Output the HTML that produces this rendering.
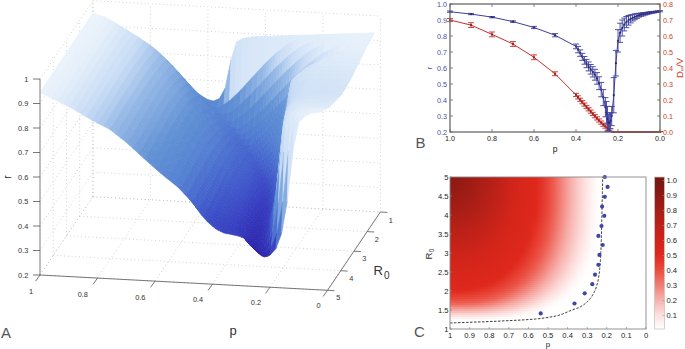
<!DOCTYPE html>
<html><head><meta charset="utf-8"><style>
html,body{margin:0;padding:0;background:#fff;}
svg{display:block;}
#surf path{fill:currentColor;stroke:currentColor;stroke-width:.7px;stroke-linejoin:round}
text{font-family:"Liberation Sans",sans-serif;}
.tk{font-size:7.4px;fill:#333;}
.tb{font-size:7.2px;}
.tc{font-size:7.6px;fill:#222;}
.lab{font-size:15px;fill:#555;}
</style></head><body>
<svg width="685" height="349" viewBox="0 0 685 349">
<defs><linearGradient id="h0" x1="0" x2="1" y1="0" y2="0"><stop offset="0" stop-color="#8a1912"/><stop offset="0.0312" stop-color="#8f1a13"/><stop offset="0.0625" stop-color="#951b14"/><stop offset="0.0938" stop-color="#9b1c15"/><stop offset="0.125" stop-color="#a11d15"/><stop offset="0.156" stop-color="#a91e16"/><stop offset="0.188" stop-color="#b01f17"/><stop offset="0.219" stop-color="#b72018"/><stop offset="0.25" stop-color="#be2118"/><stop offset="0.281" stop-color="#c62319"/><stop offset="0.312" stop-color="#cf241a"/><stop offset="0.344" stop-color="#d5251b"/><stop offset="0.375" stop-color="#d8261b"/><stop offset="0.406" stop-color="#dc271b"/><stop offset="0.438" stop-color="#df281c"/><stop offset="0.469" stop-color="#e33327"/><stop offset="0.5" stop-color="#e84639"/><stop offset="0.531" stop-color="#ed5e52"/><stop offset="0.562" stop-color="#f17c72"/><stop offset="0.594" stop-color="#f59b93"/><stop offset="0.625" stop-color="#f8b6b2"/><stop offset="0.656" stop-color="#faccc9"/><stop offset="0.688" stop-color="#fce1df"/><stop offset="0.719" stop-color="#fef0f0"/><stop offset="0.75" stop-color="#fffcfc"/><stop offset="0.781" stop-color="#ffffff"/><stop offset="0.812" stop-color="#ffffff"/><stop offset="0.844" stop-color="#ffffff"/><stop offset="0.875" stop-color="#ffffff"/><stop offset="0.906" stop-color="#ffffff"/><stop offset="0.938" stop-color="#ffffff"/><stop offset="0.969" stop-color="#ffffff"/><stop offset="1" stop-color="#ffffff"/></linearGradient>
<linearGradient id="h1" x1="0" x2="1" y1="0" y2="0"><stop offset="0" stop-color="#8c1a13"/><stop offset="0.0312" stop-color="#901a13"/><stop offset="0.0625" stop-color="#951b14"/><stop offset="0.0938" stop-color="#9b1c15"/><stop offset="0.125" stop-color="#a11d15"/><stop offset="0.156" stop-color="#a91e16"/><stop offset="0.188" stop-color="#b01f17"/><stop offset="0.219" stop-color="#b72018"/><stop offset="0.25" stop-color="#be2118"/><stop offset="0.281" stop-color="#c62319"/><stop offset="0.312" stop-color="#cf241a"/><stop offset="0.344" stop-color="#d5251b"/><stop offset="0.375" stop-color="#d8261b"/><stop offset="0.406" stop-color="#dc271b"/><stop offset="0.438" stop-color="#df281c"/><stop offset="0.469" stop-color="#e33327"/><stop offset="0.5" stop-color="#e94639"/><stop offset="0.531" stop-color="#ed5e52"/><stop offset="0.562" stop-color="#f17c72"/><stop offset="0.594" stop-color="#f59b93"/><stop offset="0.625" stop-color="#f8b6b2"/><stop offset="0.656" stop-color="#faccc9"/><stop offset="0.688" stop-color="#fce1df"/><stop offset="0.719" stop-color="#fef0f0"/><stop offset="0.75" stop-color="#fffcfc"/><stop offset="0.781" stop-color="#ffffff"/><stop offset="0.812" stop-color="#ffffff"/><stop offset="0.844" stop-color="#ffffff"/><stop offset="0.875" stop-color="#ffffff"/><stop offset="0.906" stop-color="#ffffff"/><stop offset="0.938" stop-color="#ffffff"/><stop offset="0.969" stop-color="#ffffff"/><stop offset="1" stop-color="#ffffff"/></linearGradient>
<linearGradient id="h2" x1="0" x2="1" y1="0" y2="0"><stop offset="0" stop-color="#8d1a13"/><stop offset="0.0312" stop-color="#901a13"/><stop offset="0.0625" stop-color="#961b14"/><stop offset="0.0938" stop-color="#9c1c15"/><stop offset="0.125" stop-color="#a21d15"/><stop offset="0.156" stop-color="#a91e16"/><stop offset="0.188" stop-color="#b01f17"/><stop offset="0.219" stop-color="#b72018"/><stop offset="0.25" stop-color="#be2118"/><stop offset="0.281" stop-color="#c72319"/><stop offset="0.312" stop-color="#cf241a"/><stop offset="0.344" stop-color="#d5251b"/><stop offset="0.375" stop-color="#d8261b"/><stop offset="0.406" stop-color="#dc271b"/><stop offset="0.438" stop-color="#df281c"/><stop offset="0.469" stop-color="#e33327"/><stop offset="0.5" stop-color="#e94639"/><stop offset="0.531" stop-color="#ed5e52"/><stop offset="0.562" stop-color="#f17c72"/><stop offset="0.594" stop-color="#f59b93"/><stop offset="0.625" stop-color="#f8b6b2"/><stop offset="0.656" stop-color="#faccc9"/><stop offset="0.688" stop-color="#fce1df"/><stop offset="0.719" stop-color="#fef0f0"/><stop offset="0.75" stop-color="#fffcfc"/><stop offset="0.781" stop-color="#ffffff"/><stop offset="0.812" stop-color="#ffffff"/><stop offset="0.844" stop-color="#ffffff"/><stop offset="0.875" stop-color="#ffffff"/><stop offset="0.906" stop-color="#ffffff"/><stop offset="0.938" stop-color="#ffffff"/><stop offset="0.969" stop-color="#ffffff"/><stop offset="1" stop-color="#ffffff"/></linearGradient>
<linearGradient id="h3" x1="0" x2="1" y1="0" y2="0"><stop offset="0" stop-color="#8f1a13"/><stop offset="0.0312" stop-color="#911b13"/><stop offset="0.0625" stop-color="#961b14"/><stop offset="0.0938" stop-color="#9c1c15"/><stop offset="0.125" stop-color="#a21d16"/><stop offset="0.156" stop-color="#a91e16"/><stop offset="0.188" stop-color="#b01f17"/><stop offset="0.219" stop-color="#b72018"/><stop offset="0.25" stop-color="#bf2118"/><stop offset="0.281" stop-color="#c72319"/><stop offset="0.312" stop-color="#cf241a"/><stop offset="0.344" stop-color="#d5251b"/><stop offset="0.375" stop-color="#d8261b"/><stop offset="0.406" stop-color="#dc271b"/><stop offset="0.438" stop-color="#df281c"/><stop offset="0.469" stop-color="#e33327"/><stop offset="0.5" stop-color="#e94639"/><stop offset="0.531" stop-color="#ed5e52"/><stop offset="0.562" stop-color="#f17c72"/><stop offset="0.594" stop-color="#f59b93"/><stop offset="0.625" stop-color="#f8b6b2"/><stop offset="0.656" stop-color="#faccc9"/><stop offset="0.688" stop-color="#fce1df"/><stop offset="0.719" stop-color="#fef0f0"/><stop offset="0.75" stop-color="#fffcfc"/><stop offset="0.781" stop-color="#ffffff"/><stop offset="0.812" stop-color="#ffffff"/><stop offset="0.844" stop-color="#ffffff"/><stop offset="0.875" stop-color="#ffffff"/><stop offset="0.906" stop-color="#ffffff"/><stop offset="0.938" stop-color="#ffffff"/><stop offset="0.969" stop-color="#ffffff"/><stop offset="1" stop-color="#ffffff"/></linearGradient>
<linearGradient id="h4" x1="0" x2="1" y1="0" y2="0"><stop offset="0" stop-color="#911a13"/><stop offset="0.0312" stop-color="#931b14"/><stop offset="0.0625" stop-color="#971c14"/><stop offset="0.0938" stop-color="#9d1c15"/><stop offset="0.125" stop-color="#a31d16"/><stop offset="0.156" stop-color="#aa1f16"/><stop offset="0.188" stop-color="#b11f17"/><stop offset="0.219" stop-color="#b82018"/><stop offset="0.25" stop-color="#bf2118"/><stop offset="0.281" stop-color="#c72319"/><stop offset="0.312" stop-color="#cf241a"/><stop offset="0.344" stop-color="#d5251b"/><stop offset="0.375" stop-color="#d8261b"/><stop offset="0.406" stop-color="#dc271b"/><stop offset="0.438" stop-color="#df281c"/><stop offset="0.469" stop-color="#e33327"/><stop offset="0.5" stop-color="#e94639"/><stop offset="0.531" stop-color="#ed5e52"/><stop offset="0.562" stop-color="#f17c72"/><stop offset="0.594" stop-color="#f59b94"/><stop offset="0.625" stop-color="#f8b6b2"/><stop offset="0.656" stop-color="#faccc9"/><stop offset="0.688" stop-color="#fce1df"/><stop offset="0.719" stop-color="#fef0f0"/><stop offset="0.75" stop-color="#fffcfc"/><stop offset="0.781" stop-color="#ffffff"/><stop offset="0.812" stop-color="#ffffff"/><stop offset="0.844" stop-color="#ffffff"/><stop offset="0.875" stop-color="#ffffff"/><stop offset="0.906" stop-color="#ffffff"/><stop offset="0.938" stop-color="#ffffff"/><stop offset="0.969" stop-color="#ffffff"/><stop offset="1" stop-color="#ffffff"/></linearGradient>
<linearGradient id="h5" x1="0" x2="1" y1="0" y2="0"><stop offset="0" stop-color="#921b14"/><stop offset="0.0312" stop-color="#941b14"/><stop offset="0.0625" stop-color="#981c14"/><stop offset="0.0938" stop-color="#9d1d15"/><stop offset="0.125" stop-color="#a31e16"/><stop offset="0.156" stop-color="#aa1f16"/><stop offset="0.188" stop-color="#b12017"/><stop offset="0.219" stop-color="#b82018"/><stop offset="0.25" stop-color="#bf2118"/><stop offset="0.281" stop-color="#c72319"/><stop offset="0.312" stop-color="#cf241a"/><stop offset="0.344" stop-color="#d5251b"/><stop offset="0.375" stop-color="#d8261b"/><stop offset="0.406" stop-color="#dc271b"/><stop offset="0.438" stop-color="#df281c"/><stop offset="0.469" stop-color="#e33327"/><stop offset="0.5" stop-color="#e94639"/><stop offset="0.531" stop-color="#ed5e52"/><stop offset="0.562" stop-color="#f17c72"/><stop offset="0.594" stop-color="#f59b94"/><stop offset="0.625" stop-color="#f8b6b2"/><stop offset="0.656" stop-color="#faccc9"/><stop offset="0.688" stop-color="#fce1df"/><stop offset="0.719" stop-color="#fef1f0"/><stop offset="0.75" stop-color="#fffcfc"/><stop offset="0.781" stop-color="#ffffff"/><stop offset="0.812" stop-color="#ffffff"/><stop offset="0.844" stop-color="#ffffff"/><stop offset="0.875" stop-color="#ffffff"/><stop offset="0.906" stop-color="#ffffff"/><stop offset="0.938" stop-color="#ffffff"/><stop offset="0.969" stop-color="#ffffff"/><stop offset="1" stop-color="#ffffff"/></linearGradient>
<linearGradient id="h6" x1="0" x2="1" y1="0" y2="0"><stop offset="0" stop-color="#941b14"/><stop offset="0.0312" stop-color="#951b14"/><stop offset="0.0625" stop-color="#991c14"/><stop offset="0.0938" stop-color="#9e1d15"/><stop offset="0.125" stop-color="#a41e16"/><stop offset="0.156" stop-color="#ab1f16"/><stop offset="0.188" stop-color="#b22017"/><stop offset="0.219" stop-color="#b82118"/><stop offset="0.25" stop-color="#c02218"/><stop offset="0.281" stop-color="#c72319"/><stop offset="0.312" stop-color="#cf241a"/><stop offset="0.344" stop-color="#d5251b"/><stop offset="0.375" stop-color="#d9261b"/><stop offset="0.406" stop-color="#dc271b"/><stop offset="0.438" stop-color="#df281c"/><stop offset="0.469" stop-color="#e33427"/><stop offset="0.5" stop-color="#e94639"/><stop offset="0.531" stop-color="#ed5e53"/><stop offset="0.562" stop-color="#f17c72"/><stop offset="0.594" stop-color="#f59b94"/><stop offset="0.625" stop-color="#f8b6b2"/><stop offset="0.656" stop-color="#faccc9"/><stop offset="0.688" stop-color="#fce1df"/><stop offset="0.719" stop-color="#fef1f0"/><stop offset="0.75" stop-color="#fffcfc"/><stop offset="0.781" stop-color="#ffffff"/><stop offset="0.812" stop-color="#ffffff"/><stop offset="0.844" stop-color="#ffffff"/><stop offset="0.875" stop-color="#ffffff"/><stop offset="0.906" stop-color="#ffffff"/><stop offset="0.938" stop-color="#ffffff"/><stop offset="0.969" stop-color="#ffffff"/><stop offset="1" stop-color="#ffffff"/></linearGradient>
<linearGradient id="h7" x1="0" x2="1" y1="0" y2="0"><stop offset="0" stop-color="#951b14"/><stop offset="0.0312" stop-color="#971b14"/><stop offset="0.0625" stop-color="#9a1c15"/><stop offset="0.0938" stop-color="#9f1d15"/><stop offset="0.125" stop-color="#a51e16"/><stop offset="0.156" stop-color="#ac1f17"/><stop offset="0.188" stop-color="#b22017"/><stop offset="0.219" stop-color="#b92118"/><stop offset="0.25" stop-color="#c02218"/><stop offset="0.281" stop-color="#c82319"/><stop offset="0.312" stop-color="#d0241a"/><stop offset="0.344" stop-color="#d5251b"/><stop offset="0.375" stop-color="#d9261b"/><stop offset="0.406" stop-color="#dc271b"/><stop offset="0.438" stop-color="#df281c"/><stop offset="0.469" stop-color="#e33428"/><stop offset="0.5" stop-color="#e94639"/><stop offset="0.531" stop-color="#ed5f53"/><stop offset="0.562" stop-color="#f17c72"/><stop offset="0.594" stop-color="#f59b94"/><stop offset="0.625" stop-color="#f8b6b2"/><stop offset="0.656" stop-color="#faccc9"/><stop offset="0.688" stop-color="#fce1df"/><stop offset="0.719" stop-color="#fef1f0"/><stop offset="0.75" stop-color="#fffcfc"/><stop offset="0.781" stop-color="#ffffff"/><stop offset="0.812" stop-color="#ffffff"/><stop offset="0.844" stop-color="#ffffff"/><stop offset="0.875" stop-color="#ffffff"/><stop offset="0.906" stop-color="#ffffff"/><stop offset="0.938" stop-color="#ffffff"/><stop offset="0.969" stop-color="#ffffff"/><stop offset="1" stop-color="#ffffff"/></linearGradient>
<linearGradient id="h8" x1="0" x2="1" y1="0" y2="0"><stop offset="0" stop-color="#971c14"/><stop offset="0.0312" stop-color="#981c14"/><stop offset="0.0625" stop-color="#9c1c15"/><stop offset="0.0938" stop-color="#a01d15"/><stop offset="0.125" stop-color="#a61e16"/><stop offset="0.156" stop-color="#ac1f17"/><stop offset="0.188" stop-color="#b32017"/><stop offset="0.219" stop-color="#b92118"/><stop offset="0.25" stop-color="#c12218"/><stop offset="0.281" stop-color="#c82319"/><stop offset="0.312" stop-color="#d0241a"/><stop offset="0.344" stop-color="#d6251b"/><stop offset="0.375" stop-color="#d9261b"/><stop offset="0.406" stop-color="#dc271b"/><stop offset="0.438" stop-color="#df281c"/><stop offset="0.469" stop-color="#e33428"/><stop offset="0.5" stop-color="#e9463a"/><stop offset="0.531" stop-color="#ed5f53"/><stop offset="0.562" stop-color="#f17d72"/><stop offset="0.594" stop-color="#f59b94"/><stop offset="0.625" stop-color="#f8b7b2"/><stop offset="0.656" stop-color="#facdc9"/><stop offset="0.688" stop-color="#fce1df"/><stop offset="0.719" stop-color="#fef1f0"/><stop offset="0.75" stop-color="#fffcfc"/><stop offset="0.781" stop-color="#ffffff"/><stop offset="0.812" stop-color="#ffffff"/><stop offset="0.844" stop-color="#ffffff"/><stop offset="0.875" stop-color="#ffffff"/><stop offset="0.906" stop-color="#ffffff"/><stop offset="0.938" stop-color="#ffffff"/><stop offset="0.969" stop-color="#ffffff"/><stop offset="1" stop-color="#ffffff"/></linearGradient>
<linearGradient id="h9" x1="0" x2="1" y1="0" y2="0"><stop offset="0" stop-color="#991c14"/><stop offset="0.0312" stop-color="#9a1c14"/><stop offset="0.0625" stop-color="#9d1c15"/><stop offset="0.0938" stop-color="#a11d15"/><stop offset="0.125" stop-color="#a71e16"/><stop offset="0.156" stop-color="#ad1f17"/><stop offset="0.188" stop-color="#b42017"/><stop offset="0.219" stop-color="#ba2118"/><stop offset="0.25" stop-color="#c12219"/><stop offset="0.281" stop-color="#c92319"/><stop offset="0.312" stop-color="#d0241a"/><stop offset="0.344" stop-color="#d6251b"/><stop offset="0.375" stop-color="#d9261b"/><stop offset="0.406" stop-color="#dc271b"/><stop offset="0.438" stop-color="#df281c"/><stop offset="0.469" stop-color="#e43428"/><stop offset="0.5" stop-color="#e9473a"/><stop offset="0.531" stop-color="#ed5f53"/><stop offset="0.562" stop-color="#f17d73"/><stop offset="0.594" stop-color="#f59b94"/><stop offset="0.625" stop-color="#f8b7b2"/><stop offset="0.656" stop-color="#facdca"/><stop offset="0.688" stop-color="#fce1df"/><stop offset="0.719" stop-color="#fef1f0"/><stop offset="0.75" stop-color="#fffcfc"/><stop offset="0.781" stop-color="#ffffff"/><stop offset="0.812" stop-color="#ffffff"/><stop offset="0.844" stop-color="#ffffff"/><stop offset="0.875" stop-color="#ffffff"/><stop offset="0.906" stop-color="#ffffff"/><stop offset="0.938" stop-color="#ffffff"/><stop offset="0.969" stop-color="#ffffff"/><stop offset="1" stop-color="#ffffff"/></linearGradient>
<linearGradient id="h10" x1="0" x2="1" y1="0" y2="0"><stop offset="0" stop-color="#9a1c15"/><stop offset="0.0312" stop-color="#9b1c15"/><stop offset="0.0625" stop-color="#9e1d15"/><stop offset="0.0938" stop-color="#a21d16"/><stop offset="0.125" stop-color="#a81e16"/><stop offset="0.156" stop-color="#ae1f17"/><stop offset="0.188" stop-color="#b42017"/><stop offset="0.219" stop-color="#bb2118"/><stop offset="0.25" stop-color="#c22219"/><stop offset="0.281" stop-color="#c92319"/><stop offset="0.312" stop-color="#d1241a"/><stop offset="0.344" stop-color="#d6251b"/><stop offset="0.375" stop-color="#d9261b"/><stop offset="0.406" stop-color="#dc271b"/><stop offset="0.438" stop-color="#df281c"/><stop offset="0.469" stop-color="#e43528"/><stop offset="0.5" stop-color="#e9473a"/><stop offset="0.531" stop-color="#ed5f54"/><stop offset="0.562" stop-color="#f17d73"/><stop offset="0.594" stop-color="#f59b94"/><stop offset="0.625" stop-color="#f8b7b2"/><stop offset="0.656" stop-color="#facdca"/><stop offset="0.688" stop-color="#fce1df"/><stop offset="0.719" stop-color="#fef1f0"/><stop offset="0.75" stop-color="#fffcfc"/><stop offset="0.781" stop-color="#ffffff"/><stop offset="0.812" stop-color="#ffffff"/><stop offset="0.844" stop-color="#ffffff"/><stop offset="0.875" stop-color="#ffffff"/><stop offset="0.906" stop-color="#ffffff"/><stop offset="0.938" stop-color="#ffffff"/><stop offset="0.969" stop-color="#ffffff"/><stop offset="1" stop-color="#ffffff"/></linearGradient>
<linearGradient id="h11" x1="0" x2="1" y1="0" y2="0"><stop offset="0" stop-color="#9c1c15"/><stop offset="0.0312" stop-color="#9d1d15"/><stop offset="0.0625" stop-color="#a01d15"/><stop offset="0.0938" stop-color="#a41e16"/><stop offset="0.125" stop-color="#a91e16"/><stop offset="0.156" stop-color="#af1f17"/><stop offset="0.188" stop-color="#b52017"/><stop offset="0.219" stop-color="#bc2118"/><stop offset="0.25" stop-color="#c22219"/><stop offset="0.281" stop-color="#ca2319"/><stop offset="0.312" stop-color="#d1241a"/><stop offset="0.344" stop-color="#d6251b"/><stop offset="0.375" stop-color="#d9261b"/><stop offset="0.406" stop-color="#dc271c"/><stop offset="0.438" stop-color="#df281c"/><stop offset="0.469" stop-color="#e43529"/><stop offset="0.5" stop-color="#e9473a"/><stop offset="0.531" stop-color="#ed6054"/><stop offset="0.562" stop-color="#f17d73"/><stop offset="0.594" stop-color="#f59c95"/><stop offset="0.625" stop-color="#f8b7b3"/><stop offset="0.656" stop-color="#facdca"/><stop offset="0.688" stop-color="#fce1e0"/><stop offset="0.719" stop-color="#fef1f0"/><stop offset="0.75" stop-color="#fffcfc"/><stop offset="0.781" stop-color="#ffffff"/><stop offset="0.812" stop-color="#ffffff"/><stop offset="0.844" stop-color="#ffffff"/><stop offset="0.875" stop-color="#ffffff"/><stop offset="0.906" stop-color="#ffffff"/><stop offset="0.938" stop-color="#ffffff"/><stop offset="0.969" stop-color="#ffffff"/><stop offset="1" stop-color="#ffffff"/></linearGradient>
<linearGradient id="h12" x1="0" x2="1" y1="0" y2="0"><stop offset="0" stop-color="#9e1d15"/><stop offset="0.0312" stop-color="#9f1d15"/><stop offset="0.0625" stop-color="#a11d15"/><stop offset="0.0938" stop-color="#a51e16"/><stop offset="0.125" stop-color="#ab1f16"/><stop offset="0.156" stop-color="#b01f17"/><stop offset="0.188" stop-color="#b62017"/><stop offset="0.219" stop-color="#bc2118"/><stop offset="0.25" stop-color="#c32219"/><stop offset="0.281" stop-color="#ca2319"/><stop offset="0.312" stop-color="#d1241a"/><stop offset="0.344" stop-color="#d6261b"/><stop offset="0.375" stop-color="#d9261b"/><stop offset="0.406" stop-color="#dc271c"/><stop offset="0.438" stop-color="#df281c"/><stop offset="0.469" stop-color="#e43629"/><stop offset="0.5" stop-color="#e9483b"/><stop offset="0.531" stop-color="#ed6055"/><stop offset="0.562" stop-color="#f17e74"/><stop offset="0.594" stop-color="#f59c95"/><stop offset="0.625" stop-color="#f8b7b3"/><stop offset="0.656" stop-color="#facdca"/><stop offset="0.688" stop-color="#fce1e0"/><stop offset="0.719" stop-color="#fef1f0"/><stop offset="0.75" stop-color="#fffcfc"/><stop offset="0.781" stop-color="#ffffff"/><stop offset="0.812" stop-color="#ffffff"/><stop offset="0.844" stop-color="#ffffff"/><stop offset="0.875" stop-color="#ffffff"/><stop offset="0.906" stop-color="#ffffff"/><stop offset="0.938" stop-color="#ffffff"/><stop offset="0.969" stop-color="#ffffff"/><stop offset="1" stop-color="#ffffff"/></linearGradient>
<linearGradient id="h13" x1="0" x2="1" y1="0" y2="0"><stop offset="0" stop-color="#9f1d15"/><stop offset="0.0312" stop-color="#a01d15"/><stop offset="0.0625" stop-color="#a31d16"/><stop offset="0.0938" stop-color="#a71e16"/><stop offset="0.125" stop-color="#ac1f17"/><stop offset="0.156" stop-color="#b12017"/><stop offset="0.188" stop-color="#b72018"/><stop offset="0.219" stop-color="#bd2118"/><stop offset="0.25" stop-color="#c42219"/><stop offset="0.281" stop-color="#cb2319"/><stop offset="0.312" stop-color="#d2241a"/><stop offset="0.344" stop-color="#d6261b"/><stop offset="0.375" stop-color="#d9261b"/><stop offset="0.406" stop-color="#dc271c"/><stop offset="0.438" stop-color="#df281c"/><stop offset="0.469" stop-color="#e4362a"/><stop offset="0.5" stop-color="#e9483b"/><stop offset="0.531" stop-color="#ed6155"/><stop offset="0.562" stop-color="#f17e74"/><stop offset="0.594" stop-color="#f59c96"/><stop offset="0.625" stop-color="#f8b7b3"/><stop offset="0.656" stop-color="#facdca"/><stop offset="0.688" stop-color="#fce2e0"/><stop offset="0.719" stop-color="#fef1f0"/><stop offset="0.75" stop-color="#fffcfc"/><stop offset="0.781" stop-color="#ffffff"/><stop offset="0.812" stop-color="#ffffff"/><stop offset="0.844" stop-color="#ffffff"/><stop offset="0.875" stop-color="#ffffff"/><stop offset="0.906" stop-color="#ffffff"/><stop offset="0.938" stop-color="#ffffff"/><stop offset="0.969" stop-color="#ffffff"/><stop offset="1" stop-color="#ffffff"/></linearGradient>
<linearGradient id="h14" x1="0" x2="1" y1="0" y2="0"><stop offset="0" stop-color="#a11d15"/><stop offset="0.0312" stop-color="#a21d15"/><stop offset="0.0625" stop-color="#a51e16"/><stop offset="0.0938" stop-color="#a81e16"/><stop offset="0.125" stop-color="#ad1f17"/><stop offset="0.156" stop-color="#b22017"/><stop offset="0.188" stop-color="#b82018"/><stop offset="0.219" stop-color="#be2118"/><stop offset="0.25" stop-color="#c52219"/><stop offset="0.281" stop-color="#cb231a"/><stop offset="0.312" stop-color="#d2251a"/><stop offset="0.344" stop-color="#d6261b"/><stop offset="0.375" stop-color="#d9261b"/><stop offset="0.406" stop-color="#dc271c"/><stop offset="0.438" stop-color="#df281c"/><stop offset="0.469" stop-color="#e4372a"/><stop offset="0.5" stop-color="#e9493c"/><stop offset="0.531" stop-color="#ed6156"/><stop offset="0.562" stop-color="#f17f75"/><stop offset="0.594" stop-color="#f59d96"/><stop offset="0.625" stop-color="#f8b8b3"/><stop offset="0.656" stop-color="#faceca"/><stop offset="0.688" stop-color="#fce2e0"/><stop offset="0.719" stop-color="#fef1f0"/><stop offset="0.75" stop-color="#fffdfc"/><stop offset="0.781" stop-color="#ffffff"/><stop offset="0.812" stop-color="#ffffff"/><stop offset="0.844" stop-color="#ffffff"/><stop offset="0.875" stop-color="#ffffff"/><stop offset="0.906" stop-color="#ffffff"/><stop offset="0.938" stop-color="#ffffff"/><stop offset="0.969" stop-color="#ffffff"/><stop offset="1" stop-color="#ffffff"/></linearGradient>
<linearGradient id="h15" x1="0" x2="1" y1="0" y2="0"><stop offset="0" stop-color="#a31e16"/><stop offset="0.0312" stop-color="#a41e16"/><stop offset="0.0625" stop-color="#a61e16"/><stop offset="0.0938" stop-color="#aa1f16"/><stop offset="0.125" stop-color="#ae1f17"/><stop offset="0.156" stop-color="#b42017"/><stop offset="0.188" stop-color="#b92118"/><stop offset="0.219" stop-color="#bf2118"/><stop offset="0.25" stop-color="#c52219"/><stop offset="0.281" stop-color="#cc231a"/><stop offset="0.312" stop-color="#d2251a"/><stop offset="0.344" stop-color="#d7261b"/><stop offset="0.375" stop-color="#da261b"/><stop offset="0.406" stop-color="#dd271c"/><stop offset="0.438" stop-color="#e0281c"/><stop offset="0.469" stop-color="#e4372b"/><stop offset="0.5" stop-color="#e9493c"/><stop offset="0.531" stop-color="#ed6256"/><stop offset="0.562" stop-color="#f17f76"/><stop offset="0.594" stop-color="#f59d97"/><stop offset="0.625" stop-color="#f8b8b4"/><stop offset="0.656" stop-color="#facecb"/><stop offset="0.688" stop-color="#fce2e0"/><stop offset="0.719" stop-color="#fef1f0"/><stop offset="0.75" stop-color="#fffdfc"/><stop offset="0.781" stop-color="#ffffff"/><stop offset="0.812" stop-color="#ffffff"/><stop offset="0.844" stop-color="#ffffff"/><stop offset="0.875" stop-color="#ffffff"/><stop offset="0.906" stop-color="#ffffff"/><stop offset="0.938" stop-color="#ffffff"/><stop offset="0.969" stop-color="#ffffff"/><stop offset="1" stop-color="#ffffff"/></linearGradient>
<linearGradient id="h16" x1="0" x2="1" y1="0" y2="0"><stop offset="0" stop-color="#a51e16"/><stop offset="0.0312" stop-color="#a61e16"/><stop offset="0.0625" stop-color="#a81e16"/><stop offset="0.0938" stop-color="#ac1f17"/><stop offset="0.125" stop-color="#b01f17"/><stop offset="0.156" stop-color="#b52017"/><stop offset="0.188" stop-color="#ba2118"/><stop offset="0.219" stop-color="#c02218"/><stop offset="0.25" stop-color="#c62319"/><stop offset="0.281" stop-color="#cd241a"/><stop offset="0.312" stop-color="#d3251a"/><stop offset="0.344" stop-color="#d7261b"/><stop offset="0.375" stop-color="#da261b"/><stop offset="0.406" stop-color="#dd271c"/><stop offset="0.438" stop-color="#e0281c"/><stop offset="0.469" stop-color="#e5382c"/><stop offset="0.5" stop-color="#ea4a3d"/><stop offset="0.531" stop-color="#ed6357"/><stop offset="0.562" stop-color="#f18076"/><stop offset="0.594" stop-color="#f59e97"/><stop offset="0.625" stop-color="#f8b8b4"/><stop offset="0.656" stop-color="#facecb"/><stop offset="0.688" stop-color="#fce2e0"/><stop offset="0.719" stop-color="#fef1f1"/><stop offset="0.75" stop-color="#fffdfc"/><stop offset="0.781" stop-color="#ffffff"/><stop offset="0.812" stop-color="#ffffff"/><stop offset="0.844" stop-color="#ffffff"/><stop offset="0.875" stop-color="#ffffff"/><stop offset="0.906" stop-color="#ffffff"/><stop offset="0.938" stop-color="#ffffff"/><stop offset="0.969" stop-color="#ffffff"/><stop offset="1" stop-color="#ffffff"/></linearGradient>
<linearGradient id="h17" x1="0" x2="1" y1="0" y2="0"><stop offset="0" stop-color="#a71e16"/><stop offset="0.0312" stop-color="#a81e16"/><stop offset="0.0625" stop-color="#aa1f16"/><stop offset="0.0938" stop-color="#ad1f17"/><stop offset="0.125" stop-color="#b12017"/><stop offset="0.156" stop-color="#b62017"/><stop offset="0.188" stop-color="#bb2118"/><stop offset="0.219" stop-color="#c12218"/><stop offset="0.25" stop-color="#c72319"/><stop offset="0.281" stop-color="#cd241a"/><stop offset="0.312" stop-color="#d3251a"/><stop offset="0.344" stop-color="#d7261b"/><stop offset="0.375" stop-color="#da261b"/><stop offset="0.406" stop-color="#dd271c"/><stop offset="0.438" stop-color="#e0281c"/><stop offset="0.469" stop-color="#e5392c"/><stop offset="0.5" stop-color="#ea4a3d"/><stop offset="0.531" stop-color="#ed6358"/><stop offset="0.562" stop-color="#f18177"/><stop offset="0.594" stop-color="#f59f98"/><stop offset="0.625" stop-color="#f8b9b4"/><stop offset="0.656" stop-color="#facecb"/><stop offset="0.688" stop-color="#fce2e1"/><stop offset="0.719" stop-color="#fef2f1"/><stop offset="0.75" stop-color="#fffdfd"/><stop offset="0.781" stop-color="#ffffff"/><stop offset="0.812" stop-color="#ffffff"/><stop offset="0.844" stop-color="#ffffff"/><stop offset="0.875" stop-color="#ffffff"/><stop offset="0.906" stop-color="#ffffff"/><stop offset="0.938" stop-color="#ffffff"/><stop offset="0.969" stop-color="#ffffff"/><stop offset="1" stop-color="#ffffff"/></linearGradient>
<linearGradient id="h18" x1="0" x2="1" y1="0" y2="0"><stop offset="0" stop-color="#a91e16"/><stop offset="0.0312" stop-color="#aa1f16"/><stop offset="0.0625" stop-color="#ac1f17"/><stop offset="0.0938" stop-color="#af1f17"/><stop offset="0.125" stop-color="#b32017"/><stop offset="0.156" stop-color="#b72018"/><stop offset="0.188" stop-color="#bd2118"/><stop offset="0.219" stop-color="#c22219"/><stop offset="0.25" stop-color="#c82319"/><stop offset="0.281" stop-color="#ce241a"/><stop offset="0.312" stop-color="#d4251a"/><stop offset="0.344" stop-color="#d7261b"/><stop offset="0.375" stop-color="#da271b"/><stop offset="0.406" stop-color="#dd271c"/><stop offset="0.438" stop-color="#e0281c"/><stop offset="0.469" stop-color="#e53a2d"/><stop offset="0.5" stop-color="#ea4b3e"/><stop offset="0.531" stop-color="#ee6459"/><stop offset="0.562" stop-color="#f28278"/><stop offset="0.594" stop-color="#f59f99"/><stop offset="0.625" stop-color="#f8b9b5"/><stop offset="0.656" stop-color="#facfcc"/><stop offset="0.688" stop-color="#fce3e1"/><stop offset="0.719" stop-color="#fef2f1"/><stop offset="0.75" stop-color="#fffdfd"/><stop offset="0.781" stop-color="#ffffff"/><stop offset="0.812" stop-color="#ffffff"/><stop offset="0.844" stop-color="#ffffff"/><stop offset="0.875" stop-color="#ffffff"/><stop offset="0.906" stop-color="#ffffff"/><stop offset="0.938" stop-color="#ffffff"/><stop offset="0.969" stop-color="#ffffff"/><stop offset="1" stop-color="#ffffff"/></linearGradient>
<linearGradient id="h19" x1="0" x2="1" y1="0" y2="0"><stop offset="0" stop-color="#ab1f16"/><stop offset="0.0312" stop-color="#ac1f17"/><stop offset="0.0625" stop-color="#ad1f17"/><stop offset="0.0938" stop-color="#b01f17"/><stop offset="0.125" stop-color="#b42017"/><stop offset="0.156" stop-color="#b92118"/><stop offset="0.188" stop-color="#be2118"/><stop offset="0.219" stop-color="#c32219"/><stop offset="0.25" stop-color="#c92319"/><stop offset="0.281" stop-color="#cf241a"/><stop offset="0.312" stop-color="#d4251b"/><stop offset="0.344" stop-color="#d7261b"/><stop offset="0.375" stop-color="#da271b"/><stop offset="0.406" stop-color="#dd271c"/><stop offset="0.438" stop-color="#e0291d"/><stop offset="0.469" stop-color="#e53a2e"/><stop offset="0.5" stop-color="#ea4c3f"/><stop offset="0.531" stop-color="#ee655a"/><stop offset="0.562" stop-color="#f28379"/><stop offset="0.594" stop-color="#f5a09a"/><stop offset="0.625" stop-color="#f8bab5"/><stop offset="0.656" stop-color="#facfcc"/><stop offset="0.688" stop-color="#fce3e1"/><stop offset="0.719" stop-color="#fef2f1"/><stop offset="0.75" stop-color="#fffdfd"/><stop offset="0.781" stop-color="#ffffff"/><stop offset="0.812" stop-color="#ffffff"/><stop offset="0.844" stop-color="#ffffff"/><stop offset="0.875" stop-color="#ffffff"/><stop offset="0.906" stop-color="#ffffff"/><stop offset="0.938" stop-color="#ffffff"/><stop offset="0.969" stop-color="#ffffff"/><stop offset="1" stop-color="#ffffff"/></linearGradient>
<linearGradient id="h20" x1="0" x2="1" y1="0" y2="0"><stop offset="0" stop-color="#ad1f17"/><stop offset="0.0312" stop-color="#ad1f17"/><stop offset="0.0625" stop-color="#af1f17"/><stop offset="0.0938" stop-color="#b22017"/><stop offset="0.125" stop-color="#b62017"/><stop offset="0.156" stop-color="#ba2118"/><stop offset="0.188" stop-color="#bf2118"/><stop offset="0.219" stop-color="#c42219"/><stop offset="0.25" stop-color="#ca2319"/><stop offset="0.281" stop-color="#d0241a"/><stop offset="0.312" stop-color="#d5251b"/><stop offset="0.344" stop-color="#d8261b"/><stop offset="0.375" stop-color="#db271b"/><stop offset="0.406" stop-color="#dd271c"/><stop offset="0.438" stop-color="#e12a1e"/><stop offset="0.469" stop-color="#e63b2f"/><stop offset="0.5" stop-color="#ea4d40"/><stop offset="0.531" stop-color="#ee665b"/><stop offset="0.562" stop-color="#f2847a"/><stop offset="0.594" stop-color="#f5a19b"/><stop offset="0.625" stop-color="#f8bab6"/><stop offset="0.656" stop-color="#fad0cd"/><stop offset="0.688" stop-color="#fce3e2"/><stop offset="0.719" stop-color="#fef2f2"/><stop offset="0.75" stop-color="#fffdfd"/><stop offset="0.781" stop-color="#ffffff"/><stop offset="0.812" stop-color="#ffffff"/><stop offset="0.844" stop-color="#ffffff"/><stop offset="0.875" stop-color="#ffffff"/><stop offset="0.906" stop-color="#ffffff"/><stop offset="0.938" stop-color="#ffffff"/><stop offset="0.969" stop-color="#ffffff"/><stop offset="1" stop-color="#ffffff"/></linearGradient>
<linearGradient id="h21" x1="0" x2="1" y1="0" y2="0"><stop offset="0" stop-color="#af1f17"/><stop offset="0.0312" stop-color="#af1f17"/><stop offset="0.0625" stop-color="#b12017"/><stop offset="0.0938" stop-color="#b42017"/><stop offset="0.125" stop-color="#b72018"/><stop offset="0.156" stop-color="#bc2118"/><stop offset="0.188" stop-color="#c02218"/><stop offset="0.219" stop-color="#c52219"/><stop offset="0.25" stop-color="#cb2319"/><stop offset="0.281" stop-color="#d0241a"/><stop offset="0.312" stop-color="#d5251b"/><stop offset="0.344" stop-color="#d8261b"/><stop offset="0.375" stop-color="#db271b"/><stop offset="0.406" stop-color="#de271c"/><stop offset="0.438" stop-color="#e12b1f"/><stop offset="0.469" stop-color="#e63c30"/><stop offset="0.5" stop-color="#ea4e42"/><stop offset="0.531" stop-color="#ee685c"/><stop offset="0.562" stop-color="#f2857b"/><stop offset="0.594" stop-color="#f5a29c"/><stop offset="0.625" stop-color="#f8bbb7"/><stop offset="0.656" stop-color="#fbd0ce"/><stop offset="0.688" stop-color="#fde4e2"/><stop offset="0.719" stop-color="#fef3f2"/><stop offset="0.75" stop-color="#fffdfd"/><stop offset="0.781" stop-color="#ffffff"/><stop offset="0.812" stop-color="#ffffff"/><stop offset="0.844" stop-color="#ffffff"/><stop offset="0.875" stop-color="#ffffff"/><stop offset="0.906" stop-color="#ffffff"/><stop offset="0.938" stop-color="#ffffff"/><stop offset="0.969" stop-color="#ffffff"/><stop offset="1" stop-color="#ffffff"/></linearGradient>
<linearGradient id="h22" x1="0" x2="1" y1="0" y2="0"><stop offset="0" stop-color="#b11f17"/><stop offset="0.0312" stop-color="#b12017"/><stop offset="0.0625" stop-color="#b32017"/><stop offset="0.0938" stop-color="#b62017"/><stop offset="0.125" stop-color="#b92118"/><stop offset="0.156" stop-color="#bd2118"/><stop offset="0.188" stop-color="#c12219"/><stop offset="0.219" stop-color="#c62319"/><stop offset="0.25" stop-color="#cb231a"/><stop offset="0.281" stop-color="#d1241a"/><stop offset="0.312" stop-color="#d5251b"/><stop offset="0.344" stop-color="#d8261b"/><stop offset="0.375" stop-color="#db271b"/><stop offset="0.406" stop-color="#de271c"/><stop offset="0.438" stop-color="#e12c20"/><stop offset="0.469" stop-color="#e63d31"/><stop offset="0.5" stop-color="#eb5043"/><stop offset="0.531" stop-color="#ee695e"/><stop offset="0.562" stop-color="#f2867d"/><stop offset="0.594" stop-color="#f6a39d"/><stop offset="0.625" stop-color="#f8bcb7"/><stop offset="0.656" stop-color="#fbd1ce"/><stop offset="0.688" stop-color="#fde4e2"/><stop offset="0.719" stop-color="#fef3f2"/><stop offset="0.75" stop-color="#fffdfd"/><stop offset="0.781" stop-color="#ffffff"/><stop offset="0.812" stop-color="#ffffff"/><stop offset="0.844" stop-color="#ffffff"/><stop offset="0.875" stop-color="#ffffff"/><stop offset="0.906" stop-color="#ffffff"/><stop offset="0.938" stop-color="#ffffff"/><stop offset="0.969" stop-color="#ffffff"/><stop offset="1" stop-color="#ffffff"/></linearGradient>
<linearGradient id="h23" x1="0" x2="1" y1="0" y2="0"><stop offset="0" stop-color="#b32017"/><stop offset="0.0312" stop-color="#b32017"/><stop offset="0.0625" stop-color="#b52017"/><stop offset="0.0938" stop-color="#b72018"/><stop offset="0.125" stop-color="#bb2118"/><stop offset="0.156" stop-color="#be2118"/><stop offset="0.188" stop-color="#c22219"/><stop offset="0.219" stop-color="#c72319"/><stop offset="0.25" stop-color="#cc231a"/><stop offset="0.281" stop-color="#d2241a"/><stop offset="0.312" stop-color="#d6251b"/><stop offset="0.344" stop-color="#d9261b"/><stop offset="0.375" stop-color="#db271b"/><stop offset="0.406" stop-color="#de281c"/><stop offset="0.438" stop-color="#e22e22"/><stop offset="0.469" stop-color="#e63e32"/><stop offset="0.5" stop-color="#eb5144"/><stop offset="0.531" stop-color="#ee6a5f"/><stop offset="0.562" stop-color="#f2877e"/><stop offset="0.594" stop-color="#f6a49e"/><stop offset="0.625" stop-color="#f8bcb8"/><stop offset="0.656" stop-color="#fbd2cf"/><stop offset="0.688" stop-color="#fde4e3"/><stop offset="0.719" stop-color="#fef3f3"/><stop offset="0.75" stop-color="#fffdfd"/><stop offset="0.781" stop-color="#ffffff"/><stop offset="0.812" stop-color="#ffffff"/><stop offset="0.844" stop-color="#ffffff"/><stop offset="0.875" stop-color="#ffffff"/><stop offset="0.906" stop-color="#ffffff"/><stop offset="0.938" stop-color="#ffffff"/><stop offset="0.969" stop-color="#ffffff"/><stop offset="1" stop-color="#ffffff"/></linearGradient>
<linearGradient id="h24" x1="0" x2="1" y1="0" y2="0"><stop offset="0" stop-color="#b42017"/><stop offset="0.0312" stop-color="#b52017"/><stop offset="0.0625" stop-color="#b72018"/><stop offset="0.0938" stop-color="#b92118"/><stop offset="0.125" stop-color="#bc2118"/><stop offset="0.156" stop-color="#c02218"/><stop offset="0.188" stop-color="#c42219"/><stop offset="0.219" stop-color="#c82319"/><stop offset="0.25" stop-color="#cd241a"/><stop offset="0.281" stop-color="#d2251a"/><stop offset="0.312" stop-color="#d6261b"/><stop offset="0.344" stop-color="#d9261b"/><stop offset="0.375" stop-color="#dc271b"/><stop offset="0.406" stop-color="#de281c"/><stop offset="0.438" stop-color="#e22f23"/><stop offset="0.469" stop-color="#e73f33"/><stop offset="0.5" stop-color="#eb5346"/><stop offset="0.531" stop-color="#ef6c61"/><stop offset="0.562" stop-color="#f28880"/><stop offset="0.594" stop-color="#f6a59f"/><stop offset="0.625" stop-color="#f8bdb9"/><stop offset="0.656" stop-color="#fbd2d0"/><stop offset="0.688" stop-color="#fde5e3"/><stop offset="0.719" stop-color="#fef4f3"/><stop offset="0.75" stop-color="#fffefd"/><stop offset="0.781" stop-color="#ffffff"/><stop offset="0.812" stop-color="#ffffff"/><stop offset="0.844" stop-color="#ffffff"/><stop offset="0.875" stop-color="#ffffff"/><stop offset="0.906" stop-color="#ffffff"/><stop offset="0.938" stop-color="#ffffff"/><stop offset="0.969" stop-color="#ffffff"/><stop offset="1" stop-color="#ffffff"/></linearGradient>
<linearGradient id="h25" x1="0" x2="1" y1="0" y2="0"><stop offset="0" stop-color="#b62017"/><stop offset="0.0312" stop-color="#b72018"/><stop offset="0.0625" stop-color="#b82118"/><stop offset="0.0938" stop-color="#bb2118"/><stop offset="0.125" stop-color="#be2118"/><stop offset="0.156" stop-color="#c12218"/><stop offset="0.188" stop-color="#c52219"/><stop offset="0.219" stop-color="#c92319"/><stop offset="0.25" stop-color="#ce241a"/><stop offset="0.281" stop-color="#d3251a"/><stop offset="0.312" stop-color="#d6261b"/><stop offset="0.344" stop-color="#d9261b"/><stop offset="0.375" stop-color="#dc271b"/><stop offset="0.406" stop-color="#df281c"/><stop offset="0.438" stop-color="#e23024"/><stop offset="0.469" stop-color="#e74134"/><stop offset="0.5" stop-color="#eb5448"/><stop offset="0.531" stop-color="#ef6d63"/><stop offset="0.562" stop-color="#f38a81"/><stop offset="0.594" stop-color="#f6a6a1"/><stop offset="0.625" stop-color="#f9beba"/><stop offset="0.656" stop-color="#fbd3d0"/><stop offset="0.688" stop-color="#fde5e4"/><stop offset="0.719" stop-color="#fef4f4"/><stop offset="0.75" stop-color="#fffefe"/><stop offset="0.781" stop-color="#ffffff"/><stop offset="0.812" stop-color="#ffffff"/><stop offset="0.844" stop-color="#ffffff"/><stop offset="0.875" stop-color="#ffffff"/><stop offset="0.906" stop-color="#ffffff"/><stop offset="0.938" stop-color="#ffffff"/><stop offset="0.969" stop-color="#ffffff"/><stop offset="1" stop-color="#ffffff"/></linearGradient>
<linearGradient id="h26" x1="0" x2="1" y1="0" y2="0"><stop offset="0" stop-color="#b82018"/><stop offset="0.0312" stop-color="#b92118"/><stop offset="0.0625" stop-color="#ba2118"/><stop offset="0.0938" stop-color="#bc2118"/><stop offset="0.125" stop-color="#bf2118"/><stop offset="0.156" stop-color="#c22219"/><stop offset="0.188" stop-color="#c62319"/><stop offset="0.219" stop-color="#ca2319"/><stop offset="0.25" stop-color="#cf241a"/><stop offset="0.281" stop-color="#d4251a"/><stop offset="0.312" stop-color="#d7261b"/><stop offset="0.344" stop-color="#d9261b"/><stop offset="0.375" stop-color="#dc271c"/><stop offset="0.406" stop-color="#df281c"/><stop offset="0.438" stop-color="#e33225"/><stop offset="0.469" stop-color="#e74235"/><stop offset="0.5" stop-color="#eb5649"/><stop offset="0.531" stop-color="#ef6f64"/><stop offset="0.562" stop-color="#f38b83"/><stop offset="0.594" stop-color="#f6a8a2"/><stop offset="0.625" stop-color="#f9bfbb"/><stop offset="0.656" stop-color="#fbd4d1"/><stop offset="0.688" stop-color="#fde6e4"/><stop offset="0.719" stop-color="#fef5f4"/><stop offset="0.75" stop-color="#fffefe"/><stop offset="0.781" stop-color="#ffffff"/><stop offset="0.812" stop-color="#ffffff"/><stop offset="0.844" stop-color="#ffffff"/><stop offset="0.875" stop-color="#ffffff"/><stop offset="0.906" stop-color="#ffffff"/><stop offset="0.938" stop-color="#ffffff"/><stop offset="0.969" stop-color="#ffffff"/><stop offset="1" stop-color="#ffffff"/></linearGradient>
<linearGradient id="h27" x1="0" x2="1" y1="0" y2="0"><stop offset="0" stop-color="#ba2118"/><stop offset="0.0312" stop-color="#bb2118"/><stop offset="0.0625" stop-color="#bc2118"/><stop offset="0.0938" stop-color="#be2118"/><stop offset="0.125" stop-color="#c02218"/><stop offset="0.156" stop-color="#c32219"/><stop offset="0.188" stop-color="#c72319"/><stop offset="0.219" stop-color="#cc231a"/><stop offset="0.25" stop-color="#d0241a"/><stop offset="0.281" stop-color="#d5251b"/><stop offset="0.312" stop-color="#d7261b"/><stop offset="0.344" stop-color="#da261b"/><stop offset="0.375" stop-color="#dc271c"/><stop offset="0.406" stop-color="#df281c"/><stop offset="0.438" stop-color="#e33327"/><stop offset="0.469" stop-color="#e84337"/><stop offset="0.5" stop-color="#ec574b"/><stop offset="0.531" stop-color="#ef7166"/><stop offset="0.562" stop-color="#f38d85"/><stop offset="0.594" stop-color="#f6a9a4"/><stop offset="0.625" stop-color="#f9c0bc"/><stop offset="0.656" stop-color="#fbd5d2"/><stop offset="0.688" stop-color="#fde7e5"/><stop offset="0.719" stop-color="#fef5f5"/><stop offset="0.75" stop-color="#fffefe"/><stop offset="0.781" stop-color="#ffffff"/><stop offset="0.812" stop-color="#ffffff"/><stop offset="0.844" stop-color="#ffffff"/><stop offset="0.875" stop-color="#ffffff"/><stop offset="0.906" stop-color="#ffffff"/><stop offset="0.938" stop-color="#ffffff"/><stop offset="0.969" stop-color="#ffffff"/><stop offset="1" stop-color="#ffffff"/></linearGradient>
<linearGradient id="h28" x1="0" x2="1" y1="0" y2="0"><stop offset="0" stop-color="#bc2118"/><stop offset="0.0312" stop-color="#bc2118"/><stop offset="0.0625" stop-color="#be2118"/><stop offset="0.0938" stop-color="#bf2118"/><stop offset="0.125" stop-color="#c22219"/><stop offset="0.156" stop-color="#c52219"/><stop offset="0.188" stop-color="#c82319"/><stop offset="0.219" stop-color="#cd241a"/><stop offset="0.25" stop-color="#d1241a"/><stop offset="0.281" stop-color="#d5251b"/><stop offset="0.312" stop-color="#d8261b"/><stop offset="0.344" stop-color="#da271b"/><stop offset="0.375" stop-color="#dd271c"/><stop offset="0.406" stop-color="#df281c"/><stop offset="0.438" stop-color="#e43528"/><stop offset="0.469" stop-color="#e84538"/><stop offset="0.5" stop-color="#ec594d"/><stop offset="0.531" stop-color="#f07368"/><stop offset="0.562" stop-color="#f38f87"/><stop offset="0.594" stop-color="#f7aba6"/><stop offset="0.625" stop-color="#f9c1bd"/><stop offset="0.656" stop-color="#fbd6d3"/><stop offset="0.688" stop-color="#fde7e6"/><stop offset="0.719" stop-color="#fef6f6"/><stop offset="0.75" stop-color="#fffefe"/><stop offset="0.781" stop-color="#ffffff"/><stop offset="0.812" stop-color="#ffffff"/><stop offset="0.844" stop-color="#ffffff"/><stop offset="0.875" stop-color="#ffffff"/><stop offset="0.906" stop-color="#ffffff"/><stop offset="0.938" stop-color="#ffffff"/><stop offset="0.969" stop-color="#ffffff"/><stop offset="1" stop-color="#ffffff"/></linearGradient>
<linearGradient id="h29" x1="0" x2="1" y1="0" y2="0"><stop offset="0" stop-color="#be2118"/><stop offset="0.0312" stop-color="#be2118"/><stop offset="0.0625" stop-color="#bf2118"/><stop offset="0.0938" stop-color="#c12218"/><stop offset="0.125" stop-color="#c32219"/><stop offset="0.156" stop-color="#c62319"/><stop offset="0.188" stop-color="#ca2319"/><stop offset="0.219" stop-color="#ce241a"/><stop offset="0.25" stop-color="#d2241a"/><stop offset="0.281" stop-color="#d6251b"/><stop offset="0.312" stop-color="#d8261b"/><stop offset="0.344" stop-color="#db271b"/><stop offset="0.375" stop-color="#dd271c"/><stop offset="0.406" stop-color="#e0281c"/><stop offset="0.438" stop-color="#e4362a"/><stop offset="0.469" stop-color="#e94639"/><stop offset="0.5" stop-color="#ec5b4f"/><stop offset="0.531" stop-color="#f0756a"/><stop offset="0.562" stop-color="#f39189"/><stop offset="0.594" stop-color="#f7ada7"/><stop offset="0.625" stop-color="#f9c2be"/><stop offset="0.656" stop-color="#fbd7d5"/><stop offset="0.688" stop-color="#fde8e6"/><stop offset="0.719" stop-color="#fef7f6"/><stop offset="0.75" stop-color="#ffffff"/><stop offset="0.781" stop-color="#ffffff"/><stop offset="0.812" stop-color="#ffffff"/><stop offset="0.844" stop-color="#ffffff"/><stop offset="0.875" stop-color="#ffffff"/><stop offset="0.906" stop-color="#ffffff"/><stop offset="0.938" stop-color="#ffffff"/><stop offset="0.969" stop-color="#ffffff"/><stop offset="1" stop-color="#ffffff"/></linearGradient>
<linearGradient id="h30" x1="0" x2="1" y1="0" y2="0"><stop offset="0" stop-color="#bf2118"/><stop offset="0.0312" stop-color="#c02218"/><stop offset="0.0625" stop-color="#c12218"/><stop offset="0.0938" stop-color="#c22219"/><stop offset="0.125" stop-color="#c42219"/><stop offset="0.156" stop-color="#c72319"/><stop offset="0.188" stop-color="#cb2319"/><stop offset="0.219" stop-color="#cf241a"/><stop offset="0.25" stop-color="#d3251a"/><stop offset="0.281" stop-color="#d6261b"/><stop offset="0.312" stop-color="#d8261b"/><stop offset="0.344" stop-color="#db271b"/><stop offset="0.375" stop-color="#dd271c"/><stop offset="0.406" stop-color="#e0291d"/><stop offset="0.438" stop-color="#e5382c"/><stop offset="0.469" stop-color="#e9483b"/><stop offset="0.5" stop-color="#ed5d51"/><stop offset="0.531" stop-color="#f0776d"/><stop offset="0.562" stop-color="#f4938b"/><stop offset="0.594" stop-color="#f7aea9"/><stop offset="0.625" stop-color="#f9c3c0"/><stop offset="0.656" stop-color="#fbd8d6"/><stop offset="0.688" stop-color="#fde9e7"/><stop offset="0.719" stop-color="#fef7f7"/><stop offset="0.75" stop-color="#ffffff"/><stop offset="0.781" stop-color="#ffffff"/><stop offset="0.812" stop-color="#ffffff"/><stop offset="0.844" stop-color="#ffffff"/><stop offset="0.875" stop-color="#ffffff"/><stop offset="0.906" stop-color="#ffffff"/><stop offset="0.938" stop-color="#ffffff"/><stop offset="0.969" stop-color="#ffffff"/><stop offset="1" stop-color="#ffffff"/></linearGradient>
<linearGradient id="h31" x1="0" x2="1" y1="0" y2="0"><stop offset="0" stop-color="#c12218"/><stop offset="0.0312" stop-color="#c12219"/><stop offset="0.0625" stop-color="#c22219"/><stop offset="0.0938" stop-color="#c42219"/><stop offset="0.125" stop-color="#c62219"/><stop offset="0.156" stop-color="#c92319"/><stop offset="0.188" stop-color="#cc231a"/><stop offset="0.219" stop-color="#d0241a"/><stop offset="0.25" stop-color="#d4251a"/><stop offset="0.281" stop-color="#d6261b"/><stop offset="0.312" stop-color="#d9261b"/><stop offset="0.344" stop-color="#db271b"/><stop offset="0.375" stop-color="#de271c"/><stop offset="0.406" stop-color="#e12b1e"/><stop offset="0.438" stop-color="#e53a2d"/><stop offset="0.469" stop-color="#ea493c"/><stop offset="0.5" stop-color="#ed5f53"/><stop offset="0.531" stop-color="#f0796f"/><stop offset="0.562" stop-color="#f4958d"/><stop offset="0.594" stop-color="#f7b0ab"/><stop offset="0.625" stop-color="#f9c5c1"/><stop offset="0.656" stop-color="#fcd9d7"/><stop offset="0.688" stop-color="#fde9e8"/><stop offset="0.719" stop-color="#fef8f8"/><stop offset="0.75" stop-color="#ffffff"/><stop offset="0.781" stop-color="#ffffff"/><stop offset="0.812" stop-color="#ffffff"/><stop offset="0.844" stop-color="#ffffff"/><stop offset="0.875" stop-color="#ffffff"/><stop offset="0.906" stop-color="#ffffff"/><stop offset="0.938" stop-color="#ffffff"/><stop offset="0.969" stop-color="#ffffff"/><stop offset="1" stop-color="#ffffff"/></linearGradient>
<linearGradient id="h32" x1="0" x2="1" y1="0" y2="0"><stop offset="0" stop-color="#c22219"/><stop offset="0.0312" stop-color="#c32219"/><stop offset="0.0625" stop-color="#c42219"/><stop offset="0.0938" stop-color="#c52219"/><stop offset="0.125" stop-color="#c72319"/><stop offset="0.156" stop-color="#ca2319"/><stop offset="0.188" stop-color="#cd241a"/><stop offset="0.219" stop-color="#d1241a"/><stop offset="0.25" stop-color="#d5251b"/><stop offset="0.281" stop-color="#d7261b"/><stop offset="0.312" stop-color="#d9261b"/><stop offset="0.344" stop-color="#dc271b"/><stop offset="0.375" stop-color="#de281c"/><stop offset="0.406" stop-color="#e12d20"/><stop offset="0.438" stop-color="#e63c2f"/><stop offset="0.469" stop-color="#ea4b3e"/><stop offset="0.5" stop-color="#ed6156"/><stop offset="0.531" stop-color="#f17c72"/><stop offset="0.562" stop-color="#f4978f"/><stop offset="0.594" stop-color="#f7b1ad"/><stop offset="0.625" stop-color="#f9c6c3"/><stop offset="0.656" stop-color="#fcdbd9"/><stop offset="0.688" stop-color="#fdeae9"/><stop offset="0.719" stop-color="#fef9f8"/><stop offset="0.75" stop-color="#ffffff"/><stop offset="0.781" stop-color="#ffffff"/><stop offset="0.812" stop-color="#ffffff"/><stop offset="0.844" stop-color="#ffffff"/><stop offset="0.875" stop-color="#ffffff"/><stop offset="0.906" stop-color="#ffffff"/><stop offset="0.938" stop-color="#ffffff"/><stop offset="0.969" stop-color="#ffffff"/><stop offset="1" stop-color="#ffffff"/></linearGradient>
<linearGradient id="h33" x1="0" x2="1" y1="0" y2="0"><stop offset="0" stop-color="#c42219"/><stop offset="0.0312" stop-color="#c42219"/><stop offset="0.0625" stop-color="#c52219"/><stop offset="0.0938" stop-color="#c72319"/><stop offset="0.125" stop-color="#c92319"/><stop offset="0.156" stop-color="#cb231a"/><stop offset="0.188" stop-color="#cf241a"/><stop offset="0.219" stop-color="#d2241a"/><stop offset="0.25" stop-color="#d5251b"/><stop offset="0.281" stop-color="#d7261b"/><stop offset="0.312" stop-color="#da261b"/><stop offset="0.344" stop-color="#dc271c"/><stop offset="0.375" stop-color="#df281c"/><stop offset="0.406" stop-color="#e22f22"/><stop offset="0.438" stop-color="#e63e31"/><stop offset="0.469" stop-color="#ea4e41"/><stop offset="0.5" stop-color="#ed6458"/><stop offset="0.531" stop-color="#f17e74"/><stop offset="0.562" stop-color="#f49992"/><stop offset="0.594" stop-color="#f7b3ae"/><stop offset="0.625" stop-color="#fac8c4"/><stop offset="0.656" stop-color="#fcdcda"/><stop offset="0.688" stop-color="#fdebea"/><stop offset="0.719" stop-color="#fef9f9"/><stop offset="0.75" stop-color="#ffffff"/><stop offset="0.781" stop-color="#ffffff"/><stop offset="0.812" stop-color="#ffffff"/><stop offset="0.844" stop-color="#ffffff"/><stop offset="0.875" stop-color="#ffffff"/><stop offset="0.906" stop-color="#ffffff"/><stop offset="0.938" stop-color="#ffffff"/><stop offset="0.969" stop-color="#ffffff"/><stop offset="1" stop-color="#ffffff"/></linearGradient>
<linearGradient id="h34" x1="0" x2="1" y1="0" y2="0"><stop offset="0" stop-color="#c52219"/><stop offset="0.0312" stop-color="#c62219"/><stop offset="0.0625" stop-color="#c72319"/><stop offset="0.0938" stop-color="#c82319"/><stop offset="0.125" stop-color="#ca2319"/><stop offset="0.156" stop-color="#cd241a"/><stop offset="0.188" stop-color="#d0241a"/><stop offset="0.219" stop-color="#d3251a"/><stop offset="0.25" stop-color="#d6251b"/><stop offset="0.281" stop-color="#d8261b"/><stop offset="0.312" stop-color="#da271b"/><stop offset="0.344" stop-color="#dd271c"/><stop offset="0.375" stop-color="#df281c"/><stop offset="0.406" stop-color="#e23124"/><stop offset="0.438" stop-color="#e73f33"/><stop offset="0.469" stop-color="#eb5043"/><stop offset="0.5" stop-color="#ee665b"/><stop offset="0.531" stop-color="#f18177"/><stop offset="0.562" stop-color="#f59c95"/><stop offset="0.594" stop-color="#f8b5b0"/><stop offset="0.625" stop-color="#fac9c6"/><stop offset="0.656" stop-color="#fcdedc"/><stop offset="0.688" stop-color="#fdeceb"/><stop offset="0.719" stop-color="#fef9f9"/><stop offset="0.75" stop-color="#ffffff"/><stop offset="0.781" stop-color="#ffffff"/><stop offset="0.812" stop-color="#ffffff"/><stop offset="0.844" stop-color="#ffffff"/><stop offset="0.875" stop-color="#ffffff"/><stop offset="0.906" stop-color="#ffffff"/><stop offset="0.938" stop-color="#ffffff"/><stop offset="0.969" stop-color="#ffffff"/><stop offset="1" stop-color="#ffffff"/></linearGradient>
<linearGradient id="h35" x1="0" x2="1" y1="0" y2="0"><stop offset="0" stop-color="#c72319"/><stop offset="0.0312" stop-color="#c72319"/><stop offset="0.0625" stop-color="#c82319"/><stop offset="0.0938" stop-color="#c92319"/><stop offset="0.125" stop-color="#cb231a"/><stop offset="0.156" stop-color="#ce241a"/><stop offset="0.188" stop-color="#d1241a"/><stop offset="0.219" stop-color="#d4251a"/><stop offset="0.25" stop-color="#d6261b"/><stop offset="0.281" stop-color="#d8261b"/><stop offset="0.312" stop-color="#db271b"/><stop offset="0.344" stop-color="#dd271c"/><stop offset="0.375" stop-color="#df281c"/><stop offset="0.406" stop-color="#e33327"/><stop offset="0.438" stop-color="#e74235"/><stop offset="0.469" stop-color="#eb5346"/><stop offset="0.5" stop-color="#ee695e"/><stop offset="0.531" stop-color="#f2847a"/><stop offset="0.562" stop-color="#f59e97"/><stop offset="0.594" stop-color="#f8b7b2"/><stop offset="0.625" stop-color="#facbc8"/><stop offset="0.656" stop-color="#fcdfdd"/><stop offset="0.688" stop-color="#fdedec"/><stop offset="0.719" stop-color="#fffafa"/><stop offset="0.75" stop-color="#ffffff"/><stop offset="0.781" stop-color="#ffffff"/><stop offset="0.812" stop-color="#ffffff"/><stop offset="0.844" stop-color="#ffffff"/><stop offset="0.875" stop-color="#ffffff"/><stop offset="0.906" stop-color="#ffffff"/><stop offset="0.938" stop-color="#ffffff"/><stop offset="0.969" stop-color="#ffffff"/><stop offset="1" stop-color="#ffffff"/></linearGradient>
<linearGradient id="h36" x1="0" x2="1" y1="0" y2="0"><stop offset="0" stop-color="#c82319"/><stop offset="0.0312" stop-color="#c92319"/><stop offset="0.0625" stop-color="#ca2319"/><stop offset="0.0938" stop-color="#cb2319"/><stop offset="0.125" stop-color="#cd241a"/><stop offset="0.156" stop-color="#cf241a"/><stop offset="0.188" stop-color="#d2251a"/><stop offset="0.219" stop-color="#d5251b"/><stop offset="0.25" stop-color="#d7261b"/><stop offset="0.281" stop-color="#d9261b"/><stop offset="0.312" stop-color="#db271b"/><stop offset="0.344" stop-color="#dd271c"/><stop offset="0.375" stop-color="#e0281c"/><stop offset="0.406" stop-color="#e43529"/><stop offset="0.438" stop-color="#e84437"/><stop offset="0.469" stop-color="#eb5649"/><stop offset="0.5" stop-color="#ef6c61"/><stop offset="0.531" stop-color="#f2867d"/><stop offset="0.562" stop-color="#f5a19a"/><stop offset="0.594" stop-color="#f8b8b4"/><stop offset="0.625" stop-color="#facdca"/><stop offset="0.656" stop-color="#fce0de"/><stop offset="0.688" stop-color="#fdeeed"/><stop offset="0.719" stop-color="#fffafa"/><stop offset="0.75" stop-color="#ffffff"/><stop offset="0.781" stop-color="#ffffff"/><stop offset="0.812" stop-color="#ffffff"/><stop offset="0.844" stop-color="#ffffff"/><stop offset="0.875" stop-color="#ffffff"/><stop offset="0.906" stop-color="#ffffff"/><stop offset="0.938" stop-color="#ffffff"/><stop offset="0.969" stop-color="#ffffff"/><stop offset="1" stop-color="#ffffff"/></linearGradient>
<linearGradient id="h37" x1="0" x2="1" y1="0" y2="0"><stop offset="0" stop-color="#ca2319"/><stop offset="0.0312" stop-color="#ca2319"/><stop offset="0.0625" stop-color="#cb231a"/><stop offset="0.0938" stop-color="#cc231a"/><stop offset="0.125" stop-color="#ce241a"/><stop offset="0.156" stop-color="#d1241a"/><stop offset="0.188" stop-color="#d3251a"/><stop offset="0.219" stop-color="#d5251b"/><stop offset="0.25" stop-color="#d7261b"/><stop offset="0.281" stop-color="#d9261b"/><stop offset="0.312" stop-color="#dc271b"/><stop offset="0.344" stop-color="#de271c"/><stop offset="0.375" stop-color="#e0291d"/><stop offset="0.406" stop-color="#e4372b"/><stop offset="0.438" stop-color="#e94639"/><stop offset="0.469" stop-color="#ec584c"/><stop offset="0.5" stop-color="#ef7065"/><stop offset="0.531" stop-color="#f28981"/><stop offset="0.562" stop-color="#f6a49e"/><stop offset="0.594" stop-color="#f8bab6"/><stop offset="0.625" stop-color="#facfcc"/><stop offset="0.656" stop-color="#fce1e0"/><stop offset="0.688" stop-color="#fef0ef"/><stop offset="0.719" stop-color="#fffbfa"/><stop offset="0.75" stop-color="#ffffff"/><stop offset="0.781" stop-color="#ffffff"/><stop offset="0.812" stop-color="#ffffff"/><stop offset="0.844" stop-color="#ffffff"/><stop offset="0.875" stop-color="#ffffff"/><stop offset="0.906" stop-color="#ffffff"/><stop offset="0.938" stop-color="#ffffff"/><stop offset="0.969" stop-color="#ffffff"/><stop offset="1" stop-color="#ffffff"/></linearGradient>
<linearGradient id="h38" x1="0" x2="1" y1="0" y2="0"><stop offset="0" stop-color="#cc231a"/><stop offset="0.0312" stop-color="#cc231a"/><stop offset="0.0625" stop-color="#cd231a"/><stop offset="0.0938" stop-color="#ce241a"/><stop offset="0.125" stop-color="#d0241a"/><stop offset="0.156" stop-color="#d2241a"/><stop offset="0.188" stop-color="#d4251b"/><stop offset="0.219" stop-color="#d6261b"/><stop offset="0.25" stop-color="#d8261b"/><stop offset="0.281" stop-color="#da271b"/><stop offset="0.312" stop-color="#dc271c"/><stop offset="0.344" stop-color="#de281c"/><stop offset="0.375" stop-color="#e12c20"/><stop offset="0.406" stop-color="#e53a2d"/><stop offset="0.438" stop-color="#e9483b"/><stop offset="0.469" stop-color="#ec5b4f"/><stop offset="0.5" stop-color="#f07368"/><stop offset="0.531" stop-color="#f38d84"/><stop offset="0.562" stop-color="#f6a7a1"/><stop offset="0.594" stop-color="#f8bdb8"/><stop offset="0.625" stop-color="#fbd1ce"/><stop offset="0.656" stop-color="#fce3e1"/><stop offset="0.688" stop-color="#fef1f0"/><stop offset="0.719" stop-color="#fffbfb"/><stop offset="0.75" stop-color="#ffffff"/><stop offset="0.781" stop-color="#ffffff"/><stop offset="0.812" stop-color="#ffffff"/><stop offset="0.844" stop-color="#ffffff"/><stop offset="0.875" stop-color="#ffffff"/><stop offset="0.906" stop-color="#ffffff"/><stop offset="0.938" stop-color="#ffffff"/><stop offset="0.969" stop-color="#ffffff"/><stop offset="1" stop-color="#ffffff"/></linearGradient>
<linearGradient id="h39" x1="0" x2="1" y1="0" y2="0"><stop offset="0" stop-color="#cd241a"/><stop offset="0.0312" stop-color="#cd241a"/><stop offset="0.0625" stop-color="#ce241a"/><stop offset="0.0938" stop-color="#cf241a"/><stop offset="0.125" stop-color="#d1241a"/><stop offset="0.156" stop-color="#d3251a"/><stop offset="0.188" stop-color="#d5251b"/><stop offset="0.219" stop-color="#d7261b"/><stop offset="0.25" stop-color="#d9261b"/><stop offset="0.281" stop-color="#db271b"/><stop offset="0.312" stop-color="#dd271c"/><stop offset="0.344" stop-color="#df281c"/><stop offset="0.375" stop-color="#e22f22"/><stop offset="0.406" stop-color="#e63c30"/><stop offset="0.438" stop-color="#ea4a3d"/><stop offset="0.469" stop-color="#ed5e53"/><stop offset="0.5" stop-color="#f0766c"/><stop offset="0.531" stop-color="#f39088"/><stop offset="0.562" stop-color="#f6aaa4"/><stop offset="0.594" stop-color="#f9bfbb"/><stop offset="0.625" stop-color="#fbd3d0"/><stop offset="0.656" stop-color="#fde4e3"/><stop offset="0.688" stop-color="#fef2f1"/><stop offset="0.719" stop-color="#fffcfc"/><stop offset="0.75" stop-color="#ffffff"/><stop offset="0.781" stop-color="#ffffff"/><stop offset="0.812" stop-color="#ffffff"/><stop offset="0.844" stop-color="#ffffff"/><stop offset="0.875" stop-color="#ffffff"/><stop offset="0.906" stop-color="#ffffff"/><stop offset="0.938" stop-color="#ffffff"/><stop offset="0.969" stop-color="#ffffff"/><stop offset="1" stop-color="#ffffff"/></linearGradient>
<linearGradient id="h40" x1="0" x2="1" y1="0" y2="0"><stop offset="0" stop-color="#cf241a"/><stop offset="0.0312" stop-color="#cf241a"/><stop offset="0.0625" stop-color="#d0241a"/><stop offset="0.0938" stop-color="#d1241a"/><stop offset="0.125" stop-color="#d2251a"/><stop offset="0.156" stop-color="#d4251a"/><stop offset="0.188" stop-color="#d6251b"/><stop offset="0.219" stop-color="#d7261b"/><stop offset="0.25" stop-color="#d9261b"/><stop offset="0.281" stop-color="#db271b"/><stop offset="0.312" stop-color="#dd271c"/><stop offset="0.344" stop-color="#df281c"/><stop offset="0.375" stop-color="#e33125"/><stop offset="0.406" stop-color="#e73f32"/><stop offset="0.438" stop-color="#ea4e41"/><stop offset="0.469" stop-color="#ed6256"/><stop offset="0.5" stop-color="#f17a70"/><stop offset="0.531" stop-color="#f4938c"/><stop offset="0.562" stop-color="#f7ada8"/><stop offset="0.594" stop-color="#f9c1bd"/><stop offset="0.625" stop-color="#fbd5d2"/><stop offset="0.656" stop-color="#fde6e4"/><stop offset="0.688" stop-color="#fef4f3"/><stop offset="0.719" stop-color="#fffcfc"/><stop offset="0.75" stop-color="#ffffff"/><stop offset="0.781" stop-color="#ffffff"/><stop offset="0.812" stop-color="#ffffff"/><stop offset="0.844" stop-color="#ffffff"/><stop offset="0.875" stop-color="#ffffff"/><stop offset="0.906" stop-color="#ffffff"/><stop offset="0.938" stop-color="#ffffff"/><stop offset="0.969" stop-color="#ffffff"/><stop offset="1" stop-color="#ffffff"/></linearGradient>
<linearGradient id="h41" x1="0" x2="1" y1="0" y2="0"><stop offset="0" stop-color="#d0241a"/><stop offset="0.0312" stop-color="#d0241a"/><stop offset="0.0625" stop-color="#d1241a"/><stop offset="0.0938" stop-color="#d2241a"/><stop offset="0.125" stop-color="#d3251a"/><stop offset="0.156" stop-color="#d5251b"/><stop offset="0.188" stop-color="#d6261b"/><stop offset="0.219" stop-color="#d8261b"/><stop offset="0.25" stop-color="#da261b"/><stop offset="0.281" stop-color="#dc271b"/><stop offset="0.312" stop-color="#de271c"/><stop offset="0.344" stop-color="#e0281c"/><stop offset="0.375" stop-color="#e33428"/><stop offset="0.406" stop-color="#e74235"/><stop offset="0.438" stop-color="#eb5144"/><stop offset="0.469" stop-color="#ee655a"/><stop offset="0.5" stop-color="#f17e74"/><stop offset="0.531" stop-color="#f49790"/><stop offset="0.562" stop-color="#f7b0ab"/><stop offset="0.594" stop-color="#f9c4c0"/><stop offset="0.625" stop-color="#fbd7d5"/><stop offset="0.656" stop-color="#fde7e6"/><stop offset="0.688" stop-color="#fef5f5"/><stop offset="0.719" stop-color="#fffdfd"/><stop offset="0.75" stop-color="#ffffff"/><stop offset="0.781" stop-color="#ffffff"/><stop offset="0.812" stop-color="#ffffff"/><stop offset="0.844" stop-color="#ffffff"/><stop offset="0.875" stop-color="#ffffff"/><stop offset="0.906" stop-color="#ffffff"/><stop offset="0.938" stop-color="#ffffff"/><stop offset="0.969" stop-color="#ffffff"/><stop offset="1" stop-color="#ffffff"/></linearGradient>
<linearGradient id="h42" x1="0" x2="1" y1="0" y2="0"><stop offset="0" stop-color="#d1241a"/><stop offset="0.0312" stop-color="#d2241a"/><stop offset="0.0625" stop-color="#d2251a"/><stop offset="0.0938" stop-color="#d3251a"/><stop offset="0.125" stop-color="#d4251b"/><stop offset="0.156" stop-color="#d6251b"/><stop offset="0.188" stop-color="#d7261b"/><stop offset="0.219" stop-color="#d9261b"/><stop offset="0.25" stop-color="#da271b"/><stop offset="0.281" stop-color="#dc271c"/><stop offset="0.312" stop-color="#de281c"/><stop offset="0.344" stop-color="#e12a1e"/><stop offset="0.375" stop-color="#e4372b"/><stop offset="0.406" stop-color="#e84438"/><stop offset="0.438" stop-color="#eb5548"/><stop offset="0.469" stop-color="#ee695e"/><stop offset="0.5" stop-color="#f28278"/><stop offset="0.531" stop-color="#f59b94"/><stop offset="0.562" stop-color="#f7b3ae"/><stop offset="0.594" stop-color="#f9c6c3"/><stop offset="0.625" stop-color="#fcdad8"/><stop offset="0.656" stop-color="#fde9e8"/><stop offset="0.688" stop-color="#fef7f6"/><stop offset="0.719" stop-color="#fffdfd"/><stop offset="0.75" stop-color="#ffffff"/><stop offset="0.781" stop-color="#ffffff"/><stop offset="0.812" stop-color="#ffffff"/><stop offset="0.844" stop-color="#ffffff"/><stop offset="0.875" stop-color="#ffffff"/><stop offset="0.906" stop-color="#ffffff"/><stop offset="0.938" stop-color="#ffffff"/><stop offset="0.969" stop-color="#ffffff"/><stop offset="1" stop-color="#ffffff"/></linearGradient>
<linearGradient id="h43" x1="0" x2="1" y1="0" y2="0"><stop offset="0" stop-color="#d3251a"/><stop offset="0.0312" stop-color="#d3251a"/><stop offset="0.0625" stop-color="#d3251a"/><stop offset="0.0938" stop-color="#d4251b"/><stop offset="0.125" stop-color="#d5251b"/><stop offset="0.156" stop-color="#d6261b"/><stop offset="0.188" stop-color="#d8261b"/><stop offset="0.219" stop-color="#d9261b"/><stop offset="0.25" stop-color="#db271b"/><stop offset="0.281" stop-color="#dd271c"/><stop offset="0.312" stop-color="#df281c"/><stop offset="0.344" stop-color="#e22d21"/><stop offset="0.375" stop-color="#e53a2e"/><stop offset="0.406" stop-color="#e9473a"/><stop offset="0.438" stop-color="#ec594c"/><stop offset="0.469" stop-color="#ef6e63"/><stop offset="0.5" stop-color="#f2867d"/><stop offset="0.531" stop-color="#f59f98"/><stop offset="0.562" stop-color="#f8b6b1"/><stop offset="0.594" stop-color="#fac9c6"/><stop offset="0.625" stop-color="#fcddda"/><stop offset="0.656" stop-color="#fdebe9"/><stop offset="0.688" stop-color="#fef8f8"/><stop offset="0.719" stop-color="#fffefe"/><stop offset="0.75" stop-color="#ffffff"/><stop offset="0.781" stop-color="#ffffff"/><stop offset="0.812" stop-color="#ffffff"/><stop offset="0.844" stop-color="#ffffff"/><stop offset="0.875" stop-color="#ffffff"/><stop offset="0.906" stop-color="#ffffff"/><stop offset="0.938" stop-color="#ffffff"/><stop offset="0.969" stop-color="#ffffff"/><stop offset="1" stop-color="#ffffff"/></linearGradient>
<linearGradient id="h44" x1="0" x2="1" y1="0" y2="0"><stop offset="0" stop-color="#d4251a"/><stop offset="0.0312" stop-color="#d4251b"/><stop offset="0.0625" stop-color="#d5251b"/><stop offset="0.0938" stop-color="#d5251b"/><stop offset="0.125" stop-color="#d6261b"/><stop offset="0.156" stop-color="#d7261b"/><stop offset="0.188" stop-color="#d9261b"/><stop offset="0.219" stop-color="#da271b"/><stop offset="0.25" stop-color="#dc271b"/><stop offset="0.281" stop-color="#de271c"/><stop offset="0.312" stop-color="#df281c"/><stop offset="0.344" stop-color="#e33125"/><stop offset="0.375" stop-color="#e63d31"/><stop offset="0.406" stop-color="#ea4a3d"/><stop offset="0.438" stop-color="#ec5c50"/><stop offset="0.469" stop-color="#f07268"/><stop offset="0.5" stop-color="#f38a82"/><stop offset="0.531" stop-color="#f6a39d"/><stop offset="0.562" stop-color="#f8b9b4"/><stop offset="0.594" stop-color="#faccc9"/><stop offset="0.625" stop-color="#fcdfdd"/><stop offset="0.656" stop-color="#fdedeb"/><stop offset="0.688" stop-color="#fef9f9"/><stop offset="0.719" stop-color="#ffffff"/><stop offset="0.75" stop-color="#ffffff"/><stop offset="0.781" stop-color="#ffffff"/><stop offset="0.812" stop-color="#ffffff"/><stop offset="0.844" stop-color="#ffffff"/><stop offset="0.875" stop-color="#ffffff"/><stop offset="0.906" stop-color="#ffffff"/><stop offset="0.938" stop-color="#ffffff"/><stop offset="0.969" stop-color="#ffffff"/><stop offset="1" stop-color="#ffffff"/></linearGradient>
<linearGradient id="h45" x1="0" x2="1" y1="0" y2="0"><stop offset="0" stop-color="#d5251b"/><stop offset="0.0312" stop-color="#d5251b"/><stop offset="0.0625" stop-color="#d6251b"/><stop offset="0.0938" stop-color="#d6261b"/><stop offset="0.125" stop-color="#d7261b"/><stop offset="0.156" stop-color="#d8261b"/><stop offset="0.188" stop-color="#d9261b"/><stop offset="0.219" stop-color="#db271b"/><stop offset="0.25" stop-color="#dc271c"/><stop offset="0.281" stop-color="#de281c"/><stop offset="0.312" stop-color="#e0281c"/><stop offset="0.344" stop-color="#e33428"/><stop offset="0.375" stop-color="#e74034"/><stop offset="0.406" stop-color="#ea4e41"/><stop offset="0.438" stop-color="#ed6055"/><stop offset="0.469" stop-color="#f0776d"/><stop offset="0.5" stop-color="#f38f87"/><stop offset="0.531" stop-color="#f6a7a1"/><stop offset="0.562" stop-color="#f8bcb8"/><stop offset="0.594" stop-color="#facfcc"/><stop offset="0.625" stop-color="#fce1df"/><stop offset="0.656" stop-color="#fdeeed"/><stop offset="0.688" stop-color="#fffaf9"/><stop offset="0.719" stop-color="#ffffff"/><stop offset="0.75" stop-color="#ffffff"/><stop offset="0.781" stop-color="#ffffff"/><stop offset="0.812" stop-color="#ffffff"/><stop offset="0.844" stop-color="#ffffff"/><stop offset="0.875" stop-color="#ffffff"/><stop offset="0.906" stop-color="#ffffff"/><stop offset="0.938" stop-color="#ffffff"/><stop offset="0.969" stop-color="#ffffff"/><stop offset="1" stop-color="#ffffff"/></linearGradient>
<linearGradient id="h46" x1="0" x2="1" y1="0" y2="0"><stop offset="0" stop-color="#d6261b"/><stop offset="0.0312" stop-color="#d6261b"/><stop offset="0.0625" stop-color="#d6261b"/><stop offset="0.0938" stop-color="#d7261b"/><stop offset="0.125" stop-color="#d8261b"/><stop offset="0.156" stop-color="#d9261b"/><stop offset="0.188" stop-color="#da271b"/><stop offset="0.219" stop-color="#dc271b"/><stop offset="0.25" stop-color="#dd271c"/><stop offset="0.281" stop-color="#df281c"/><stop offset="0.312" stop-color="#e12c20"/><stop offset="0.344" stop-color="#e4382b"/><stop offset="0.375" stop-color="#e84437"/><stop offset="0.406" stop-color="#eb5246"/><stop offset="0.438" stop-color="#ee6559"/><stop offset="0.469" stop-color="#f17c72"/><stop offset="0.5" stop-color="#f4948c"/><stop offset="0.531" stop-color="#f7aca6"/><stop offset="0.562" stop-color="#f9bfbb"/><stop offset="0.594" stop-color="#fbd2cf"/><stop offset="0.625" stop-color="#fce3e1"/><stop offset="0.656" stop-color="#fef1f0"/><stop offset="0.688" stop-color="#fffbfa"/><stop offset="0.719" stop-color="#ffffff"/><stop offset="0.75" stop-color="#ffffff"/><stop offset="0.781" stop-color="#ffffff"/><stop offset="0.812" stop-color="#ffffff"/><stop offset="0.844" stop-color="#ffffff"/><stop offset="0.875" stop-color="#ffffff"/><stop offset="0.906" stop-color="#ffffff"/><stop offset="0.938" stop-color="#ffffff"/><stop offset="0.969" stop-color="#ffffff"/><stop offset="1" stop-color="#ffffff"/></linearGradient>
<linearGradient id="h47" x1="0" x2="1" y1="0" y2="0"><stop offset="0" stop-color="#d7261b"/><stop offset="0.0312" stop-color="#d7261b"/><stop offset="0.0625" stop-color="#d7261b"/><stop offset="0.0938" stop-color="#d8261b"/><stop offset="0.125" stop-color="#d9261b"/><stop offset="0.156" stop-color="#da261b"/><stop offset="0.188" stop-color="#db271b"/><stop offset="0.219" stop-color="#dc271c"/><stop offset="0.25" stop-color="#de271c"/><stop offset="0.281" stop-color="#df281c"/><stop offset="0.312" stop-color="#e23023"/><stop offset="0.344" stop-color="#e53b2f"/><stop offset="0.375" stop-color="#e9473a"/><stop offset="0.406" stop-color="#ec574b"/><stop offset="0.438" stop-color="#ee6a5f"/><stop offset="0.469" stop-color="#f28178"/><stop offset="0.5" stop-color="#f49991"/><stop offset="0.531" stop-color="#f7b0ab"/><stop offset="0.562" stop-color="#f9c3bf"/><stop offset="0.594" stop-color="#fbd6d3"/><stop offset="0.625" stop-color="#fde5e4"/><stop offset="0.656" stop-color="#fef3f2"/><stop offset="0.688" stop-color="#fffbfb"/><stop offset="0.719" stop-color="#ffffff"/><stop offset="0.75" stop-color="#ffffff"/><stop offset="0.781" stop-color="#ffffff"/><stop offset="0.812" stop-color="#ffffff"/><stop offset="0.844" stop-color="#ffffff"/><stop offset="0.875" stop-color="#ffffff"/><stop offset="0.906" stop-color="#ffffff"/><stop offset="0.938" stop-color="#ffffff"/><stop offset="0.969" stop-color="#ffffff"/><stop offset="1" stop-color="#ffffff"/></linearGradient>
<linearGradient id="h48" x1="0" x2="1" y1="0" y2="0"><stop offset="0" stop-color="#d8261b"/><stop offset="0.0312" stop-color="#d8261b"/><stop offset="0.0625" stop-color="#d8261b"/><stop offset="0.0938" stop-color="#d9261b"/><stop offset="0.125" stop-color="#da261b"/><stop offset="0.156" stop-color="#db271b"/><stop offset="0.188" stop-color="#dc271b"/><stop offset="0.219" stop-color="#dd271c"/><stop offset="0.25" stop-color="#de281c"/><stop offset="0.281" stop-color="#e0291d"/><stop offset="0.312" stop-color="#e33427"/><stop offset="0.344" stop-color="#e73f32"/><stop offset="0.375" stop-color="#ea4b3e"/><stop offset="0.406" stop-color="#ec5c50"/><stop offset="0.438" stop-color="#ef7065"/><stop offset="0.469" stop-color="#f2877e"/><stop offset="0.5" stop-color="#f59e97"/><stop offset="0.531" stop-color="#f8b4af"/><stop offset="0.562" stop-color="#f9c6c3"/><stop offset="0.594" stop-color="#fbd9d7"/><stop offset="0.625" stop-color="#fde8e6"/><stop offset="0.656" stop-color="#fef5f4"/><stop offset="0.688" stop-color="#fffcfc"/><stop offset="0.719" stop-color="#ffffff"/><stop offset="0.75" stop-color="#ffffff"/><stop offset="0.781" stop-color="#ffffff"/><stop offset="0.812" stop-color="#ffffff"/><stop offset="0.844" stop-color="#ffffff"/><stop offset="0.875" stop-color="#ffffff"/><stop offset="0.906" stop-color="#ffffff"/><stop offset="0.938" stop-color="#ffffff"/><stop offset="0.969" stop-color="#ffffff"/><stop offset="1" stop-color="#ffffff"/></linearGradient>
<linearGradient id="h49" x1="0" x2="1" y1="0" y2="0"><stop offset="0" stop-color="#d9261b"/><stop offset="0.0312" stop-color="#d9261b"/><stop offset="0.0625" stop-color="#d9261b"/><stop offset="0.0938" stop-color="#da261b"/><stop offset="0.125" stop-color="#da271b"/><stop offset="0.156" stop-color="#db271b"/><stop offset="0.188" stop-color="#dc271c"/><stop offset="0.219" stop-color="#de271c"/><stop offset="0.25" stop-color="#df281c"/><stop offset="0.281" stop-color="#e12d21"/><stop offset="0.312" stop-color="#e4382b"/><stop offset="0.344" stop-color="#e84336"/><stop offset="0.375" stop-color="#eb4f43"/><stop offset="0.406" stop-color="#ed6055"/><stop offset="0.438" stop-color="#f0766b"/><stop offset="0.469" stop-color="#f38c84"/><stop offset="0.5" stop-color="#f6a39d"/><stop offset="0.531" stop-color="#f8b8b3"/><stop offset="0.562" stop-color="#facac7"/><stop offset="0.594" stop-color="#fcdddb"/><stop offset="0.625" stop-color="#fdeae9"/><stop offset="0.656" stop-color="#fef7f7"/><stop offset="0.688" stop-color="#fffdfd"/><stop offset="0.719" stop-color="#ffffff"/><stop offset="0.75" stop-color="#ffffff"/><stop offset="0.781" stop-color="#ffffff"/><stop offset="0.812" stop-color="#ffffff"/><stop offset="0.844" stop-color="#ffffff"/><stop offset="0.875" stop-color="#ffffff"/><stop offset="0.906" stop-color="#ffffff"/><stop offset="0.938" stop-color="#ffffff"/><stop offset="0.969" stop-color="#ffffff"/><stop offset="1" stop-color="#ffffff"/></linearGradient>
<linearGradient id="h50" x1="0" x2="1" y1="0" y2="0"><stop offset="0" stop-color="#da261b"/><stop offset="0.0312" stop-color="#da261b"/><stop offset="0.0625" stop-color="#da271b"/><stop offset="0.0938" stop-color="#db271b"/><stop offset="0.125" stop-color="#db271b"/><stop offset="0.156" stop-color="#dc271c"/><stop offset="0.188" stop-color="#dd271c"/><stop offset="0.219" stop-color="#de281c"/><stop offset="0.25" stop-color="#e0281c"/><stop offset="0.281" stop-color="#e33125"/><stop offset="0.312" stop-color="#e63c2f"/><stop offset="0.344" stop-color="#e9473a"/><stop offset="0.375" stop-color="#eb5548"/><stop offset="0.406" stop-color="#ee665a"/><stop offset="0.438" stop-color="#f17c72"/><stop offset="0.469" stop-color="#f4928a"/><stop offset="0.5" stop-color="#f6a9a3"/><stop offset="0.531" stop-color="#f8bcb8"/><stop offset="0.562" stop-color="#facecb"/><stop offset="0.594" stop-color="#fce0de"/><stop offset="0.625" stop-color="#fdedec"/><stop offset="0.656" stop-color="#fef9f9"/><stop offset="0.688" stop-color="#fffefe"/><stop offset="0.719" stop-color="#ffffff"/><stop offset="0.75" stop-color="#ffffff"/><stop offset="0.781" stop-color="#ffffff"/><stop offset="0.812" stop-color="#ffffff"/><stop offset="0.844" stop-color="#ffffff"/><stop offset="0.875" stop-color="#ffffff"/><stop offset="0.906" stop-color="#ffffff"/><stop offset="0.938" stop-color="#ffffff"/><stop offset="0.969" stop-color="#ffffff"/><stop offset="1" stop-color="#ffffff"/></linearGradient>
<linearGradient id="h51" x1="0" x2="1" y1="0" y2="0"><stop offset="0" stop-color="#db271b"/><stop offset="0.0312" stop-color="#db271b"/><stop offset="0.0625" stop-color="#db271b"/><stop offset="0.0938" stop-color="#dc271b"/><stop offset="0.125" stop-color="#dc271c"/><stop offset="0.156" stop-color="#dd271c"/><stop offset="0.188" stop-color="#de281c"/><stop offset="0.219" stop-color="#df281c"/><stop offset="0.25" stop-color="#e12c20"/><stop offset="0.281" stop-color="#e43629"/><stop offset="0.312" stop-color="#e74033"/><stop offset="0.344" stop-color="#ea4b3e"/><stop offset="0.375" stop-color="#ec5a4e"/><stop offset="0.406" stop-color="#ef6c61"/><stop offset="0.438" stop-color="#f28279"/><stop offset="0.469" stop-color="#f49891"/><stop offset="0.5" stop-color="#f7aea9"/><stop offset="0.531" stop-color="#f9c1bd"/><stop offset="0.562" stop-color="#fbd3d0"/><stop offset="0.594" stop-color="#fce3e1"/><stop offset="0.625" stop-color="#fef0ef"/><stop offset="0.656" stop-color="#fffafa"/><stop offset="0.688" stop-color="#ffffff"/><stop offset="0.719" stop-color="#ffffff"/><stop offset="0.75" stop-color="#ffffff"/><stop offset="0.781" stop-color="#ffffff"/><stop offset="0.812" stop-color="#ffffff"/><stop offset="0.844" stop-color="#ffffff"/><stop offset="0.875" stop-color="#ffffff"/><stop offset="0.906" stop-color="#ffffff"/><stop offset="0.938" stop-color="#ffffff"/><stop offset="0.969" stop-color="#ffffff"/><stop offset="1" stop-color="#ffffff"/></linearGradient>
<linearGradient id="h52" x1="0" x2="1" y1="0" y2="0"><stop offset="0" stop-color="#dc271b"/><stop offset="0.0312" stop-color="#dc271b"/><stop offset="0.0625" stop-color="#dc271c"/><stop offset="0.0938" stop-color="#dc271c"/><stop offset="0.125" stop-color="#dd271c"/><stop offset="0.156" stop-color="#de271c"/><stop offset="0.188" stop-color="#df281c"/><stop offset="0.219" stop-color="#e0281c"/><stop offset="0.25" stop-color="#e33125"/><stop offset="0.281" stop-color="#e53a2e"/><stop offset="0.312" stop-color="#e84438"/><stop offset="0.344" stop-color="#eb5044"/><stop offset="0.375" stop-color="#ed6054"/><stop offset="0.406" stop-color="#f07369"/><stop offset="0.438" stop-color="#f28980"/><stop offset="0.469" stop-color="#f59f98"/><stop offset="0.5" stop-color="#f7b3af"/><stop offset="0.531" stop-color="#f9c5c2"/><stop offset="0.562" stop-color="#fbd7d5"/><stop offset="0.594" stop-color="#fde6e4"/><stop offset="0.625" stop-color="#fef2f2"/><stop offset="0.656" stop-color="#fffbfb"/><stop offset="0.688" stop-color="#ffffff"/><stop offset="0.719" stop-color="#ffffff"/><stop offset="0.75" stop-color="#ffffff"/><stop offset="0.781" stop-color="#ffffff"/><stop offset="0.812" stop-color="#ffffff"/><stop offset="0.844" stop-color="#ffffff"/><stop offset="0.875" stop-color="#ffffff"/><stop offset="0.906" stop-color="#ffffff"/><stop offset="0.938" stop-color="#ffffff"/><stop offset="0.969" stop-color="#ffffff"/><stop offset="1" stop-color="#ffffff"/></linearGradient>
<linearGradient id="h53" x1="0" x2="1" y1="0" y2="0"><stop offset="0" stop-color="#dd271c"/><stop offset="0.0312" stop-color="#dd271c"/><stop offset="0.0625" stop-color="#dd271c"/><stop offset="0.0938" stop-color="#dd271c"/><stop offset="0.125" stop-color="#de271c"/><stop offset="0.156" stop-color="#df281c"/><stop offset="0.188" stop-color="#e0281c"/><stop offset="0.219" stop-color="#e22e21"/><stop offset="0.25" stop-color="#e4362a"/><stop offset="0.281" stop-color="#e73f33"/><stop offset="0.312" stop-color="#e9493c"/><stop offset="0.344" stop-color="#ec564a"/><stop offset="0.375" stop-color="#ee665a"/><stop offset="0.406" stop-color="#f17b71"/><stop offset="0.438" stop-color="#f39088"/><stop offset="0.469" stop-color="#f6a59f"/><stop offset="0.5" stop-color="#f8b9b4"/><stop offset="0.531" stop-color="#facac7"/><stop offset="0.562" stop-color="#fcdcda"/><stop offset="0.594" stop-color="#fde9e8"/><stop offset="0.625" stop-color="#fef5f5"/><stop offset="0.656" stop-color="#fffcfc"/><stop offset="0.688" stop-color="#ffffff"/><stop offset="0.719" stop-color="#ffffff"/><stop offset="0.75" stop-color="#ffffff"/><stop offset="0.781" stop-color="#ffffff"/><stop offset="0.812" stop-color="#ffffff"/><stop offset="0.844" stop-color="#ffffff"/><stop offset="0.875" stop-color="#ffffff"/><stop offset="0.906" stop-color="#ffffff"/><stop offset="0.938" stop-color="#ffffff"/><stop offset="0.969" stop-color="#ffffff"/><stop offset="1" stop-color="#ffffff"/></linearGradient>
<linearGradient id="h54" x1="0" x2="1" y1="0" y2="0"><stop offset="0" stop-color="#de271c"/><stop offset="0.0312" stop-color="#de271c"/><stop offset="0.0625" stop-color="#de271c"/><stop offset="0.0938" stop-color="#de281c"/><stop offset="0.125" stop-color="#df281c"/><stop offset="0.156" stop-color="#e0281c"/><stop offset="0.188" stop-color="#e12c1f"/><stop offset="0.219" stop-color="#e33327"/><stop offset="0.25" stop-color="#e63b2f"/><stop offset="0.281" stop-color="#e84437"/><stop offset="0.312" stop-color="#ea4f42"/><stop offset="0.344" stop-color="#ec5d51"/><stop offset="0.375" stop-color="#ef6e63"/><stop offset="0.406" stop-color="#f28279"/><stop offset="0.438" stop-color="#f49790"/><stop offset="0.469" stop-color="#f7aca7"/><stop offset="0.5" stop-color="#f9beba"/><stop offset="0.531" stop-color="#facfcc"/><stop offset="0.562" stop-color="#fce0de"/><stop offset="0.594" stop-color="#fdeceb"/><stop offset="0.625" stop-color="#fef8f8"/><stop offset="0.656" stop-color="#fffdfd"/><stop offset="0.688" stop-color="#ffffff"/><stop offset="0.719" stop-color="#ffffff"/><stop offset="0.75" stop-color="#ffffff"/><stop offset="0.781" stop-color="#ffffff"/><stop offset="0.812" stop-color="#ffffff"/><stop offset="0.844" stop-color="#ffffff"/><stop offset="0.875" stop-color="#ffffff"/><stop offset="0.906" stop-color="#ffffff"/><stop offset="0.938" stop-color="#ffffff"/><stop offset="0.969" stop-color="#ffffff"/><stop offset="1" stop-color="#ffffff"/></linearGradient>
<linearGradient id="h55" x1="0" x2="1" y1="0" y2="0"><stop offset="0" stop-color="#df281c"/><stop offset="0.0312" stop-color="#df281c"/><stop offset="0.0625" stop-color="#df281c"/><stop offset="0.0938" stop-color="#df281c"/><stop offset="0.125" stop-color="#e0281c"/><stop offset="0.156" stop-color="#e12b1f"/><stop offset="0.188" stop-color="#e33225"/><stop offset="0.219" stop-color="#e5392c"/><stop offset="0.25" stop-color="#e74134"/><stop offset="0.281" stop-color="#e9493c"/><stop offset="0.312" stop-color="#eb5549"/><stop offset="0.344" stop-color="#ed6357"/><stop offset="0.375" stop-color="#f0766c"/><stop offset="0.406" stop-color="#f38a82"/><stop offset="0.438" stop-color="#f59f98"/><stop offset="0.469" stop-color="#f7b3ae"/><stop offset="0.5" stop-color="#f9c4c0"/><stop offset="0.531" stop-color="#fbd5d2"/><stop offset="0.562" stop-color="#fde4e2"/><stop offset="0.594" stop-color="#fef0ef"/><stop offset="0.625" stop-color="#fffaf9"/><stop offset="0.656" stop-color="#fffefe"/><stop offset="0.688" stop-color="#ffffff"/><stop offset="0.719" stop-color="#ffffff"/><stop offset="0.75" stop-color="#ffffff"/><stop offset="0.781" stop-color="#ffffff"/><stop offset="0.812" stop-color="#ffffff"/><stop offset="0.844" stop-color="#ffffff"/><stop offset="0.875" stop-color="#ffffff"/><stop offset="0.906" stop-color="#ffffff"/><stop offset="0.938" stop-color="#ffffff"/><stop offset="0.969" stop-color="#ffffff"/><stop offset="1" stop-color="#ffffff"/></linearGradient>
<linearGradient id="h56" x1="0" x2="1" y1="0" y2="0"><stop offset="0" stop-color="#e0281c"/><stop offset="0.0312" stop-color="#e0281c"/><stop offset="0.0625" stop-color="#e0281c"/><stop offset="0.0938" stop-color="#e0291d"/><stop offset="0.125" stop-color="#e12d21"/><stop offset="0.156" stop-color="#e33226"/><stop offset="0.188" stop-color="#e5382b"/><stop offset="0.219" stop-color="#e63f32"/><stop offset="0.25" stop-color="#e94639"/><stop offset="0.281" stop-color="#eb5043"/><stop offset="0.312" stop-color="#ec5c50"/><stop offset="0.344" stop-color="#ef6c61"/><stop offset="0.375" stop-color="#f17f75"/><stop offset="0.406" stop-color="#f4938b"/><stop offset="0.438" stop-color="#f6a7a1"/><stop offset="0.469" stop-color="#f8b9b4"/><stop offset="0.5" stop-color="#fac9c6"/><stop offset="0.531" stop-color="#fcdad8"/><stop offset="0.562" stop-color="#fde7e6"/><stop offset="0.594" stop-color="#fef3f3"/><stop offset="0.625" stop-color="#fffbfb"/><stop offset="0.656" stop-color="#ffffff"/><stop offset="0.688" stop-color="#ffffff"/><stop offset="0.719" stop-color="#ffffff"/><stop offset="0.75" stop-color="#ffffff"/><stop offset="0.781" stop-color="#ffffff"/><stop offset="0.812" stop-color="#ffffff"/><stop offset="0.844" stop-color="#ffffff"/><stop offset="0.875" stop-color="#ffffff"/><stop offset="0.906" stop-color="#ffffff"/><stop offset="0.938" stop-color="#ffffff"/><stop offset="0.969" stop-color="#ffffff"/><stop offset="1" stop-color="#ffffff"/></linearGradient>
<linearGradient id="h57" x1="0" x2="1" y1="0" y2="0"><stop offset="0" stop-color="#e12d21"/><stop offset="0.0312" stop-color="#e12d21"/><stop offset="0.0625" stop-color="#e22e22"/><stop offset="0.0938" stop-color="#e23124"/><stop offset="0.125" stop-color="#e33428"/><stop offset="0.156" stop-color="#e5392c"/><stop offset="0.188" stop-color="#e63e31"/><stop offset="0.219" stop-color="#e84538"/><stop offset="0.25" stop-color="#ea4c3f"/><stop offset="0.281" stop-color="#ec574b"/><stop offset="0.312" stop-color="#ed6358"/><stop offset="0.344" stop-color="#f0756b"/><stop offset="0.375" stop-color="#f2887f"/><stop offset="0.406" stop-color="#f59b94"/><stop offset="0.438" stop-color="#f7afaa"/><stop offset="0.469" stop-color="#f9bfbb"/><stop offset="0.5" stop-color="#fad0cd"/><stop offset="0.531" stop-color="#fce0de"/><stop offset="0.562" stop-color="#fdebea"/><stop offset="0.594" stop-color="#fef7f7"/><stop offset="0.625" stop-color="#fffcfc"/><stop offset="0.656" stop-color="#ffffff"/><stop offset="0.688" stop-color="#ffffff"/><stop offset="0.719" stop-color="#ffffff"/><stop offset="0.75" stop-color="#ffffff"/><stop offset="0.781" stop-color="#ffffff"/><stop offset="0.812" stop-color="#ffffff"/><stop offset="0.844" stop-color="#ffffff"/><stop offset="0.875" stop-color="#ffffff"/><stop offset="0.906" stop-color="#ffffff"/><stop offset="0.938" stop-color="#ffffff"/><stop offset="0.969" stop-color="#ffffff"/><stop offset="1" stop-color="#ffffff"/></linearGradient>
<linearGradient id="h58" x1="0" x2="1" y1="0" y2="0"><stop offset="0" stop-color="#e43528"/><stop offset="0.0312" stop-color="#e43529"/><stop offset="0.0625" stop-color="#e4362a"/><stop offset="0.0938" stop-color="#e5382c"/><stop offset="0.125" stop-color="#e53b2f"/><stop offset="0.156" stop-color="#e73f33"/><stop offset="0.188" stop-color="#e84538"/><stop offset="0.219" stop-color="#ea4b3e"/><stop offset="0.25" stop-color="#eb5448"/><stop offset="0.281" stop-color="#ed5f53"/><stop offset="0.312" stop-color="#ef6e63"/><stop offset="0.344" stop-color="#f18076"/><stop offset="0.375" stop-color="#f4928a"/><stop offset="0.406" stop-color="#f6a59e"/><stop offset="0.438" stop-color="#f8b6b2"/><stop offset="0.469" stop-color="#f9c6c3"/><stop offset="0.5" stop-color="#fbd6d4"/><stop offset="0.531" stop-color="#fde4e2"/><stop offset="0.562" stop-color="#feefef"/><stop offset="0.594" stop-color="#fef9f9"/><stop offset="0.625" stop-color="#fffdfd"/><stop offset="0.656" stop-color="#ffffff"/><stop offset="0.688" stop-color="#ffffff"/><stop offset="0.719" stop-color="#ffffff"/><stop offset="0.75" stop-color="#ffffff"/><stop offset="0.781" stop-color="#ffffff"/><stop offset="0.812" stop-color="#ffffff"/><stop offset="0.844" stop-color="#ffffff"/><stop offset="0.875" stop-color="#ffffff"/><stop offset="0.906" stop-color="#ffffff"/><stop offset="0.938" stop-color="#ffffff"/><stop offset="0.969" stop-color="#ffffff"/><stop offset="1" stop-color="#ffffff"/></linearGradient>
<linearGradient id="h59" x1="0" x2="1" y1="0" y2="0"><stop offset="0" stop-color="#e63d30"/><stop offset="0.0312" stop-color="#e63d30"/><stop offset="0.0625" stop-color="#e63e31"/><stop offset="0.0938" stop-color="#e74033"/><stop offset="0.125" stop-color="#e84236"/><stop offset="0.156" stop-color="#e94639"/><stop offset="0.188" stop-color="#ea4b3e"/><stop offset="0.219" stop-color="#eb5347"/><stop offset="0.25" stop-color="#ec5d51"/><stop offset="0.281" stop-color="#ee685d"/><stop offset="0.312" stop-color="#f0796f"/><stop offset="0.344" stop-color="#f38a82"/><stop offset="0.375" stop-color="#f59c95"/><stop offset="0.406" stop-color="#f7aea9"/><stop offset="0.438" stop-color="#f9beba"/><stop offset="0.469" stop-color="#facdca"/><stop offset="0.5" stop-color="#fcdddb"/><stop offset="0.531" stop-color="#fde9e7"/><stop offset="0.562" stop-color="#fef4f3"/><stop offset="0.594" stop-color="#fffbfa"/><stop offset="0.625" stop-color="#ffffff"/><stop offset="0.656" stop-color="#ffffff"/><stop offset="0.688" stop-color="#ffffff"/><stop offset="0.719" stop-color="#ffffff"/><stop offset="0.75" stop-color="#ffffff"/><stop offset="0.781" stop-color="#ffffff"/><stop offset="0.812" stop-color="#ffffff"/><stop offset="0.844" stop-color="#ffffff"/><stop offset="0.875" stop-color="#ffffff"/><stop offset="0.906" stop-color="#ffffff"/><stop offset="0.938" stop-color="#ffffff"/><stop offset="0.969" stop-color="#ffffff"/><stop offset="1" stop-color="#ffffff"/></linearGradient>
<linearGradient id="h60" x1="0" x2="1" y1="0" y2="0"><stop offset="0" stop-color="#e84538"/><stop offset="0.0312" stop-color="#e84538"/><stop offset="0.0625" stop-color="#e84639"/><stop offset="0.0938" stop-color="#e9473a"/><stop offset="0.125" stop-color="#ea4a3d"/><stop offset="0.156" stop-color="#ea4e41"/><stop offset="0.188" stop-color="#eb5548"/><stop offset="0.219" stop-color="#ec5c50"/><stop offset="0.25" stop-color="#ee665a"/><stop offset="0.281" stop-color="#f0756a"/><stop offset="0.312" stop-color="#f2857c"/><stop offset="0.344" stop-color="#f4958e"/><stop offset="0.375" stop-color="#f6a7a1"/><stop offset="0.406" stop-color="#f8b7b2"/><stop offset="0.438" stop-color="#f9c6c2"/><stop offset="0.469" stop-color="#fbd5d2"/><stop offset="0.5" stop-color="#fce2e1"/><stop offset="0.531" stop-color="#fdedec"/><stop offset="0.562" stop-color="#fef8f8"/><stop offset="0.594" stop-color="#fffcfc"/><stop offset="0.625" stop-color="#ffffff"/><stop offset="0.656" stop-color="#ffffff"/><stop offset="0.688" stop-color="#ffffff"/><stop offset="0.719" stop-color="#ffffff"/><stop offset="0.75" stop-color="#ffffff"/><stop offset="0.781" stop-color="#ffffff"/><stop offset="0.812" stop-color="#ffffff"/><stop offset="0.844" stop-color="#ffffff"/><stop offset="0.875" stop-color="#ffffff"/><stop offset="0.906" stop-color="#ffffff"/><stop offset="0.938" stop-color="#ffffff"/><stop offset="0.969" stop-color="#ffffff"/><stop offset="1" stop-color="#ffffff"/></linearGradient>
<linearGradient id="h61" x1="0" x2="1" y1="0" y2="0"><stop offset="0" stop-color="#ea4d41"/><stop offset="0.0312" stop-color="#ea4e41"/><stop offset="0.0625" stop-color="#ea4f42"/><stop offset="0.0938" stop-color="#eb5144"/><stop offset="0.125" stop-color="#eb5447"/><stop offset="0.156" stop-color="#ec584c"/><stop offset="0.188" stop-color="#ed5e52"/><stop offset="0.219" stop-color="#ee665b"/><stop offset="0.25" stop-color="#f07469"/><stop offset="0.281" stop-color="#f28279"/><stop offset="0.312" stop-color="#f39189"/><stop offset="0.344" stop-color="#f5a19b"/><stop offset="0.375" stop-color="#f7b1ac"/><stop offset="0.406" stop-color="#f9bfbb"/><stop offset="0.438" stop-color="#facecb"/><stop offset="0.469" stop-color="#fcdddb"/><stop offset="0.5" stop-color="#fde8e6"/><stop offset="0.531" stop-color="#fef2f2"/><stop offset="0.562" stop-color="#fffafa"/><stop offset="0.594" stop-color="#fffefe"/><stop offset="0.625" stop-color="#ffffff"/><stop offset="0.656" stop-color="#ffffff"/><stop offset="0.688" stop-color="#ffffff"/><stop offset="0.719" stop-color="#ffffff"/><stop offset="0.75" stop-color="#ffffff"/><stop offset="0.781" stop-color="#ffffff"/><stop offset="0.812" stop-color="#ffffff"/><stop offset="0.844" stop-color="#ffffff"/><stop offset="0.875" stop-color="#ffffff"/><stop offset="0.906" stop-color="#ffffff"/><stop offset="0.938" stop-color="#ffffff"/><stop offset="0.969" stop-color="#ffffff"/><stop offset="1" stop-color="#ffffff"/></linearGradient>
<linearGradient id="h62" x1="0" x2="1" y1="0" y2="0"><stop offset="0" stop-color="#ec594d"/><stop offset="0.0312" stop-color="#ec594d"/><stop offset="0.0625" stop-color="#ec5a4e"/><stop offset="0.0938" stop-color="#ec5c50"/><stop offset="0.125" stop-color="#ed5e53"/><stop offset="0.156" stop-color="#ed6357"/><stop offset="0.188" stop-color="#ef6b60"/><stop offset="0.219" stop-color="#f0766c"/><stop offset="0.25" stop-color="#f28379"/><stop offset="0.281" stop-color="#f39088"/><stop offset="0.312" stop-color="#f59e98"/><stop offset="0.344" stop-color="#f7aea8"/><stop offset="0.375" stop-color="#f8bbb7"/><stop offset="0.406" stop-color="#fac9c5"/><stop offset="0.438" stop-color="#fbd7d4"/><stop offset="0.469" stop-color="#fce3e1"/><stop offset="0.5" stop-color="#fdedec"/><stop offset="0.531" stop-color="#fef8f7"/><stop offset="0.562" stop-color="#fffcfb"/><stop offset="0.594" stop-color="#ffffff"/><stop offset="0.625" stop-color="#ffffff"/><stop offset="0.656" stop-color="#ffffff"/><stop offset="0.688" stop-color="#ffffff"/><stop offset="0.719" stop-color="#ffffff"/><stop offset="0.75" stop-color="#ffffff"/><stop offset="0.781" stop-color="#ffffff"/><stop offset="0.812" stop-color="#ffffff"/><stop offset="0.844" stop-color="#ffffff"/><stop offset="0.875" stop-color="#ffffff"/><stop offset="0.906" stop-color="#ffffff"/><stop offset="0.938" stop-color="#ffffff"/><stop offset="0.969" stop-color="#ffffff"/><stop offset="1" stop-color="#ffffff"/></linearGradient>
<linearGradient id="h63" x1="0" x2="1" y1="0" y2="0"><stop offset="0" stop-color="#ee6559"/><stop offset="0.0312" stop-color="#ee6559"/><stop offset="0.0625" stop-color="#ee665b"/><stop offset="0.0938" stop-color="#ee695e"/><stop offset="0.125" stop-color="#ef6e63"/><stop offset="0.156" stop-color="#f0756a"/><stop offset="0.188" stop-color="#f17d73"/><stop offset="0.219" stop-color="#f2877e"/><stop offset="0.25" stop-color="#f4928b"/><stop offset="0.281" stop-color="#f59f98"/><stop offset="0.312" stop-color="#f7aca7"/><stop offset="0.344" stop-color="#f8b9b4"/><stop offset="0.375" stop-color="#f9c5c2"/><stop offset="0.406" stop-color="#fbd2d0"/><stop offset="0.438" stop-color="#fcdfdd"/><stop offset="0.469" stop-color="#fde9e8"/><stop offset="0.5" stop-color="#fef3f2"/><stop offset="0.531" stop-color="#fffafa"/><stop offset="0.562" stop-color="#fffdfd"/><stop offset="0.594" stop-color="#ffffff"/><stop offset="0.625" stop-color="#ffffff"/><stop offset="0.656" stop-color="#ffffff"/><stop offset="0.688" stop-color="#ffffff"/><stop offset="0.719" stop-color="#ffffff"/><stop offset="0.75" stop-color="#ffffff"/><stop offset="0.781" stop-color="#ffffff"/><stop offset="0.812" stop-color="#ffffff"/><stop offset="0.844" stop-color="#ffffff"/><stop offset="0.875" stop-color="#ffffff"/><stop offset="0.906" stop-color="#ffffff"/><stop offset="0.938" stop-color="#ffffff"/><stop offset="0.969" stop-color="#ffffff"/><stop offset="1" stop-color="#ffffff"/></linearGradient>
<linearGradient id="h64" x1="0" x2="1" y1="0" y2="0"><stop offset="0" stop-color="#f17b71"/><stop offset="0.0312" stop-color="#f17c71"/><stop offset="0.0625" stop-color="#f17d73"/><stop offset="0.0938" stop-color="#f17f75"/><stop offset="0.125" stop-color="#f28379"/><stop offset="0.156" stop-color="#f2887f"/><stop offset="0.188" stop-color="#f39087"/><stop offset="0.219" stop-color="#f49891"/><stop offset="0.25" stop-color="#f6a39c"/><stop offset="0.281" stop-color="#f7aea9"/><stop offset="0.312" stop-color="#f8b9b5"/><stop offset="0.344" stop-color="#f9c4c1"/><stop offset="0.375" stop-color="#fbd0cd"/><stop offset="0.406" stop-color="#fcdddb"/><stop offset="0.438" stop-color="#fde6e5"/><stop offset="0.469" stop-color="#fef0ef"/><stop offset="0.5" stop-color="#fef9f8"/><stop offset="0.531" stop-color="#fffcfc"/><stop offset="0.562" stop-color="#ffffff"/><stop offset="0.594" stop-color="#ffffff"/><stop offset="0.625" stop-color="#ffffff"/><stop offset="0.656" stop-color="#ffffff"/><stop offset="0.688" stop-color="#ffffff"/><stop offset="0.719" stop-color="#ffffff"/><stop offset="0.75" stop-color="#ffffff"/><stop offset="0.781" stop-color="#ffffff"/><stop offset="0.812" stop-color="#ffffff"/><stop offset="0.844" stop-color="#ffffff"/><stop offset="0.875" stop-color="#ffffff"/><stop offset="0.906" stop-color="#ffffff"/><stop offset="0.938" stop-color="#ffffff"/><stop offset="0.969" stop-color="#ffffff"/><stop offset="1" stop-color="#ffffff"/></linearGradient>
<linearGradient id="h65" x1="0" x2="1" y1="0" y2="0"><stop offset="0" stop-color="#f4928a"/><stop offset="0.0312" stop-color="#f4928b"/><stop offset="0.0625" stop-color="#f4938b"/><stop offset="0.0938" stop-color="#f4958d"/><stop offset="0.125" stop-color="#f49891"/><stop offset="0.156" stop-color="#f59d96"/><stop offset="0.188" stop-color="#f6a39d"/><stop offset="0.219" stop-color="#f6aba5"/><stop offset="0.25" stop-color="#f7b3ae"/><stop offset="0.281" stop-color="#f8bcb8"/><stop offset="0.312" stop-color="#f9c6c2"/><stop offset="0.344" stop-color="#fbd0cd"/><stop offset="0.375" stop-color="#fcdcd9"/><stop offset="0.406" stop-color="#fde5e3"/><stop offset="0.438" stop-color="#fdedec"/><stop offset="0.469" stop-color="#fef6f6"/><stop offset="0.5" stop-color="#fffbfa"/><stop offset="0.531" stop-color="#fffefe"/><stop offset="0.562" stop-color="#ffffff"/><stop offset="0.594" stop-color="#ffffff"/><stop offset="0.625" stop-color="#ffffff"/><stop offset="0.656" stop-color="#ffffff"/><stop offset="0.688" stop-color="#ffffff"/><stop offset="0.719" stop-color="#ffffff"/><stop offset="0.75" stop-color="#ffffff"/><stop offset="0.781" stop-color="#ffffff"/><stop offset="0.812" stop-color="#ffffff"/><stop offset="0.844" stop-color="#ffffff"/><stop offset="0.875" stop-color="#ffffff"/><stop offset="0.906" stop-color="#ffffff"/><stop offset="0.938" stop-color="#ffffff"/><stop offset="0.969" stop-color="#ffffff"/><stop offset="1" stop-color="#ffffff"/></linearGradient>
<linearGradient id="h66" x1="0" x2="1" y1="0" y2="0"><stop offset="0" stop-color="#f6a9a4"/><stop offset="0.0312" stop-color="#f6a9a4"/><stop offset="0.0625" stop-color="#f6aaa4"/><stop offset="0.0938" stop-color="#f7aba6"/><stop offset="0.125" stop-color="#f7ada8"/><stop offset="0.156" stop-color="#f7b1ac"/><stop offset="0.188" stop-color="#f8b5b1"/><stop offset="0.219" stop-color="#f8bbb7"/><stop offset="0.25" stop-color="#f9c2be"/><stop offset="0.281" stop-color="#facac7"/><stop offset="0.312" stop-color="#fbd3d0"/><stop offset="0.344" stop-color="#fcdddb"/><stop offset="0.375" stop-color="#fde5e3"/><stop offset="0.406" stop-color="#fdedeb"/><stop offset="0.438" stop-color="#fef5f4"/><stop offset="0.469" stop-color="#fffafa"/><stop offset="0.5" stop-color="#fffdfd"/><stop offset="0.531" stop-color="#ffffff"/><stop offset="0.562" stop-color="#ffffff"/><stop offset="0.594" stop-color="#ffffff"/><stop offset="0.625" stop-color="#ffffff"/><stop offset="0.656" stop-color="#ffffff"/><stop offset="0.688" stop-color="#ffffff"/><stop offset="0.719" stop-color="#ffffff"/><stop offset="0.75" stop-color="#ffffff"/><stop offset="0.781" stop-color="#ffffff"/><stop offset="0.812" stop-color="#ffffff"/><stop offset="0.844" stop-color="#ffffff"/><stop offset="0.875" stop-color="#ffffff"/><stop offset="0.906" stop-color="#ffffff"/><stop offset="0.938" stop-color="#ffffff"/><stop offset="0.969" stop-color="#ffffff"/><stop offset="1" stop-color="#ffffff"/></linearGradient>
<linearGradient id="h67" x1="0" x2="1" y1="0" y2="0"><stop offset="0" stop-color="#f9bdb9"/><stop offset="0.0312" stop-color="#f9bdb9"/><stop offset="0.0625" stop-color="#f9beba"/><stop offset="0.0938" stop-color="#f9bfbb"/><stop offset="0.125" stop-color="#f9c0bc"/><stop offset="0.156" stop-color="#f9c3bf"/><stop offset="0.188" stop-color="#fac7c3"/><stop offset="0.219" stop-color="#faccc8"/><stop offset="0.25" stop-color="#fbd2cf"/><stop offset="0.281" stop-color="#fbd9d7"/><stop offset="0.312" stop-color="#fce0de"/><stop offset="0.344" stop-color="#fde7e5"/><stop offset="0.375" stop-color="#fdedec"/><stop offset="0.406" stop-color="#fef5f4"/><stop offset="0.438" stop-color="#fffaf9"/><stop offset="0.469" stop-color="#fffcfc"/><stop offset="0.5" stop-color="#ffffff"/><stop offset="0.531" stop-color="#ffffff"/><stop offset="0.562" stop-color="#ffffff"/><stop offset="0.594" stop-color="#ffffff"/><stop offset="0.625" stop-color="#ffffff"/><stop offset="0.656" stop-color="#ffffff"/><stop offset="0.688" stop-color="#ffffff"/><stop offset="0.719" stop-color="#ffffff"/><stop offset="0.75" stop-color="#ffffff"/><stop offset="0.781" stop-color="#ffffff"/><stop offset="0.812" stop-color="#ffffff"/><stop offset="0.844" stop-color="#ffffff"/><stop offset="0.875" stop-color="#ffffff"/><stop offset="0.906" stop-color="#ffffff"/><stop offset="0.938" stop-color="#ffffff"/><stop offset="0.969" stop-color="#ffffff"/><stop offset="1" stop-color="#ffffff"/></linearGradient>
<linearGradient id="h68" x1="0" x2="1" y1="0" y2="0"><stop offset="0" stop-color="#fbd1ce"/><stop offset="0.0312" stop-color="#fbd1ce"/><stop offset="0.0625" stop-color="#fbd1ce"/><stop offset="0.0938" stop-color="#fbd2cf"/><stop offset="0.125" stop-color="#fbd3d0"/><stop offset="0.156" stop-color="#fbd5d3"/><stop offset="0.188" stop-color="#fbd8d6"/><stop offset="0.219" stop-color="#fcddda"/><stop offset="0.25" stop-color="#fce1df"/><stop offset="0.281" stop-color="#fde5e4"/><stop offset="0.312" stop-color="#fdeae9"/><stop offset="0.344" stop-color="#fef0ef"/><stop offset="0.375" stop-color="#fef7f6"/><stop offset="0.406" stop-color="#fffafa"/><stop offset="0.438" stop-color="#fffdfc"/><stop offset="0.469" stop-color="#ffffff"/><stop offset="0.5" stop-color="#ffffff"/><stop offset="0.531" stop-color="#ffffff"/><stop offset="0.562" stop-color="#ffffff"/><stop offset="0.594" stop-color="#ffffff"/><stop offset="0.625" stop-color="#ffffff"/><stop offset="0.656" stop-color="#ffffff"/><stop offset="0.688" stop-color="#ffffff"/><stop offset="0.719" stop-color="#ffffff"/><stop offset="0.75" stop-color="#ffffff"/><stop offset="0.781" stop-color="#ffffff"/><stop offset="0.812" stop-color="#ffffff"/><stop offset="0.844" stop-color="#ffffff"/><stop offset="0.875" stop-color="#ffffff"/><stop offset="0.906" stop-color="#ffffff"/><stop offset="0.938" stop-color="#ffffff"/><stop offset="0.969" stop-color="#ffffff"/><stop offset="1" stop-color="#ffffff"/></linearGradient>
<linearGradient id="h69" x1="0" x2="1" y1="0" y2="0"><stop offset="0" stop-color="#fce2e0"/><stop offset="0.0312" stop-color="#fce2e0"/><stop offset="0.0625" stop-color="#fce2e1"/><stop offset="0.0938" stop-color="#fce3e1"/><stop offset="0.125" stop-color="#fce3e2"/><stop offset="0.156" stop-color="#fde5e3"/><stop offset="0.188" stop-color="#fde7e5"/><stop offset="0.219" stop-color="#fde9e8"/><stop offset="0.25" stop-color="#fdeceb"/><stop offset="0.281" stop-color="#fef0ef"/><stop offset="0.312" stop-color="#fef5f4"/><stop offset="0.344" stop-color="#fef9f9"/><stop offset="0.375" stop-color="#fffbfb"/><stop offset="0.406" stop-color="#fffdfd"/><stop offset="0.438" stop-color="#ffffff"/><stop offset="0.469" stop-color="#ffffff"/><stop offset="0.5" stop-color="#ffffff"/><stop offset="0.531" stop-color="#ffffff"/><stop offset="0.562" stop-color="#ffffff"/><stop offset="0.594" stop-color="#ffffff"/><stop offset="0.625" stop-color="#ffffff"/><stop offset="0.656" stop-color="#ffffff"/><stop offset="0.688" stop-color="#ffffff"/><stop offset="0.719" stop-color="#ffffff"/><stop offset="0.75" stop-color="#ffffff"/><stop offset="0.781" stop-color="#ffffff"/><stop offset="0.812" stop-color="#ffffff"/><stop offset="0.844" stop-color="#ffffff"/><stop offset="0.875" stop-color="#ffffff"/><stop offset="0.906" stop-color="#ffffff"/><stop offset="0.938" stop-color="#ffffff"/><stop offset="0.969" stop-color="#ffffff"/><stop offset="1" stop-color="#ffffff"/></linearGradient>
<linearGradient id="h70" x1="0" x2="1" y1="0" y2="0"><stop offset="0" stop-color="#fef0ef"/><stop offset="0.0312" stop-color="#fef0ef"/><stop offset="0.0625" stop-color="#fef0ef"/><stop offset="0.0938" stop-color="#fef0ef"/><stop offset="0.125" stop-color="#fef1f0"/><stop offset="0.156" stop-color="#fef2f1"/><stop offset="0.188" stop-color="#fef3f3"/><stop offset="0.219" stop-color="#fef5f5"/><stop offset="0.25" stop-color="#fef8f8"/><stop offset="0.281" stop-color="#fffaf9"/><stop offset="0.312" stop-color="#fffbfb"/><stop offset="0.344" stop-color="#fffdfd"/><stop offset="0.375" stop-color="#ffffff"/><stop offset="0.406" stop-color="#ffffff"/><stop offset="0.438" stop-color="#ffffff"/><stop offset="0.469" stop-color="#ffffff"/><stop offset="0.5" stop-color="#ffffff"/><stop offset="0.531" stop-color="#ffffff"/><stop offset="0.562" stop-color="#ffffff"/><stop offset="0.594" stop-color="#ffffff"/><stop offset="0.625" stop-color="#ffffff"/><stop offset="0.656" stop-color="#ffffff"/><stop offset="0.688" stop-color="#ffffff"/><stop offset="0.719" stop-color="#ffffff"/><stop offset="0.75" stop-color="#ffffff"/><stop offset="0.781" stop-color="#ffffff"/><stop offset="0.812" stop-color="#ffffff"/><stop offset="0.844" stop-color="#ffffff"/><stop offset="0.875" stop-color="#ffffff"/><stop offset="0.906" stop-color="#ffffff"/><stop offset="0.938" stop-color="#ffffff"/><stop offset="0.969" stop-color="#ffffff"/><stop offset="1" stop-color="#ffffff"/></linearGradient>
<linearGradient id="h71" x1="0" x2="1" y1="0" y2="0"><stop offset="0" stop-color="#fffbfa"/><stop offset="0.0312" stop-color="#fffbfa"/><stop offset="0.0625" stop-color="#fffbfa"/><stop offset="0.0938" stop-color="#fffbfa"/><stop offset="0.125" stop-color="#fffbfb"/><stop offset="0.156" stop-color="#fffbfb"/><stop offset="0.188" stop-color="#fffcfb"/><stop offset="0.219" stop-color="#fffcfc"/><stop offset="0.25" stop-color="#fffdfd"/><stop offset="0.281" stop-color="#fffefe"/><stop offset="0.312" stop-color="#ffffff"/><stop offset="0.344" stop-color="#ffffff"/><stop offset="0.375" stop-color="#ffffff"/><stop offset="0.406" stop-color="#ffffff"/><stop offset="0.438" stop-color="#ffffff"/><stop offset="0.469" stop-color="#ffffff"/><stop offset="0.5" stop-color="#ffffff"/><stop offset="0.531" stop-color="#ffffff"/><stop offset="0.562" stop-color="#ffffff"/><stop offset="0.594" stop-color="#ffffff"/><stop offset="0.625" stop-color="#ffffff"/><stop offset="0.656" stop-color="#ffffff"/><stop offset="0.688" stop-color="#ffffff"/><stop offset="0.719" stop-color="#ffffff"/><stop offset="0.75" stop-color="#ffffff"/><stop offset="0.781" stop-color="#ffffff"/><stop offset="0.812" stop-color="#ffffff"/><stop offset="0.844" stop-color="#ffffff"/><stop offset="0.875" stop-color="#ffffff"/><stop offset="0.906" stop-color="#ffffff"/><stop offset="0.938" stop-color="#ffffff"/><stop offset="0.969" stop-color="#ffffff"/><stop offset="1" stop-color="#ffffff"/></linearGradient>
<linearGradient id="h72" x1="0" x2="1" y1="0" y2="0"><stop offset="0" stop-color="#ffffff"/><stop offset="0.0312" stop-color="#ffffff"/><stop offset="0.0625" stop-color="#ffffff"/><stop offset="0.0938" stop-color="#ffffff"/><stop offset="0.125" stop-color="#ffffff"/><stop offset="0.156" stop-color="#ffffff"/><stop offset="0.188" stop-color="#ffffff"/><stop offset="0.219" stop-color="#ffffff"/><stop offset="0.25" stop-color="#ffffff"/><stop offset="0.281" stop-color="#ffffff"/><stop offset="0.312" stop-color="#ffffff"/><stop offset="0.344" stop-color="#ffffff"/><stop offset="0.375" stop-color="#ffffff"/><stop offset="0.406" stop-color="#ffffff"/><stop offset="0.438" stop-color="#ffffff"/><stop offset="0.469" stop-color="#ffffff"/><stop offset="0.5" stop-color="#ffffff"/><stop offset="0.531" stop-color="#ffffff"/><stop offset="0.562" stop-color="#ffffff"/><stop offset="0.594" stop-color="#ffffff"/><stop offset="0.625" stop-color="#ffffff"/><stop offset="0.656" stop-color="#ffffff"/><stop offset="0.688" stop-color="#ffffff"/><stop offset="0.719" stop-color="#ffffff"/><stop offset="0.75" stop-color="#ffffff"/><stop offset="0.781" stop-color="#ffffff"/><stop offset="0.812" stop-color="#ffffff"/><stop offset="0.844" stop-color="#ffffff"/><stop offset="0.875" stop-color="#ffffff"/><stop offset="0.906" stop-color="#ffffff"/><stop offset="0.938" stop-color="#ffffff"/><stop offset="0.969" stop-color="#ffffff"/><stop offset="1" stop-color="#ffffff"/></linearGradient>
<linearGradient id="h73" x1="0" x2="1" y1="0" y2="0"><stop offset="0" stop-color="#ffffff"/><stop offset="0.0312" stop-color="#ffffff"/><stop offset="0.0625" stop-color="#ffffff"/><stop offset="0.0938" stop-color="#ffffff"/><stop offset="0.125" stop-color="#ffffff"/><stop offset="0.156" stop-color="#ffffff"/><stop offset="0.188" stop-color="#ffffff"/><stop offset="0.219" stop-color="#ffffff"/><stop offset="0.25" stop-color="#ffffff"/><stop offset="0.281" stop-color="#ffffff"/><stop offset="0.312" stop-color="#ffffff"/><stop offset="0.344" stop-color="#ffffff"/><stop offset="0.375" stop-color="#ffffff"/><stop offset="0.406" stop-color="#ffffff"/><stop offset="0.438" stop-color="#ffffff"/><stop offset="0.469" stop-color="#ffffff"/><stop offset="0.5" stop-color="#ffffff"/><stop offset="0.531" stop-color="#ffffff"/><stop offset="0.562" stop-color="#ffffff"/><stop offset="0.594" stop-color="#ffffff"/><stop offset="0.625" stop-color="#ffffff"/><stop offset="0.656" stop-color="#ffffff"/><stop offset="0.688" stop-color="#ffffff"/><stop offset="0.719" stop-color="#ffffff"/><stop offset="0.75" stop-color="#ffffff"/><stop offset="0.781" stop-color="#ffffff"/><stop offset="0.812" stop-color="#ffffff"/><stop offset="0.844" stop-color="#ffffff"/><stop offset="0.875" stop-color="#ffffff"/><stop offset="0.906" stop-color="#ffffff"/><stop offset="0.938" stop-color="#ffffff"/><stop offset="0.969" stop-color="#ffffff"/><stop offset="1" stop-color="#ffffff"/></linearGradient>
<linearGradient id="h74" x1="0" x2="1" y1="0" y2="0"><stop offset="0" stop-color="#ffffff"/><stop offset="0.0312" stop-color="#ffffff"/><stop offset="0.0625" stop-color="#ffffff"/><stop offset="0.0938" stop-color="#ffffff"/><stop offset="0.125" stop-color="#ffffff"/><stop offset="0.156" stop-color="#ffffff"/><stop offset="0.188" stop-color="#ffffff"/><stop offset="0.219" stop-color="#ffffff"/><stop offset="0.25" stop-color="#ffffff"/><stop offset="0.281" stop-color="#ffffff"/><stop offset="0.312" stop-color="#ffffff"/><stop offset="0.344" stop-color="#ffffff"/><stop offset="0.375" stop-color="#ffffff"/><stop offset="0.406" stop-color="#ffffff"/><stop offset="0.438" stop-color="#ffffff"/><stop offset="0.469" stop-color="#ffffff"/><stop offset="0.5" stop-color="#ffffff"/><stop offset="0.531" stop-color="#ffffff"/><stop offset="0.562" stop-color="#ffffff"/><stop offset="0.594" stop-color="#ffffff"/><stop offset="0.625" stop-color="#ffffff"/><stop offset="0.656" stop-color="#ffffff"/><stop offset="0.688" stop-color="#ffffff"/><stop offset="0.719" stop-color="#ffffff"/><stop offset="0.75" stop-color="#ffffff"/><stop offset="0.781" stop-color="#ffffff"/><stop offset="0.812" stop-color="#ffffff"/><stop offset="0.844" stop-color="#ffffff"/><stop offset="0.875" stop-color="#ffffff"/><stop offset="0.906" stop-color="#ffffff"/><stop offset="0.938" stop-color="#ffffff"/><stop offset="0.969" stop-color="#ffffff"/><stop offset="1" stop-color="#ffffff"/></linearGradient>
<linearGradient id="h75" x1="0" x2="1" y1="0" y2="0"><stop offset="0" stop-color="#ffffff"/><stop offset="0.0312" stop-color="#ffffff"/><stop offset="0.0625" stop-color="#ffffff"/><stop offset="0.0938" stop-color="#ffffff"/><stop offset="0.125" stop-color="#ffffff"/><stop offset="0.156" stop-color="#ffffff"/><stop offset="0.188" stop-color="#ffffff"/><stop offset="0.219" stop-color="#ffffff"/><stop offset="0.25" stop-color="#ffffff"/><stop offset="0.281" stop-color="#ffffff"/><stop offset="0.312" stop-color="#ffffff"/><stop offset="0.344" stop-color="#ffffff"/><stop offset="0.375" stop-color="#ffffff"/><stop offset="0.406" stop-color="#ffffff"/><stop offset="0.438" stop-color="#ffffff"/><stop offset="0.469" stop-color="#ffffff"/><stop offset="0.5" stop-color="#ffffff"/><stop offset="0.531" stop-color="#ffffff"/><stop offset="0.562" stop-color="#ffffff"/><stop offset="0.594" stop-color="#ffffff"/><stop offset="0.625" stop-color="#ffffff"/><stop offset="0.656" stop-color="#ffffff"/><stop offset="0.688" stop-color="#ffffff"/><stop offset="0.719" stop-color="#ffffff"/><stop offset="0.75" stop-color="#ffffff"/><stop offset="0.781" stop-color="#ffffff"/><stop offset="0.812" stop-color="#ffffff"/><stop offset="0.844" stop-color="#ffffff"/><stop offset="0.875" stop-color="#ffffff"/><stop offset="0.906" stop-color="#ffffff"/><stop offset="0.938" stop-color="#ffffff"/><stop offset="0.969" stop-color="#ffffff"/><stop offset="1" stop-color="#ffffff"/></linearGradient>
<linearGradient id="cb" x1="0" x2="0" y1="0" y2="1"><stop offset="0.000" stop-color="#761610"/><stop offset="0.050" stop-color="#7b1711"/><stop offset="0.100" stop-color="#881912"/><stop offset="0.150" stop-color="#941b14"/><stop offset="0.200" stop-color="#a01d15"/><stop offset="0.250" stop-color="#ac1f17"/><stop offset="0.300" stop-color="#b72018"/><stop offset="0.350" stop-color="#c22219"/><stop offset="0.400" stop-color="#cc231a"/><stop offset="0.450" stop-color="#d5251b"/><stop offset="0.500" stop-color="#de271c"/><stop offset="0.550" stop-color="#e43528"/><stop offset="0.600" stop-color="#e9473a"/><stop offset="0.650" stop-color="#ed5f53"/><stop offset="0.700" stop-color="#f0786e"/><stop offset="0.750" stop-color="#f4928a"/><stop offset="0.800" stop-color="#f7aca7"/><stop offset="0.850" stop-color="#f9c4c1"/><stop offset="0.900" stop-color="#fcddda"/><stop offset="0.950" stop-color="#fdeeed"/><stop offset="1.000" stop-color="#ffffff"/></linearGradient></defs>
<g id="gridA"><line x1="40.0" y1="275.0" x2="92.9" y2="196.7" stroke="#bababa" stroke-width="0.8" stroke-dasharray="0.8 2.9" fill="none"/>
<line x1="97.5" y1="278.1" x2="150.4" y2="199.8" stroke="#bababa" stroke-width="0.8" stroke-dasharray="0.8 2.9" fill="none"/>
<line x1="155.0" y1="281.1" x2="207.9" y2="202.8" stroke="#bababa" stroke-width="0.8" stroke-dasharray="0.8 2.9" fill="none"/>
<line x1="212.5" y1="284.2" x2="265.4" y2="205.9" stroke="#bababa" stroke-width="0.8" stroke-dasharray="0.8 2.9" fill="none"/>
<line x1="270.0" y1="287.2" x2="322.9" y2="208.9" stroke="#bababa" stroke-width="0.8" stroke-dasharray="0.8 2.9" fill="none"/>
<line x1="327.5" y1="290.3" x2="380.4" y2="212.0" stroke="#bababa" stroke-width="0.8" stroke-dasharray="0.8 2.9" fill="none"/>
<line x1="92.9" y1="196.7" x2="380.4" y2="212.0" stroke="#bababa" stroke-width="0.8" stroke-dasharray="0.8 2.9" fill="none"/>
<line x1="79.7" y1="216.3" x2="367.2" y2="231.6" stroke="#bababa" stroke-width="0.8" stroke-dasharray="0.8 2.9" fill="none"/>
<line x1="66.5" y1="235.8" x2="353.9" y2="251.2" stroke="#bababa" stroke-width="0.8" stroke-dasharray="0.8 2.9" fill="none"/>
<line x1="53.2" y1="255.4" x2="340.7" y2="270.7" stroke="#bababa" stroke-width="0.8" stroke-dasharray="0.8 2.9" fill="none"/>
<line x1="40.0" y1="275.0" x2="327.5" y2="290.3" stroke="#bababa" stroke-width="0.8" stroke-dasharray="0.8 2.9" fill="none"/>
<line x1="92.9" y1="196.7" x2="92.9" y2="0.7" stroke="#bababa" stroke-width="0.8" stroke-dasharray="0.8 2.9" fill="none"/>
<line x1="150.4" y1="199.8" x2="150.4" y2="3.8" stroke="#bababa" stroke-width="0.8" stroke-dasharray="0.8 2.9" fill="none"/>
<line x1="207.9" y1="202.8" x2="207.9" y2="6.8" stroke="#bababa" stroke-width="0.8" stroke-dasharray="0.8 2.9" fill="none"/>
<line x1="265.4" y1="205.9" x2="265.4" y2="9.9" stroke="#bababa" stroke-width="0.8" stroke-dasharray="0.8 2.9" fill="none"/>
<line x1="322.9" y1="208.9" x2="322.9" y2="12.9" stroke="#bababa" stroke-width="0.8" stroke-dasharray="0.8 2.9" fill="none"/>
<line x1="380.4" y1="212.0" x2="380.4" y2="16.0" stroke="#bababa" stroke-width="0.8" stroke-dasharray="0.8 2.9" fill="none"/>
<line x1="92.9" y1="196.7" x2="380.4" y2="212.0" stroke="#bababa" stroke-width="0.8" stroke-dasharray="0.8 2.9" fill="none"/>
<line x1="92.9" y1="172.2" x2="380.4" y2="187.5" stroke="#bababa" stroke-width="0.8" stroke-dasharray="0.8 2.9" fill="none"/>
<line x1="92.9" y1="147.7" x2="380.4" y2="163.0" stroke="#bababa" stroke-width="0.8" stroke-dasharray="0.8 2.9" fill="none"/>
<line x1="92.9" y1="123.2" x2="380.4" y2="138.5" stroke="#bababa" stroke-width="0.8" stroke-dasharray="0.8 2.9" fill="none"/>
<line x1="92.9" y1="98.7" x2="380.4" y2="114.0" stroke="#bababa" stroke-width="0.8" stroke-dasharray="0.8 2.9" fill="none"/>
<line x1="92.9" y1="74.2" x2="380.4" y2="89.5" stroke="#bababa" stroke-width="0.8" stroke-dasharray="0.8 2.9" fill="none"/>
<line x1="92.9" y1="49.7" x2="380.4" y2="65.0" stroke="#bababa" stroke-width="0.8" stroke-dasharray="0.8 2.9" fill="none"/>
<line x1="92.9" y1="25.2" x2="380.4" y2="40.5" stroke="#bababa" stroke-width="0.8" stroke-dasharray="0.8 2.9" fill="none"/>
<line x1="92.9" y1="0.7" x2="380.4" y2="16.0" stroke="#bababa" stroke-width="0.8" stroke-dasharray="0.8 2.9" fill="none"/>
<line x1="92.9" y1="196.7" x2="92.9" y2="0.7" stroke="#bababa" stroke-width="0.8" stroke-dasharray="0.8 2.9" fill="none"/>
<line x1="79.7" y1="216.3" x2="79.7" y2="20.3" stroke="#bababa" stroke-width="0.8" stroke-dasharray="0.8 2.9" fill="none"/>
<line x1="66.5" y1="235.8" x2="66.5" y2="39.8" stroke="#bababa" stroke-width="0.8" stroke-dasharray="0.8 2.9" fill="none"/>
<line x1="53.2" y1="255.4" x2="53.2" y2="59.4" stroke="#bababa" stroke-width="0.8" stroke-dasharray="0.8 2.9" fill="none"/>
<line x1="40.0" y1="275.0" x2="40.0" y2="79.0" stroke="#bababa" stroke-width="0.8" stroke-dasharray="0.8 2.9" fill="none"/>
<line x1="40.0" y1="275.0" x2="92.9" y2="196.7" stroke="#bababa" stroke-width="0.8" stroke-dasharray="0.8 2.9" fill="none"/>
<line x1="40.0" y1="250.5" x2="92.9" y2="172.2" stroke="#bababa" stroke-width="0.8" stroke-dasharray="0.8 2.9" fill="none"/>
<line x1="40.0" y1="226.0" x2="92.9" y2="147.7" stroke="#bababa" stroke-width="0.8" stroke-dasharray="0.8 2.9" fill="none"/>
<line x1="40.0" y1="201.5" x2="92.9" y2="123.2" stroke="#bababa" stroke-width="0.8" stroke-dasharray="0.8 2.9" fill="none"/>
<line x1="40.0" y1="177.0" x2="92.9" y2="98.7" stroke="#bababa" stroke-width="0.8" stroke-dasharray="0.8 2.9" fill="none"/>
<line x1="40.0" y1="152.5" x2="92.9" y2="74.2" stroke="#bababa" stroke-width="0.8" stroke-dasharray="0.8 2.9" fill="none"/>
<line x1="40.0" y1="128.0" x2="92.9" y2="49.7" stroke="#bababa" stroke-width="0.8" stroke-dasharray="0.8 2.9" fill="none"/>
<line x1="40.0" y1="103.5" x2="92.9" y2="25.2" stroke="#bababa" stroke-width="0.8" stroke-dasharray="0.8 2.9" fill="none"/>
<line x1="40.0" y1="79.0" x2="92.9" y2="0.7" stroke="#bababa" stroke-width="0.8" stroke-dasharray="0.8 2.9" fill="none"/></g>
<g id="surf"><path color="#ebf3fb" d="M98.6 14.9l-5.7-2-1.3 2 5.7 2z"/>
<path color="#e9f2fb" d="M104.4 16.8l-5.8-1.9-1.3 2 5.8 2z"/>
<path color="#e7f1fa" d="M110.2 19.9l-5.8-3.1-1.3 2.1 5.7 2.8z"/>
<path color="#e3eef9" d="M115.9 23.3l-5.7-3.4-1.4 1.8 5.8 3.4z"/>
<path color="#ddeaf9" d="M121.6 26.8l-5.7-3.5-1.3 1.8 5.7 3.4z"/>
<path color="#d7e6f8" d="M127.4 30.3l-5.8-3.5-1.3 1.7 5.8 3.4z"/>
<path color="#d1e2f7" d="M133.2 33.9l-5.8-3.6-1.3 1.6 5.7 3.5z"/>
<path color="#cbdef6" d="M138.9 37.5l-5.7-3.6-1.4 1.5 5.8 3.6z"/>
<path color="#c2d8f3" d="M144.6 41.4l-5.7-3.9-1.3 1.5 5.7 3.8z"/>
<path color="#b6cff0" d="M150.4 45.3l-5.8-3.9-1.3 1.4 5.8 3.9z"/>
<path color="#a8c6eb" d="M156.2 49.9l-5.8-4.6-1.3 1.4 5.7 3.9z"/>
<path color="#98bae7" d="M161.9 55.2l-5.7-5.3-1.4 .7 5.8 5z"/>
<path color="#8eb3e3" d="M167.6 60.5l-5.7-5.3-1.3 .4 5.7 5.2z"/>
<path color="#84abe0" d="M173.4 66.7l-5.8-6.2-1.3 .3 5.8 5.3z"/>
<path color="#79a3dc" d="M179.2 73l-5.8-6.3-1.3-.6 5.7 6.2z"/>
<path color="#6e9bd8" d="M184.9 79.4l-5.7-6.4-1.4-.7 5.8 6.4z"/>
<path color="#6392d5" d="M190.6 85.8l-5.7-6.4-1.3-.7 5.7 6.3z"/>
<path color="#5e8dd4" d="M196.4 92.1l-5.8-6.3-1.3-.8 5.8 6.2z"/>
<path color="#5c8bd3" d="M202.2 96.3l-5.8-4.2-1.3-.9 5.7 6.2z"/>
<path color="#5b89d3" d="M207.9 99.7l-5.7-3.4-1.4 1.1 5.8 4.6z"/>
<path color="#5a88d3" d="M213.6 101l-5.7-1.3-1.3 2.3 5.7 3.8z"/>
<path color="#5c8ad3" d="M219.4 98.6l-5.8 2.4-1.3 4.8 5.8 2.1z"/>
<path color="#6292d4" d="M225.2 88.2l-5.8 10.4-1.3 9.3 5.7-3.2z"/>
<path color="#94b8e5" d="M230.9 60.4l-5.7 27.8-1.4 16.5 5.8-4z"/>
<path color="#cddff6" d="M236.6 41.8l-5.7 18.6-1.3 40.3 5.7-5.3z"/>
<path color="#d3e3f7" d="M242.4 38.7l-5.8 3.1-1.3 53.6 5.8-5.6z"/>
<path color="#d6e5f7" d="M248.2 37.5l-5.8 1.2-1.3 51.1 5.7-6.3z"/>
<path color="#d7e6f8" d="M253.9 36.8l-5.7 .7-1.4 46 5.8-6.4z"/>
<path color="#d9e7f8" d="M259.7 36.5l-5.8 .3-1.3 40.3 5.7-6.2z"/>
<path color="#d9e8f8" d="M265.4 36.3l-5.7 .2-1.4 34.4 5.8-6.2z"/>
<path color="#dae8f8" d="M268.3 36.2l-2.9 .1-1.3 28.4 2.9-2.8z"/>
<path color="#dae8f8" d="M271.2 36.2l-2.9 0-1.3 25.7 2.8-2.8z"/>
<path color="#dbe9f8" d="M274 36.1l-2.8 .1-1.4 22.9 2.9-2.8z"/>
<path color="#dbe9f8" d="M276.9 36l-2.9 .1-1.3 20.2 2.9-2.7z"/>
<path color="#dce9f8" d="M279.8 35.9l-2.9 .1-1.3 17.6 2.9-2.3z"/>
<path color="#dce9f8" d="M282.6 35.8l-2.8 .1-1.3 15.4 2.8-2.3z"/>
<path color="#ddeaf8" d="M285.5 35.7l-2.9 .1-1.3 13.2 2.9-2.3z"/>
<path color="#ddeaf9" d="M288.4 35.6l-2.9 .1-1.3 11 2.9-2z"/>
<path color="#ddeaf9" d="M291.3 35.5l-2.9 .1-1.3 9.1 2.9-1.4z"/>
<path color="#deebf9" d="M294.2 35.4l-2.9 .1-1.3 7.8 2.8-1.4z"/>
<path color="#deebf9" d="M297 35.3l-2.8 .1-1.4 6.5 2.9-1.5z"/>
<path color="#dfebf9" d="M299.9 35.2l-2.9 .1-1.3 5.1 2.9-1.4z"/>
<path color="#dfecf9" d="M302.8 35.1l-2.9 .1-1.3 3.8 2.9-1.5z"/>
<path color="#e0ecf9" d="M305.6 35.1l-2.8 0-1.3 2.4 2.8-.2z"/>
<path color="#e0ecf9" d="M308.5 35l-2.9 .1-1.3 2.2 2.9-.1z"/>
<path color="#e1ecf9" d="M311.4 34.9l-2.9 .1-1.3 2.2 2.9-.1z"/>
<path color="#e1edf9" d="M314.3 34.8l-2.9 .1-1.3 2.2 2.9-.1z"/>
<path color="#e2edf9" d="M317.2 34.7l-2.9 .1-1.3 2.2 2.8-.1z"/>
<path color="#e2edf9" d="M320 34.6l-2.8 .1-1.4 2.2 2.9-.1z"/>
<path color="#e2eef9" d="M322.9 34.5l-2.9 .1-1.3 2.2 2.9-.1z"/>
<path color="#e3eefa" d="M328.6 34.3l-5.7 .2-1.3 2.2 5.7-.1z"/>
<path color="#e4effa" d="M334.4 34.1l-5.8 .2-1.3 2.3 5.8-.2z"/>
<path color="#e5effa" d="M340.2 33.9l-5.8 .2-1.3 2.3 5.7-.2z"/>
<path color="#e6f0fa" d="M345.9 33.8l-5.7 .1-1.4 2.3 5.8-.1z"/>
<path color="#e6f0fa" d="M351.6 33.6l-5.7 .2-1.3 2.3 5.7-.2z"/>
<path color="#e7f0fa" d="M357.4 33.4l-5.8 .2-1.3 2.3 5.8-.2z"/>
<path color="#e7f1fa" d="M363.2 33.2l-5.8 .2-1.3 2.3 5.7-.2z"/>
<path color="#e8f1fa" d="M368.9 33l-5.7 .2-1.4 2.3 5.8-.1z"/>
<path color="#e8f1fb" d="M374.6 32.8l-5.7 .2-1.3 2.4 5.7-.2z"/>
<path color="#ebf3fb" d="M97.3 16.9l-5.7-2-1.3 2 5.7 2z"/>
<path color="#e9f2fb" d="M103.1 18.9l-5.8-2-1.3 2 5.8 2z"/>
<path color="#e7f1fa" d="M108.8 21.7l-5.7-2.8-1.3 2 5.7 2.6z"/>
<path color="#e3eefa" d="M114.6 25.1l-5.8-3.4-1.3 1.8 5.8 3.3z"/>
<path color="#ddeaf9" d="M120.3 28.5l-5.7-3.4-1.3 1.7 5.7 3.4z"/>
<path color="#d8e6f8" d="M126.1 31.9l-5.8-3.4-1.3 1.7 5.8 3.4z"/>
<path color="#d2e3f7" d="M131.8 35.4l-5.7-3.5-1.3 1.7 5.7 3.4z"/>
<path color="#ccdff6" d="M137.6 39l-5.8-3.6-1.3 1.6 5.8 3.6z"/>
<path color="#c4d9f4" d="M143.3 42.8l-5.7-3.8-1.3 1.6 5.7 3.6z"/>
<path color="#b8d1f0" d="M149.1 46.7l-5.8-3.9-1.3 1.4 5.8 3.9z"/>
<path color="#acc9ed" d="M154.8 50.6l-5.7-3.9-1.3 1.4 5.7 3.9z"/>
<path color="#9dbee8" d="M160.6 55.6l-5.8-5-1.3 1.4 5.8 4z"/>
<path color="#91b5e4" d="M166.3 60.8l-5.7-5.2-1.3 .4 5.7 5.3z"/>
<path color="#88afe1" d="M172.1 66.1l-5.8-5.3-1.3 .5 5.8 5.1z"/>
<path color="#7da6de" d="M177.8 72.3l-5.7-6.2-1.3 .3 5.7 5.3z"/>
<path color="#739eda" d="M183.6 78.7l-5.8-6.4-1.3-.6 5.8 6.3z"/>
<path color="#6896d6" d="M189.3 85l-5.7-6.3-1.3-.7 5.7 6.3z"/>
<path color="#608fd4" d="M195.1 91.2l-5.8-6.2-1.3-.7 5.8 6.2z"/>
<path color="#5d8bd3" d="M200.8 97.4l-5.7-6.2-1.3-.7 5.7 6.2z"/>
<path color="#5a88d3" d="M206.6 102l-5.8-4.6-1.3-.7 5.8 6z"/>
<path color="#5986d3" d="M212.3 105.8l-5.7-3.8-1.3 .7 5.7 5z"/>
<path color="#5885d3" d="M218.1 107.9l-5.8-2.1-1.3 1.9 5.8 3.7z"/>
<path color="#5987d3" d="M223.8 104.7l-5.7 3.2-1.3 3.5 5.7 2.8z"/>
<path color="#5c8ad3" d="M229.6 100.7l-5.8 4-1.3 9.5 5.8-.9z"/>
<path color="#5f8ed4" d="M235.3 95.4l-5.7 5.3-1.3 12.6 5.7-3.9z"/>
<path color="#6493d5" d="M241.1 89.8l-5.8 5.6-1.3 14 5.8-4.4z"/>
<path color="#709cd9" d="M246.8 83.5l-5.7 6.3-1.3 15.2 5.7-5.4z"/>
<path color="#7ca5dd" d="M252.6 77.1l-5.8 6.4-1.3 16.1 5.8-5.6z"/>
<path color="#88aee1" d="M258.3 70.9l-5.7 6.2-1.3 16.9 5.7-6.3z"/>
<path color="#93b7e5" d="M264.1 64.7l-5.8 6.2-1.3 16.8 5.8-6.3z"/>
<path color="#9bbce7" d="M267 61.9l-2.9 2.8-1.3 16.7 2.8-3z"/>
<path color="#a4c3ea" d="M269.8 59.1l-2.8 2.8-1.4 16.5 2.9-3z"/>
<path color="#aecaed" d="M272.7 56.3l-2.9 2.8-1.3 16.3 2.9-3.1z"/>
<path color="#b7d0f0" d="M275.6 53.6l-2.9 2.7-1.3 16 2.9-3z"/>
<path color="#bfd6f2" d="M278.5 51.3l-2.9 2.3-1.3 15.7 2.8-2.8z"/>
<path color="#c7dbf5" d="M281.3 49l-2.8 2.3-1.4 15.2 2.9-2.7z"/>
<path color="#ccdff6" d="M284.2 46.7l-2.9 2.3-1.3 14.8 2.9-2.8z"/>
<path color="#d0e1f6" d="M287.1 44.7l-2.9 2-1.3 14.3 2.9-2.8z"/>
<path color="#d3e3f7" d="M290 43.3l-2.9 1.4-1.3 13.5 2.8-2.4z"/>
<path color="#d6e5f7" d="M292.8 41.9l-2.8 1.4-1.4 12.5 2.9-2.2z"/>
<path color="#d9e7f8" d="M295.7 40.4l-2.9 1.5-1.3 11.7 2.9-2.3z"/>
<path color="#dce9f8" d="M298.6 39l-2.9 1.4-1.3 10.9 2.9-2.3z"/>
<path color="#dfebf9" d="M301.5 37.5l-2.9 1.5-1.3 10 2.8-1.9z"/>
<path color="#dfecf9" d="M304.3 37.3l-2.8 .2-1.4 9.6 2.9-1.4z"/>
<path color="#e0ecf9" d="M307.2 37.2l-2.9 .1-1.3 8.4 2.9-1.4z"/>
<path color="#e0ecf9" d="M310.1 37.1l-2.9 .1-1.3 7.1 2.9-1.4z"/>
<path color="#e1ecf9" d="M313 37l-2.9 .1-1.3 5.8 2.8-1.5z"/>
<path color="#e1edf9" d="M315.8 36.9l-2.8 .1-1.4 4.4 2.9-1.4z"/>
<path color="#e1edf9" d="M318.7 36.8l-2.9 .1-1.3 3.1 2.9-.9z"/>
<path color="#e2edf9" d="M321.6 36.7l-2.9 .1-1.3 2.3 2.9-.1z"/>
<path color="#e3eef9" d="M327.3 36.6l-5.7 .1-1.3 2.3 5.7-.2z"/>
<path color="#e4eefa" d="M333.1 36.4l-5.8 .2-1.3 2.2 5.8-.1z"/>
<path color="#e5effa" d="M338.8 36.2l-5.7 .2-1.3 2.3 5.7-.2z"/>
<path color="#e5f0fa" d="M344.6 36.1l-5.8 .1-1.3 2.3 5.8-.1z"/>
<path color="#e6f0fa" d="M350.3 35.9l-5.7 .2-1.3 2.3 5.7-.2z"/>
<path color="#e7f0fa" d="M356.1 35.7l-5.8 .2-1.3 2.3 5.8-.2z"/>
<path color="#e7f1fa" d="M361.8 35.5l-5.7 .2-1.3 2.3 5.7-.1z"/>
<path color="#e7f1fa" d="M367.6 35.4l-5.8 .1-1.3 2.4 5.8-.2z"/>
<path color="#e8f1fb" d="M373.3 35.2l-5.7 .2-1.3 2.3 5.7-.1z"/>
<path color="#ebf3fb" d="M96 18.9l-5.7-2-1.4 2 5.8 2z"/>
<path color="#e9f2fb" d="M101.8 20.9l-5.8-2-1.3 2 5.7 2z"/>
<path color="#e7f1fa" d="M107.5 23.5l-5.7-2.6-1.4 2 5.8 2.4z"/>
<path color="#e3eefa" d="M113.3 26.8l-5.8-3.3-1.3 1.8 5.7 3.3z"/>
<path color="#deebf9" d="M119 30.2l-5.7-3.4-1.4 1.8 5.8 3.4z"/>
<path color="#d8e7f8" d="M124.8 33.6l-5.8-3.4-1.3 1.8 5.7 3.4z"/>
<path color="#d2e3f7" d="M130.5 37l-5.7-3.4-1.4 1.8 5.8 3.4z"/>
<path color="#cddff6" d="M136.3 40.6l-5.8-3.6-1.3 1.8 5.7 3.5z"/>
<path color="#c5daf4" d="M142 44.2l-5.7-3.6-1.4 1.7 5.8 3.5z"/>
<path color="#bad2f1" d="M147.8 48.1l-5.8-3.9-1.3 1.6 5.7 3.9z"/>
<path color="#aecaed" d="M153.5 52l-5.7-3.9-1.4 1.6 5.8 3.9z"/>
<path color="#a2c1ea" d="M159.3 56l-5.8-4-1.3 1.6 5.7 3.9z"/>
<path color="#94b7e5" d="M165 61.3l-5.7-5.3-1.4 1.5 5.8 4.6z"/>
<path color="#8bb1e2" d="M170.8 66.4l-5.8-5.1-1.3 .8 5.7 5.1z"/>
<path color="#82aadf" d="M176.5 71.7l-5.7-5.3-1.4 .8 5.8 5.2z"/>
<path color="#77a2dc" d="M182.3 78l-5.8-6.3-1.3 .7 5.7 5.5z"/>
<path color="#6c9ad8" d="M188 84.3l-5.7-6.3-1.4-.1 5.8 6.2z"/>
<path color="#6292d4" d="M193.8 90.5l-5.8-6.2-1.3-.2 5.7 6.4z"/>
<path color="#5e8dd4" d="M199.5 96.7l-5.7-6.2-1.4 0 5.8 6.2z"/>
<path color="#5b89d3" d="M205.3 102.7l-5.8-6-1.3 0 5.7 6z"/>
<path color="#5986d3" d="M211 107.7l-5.7-5-1.4 0 5.8 6z"/>
<path color="#5784d2" d="M216.8 111.4l-5.8-3.7-1.3 1 5.7 5z"/>
<path color="#5582d2" d="M222.5 114.2l-5.7-2.8-1.4 2.3 5.8 3.7z"/>
<path color="#5683d2" d="M228.3 113.3l-5.8 .9-1.3 3.2 5.7 3.3z"/>
<path color="#5886d3" d="M234 109.4l-5.7 3.9-1.4 7.4 5.8 .6z"/>
<path color="#5b89d3" d="M239.8 105l-5.8 4.4-1.3 11.9 5.7-3.8z"/>
<path color="#5e8dd4" d="M245.5 99.6l-5.7 5.4-1.4 12.5 5.8-3.9z"/>
<path color="#6191d4" d="M251.3 94l-5.8 5.6-1.3 14 5.7-5.1z"/>
<path color="#6d9ad8" d="M257 87.7l-5.7 6.3-1.4 14.5 5.8-5.4z"/>
<path color="#79a3dc" d="M262.8 81.4l-5.8 6.3-1.3 15.4 5.7-5.8z"/>
<path color="#7fa7de" d="M265.6 78.4l-2.8 3-1.4 15.9 2.9-3z"/>
<path color="#84ace0" d="M268.5 75.4l-2.9 3-1.3 15.9 2.9-3.1z"/>
<path color="#8ab0e2" d="M271.4 72.3l-2.9 3.1-1.3 15.8 2.9-3.1z"/>
<path color="#90b4e4" d="M274.3 69.3l-2.9 3-1.3 15.8 2.8-3.1z"/>
<path color="#95b8e6" d="M277.1 66.5l-2.8 2.8-1.4 15.7 2.9-2.9z"/>
<path color="#9ebee8" d="M280 63.8l-2.9 2.7-1.3 15.6 2.9-3z"/>
<path color="#a7c5eb" d="M282.9 61l-2.9 2.8-1.3 15.3 2.9-3z"/>
<path color="#b1ccee" d="M285.8 58.2l-2.9 2.8-1.3 15.1 2.8-3z"/>
<path color="#b9d2f1" d="M288.6 55.8l-2.8 2.4-1.4 14.9 2.9-2.7z"/>
<path color="#c1d7f3" d="M291.5 53.6l-2.9 2.2-1.3 14.6 2.9-2.7z"/>
<path color="#c8dcf5" d="M294.4 51.3l-2.9 2.3-1.3 14.1 2.9-2.7z"/>
<path color="#cddff6" d="M297.3 49l-2.9 2.3-1.3 13.7 2.8-2.7z"/>
<path color="#d1e2f6" d="M300.1 47.1l-2.8 1.9-1.4 13.3 2.9-2.6z"/>
<path color="#d4e4f7" d="M303 45.7l-2.9 1.4-1.3 12.6 2.9-2.2z"/>
<path color="#d6e6f7" d="M305.9 44.3l-2.9 1.4-1.3 11.8 2.9-2.2z"/>
<path color="#d9e7f8" d="M308.8 42.9l-2.9 1.4-1.3 11 2.8-2.2z"/>
<path color="#dce9f8" d="M311.6 41.4l-2.8 1.5-1.4 10.2 2.9-2.3z"/>
<path color="#dfebf9" d="M314.5 40l-2.9 1.4-1.3 9.4 2.9-1.7z"/>
<path color="#e1edf9" d="M317.4 39.1l-2.9 .9-1.3 9.1 2.9-1.3z"/>
<path color="#e1edf9" d="M320.3 39l-2.9 .1-1.3 8.7 2.8-1.4z"/>
<path color="#e2edf9" d="M326 38.8l-5.7 .2-1.4 7.4 5.8-2.8z"/>
<path color="#e3eefa" d="M331.8 38.7l-5.8 .1-1.3 4.8 5.7-2.7z"/>
<path color="#e4effa" d="M337.5 38.5l-5.7 .2-1.4 2.2 5.8-.1z"/>
<path color="#e5effa" d="M343.3 38.4l-5.8 .1-1.3 2.3 5.7-.1z"/>
<path color="#e6f0fa" d="M349 38.2l-5.7 .2-1.4 2.3 5.8-.2z"/>
<path color="#e6f0fa" d="M354.8 38l-5.8 .2-1.3 2.3 5.7-.1z"/>
<path color="#e7f0fa" d="M360.5 37.9l-5.7 .1-1.4 2.4 5.8-.2z"/>
<path color="#e7f1fa" d="M366.3 37.7l-5.8 .2-1.3 2.3 5.7-.1z"/>
<path color="#e7f1fa" d="M372 37.6l-5.7 .1-1.4 2.4 5.8-.2z"/>
<path color="#ebf3fb" d="M94.7 20.9l-5.8-2-1.3 2 5.8 2z"/>
<path color="#e9f2fb" d="M100.4 22.9l-5.7-2-1.3 2 5.7 2z"/>
<path color="#e7f1fa" d="M106.2 25.3l-5.8-2.4-1.3 2 5.8 2.3z"/>
<path color="#e4eefa" d="M111.9 28.6l-5.7-3.3-1.3 1.9 5.7 3.3z"/>
<path color="#deebf9" d="M117.7 32l-5.8-3.4-1.3 1.9 5.8 3.3z"/>
<path color="#d9e7f8" d="M123.4 35.4l-5.7-3.4-1.3 1.8 5.7 3.4z"/>
<path color="#d3e3f7" d="M129.2 38.8l-5.8-3.4-1.3 1.8 5.8 3.4z"/>
<path color="#cddff6" d="M134.9 42.3l-5.7-3.5-1.3 1.8 5.7 3.4z"/>
<path color="#c6dbf5" d="M140.7 45.8l-5.8-3.5-1.3 1.7 5.8 3.6z"/>
<path color="#bbd3f1" d="M146.4 49.7l-5.7-3.9-1.3 1.8 5.7 3.7z"/>
<path color="#afcbee" d="M152.2 53.6l-5.8-3.9-1.3 1.6 5.8 3.9z"/>
<path color="#a3c2ea" d="M157.9 57.5l-5.7-3.9-1.3 1.6 5.7 4z"/>
<path color="#96b9e6" d="M163.7 62.1l-5.8-4.6-1.3 1.7 5.8 3.9z"/>
<path color="#8db2e3" d="M169.4 67.2l-5.7-5.1-1.3 1 5.7 5z"/>
<path color="#84ace0" d="M175.2 72.4l-5.8-5.2-1.3 .9 5.8 5.1z"/>
<path color="#7ba5dd" d="M180.9 77.9l-5.7-5.5-1.3 .8 5.7 5.2z"/>
<path color="#709dd9" d="M186.7 84.1l-5.8-6.2-1.3 .5 5.8 5.7z"/>
<path color="#6594d6" d="M192.4 90.5l-5.7-6.4-1.3 0 5.7 6.2z"/>
<path color="#5f8fd4" d="M198.2 96.7l-5.8-6.2-1.3-.2 5.8 6.4z"/>
<path color="#5c8bd3" d="M203.9 102.7l-5.7-6-1.3 0 5.7 6.2z"/>
<path color="#5987d3" d="M209.7 108.7l-5.8-6-1.3 .2 5.8 5.9z"/>
<path color="#5783d2" d="M215.4 113.7l-5.7-5-1.3 .1 5.7 5.8z"/>
<path color="#5581d2" d="M221.2 117.4l-5.8-3.7-1.3 .9 5.8 5.2z"/>
<path color="#537ed2" d="M226.9 120.7l-5.7-3.3-1.3 2.4 5.7 3.6z"/>
<path color="#537ed2" d="M232.7 121.3l-5.8-.6-1.3 2.7 5.8 3.7z"/>
<path color="#5582d2" d="M238.4 117.5l-5.7 3.8-1.3 5.8 5.7 2.1z"/>
<path color="#5785d3" d="M244.2 113.6l-5.8 3.9-1.3 11.7 5.8-3.7z"/>
<path color="#5a88d3" d="M249.9 108.5l-5.7 5.1-1.3 11.9 5.7-3.8z"/>
<path color="#5d8cd3" d="M255.7 103.1l-5.8 5.4-1.3 13.2 5.8-4.5z"/>
<path color="#6190d4" d="M261.4 97.3l-5.7 5.8-1.3 14.1 5.7-5.2z"/>
<path color="#6594d6" d="M264.3 94.3l-2.9 3-1.3 14.7 2.9-2.6z"/>
<path color="#6b99d8" d="M267.2 91.2l-2.9 3.1-1.3 15.1 2.9-2.6z"/>
<path color="#719dda" d="M270.1 88.1l-2.9 3.1-1.3 15.6 2.8-3z"/>
<path color="#77a2db" d="M272.9 85l-2.8 3.1-1.4 15.7 2.9-3z"/>
<path color="#7da6dd" d="M275.8 82.1l-2.9 2.9-1.3 15.8 2.9-3.1z"/>
<path color="#82aadf" d="M278.7 79.1l-2.9 3-1.3 15.6 2.9-3z"/>
<path color="#88aee1" d="M281.6 76.1l-2.9 3-1.3 15.6 2.8-3.1z"/>
<path color="#8eb3e3" d="M284.4 73.1l-2.8 3-1.4 15.5 2.9-2.9z"/>
<path color="#93b7e5" d="M287.3 70.4l-2.9 2.7-1.3 15.6 2.9-2.9z"/>
<path color="#99bbe7" d="M290.2 67.7l-2.9 2.7-1.3 15.4 2.9-2.9z"/>
<path color="#a3c2ea" d="M293.1 65l-2.9 2.7-1.3 15.2 2.8-3z"/>
<path color="#acc8ed" d="M295.9 62.3l-2.8 2.7-1.4 14.9 2.9-2.9z"/>
<path color="#b5cfef" d="M298.8 59.7l-2.9 2.6-1.3 14.7 2.9-2.7z"/>
<path color="#bcd4f2" d="M301.7 57.5l-2.9 2.2-1.3 14.6 2.9-2.6z"/>
<path color="#c4d9f4" d="M304.6 55.3l-2.9 2.2-1.3 14.2 2.8-2.7z"/>
<path color="#caddf5" d="M307.4 53.1l-2.8 2.2-1.4 13.7 2.9-2.6z"/>
<path color="#cee0f6" d="M310.3 50.8l-2.9 2.3-1.3 13.3 2.9-2.7z"/>
<path color="#d2e3f7" d="M313.2 49.1l-2.9 1.7-1.3 12.9 2.9-2.2z"/>
<path color="#d5e4f7" d="M316.1 47.8l-2.9 1.3-1.3 12.4 2.8-2.2z"/>
<path color="#d7e6f8" d="M318.9 46.4l-2.8 1.4-1.4 11.5 2.9-2.2z"/>
<path color="#ddeaf9" d="M324.7 43.6l-5.8 2.8-1.3 10.7 5.8-4.4z"/>
<path color="#e2eef9" d="M330.4 40.9l-5.7 2.7-1.3 9.1 5.7-2.8z"/>
<path color="#e3eefa" d="M336.2 40.8l-5.8 .1-1.3 9 5.8-2.7z"/>
<path color="#e4effa" d="M341.9 40.7l-5.7 .1-1.3 6.4 5.7-2.7z"/>
<path color="#e5effa" d="M347.7 40.5l-5.8 .2-1.3 3.8 5.8-1.7z"/>
<path color="#e6f0fa" d="M353.4 40.4l-5.7 .1-1.3 2.3 5.7-.1z"/>
<path color="#e6f0fa" d="M359.2 40.2l-5.8 .2-1.3 2.3 5.8-.2z"/>
<path color="#e7f0fa" d="M364.9 40.1l-5.7 .1-1.3 2.3 5.7-.1z"/>
<path color="#e7f1fa" d="M370.7 39.9l-5.8 .2-1.3 2.3 5.8-.1z"/>
<path color="#ebf3fb" d="M93.4 22.9l-5.8-2-1.3 2 5.7 2z"/>
<path color="#e9f2fb" d="M99.1 24.9l-5.7-2-1.4 2 5.8 2.1z"/>
<path color="#e8f1fa" d="M104.9 27.2l-5.8-2.3-1.3 2.1 5.7 2.1z"/>
<path color="#e4effa" d="M110.6 30.5l-5.7-3.3-1.4 1.9 5.8 3.3z"/>
<path color="#deebf9" d="M116.4 33.8l-5.8-3.3-1.3 1.9 5.7 3.3z"/>
<path color="#d9e7f8" d="M122.1 37.2l-5.7-3.4-1.4 1.9 5.8 3.4z"/>
<path color="#d3e3f7" d="M127.9 40.6l-5.8-3.4-1.3 1.9 5.7 3.4z"/>
<path color="#cde0f6" d="M133.6 44l-5.7-3.4-1.4 1.9 5.8 3.4z"/>
<path color="#c7dbf5" d="M139.4 47.6l-5.8-3.6-1.3 1.9 5.7 3.5z"/>
<path color="#bcd4f1" d="M145.1 51.3l-5.7-3.7-1.4 1.8 5.8 3.7z"/>
<path color="#b0cbee" d="M150.9 55.2l-5.8-3.9-1.3 1.8 5.7 3.9z"/>
<path color="#a5c3ea" d="M156.6 59.2l-5.7-4-1.4 1.8 5.8 4z"/>
<path color="#99bbe7" d="M162.4 63.1l-5.8-3.9-1.3 1.8 5.7 4z"/>
<path color="#8fb4e4" d="M168.1 68.1l-5.7-5-1.4 1.9 5.8 4.4z"/>
<path color="#86ade1" d="M173.9 73.2l-5.8-5.1-1.3 1.3 5.7 5.2z"/>
<path color="#7ea7de" d="M179.6 78.4l-5.7-5.2-1.4 1.4 5.8 5.1z"/>
<path color="#749fda" d="M185.4 84.1l-5.8-5.7-1.3 1.3 5.7 5.2z"/>
<path color="#6997d7" d="M191.1 90.3l-5.7-6.2-1.4 .8 5.8 6.1z"/>
<path color="#6090d4" d="M196.9 96.7l-5.8-6.4-1.3 .7 5.7 6.4z"/>
<path color="#5d8cd3" d="M202.6 102.9l-5.7-6.2-1.4 .7 5.8 6.3z"/>
<path color="#5a88d3" d="M208.4 108.8l-5.8-5.9-1.3 .8 5.7 6.1z"/>
<path color="#5784d2" d="M214.1 114.6l-5.7-5.8-1.4 1 5.8 5.9z"/>
<path color="#5581d2" d="M219.9 119.8l-5.8-5.2-1.3 1.1 5.7 5.6z"/>
<path color="#527dd1" d="M225.6 123.4l-5.7-3.6-1.4 1.5 5.8 4.7z"/>
<path color="#5078d1" d="M231.4 127.1l-5.8-3.7-1.3 2.6 5.7 3.6z"/>
<path color="#4f76d0" d="M237.1 129.2l-5.7-2.1-1.4 2.5 5.8 3.6z"/>
<path color="#527bd1" d="M242.9 125.5l-5.8 3.7-1.3 4 5.7 1.5z"/>
<path color="#5481d2" d="M248.6 121.7l-5.7 3.8-1.4 9.2 5.8-3.6z"/>
<path color="#5784d2" d="M254.4 117.2l-5.8 4.5-1.3 9.4 5.7-3.6z"/>
<path color="#5a88d3" d="M260.1 112l-5.7 5.2-1.4 10.3 5.8-4.3z"/>
<path color="#5b8ad3" d="M263 109.4l-2.9 2.6-1.3 11.2 2.9-2.5z"/>
<path color="#5d8cd3" d="M265.9 106.8l-2.9 2.6-1.3 11.3 2.8-2.5z"/>
<path color="#5e8ed4" d="M268.7 103.8l-2.8 3-1.4 11.4 2.9-2.6z"/>
<path color="#6090d4" d="M271.6 100.8l-2.9 3-1.3 11.8 2.9-2.5z"/>
<path color="#6493d5" d="M274.5 97.7l-2.9 3.1-1.3 12.3 2.9-2.7z"/>
<path color="#6a97d7" d="M277.4 94.7l-2.9 3-1.3 12.7 2.8-3z"/>
<path color="#6f9cd9" d="M280.2 91.6l-2.8 3.1-1.4 12.7 2.9-2.9z"/>
<path color="#75a0db" d="M283.1 88.7l-2.9 2.9-1.3 12.9 2.9-2.9z"/>
<path color="#7aa4dd" d="M286 85.8l-2.9 2.9-1.3 12.9 2.9-3z"/>
<path color="#80a8df" d="M288.9 82.9l-2.9 2.9-1.3 12.8 2.8-3z"/>
<path color="#86ade0" d="M291.7 79.9l-2.8 3-1.4 12.7 2.9-2.8z"/>
<path color="#8bb1e2" d="M294.6 77l-2.9 2.9-1.3 12.9 2.9-2.8z"/>
<path color="#90b5e4" d="M297.5 74.3l-2.9 2.7-1.3 13 2.9-2.9z"/>
<path color="#95b8e6" d="M300.4 71.7l-2.9 2.6-1.3 12.8 2.8-2.9z"/>
<path color="#9ebfe8" d="M303.2 69l-2.8 2.7-1.4 12.5 2.9-2.8z"/>
<path color="#a7c5eb" d="M306.1 66.4l-2.9 2.6-1.3 12.4 2.9-2.7z"/>
<path color="#b0cbee" d="M309 63.7l-2.9 2.7-1.3 12.3 2.9-2.6z"/>
<path color="#b8d1f0" d="M311.9 61.5l-2.9 2.2-1.3 12.4 2.8-2.6z"/>
<path color="#bfd6f2" d="M314.7 59.3l-2.8 2.2-1.4 12 2.9-2.5z"/>
<path color="#c7dbf5" d="M317.6 57.1l-2.9 2.2-1.3 11.7 2.9-2.6z"/>
<path color="#d0e1f6" d="M323.4 52.7l-5.8 4.4-1.3 11.3 5.7-4.6z"/>
<path color="#d6e5f7" d="M329.1 49.9l-5.7 2.8-1.4 11.1 5.8-4.3z"/>
<path color="#dbe9f8" d="M334.9 47.2l-5.8 2.7-1.3 9.6 5.7-4.2z"/>
<path color="#e1ecf9" d="M340.6 44.5l-5.7 2.7-1.4 8.1 5.8-2.8z"/>
<path color="#e4effa" d="M346.4 42.8l-5.8 1.7-1.3 8 5.7-2.6z"/>
<path color="#e5effa" d="M352.1 42.7l-5.7 .1-1.4 7.1 5.8-2.7z"/>
<path color="#e6f0fa" d="M357.9 42.5l-5.8 .2-1.3 4.5 5.7-2.3z"/>
<path color="#e6f0fa" d="M363.6 42.4l-5.7 .1-1.4 2.4 5.8-.1z"/>
<path color="#e7f0fa" d="M369.4 42.3l-5.8 .1-1.3 2.4 5.7-.2z"/>
<path color="#eaf3fb" d="M92 24.9l-5.7-2-1.3 2 5.7 2z"/>
<path color="#e9f2fb" d="M97.8 27l-5.8-2.1-1.3 2 5.8 2.1z"/>
<path color="#e8f1fa" d="M103.5 29.1l-5.7-2.1-1.3 2 5.7 2z"/>
<path color="#e4effa" d="M109.3 32.4l-5.8-3.3-1.3 1.9 5.8 3.3z"/>
<path color="#deebf9" d="M115 35.7l-5.7-3.3-1.3 1.9 5.7 3.4z"/>
<path color="#d9e7f8" d="M120.8 39.1l-5.8-3.4-1.3 2 5.8 3.3z"/>
<path color="#d3e4f7" d="M126.5 42.5l-5.7-3.4-1.3 1.9 5.7 3.4z"/>
<path color="#cee0f6" d="M132.3 45.9l-5.8-3.4-1.3 1.9 5.8 3.4z"/>
<path color="#c7dcf5" d="M138 49.4l-5.7-3.5-1.3 1.9 5.7 3.5z"/>
<path color="#bdd4f2" d="M143.8 53.1l-5.8-3.7-1.3 1.9 5.8 3.6z"/>
<path color="#b1ccee" d="M149.5 57l-5.7-3.9-1.3 1.8 5.7 3.9z"/>
<path color="#a5c3ea" d="M155.3 61l-5.8-4-1.3 1.8 5.8 4z"/>
<path color="#99bbe7" d="M161 65l-5.7-4-1.3 1.8 5.7 4.1z"/>
<path color="#90b5e4" d="M166.8 69.4l-5.8-4.4-1.3 1.9 5.8 4z"/>
<path color="#87aee1" d="M172.5 74.6l-5.7-5.2-1.3 1.5 5.7 5.1z"/>
<path color="#7fa7de" d="M178.3 79.7l-5.8-5.1-1.3 1.4 5.8 5.1z"/>
<path color="#76a1db" d="M184 84.9l-5.7-5.2-1.3 1.4 5.7 5.1z"/>
<path color="#6b99d8" d="M189.8 91l-5.8-6.1-1.3 1.3 5.8 5.6z"/>
<path color="#6191d4" d="M195.5 97.4l-5.7-6.4-1.3 .8 5.7 6.3z"/>
<path color="#5e8dd3" d="M201.3 103.7l-5.8-6.3-1.3 .7 5.8 6.4z"/>
<path color="#5b89d3" d="M207 109.8l-5.7-6.1-1.3 .8 5.7 6.3z"/>
<path color="#5885d3" d="M212.8 115.7l-5.8-5.9-1.3 1 5.8 6z"/>
<path color="#5581d2" d="M218.5 121.3l-5.7-5.6-1.3 1.1 5.7 5.7z"/>
<path color="#527cd1" d="M224.3 126l-5.8-4.7-1.3 1.2 5.8 5.5z"/>
<path color="#5078d1" d="M230 129.6l-5.7-3.6-1.3 2 5.7 4.1z"/>
<path color="#4d73d0" d="M235.8 133.2l-5.8-3.6-1.3 2.5 5.8 3.8z"/>
<path color="#4c72d0" d="M241.5 134.7l-5.7-1.5-1.3 2.7 5.7 3.4z"/>
<path color="#4f77d0" d="M247.3 131.1l-5.8 3.6-1.3 4.6 5.8 .9z"/>
<path color="#527cd1" d="M253 127.5l-5.7 3.6-1.3 9.1 5.7-4.2z"/>
<path color="#5581d2" d="M258.8 123.2l-5.8 4.3-1.3 8.5 5.8-4.1z"/>
<path color="#5683d2" d="M261.7 120.7l-2.9 2.5-1.3 8.7 2.8-2.4z"/>
<path color="#5885d3" d="M264.5 118.2l-2.8 2.5-1.4 8.8 2.9-2.9z"/>
<path color="#5987d3" d="M267.4 115.6l-2.9 2.6-1.3 8.4 2.9-2.9z"/>
<path color="#5b89d3" d="M270.3 113.1l-2.9 2.5-1.3 8.1 2.9-2.9z"/>
<path color="#5c8bd3" d="M273.2 110.4l-2.9 2.7-1.3 7.7 2.8-2.9z"/>
<path color="#5e8dd4" d="M276 107.4l-2.8 3-1.4 7.5 2.9-3z"/>
<path color="#5f8fd4" d="M278.9 104.5l-2.9 2.9-1.3 7.5 2.9-3.3z"/>
<path color="#6191d4" d="M281.8 101.6l-2.9 2.9-1.3 7.1 2.9-3.4z"/>
<path color="#6795d6" d="M284.7 98.6l-2.9 3-1.3 6.6 2.8-3.3z"/>
<path color="#6d9ad8" d="M287.5 95.6l-2.8 3-1.4 6.3 2.9-3.3z"/>
<path color="#729eda" d="M290.4 92.8l-2.9 2.8-1.3 6 2.9-3.3z"/>
<path color="#77a2dc" d="M293.3 90l-2.9 2.8-1.3 5.5 2.9-3.2z"/>
<path color="#7da6dd" d="M296.2 87.1l-2.9 2.9-1.3 5.1 2.8-3.2z"/>
<path color="#82aadf" d="M299 84.2l-2.8 2.9-1.4 4.8 2.9-3.2z"/>
<path color="#88aee1" d="M301.9 81.4l-2.9 2.8-1.3 4.5 2.9-3.2z"/>
<path color="#8db2e3" d="M304.8 78.7l-2.9 2.7-1.3 4.1 2.9-3.1z"/>
<path color="#92b6e5" d="M307.7 76.1l-2.9 2.6-1.3 3.7 2.8-2.9z"/>
<path color="#97bae6" d="M310.5 73.5l-2.8 2.6-1.4 3.4 2.9-2.9z"/>
<path color="#a0c0e9" d="M313.4 71l-2.9 2.5-1.3 3.1 2.9-2.9z"/>
<path color="#a9c6ec" d="M316.3 68.4l-2.9 2.6-1.3 2.7 2.9-2.9z"/>
<path color="#b9d1f0" d="M322 63.8l-5.7 4.6-1.3 2.4 5.7-4.9z"/>
<path color="#c7dcf5" d="M327.8 59.5l-5.8 4.3-1.3 2.1 5.8-4.8z"/>
<path color="#d0e1f6" d="M333.5 55.3l-5.7 4.2-1.3 1.6 5.7-4.2z"/>
<path color="#d6e5f7" d="M339.3 52.5l-5.8 2.8-1.3 1.6 5.8-2.9z"/>
<path color="#dbe9f8" d="M345 49.9l-5.7 2.6-1.3 1.5 5.7-3z"/>
<path color="#e0ecf9" d="M350.8 47.2l-5.8 2.7-1.3 1.1 5.8-2.9z"/>
<path color="#e5effa" d="M356.5 44.9l-5.7 2.3-1.3 .9 5.7-.7z"/>
<path color="#e6f0fa" d="M362.3 44.8l-5.8 .1-1.3 2.5 5.8-.2z"/>
<path color="#e6f0fa" d="M368 44.6l-5.7 .2-1.3 2.4 5.7-.1z"/>
<path color="#eaf3fb" d="M90.7 26.9l-5.7-2-1.4 2 5.8 2z"/>
<path color="#e9f2fb" d="M96.5 29l-5.8-2.1-1.3 2 5.7 2.1z"/>
<path color="#e8f1fa" d="M102.2 31l-5.7-2-1.4 2 5.8 2.1z"/>
<path color="#e4effa" d="M108 34.3l-5.8-3.3-1.3 2.1 5.7 3.2z"/>
<path color="#dfebf9" d="M113.7 37.7l-5.7-3.4-1.4 2 5.8 3.3z"/>
<path color="#d9e7f8" d="M119.5 41l-5.8-3.3-1.3 1.9 5.7 3.4z"/>
<path color="#d3e4f7" d="M125.2 44.4l-5.7-3.4-1.4 2 5.8 3.3z"/>
<path color="#cee0f6" d="M131 47.8l-5.8-3.4-1.3 1.9 5.7 3.4z"/>
<path color="#c8dcf5" d="M136.7 51.3l-5.7-3.5-1.4 1.9 5.8 3.5z"/>
<path color="#bdd4f2" d="M142.5 54.9l-5.8-3.6-1.3 1.9 5.7 3.6z"/>
<path color="#b1ccee" d="M148.2 58.8l-5.7-3.9-1.4 1.9 5.8 3.8z"/>
<path color="#a5c4eb" d="M154 62.8l-5.8-4-1.3 1.8 5.7 4z"/>
<path color="#99bbe7" d="M159.7 66.9l-5.7-4.1-1.4 1.8 5.8 4.1z"/>
<path color="#91b5e4" d="M165.5 70.9l-5.8-4-1.3 1.8 5.7 4.1z"/>
<path color="#88afe1" d="M171.2 76l-5.7-5.1-1.4 1.9 5.8 4.6z"/>
<path color="#80a8de" d="M177 81.1l-5.8-5.1-1.3 1.4 5.7 5.1z"/>
<path color="#77a2dc" d="M182.7 86.2l-5.7-5.1-1.4 1.4 5.8 5.1z"/>
<path color="#6e9ad8" d="M188.5 91.8l-5.8-5.6-1.3 1.4 5.7 5.2z"/>
<path color="#6392d5" d="M194.2 98.1l-5.7-6.3-1.4 1 5.8 6z"/>
<path color="#5e8dd4" d="M200 104.5l-5.8-6.4-1.3 .7 5.7 6.4z"/>
<path color="#5b89d3" d="M205.7 110.8l-5.7-6.3-1.4 .7 5.8 6.4z"/>
<path color="#5885d3" d="M211.5 116.8l-5.8-6-1.3 .8 5.7 6.2z"/>
<path color="#5582d2" d="M217.2 122.5l-5.7-5.7-1.4 1 5.8 5.8z"/>
<path color="#527cd1" d="M223 128l-5.8-5.5-1.3 1.1 5.7 5.6z"/>
<path color="#4f77d0" d="M228.7 132.1l-5.7-4.1-1.4 1.2 5.8 5.4z"/>
<path color="#4d72d0" d="M234.5 135.9l-5.8-3.8-1.3 2.5 5.7 3.6z"/>
<path color="#4a6ecf" d="M240.2 139.3l-5.7-3.4-1.4 2.3 5.8 3.9z"/>
<path color="#4a6dcf" d="M246 140.2l-5.8-.9-1.3 2.8 5.7 3.3z"/>
<path color="#4d73d0" d="M251.7 136l-5.7 4.2-1.4 5.2 5.8 .1z"/>
<path color="#5079d1" d="M257.5 131.9l-5.8 4.1-1.3 9.5 5.7-4.7z"/>
<path color="#527dd1" d="M260.3 129.5l-2.8 2.4-1.4 8.9 2.9-2.4z"/>
<path color="#5480d2" d="M263.2 126.6l-2.9 2.9-1.3 8.9 2.9-2.5z"/>
<path color="#5683d2" d="M266.1 123.7l-2.9 2.9-1.3 9.3 2.9-3.2z"/>
<path color="#5885d3" d="M269 120.8l-2.9 2.9-1.3 9 2.8-3.3z"/>
<path color="#5987d3" d="M271.8 117.9l-2.8 2.9-1.4 8.6 2.9-3.2z"/>
<path color="#5b89d3" d="M274.7 114.9l-2.9 3-1.3 8.3 2.9-3.3z"/>
<path color="#5d8bd3" d="M277.6 111.6l-2.9 3.3-1.3 8 2.9-3.5z"/>
<path color="#5f8ed4" d="M280.5 108.2l-2.9 3.4-1.3 7.8 2.8-3.8z"/>
<path color="#6090d4" d="M283.3 104.9l-2.8 3.3-1.4 7.4 2.9-3.8z"/>
<path color="#6594d5" d="M286.2 101.6l-2.9 3.3-1.3 6.9 2.9-3.7z"/>
<path color="#6c99d8" d="M289.1 98.3l-2.9 3.3-1.3 6.5 2.9-3.8z"/>
<path color="#729eda" d="M292 95.1l-2.9 3.2-1.3 6 2.8-3.6z"/>
<path color="#78a2dc" d="M294.8 91.9l-2.8 3.2-1.4 5.6 2.9-3.7z"/>
<path color="#7ea7de" d="M297.7 88.7l-2.9 3.2-1.3 5.1 2.9-3.6z"/>
<path color="#84abe0" d="M300.6 85.5l-2.9 3.2-1.3 4.7 2.9-3.6z"/>
<path color="#8ab0e2" d="M303.5 82.4l-2.9 3.1-1.3 4.3 2.8-3.5z"/>
<path color="#8fb4e4" d="M306.3 79.5l-2.8 2.9-1.4 3.9 2.9-3.3z"/>
<path color="#95b8e6" d="M309.2 76.6l-2.9 2.9-1.3 3.5 2.9-3.2z"/>
<path color="#9dbee8" d="M312.1 73.7l-2.9 2.9-1.3 3.2 2.9-3.3z"/>
<path color="#a7c5eb" d="M315 70.8l-2.9 2.9-1.3 2.8 2.8-3.3z"/>
<path color="#b8d1f0" d="M320.7 65.9l-5.7 4.9-1.4 2.4 5.8-5.4z"/>
<path color="#c8dcf5" d="M326.5 61.1l-5.8 4.8-1.3 1.9 5.7-5.3z"/>
<path color="#d1e2f6" d="M332.2 56.9l-5.7 4.2-1.4 1.4 5.8-4z"/>
<path color="#d7e6f7" d="M338 54l-5.8 2.9-1.3 1.6 5.7-3.2z"/>
<path color="#dceaf8" d="M343.7 51l-5.7 3-1.4 1.3 5.8-3.3z"/>
<path color="#e2eef9" d="M349.5 48.1l-5.8 2.9-1.3 1 5.7-1.9z"/>
<path color="#e4effa" d="M355.2 47.4l-5.7 .7-1.4 2 5.8-.1z"/>
<path color="#e5effa" d="M361 47.2l-5.8 .2-1.3 2.6 5.7-.1z"/>
<path color="#e6f0fa" d="M366.7 47.1l-5.7 .1-1.4 2.7 5.8-.1z"/>
<path color="#eaf3fb" d="M89.4 28.9l-5.8-2-1.3 2 5.8 2z"/>
<path color="#e9f2fb" d="M95.1 31l-5.7-2.1-1.3 2 5.7 2.1z"/>
<path color="#e7f1fa" d="M100.9 33.1l-5.8-2.1-1.3 2 5.8 2.1z"/>
<path color="#e4effa" d="M106.6 36.3l-5.7-3.2-1.3 2 5.7 3.1z"/>
<path color="#dfebf9" d="M112.4 39.6l-5.8-3.3-1.3 1.9 5.8 3.3z"/>
<path color="#d9e7f8" d="M118.1 43l-5.7-3.4-1.3 1.9 5.7 3.3z"/>
<path color="#d3e4f7" d="M123.9 46.3l-5.8-3.3-1.3 1.8 5.8 3.3z"/>
<path color="#cee0f6" d="M129.6 49.7l-5.7-3.4-1.3 1.8 5.7 3.4z"/>
<path color="#c8dcf5" d="M135.4 53.2l-5.8-3.5-1.3 1.8 5.8 3.3z"/>
<path color="#bdd4f2" d="M141.1 56.8l-5.7-3.6-1.3 1.6 5.7 3.7z"/>
<path color="#b2cdee" d="M146.9 60.6l-5.8-3.8-1.3 1.7 5.8 3.7z"/>
<path color="#a6c4eb" d="M152.6 64.6l-5.7-4-1.3 1.6 5.7 4z"/>
<path color="#9abce7" d="M158.4 68.7l-5.8-4.1-1.3 1.6 5.8 4.1z"/>
<path color="#91b5e4" d="M164.1 72.8l-5.7-4.1-1.3 1.6 5.7 4z"/>
<path color="#8ab0e2" d="M169.9 77.4l-5.8-4.6-1.3 1.5 5.8 4.2z"/>
<path color="#81a9df" d="M175.6 82.5l-5.7-5.1-1.3 1.1 5.7 5.1z"/>
<path color="#78a2dc" d="M181.4 87.6l-5.8-5.1-1.3 1.1 5.8 5.1z"/>
<path color="#6f9cd9" d="M187.1 92.8l-5.7-5.2-1.3 1.1 5.7 5.1z"/>
<path color="#6594d5" d="M192.9 98.8l-5.8-6-1.3 1 5.8 5.5z"/>
<path color="#5f8ed4" d="M198.6 105.2l-5.7-6.4-1.3 .5 5.7 6.2z"/>
<path color="#5c8ad3" d="M204.4 111.6l-5.8-6.4-1.3 .3 5.8 6.5z"/>
<path color="#5986d3" d="M210.1 117.8l-5.7-6.2-1.3 .4 5.7 6.3z"/>
<path color="#5682d2" d="M215.9 123.6l-5.8-5.8-1.3 .5 5.8 5.9z"/>
<path color="#527dd2" d="M221.6 129.2l-5.7-5.6-1.3 .6 5.7 5.6z"/>
<path color="#4f76d0" d="M227.4 134.6l-5.8-5.4-1.3 .6 5.8 5.3z"/>
<path color="#4c72d0" d="M233.1 138.2l-5.7-3.6-1.3 .5 5.7 4.6z"/>
<path color="#4a6dcf" d="M238.9 142.1l-5.8-3.9-1.3 1.5 5.8 3.5z"/>
<path color="#4869ce" d="M244.6 145.4l-5.7-3.3-1.3 1.1 5.7 4.2z"/>
<path color="#4869ce" d="M250.4 145.5l-5.8-.1-1.3 2 5.8 2.6z"/>
<path color="#4b70cf" d="M256.1 140.8l-5.7 4.7-1.3 4.5 5.7-1.9z"/>
<path color="#4d73d0" d="M259 138.4l-2.9 2.4-1.3 7.3 2.9-2.2z"/>
<path color="#4f77d0" d="M261.9 135.9l-2.9 2.5-1.3 7.5 2.9-2.4z"/>
<path color="#527bd1" d="M264.8 132.7l-2.9 3.2-1.3 7.6 2.8-2.5z"/>
<path color="#5480d2" d="M267.6 129.4l-2.8 3.3-1.4 8.3 2.9-3.3z"/>
<path color="#5682d2" d="M270.5 126.2l-2.9 3.2-1.3 8.3 2.9-3.4z"/>
<path color="#5885d3" d="M273.4 122.9l-2.9 3.3-1.3 8.1 2.9-3.4z"/>
<path color="#5a87d3" d="M276.3 119.4l-2.9 3.5-1.3 8 2.8-3.9z"/>
<path color="#5c8ad3" d="M279.1 115.6l-2.8 3.8-1.4 7.6 2.9-4.5z"/>
<path color="#5e8dd4" d="M282 111.8l-2.9 3.8-1.3 6.9 2.9-4.7z"/>
<path color="#6090d4" d="M284.9 108.1l-2.9 3.7-1.3 6 2.9-5z"/>
<path color="#6494d5" d="M287.8 104.3l-2.9 3.8-1.3 4.7 2.8-5.6z"/>
<path color="#6b99d7" d="M290.6 100.7l-2.8 3.6-1.4 2.9 2.9-5.7z"/>
<path color="#729eda" d="M293.5 97l-2.9 3.7-1.3 .8 2.9-5.3z"/>
<path color="#79a3dc" d="M296.4 93.4l-2.9 3.6-1.3-.8 2.9-5.1z"/>
<path color="#80a8de" d="M299.3 89.8l-2.9 3.6-1.3-2.3 2.8-4.5z"/>
<path color="#86ade1" d="M302.1 86.3l-2.8 3.5-1.4-3.2 2.9-3.4z"/>
<path color="#8cb2e3" d="M305 83l-2.9 3.3-1.3-3.1 2.9-3.3z"/>
<path color="#92b6e5" d="M307.9 79.8l-2.9 3.2-1.3-3.1 2.9-3.2z"/>
<path color="#9bbce7" d="M310.8 76.5l-2.9 3.3-1.3-3.1 2.8-3.1z"/>
<path color="#a6c4eb" d="M313.6 73.2l-2.8 3.3-1.4-2.9 2.9-2.9z"/>
<path color="#b8d1f0" d="M319.4 67.8l-5.8 5.4-1.3-2.5 5.8-5.1z"/>
<path color="#c9ddf5" d="M325.1 62.5l-5.7 5.3-1.3-2.2 5.7-4.6z"/>
<path color="#d1e2f7" d="M330.9 58.5l-5.8 4-1.3-1.5 5.8-3z"/>
<path color="#d8e7f8" d="M336.6 55.3l-5.7 3.2-1.3-.5 5.7-3.1z"/>
<path color="#deebf9" d="M342.4 52l-5.8 3.3-1.3-.4 5.8-2.2z"/>
<path color="#e2eef9" d="M348.1 50.1l-5.7 1.9-1.3 .7 5.7 0z"/>
<path color="#e3eefa" d="M353.9 50l-5.8 .1-1.3 2.6 5.8-.1z"/>
<path color="#e4effa" d="M359.6 49.9l-5.7 .1-1.3 2.6 5.7-.1z"/>
<path color="#e5effa" d="M365.4 49.8l-5.8 .1-1.3 2.6 5.8-.1z"/>
<path color="#eaf3fb" d="M88.1 30.9l-5.8-2-1.3 1.9 5.7 2.1z"/>
<path color="#e9f2fb" d="M93.8 33l-5.7-2.1-1.4 2 5.8 2.1z"/>
<path color="#e7f1fa" d="M99.6 35.1l-5.8-2.1-1.3 2 5.7 2.1z"/>
<path color="#e4effa" d="M105.3 38.2l-5.7-3.1-1.4 2 5.8 3z"/>
<path color="#dfebf9" d="M111.1 41.5l-5.8-3.3-1.3 1.9 5.7 3.2z"/>
<path color="#d9e7f8" d="M116.8 44.8l-5.7-3.3-1.4 1.8 5.8 3.3z"/>
<path color="#d4e4f7" d="M122.6 48.1l-5.8-3.3-1.3 1.8 5.7 3.4z"/>
<path color="#cee0f6" d="M128.3 51.5l-5.7-3.4-1.4 1.9 5.8 3.3z"/>
<path color="#c9dcf5" d="M134.1 54.8l-5.8-3.3-1.3 1.8 5.7 3.3z"/>
<path color="#bed5f2" d="M139.8 58.5l-5.7-3.7-1.4 1.8 5.8 3.5z"/>
<path color="#b3cdef" d="M145.6 62.2l-5.8-3.7-1.3 1.6 5.7 3.7z"/>
<path color="#a7c5eb" d="M151.3 66.2l-5.7-4-1.4 1.6 5.8 3.9z"/>
<path color="#9bbce7" d="M157.1 70.3l-5.8-4.1-1.3 1.5 5.7 4.1z"/>
<path color="#92b6e5" d="M162.8 74.3l-5.7-4-1.4 1.5 5.8 4.1z"/>
<path color="#8bb1e2" d="M168.6 78.5l-5.8-4.2-1.3 1.6 5.7 4z"/>
<path color="#82aadf" d="M174.3 83.6l-5.7-5.1-1.4 1.4 5.8 4.9z"/>
<path color="#7aa4dc" d="M180.1 88.7l-5.8-5.1-1.3 1.2 5.7 5z"/>
<path color="#719dd9" d="M185.8 93.8l-5.7-5.1-1.4 1.1 5.8 5z"/>
<path color="#6896d6" d="M191.6 99.3l-5.8-5.5-1.3 1 5.7 5.2z"/>
<path color="#608fd4" d="M197.3 105.5l-5.7-6.2-1.4 .7 5.8 6z"/>
<path color="#5d8bd3" d="M203.1 112l-5.8-6.5-1.3 .5 5.7 6.3z"/>
<path color="#5987d3" d="M208.8 118.3l-5.7-6.3-1.4 .3 5.8 6.4z"/>
<path color="#5683d2" d="M214.6 124.2l-5.8-5.9-1.3 .4 5.7 6.1z"/>
<path color="#537fd2" d="M220.3 129.8l-5.7-5.6-1.4 .6 5.8 5.7z"/>
<path color="#5078d1" d="M226.1 135.1l-5.8-5.3-1.3 .7 5.7 5.3z"/>
<path color="#4d72d0" d="M231.8 139.7l-5.7-4.6-1.4 .7 5.8 5z"/>
<path color="#4a6ecf" d="M237.6 143.2l-5.8-3.5-1.3 1.1 5.7 3.8z"/>
<path color="#4869ce" d="M243.3 147.4l-5.7-4.2-1.4 1.4 5.8 3.7z"/>
<path color="#4666ce" d="M249.1 150l-5.8-2.6-1.3 .9 5.7 3.9z"/>
<path color="#4869ce" d="M254.8 148.1l-5.7 1.9-1.4 2.2 5.8 2.4z"/>
<path color="#496ccf" d="M257.7 145.9l-2.9 2.2-1.3 6.5 2.9-1.6z"/>
<path color="#4b6fcf" d="M260.6 143.5l-2.9 2.4-1.3 7.1 2.8-2z"/>
<path color="#4d73d0" d="M263.4 141l-2.8 2.5-1.4 7.5 2.9-2.3z"/>
<path color="#4f78d1" d="M266.3 137.7l-2.9 3.3-1.3 7.7 2.9-2.6z"/>
<path color="#527cd1" d="M269.2 134.3l-2.9 3.4-1.3 8.4 2.9-3.3z"/>
<path color="#5481d2" d="M272.1 130.9l-2.9 3.4-1.3 8.5 2.8-3.5z"/>
<path color="#5783d2" d="M274.9 127l-2.8 3.9-1.4 8.4 2.9-4.1z"/>
<path color="#5987d3" d="M277.8 122.5l-2.9 4.5-1.3 8.2 2.9-4.9z"/>
<path color="#5c8ad3" d="M280.7 117.8l-2.9 4.7-1.3 7.8 2.9-5.8z"/>
<path color="#5e8ed4" d="M283.6 112.8l-2.9 5-1.3 6.7 2.8-6.3z"/>
<path color="#6392d5" d="M286.4 107.2l-2.8 5.6-1.4 5.4 2.9-7.5z"/>
<path color="#6d9ad8" d="M289.3 101.5l-2.9 5.7-1.3 3.5 2.9-8.3z"/>
<path color="#77a2db" d="M292.2 96.2l-2.9 5.3-1.3 .9 2.9-7.4z"/>
<path color="#80a9df" d="M295.1 91.1l-2.9 5.1-1.3-1.2 2.8-6.8z"/>
<path color="#89afe2" d="M297.9 86.6l-2.8 4.5-1.4-2.9 2.9-4.9z"/>
<path color="#8fb4e4" d="M300.8 83.2l-2.9 3.4-1.3-3.3 2.9-3.3z"/>
<path color="#95b9e6" d="M303.7 79.9l-2.9 3.3-1.3-3.2 2.9-3.2z"/>
<path color="#a0c0e9" d="M306.6 76.7l-2.9 3.2-1.3-3.1 2.8-3.1z"/>
<path color="#aac7ec" d="M309.4 73.6l-2.8 3.1-1.4-3 2.9-2.9z"/>
<path color="#b4ceef" d="M312.3 70.7l-2.9 2.9-1.3-2.8 2.9-2.5z"/>
<path color="#c6daf4" d="M318.1 65.6l-5.8 5.1-1.3-2.4 5.7-4.6z"/>
<path color="#d0e1f6" d="M323.8 61l-5.7 4.6-1.4-1.9 5.8-3.2z"/>
<path color="#d6e5f7" d="M329.6 58l-5.8 3-1.3-.5 5.7-2.7z"/>
<path color="#dce9f8" d="M335.3 54.9l-5.7 3.1-1.4-.2 5.8-2.4z"/>
<path color="#e0ecf9" d="M341.1 52.7l-5.8 2.2-1.3 .5 5.7-.1z"/>
<path color="#e1edf9" d="M346.8 52.7l-5.7 0-1.4 2.6 5.8 0z"/>
<path color="#e2edf9" d="M352.6 52.6l-5.8 .1-1.3 2.6 5.7-.1z"/>
<path color="#e3eef9" d="M358.3 52.5l-5.7 .1-1.4 2.6 5.8-.1z"/>
<path color="#e3eefa" d="M364.1 52.4l-5.8 .1-1.3 2.6 5.7-.1z"/>
<path color="#eaf3fb" d="M86.7 32.9l-5.7-2.1-1.3 2 5.7 2.1z"/>
<path color="#e9f2fb" d="M92.5 35l-5.8-2.1-1.3 2 5.8 2.1z"/>
<path color="#e7f1fa" d="M98.2 37.1l-5.7-2.1-1.3 2 5.7 2.2z"/>
<path color="#e4effa" d="M104 40.1l-5.8-3-1.3 2.1 5.8 2.8z"/>
<path color="#dfebf9" d="M109.7 43.3l-5.7-3.2-1.3 1.9 5.7 3.2z"/>
<path color="#d9e8f8" d="M115.5 46.6l-5.8-3.3-1.3 1.9 5.8 3.3z"/>
<path color="#d4e4f7" d="M121.2 50l-5.7-3.4-1.3 1.9 5.7 3.3z"/>
<path color="#cee0f6" d="M127 53.3l-5.8-3.3-1.3 1.8 5.8 3.2z"/>
<path color="#c9ddf5" d="M132.7 56.6l-5.7-3.3-1.3 1.7 5.7 3.3z"/>
<path color="#bfd6f2" d="M138.5 60.1l-5.8-3.5-1.3 1.7 5.8 3.5z"/>
<path color="#b4ceef" d="M144.2 63.8l-5.7-3.7-1.3 1.7 5.7 3.7z"/>
<path color="#a8c6ec" d="M150 67.7l-5.8-3.9-1.3 1.7 5.8 3.8z"/>
<path color="#9cbde8" d="M155.7 71.8l-5.7-4.1-1.3 1.6 5.7 4.1z"/>
<path color="#93b7e5" d="M161.5 75.9l-5.8-4.1-1.3 1.6 5.8 4z"/>
<path color="#8cb1e3" d="M167.2 79.9l-5.7-4-1.3 1.5 5.7 4.1z"/>
<path color="#84abe0" d="M173 84.8l-5.8-4.9-1.3 1.6 5.8 4.5z"/>
<path color="#7ba5dd" d="M178.7 89.8l-5.7-5-1.3 1.2 5.7 5z"/>
<path color="#739eda" d="M184.5 94.8l-5.8-5-1.3 1.2 5.8 5z"/>
<path color="#6a98d7" d="M190.2 100l-5.7-5.2-1.3 1.2 5.7 4.9z"/>
<path color="#6190d4" d="M196 106l-5.8-6-1.3 .9 5.8 5.7z"/>
<path color="#5d8cd3" d="M201.7 112.3l-5.7-6.3-1.3 .6 5.7 6.1z"/>
<path color="#5a88d3" d="M207.5 118.7l-5.8-6.4-1.3 .4 5.8 6.5z"/>
<path color="#5784d2" d="M213.2 124.8l-5.7-6.1-1.3 .5 5.7 6.2z"/>
<path color="#5480d2" d="M219 130.5l-5.8-5.7-1.3 .6 5.8 5.8z"/>
<path color="#517ad1" d="M224.7 135.8l-5.7-5.3-1.3 .7 5.7 5.4z"/>
<path color="#4d73d0" d="M230.5 140.8l-5.8-5-1.3 .8 5.8 5z"/>
<path color="#4b6fcf" d="M236.2 144.6l-5.7-3.8-1.3 .8 5.7 4.7z"/>
<path color="#486ace" d="M242 148.3l-5.8-3.7-1.3 1.7 5.8 3.2z"/>
<path color="#4665ce" d="M247.7 152.2l-5.7-3.9-1.3 1.2 5.7 4.1z"/>
<path color="#4462cd" d="M253.5 154.6l-5.8-2.4-1.3 1.4 5.8 3.3z"/>
<path color="#4565cd" d="M256.4 153l-2.9 1.6-1.3 2.3 2.8 1.3z"/>
<path color="#4768ce" d="M259.2 151l-2.8 2-1.4 5.2 2.9-.4z"/>
<path color="#496bcf" d="M262.1 148.7l-2.9 2.3-1.3 6.8 2.9-1.8z"/>
<path color="#4b6fcf" d="M265 146.1l-2.9 2.6-1.3 7.3 2.9-2.1z"/>
<path color="#4d73d0" d="M267.9 142.8l-2.9 3.3-1.3 7.8 2.9-2.6z"/>
<path color="#5079d1" d="M270.7 139.3l-2.8 3.5-1.3 8.5 2.8-3.4z"/>
<path color="#537ed2" d="M273.6 135.2l-2.9 4.1-1.3 8.6 2.9-3.8z"/>
<path color="#5683d2" d="M276.5 130.3l-2.9 4.9-1.3 8.9 2.9-5.2z"/>
<path color="#5987d3" d="M279.4 124.5l-2.9 5.8-1.3 8.6 2.8-6.7z"/>
<path color="#5d8bd3" d="M282.2 118.2l-2.8 6.3-1.4 7.7 2.9-7.6z"/>
<path color="#6191d4" d="M285.1 110.7l-2.9 7.5-1.3 6.4 2.9-9.5z"/>
<path color="#6f9cd9" d="M288 102.4l-2.9 8.3-1.3 4.4 2.9-11.7z"/>
<path color="#7da6dd" d="M290.9 95l-2.9 7.4-1.3 1 2.9-10.1z"/>
<path color="#89afe2" d="M293.7 88.2l-2.8 6.8-1.3-1.7 2.8-8.9z"/>
<path color="#92b6e5" d="M296.6 83.3l-2.9 4.9-1.3-3.8 2.9-4.4z"/>
<path color="#9bbce7" d="M299.5 80l-2.9 3.3-1.3-3.3 2.9-3.5z"/>
<path color="#a6c4eb" d="M302.4 76.8l-2.9 3.2-1.3-3.5 2.8-2.8z"/>
<path color="#b0cbee" d="M305.2 73.7l-2.8 3.1-1.4-3.1 2.9-2.8z"/>
<path color="#bad2f1" d="M308.1 70.8l-2.9 2.9-1.3-2.8 2.9-2.4z"/>
<path color="#c2d8f3" d="M311 68.3l-2.9 2.5-1.3-2.3 2.9-2.3z"/>
<path color="#cee0f6" d="M316.7 63.7l-5.7 4.6-1.3-2.1 5.7-3.3z"/>
<path color="#d4e4f7" d="M322.5 60.5l-5.8 3.2-1.3-.8 5.8-2.5z"/>
<path color="#dae8f8" d="M328.2 57.8l-5.7 2.7-1.3-.1 5.7-2.4z"/>
<path color="#dfebf9" d="M334 55.4l-5.8 2.4-1.3 .2 5.8 0z"/>
<path color="#dfecf9" d="M339.7 55.3l-5.7 .1-1.3 2.6 5.7-.1z"/>
<path color="#e0ecf9" d="M345.5 55.3l-5.8 0-1.3 2.6 5.8 0z"/>
<path color="#e1ecf9" d="M351.2 55.2l-5.7 .1-1.3 2.6 5.7-.1z"/>
<path color="#e1edf9" d="M357 55.1l-5.8 .1-1.3 2.6 5.8-.1z"/>
<path color="#e2edf9" d="M362.7 55l-5.7 .1-1.3 2.6 5.7 0z"/>
<path color="#eaf3fb" d="M85.4 34.9l-5.7-2.1-1.3 2 5.7 2.1z"/>
<path color="#e9f2fb" d="M91.2 37l-5.8-2.1-1.3 2 5.8 2.2z"/>
<path color="#e7f1fa" d="M96.9 39.2l-5.7-2.2-1.3 2.1 5.7 2.1z"/>
<path color="#e4effa" d="M102.7 42l-5.8-2.8-1.3 2 5.8 2.8z"/>
<path color="#dfebf9" d="M108.4 45.2l-5.7-3.2-1.3 2 5.7 3.1z"/>
<path color="#dae8f8" d="M114.2 48.5l-5.8-3.3-1.3 1.9 5.8 3.4z"/>
<path color="#d4e4f7" d="M119.9 51.8l-5.7-3.3-1.3 2 5.7 3.3z"/>
<path color="#cfe0f6" d="M125.7 55l-5.8-3.2-1.3 2 5.8 3.2z"/>
<path color="#c9ddf5" d="M131.4 58.3l-5.7-3.3-1.3 2 5.7 3.2z"/>
<path color="#c0d6f3" d="M137.2 61.8l-5.8-3.5-1.3 1.9 5.8 3.5z"/>
<path color="#b5cfef" d="M142.9 65.5l-5.7-3.7-1.3 1.9 5.7 3.6z"/>
<path color="#aac7ec" d="M148.7 69.3l-5.8-3.8-1.3 1.8 5.8 3.8z"/>
<path color="#9ebee8" d="M154.4 73.4l-5.7-4.1-1.3 1.8 5.7 4.1z"/>
<path color="#93b7e5" d="M160.2 77.4l-5.8-4-1.3 1.8 5.8 4.1z"/>
<path color="#8db2e3" d="M165.9 81.5l-5.7-4.1-1.3 1.9 5.7 4.1z"/>
<path color="#85ace0" d="M171.7 86l-5.8-4.5-1.3 1.9 5.8 4.2z"/>
<path color="#7da6dd" d="M177.4 91l-5.7-5-1.3 1.6 5.7 5.1z"/>
<path color="#74a0db" d="M183.2 96l-5.8-5-1.3 1.7 5.8 4.9z"/>
<path color="#6c99d8" d="M188.9 100.9l-5.7-4.9-1.3 1.6 5.7 4.9z"/>
<path color="#6292d4" d="M194.7 106.6l-5.8-5.7-1.3 1.6 5.8 5.3z"/>
<path color="#5e8dd4" d="M200.4 112.7l-5.7-6.1-1.3 1.2 5.7 6.1z"/>
<path color="#5b89d3" d="M206.2 119.2l-5.8-6.5-1.3 1.2 5.8 6.4z"/>
<path color="#5885d3" d="M211.9 125.4l-5.7-6.2-1.3 1.1 5.7 6.3z"/>
<path color="#5581d2" d="M217.7 131.2l-5.8-5.8-1.3 1.2 5.8 6z"/>
<path color="#527cd1" d="M223.4 136.6l-5.7-5.4-1.3 1.4 5.7 5.5z"/>
<path color="#4e75d0" d="M229.2 141.6l-5.8-5-1.3 1.5 5.8 5z"/>
<path color="#4b6fcf" d="M234.9 146.3l-5.7-4.7-1.3 1.5 5.7 4.8z"/>
<path color="#496bcf" d="M240.7 149.5l-5.8-3.2-1.3 1.6 5.8 3.7z"/>
<path color="#4666ce" d="M246.4 153.6l-5.7-4.1-1.3 2.1 5.7 3.6z"/>
<path color="#4462cd" d="M252.2 156.9l-5.8-3.3-1.3 1.6 5.8 4.2z"/>
<path color="#4360cc" d="M255 158.2l-2.8-1.3-1.3 2.5 2.8 1.4z"/>
<path color="#4461cd" d="M257.9 157.8l-2.9 .4-1.3 2.6 2.9 1.2z"/>
<path color="#4564cd" d="M260.8 156l-2.9 1.8-1.3 4.2 2.9-.1z"/>
<path color="#4767ce" d="M263.7 153.9l-2.9 2.1-1.3 5.9 2.9-1.3z"/>
<path color="#496bce" d="M266.6 151.3l-2.9 2.6-1.3 6.7 2.8-1.9z"/>
<path color="#4b6fcf" d="M269.4 147.9l-2.8 3.4-1.4 7.4 2.9-2.4z"/>
<path color="#4e75d0" d="M272.3 144.1l-2.9 3.8-1.3 8.4 2.9-3.4z"/>
<path color="#527cd1" d="M275.2 138.9l-2.9 5.2-1.3 8.8 2.9-3.8z"/>
<path color="#5683d2" d="M278 132.2l-2.8 6.7-1.3 10.2 2.8-6.5z"/>
<path color="#5a88d3" d="M280.9 124.6l-2.9 7.6-1.3 10.4 2.9-8.4z"/>
<path color="#5f8fd4" d="M283.8 115.1l-2.9 9.5-1.3 9.6 2.9-9.9z"/>
<path color="#719dd9" d="M286.7 103.4l-2.9 11.7-1.3 9.2 2.9-13.9z"/>
<path color="#83abe0" d="M289.6 93.3l-2.9 10.1-1.3 7 2.8-13.4z"/>
<path color="#94b7e5" d="M292.4 84.4l-2.8 8.9-1.4 3.7 2.9-11.6z"/>
<path color="#a0c0e9" d="M295.3 80l-2.9 4.4-1.3 1 2.9-6.7z"/>
<path color="#acc8ed" d="M298.2 76.5l-2.9 3.5-1.3-1.3 2.9-3.3z"/>
<path color="#b6cff0" d="M301 73.7l-2.8 2.8-1.3-1.1 2.8-2.6z"/>
<path color="#bfd6f2" d="M303.9 70.9l-2.9 2.8-1.3-.9 2.9-2.4z"/>
<path color="#c8dcf5" d="M306.8 68.5l-2.9 2.4-1.3-.5 2.9-2.1z"/>
<path color="#ccdff6" d="M309.7 66.2l-2.9 2.3-1.3-.2 2.9-1.9z"/>
<path color="#d3e3f7" d="M315.4 62.9l-5.7 3.3-1.3 .2 5.7-2.4z"/>
<path color="#d8e7f8" d="M321.2 60.4l-5.8 2.5-1.3 1.1 5.8-1.9z"/>
<path color="#ddeaf8" d="M326.9 58l-5.7 2.4-1.3 1.7 5.7-1.5z"/>
<path color="#deeaf9" d="M332.7 58l-5.8 0-1.3 2.6 5.8 0z"/>
<path color="#deebf9" d="M338.4 57.9l-5.7 .1-1.3 2.6 5.7-.1z"/>
<path color="#dfebf9" d="M344.2 57.9l-5.8 0-1.3 2.6 5.8 0z"/>
<path color="#e0ecf9" d="M349.9 57.8l-5.7 .1-1.3 2.6 5.7-.1z"/>
<path color="#e0ecf9" d="M355.7 57.7l-5.8 .1-1.3 2.6 5.8 0z"/>
<path color="#e1edf9" d="M361.4 57.7l-5.7 0-1.3 2.7 5.7-.1z"/>
<path color="#eaf3fb" d="M84.1 36.9l-5.7-2.1-1.4 2 5.8 2.2z"/>
<path color="#e9f2fb" d="M89.9 39.1l-5.8-2.2-1.3 2.1 5.7 2.1z"/>
<path color="#e7f1fa" d="M95.6 41.2l-5.7-2.1-1.4 2 5.8 2.2z"/>
<path color="#e4effa" d="M101.4 44l-5.8-2.8-1.3 2.1 5.7 2.7z"/>
<path color="#dfebf9" d="M107.1 47.1l-5.7-3.1-1.4 2 5.8 3.1z"/>
<path color="#dae8f8" d="M112.9 50.5l-5.8-3.4-1.3 2 5.7 3.3z"/>
<path color="#d4e4f7" d="M118.6 53.8l-5.7-3.3-1.4 1.9 5.8 3.3z"/>
<path color="#cfe1f6" d="M124.4 57l-5.8-3.2-1.3 1.9 5.7 3.2z"/>
<path color="#c9ddf5" d="M130.1 60.2l-5.7-3.2-1.4 1.9 5.8 3.3z"/>
<path color="#c0d7f3" d="M135.9 63.7l-5.8-3.5-1.3 2 5.7 3.3z"/>
<path color="#b5cfef" d="M141.6 67.3l-5.7-3.6-1.4 1.8 5.8 3.7z"/>
<path color="#aac7ec" d="M147.4 71.1l-5.8-3.8-1.3 1.9 5.7 3.7z"/>
<path color="#9ebfe8" d="M153.1 75.2l-5.7-4.1-1.4 1.8 5.8 4.1z"/>
<path color="#94b7e5" d="M158.9 79.3l-5.8-4.1-1.3 1.8 5.7 4.1z"/>
<path color="#8db2e3" d="M164.6 83.4l-5.7-4.1-1.4 1.8 5.8 4.2z"/>
<path color="#86ade0" d="M170.4 87.6l-5.8-4.2-1.3 1.9 5.7 4.1z"/>
<path color="#7da6de" d="M176.1 92.7l-5.7-5.1-1.4 1.8 5.8 4.9z"/>
<path color="#75a0db" d="M181.9 97.6l-5.8-4.9-1.3 1.6 5.7 5z"/>
<path color="#6c9ad8" d="M187.6 102.5l-5.7-4.9-1.4 1.7 5.8 4.9z"/>
<path color="#6393d5" d="M193.4 107.8l-5.8-5.3-1.3 1.7 5.7 5.1z"/>
<path color="#5f8ed4" d="M199.1 113.9l-5.7-6.1-1.4 1.5 5.8 5.8z"/>
<path color="#5b8ad3" d="M204.9 120.3l-5.8-6.4-1.3 1.2 5.7 6.3z"/>
<path color="#5886d3" d="M210.6 126.6l-5.7-6.3-1.4 1.1 5.8 6.5z"/>
<path color="#5582d2" d="M216.4 132.6l-5.8-6-1.3 1.3 5.7 6.1z"/>
<path color="#527cd1" d="M222.1 138.1l-5.7-5.5-1.4 1.4 5.8 5.6z"/>
<path color="#4f76d0" d="M227.9 143.1l-5.8-5-1.3 1.5 5.7 5.1z"/>
<path color="#4b70cf" d="M233.6 147.9l-5.7-4.8-1.4 1.6 5.8 4.7z"/>
<path color="#496bcf" d="M239.4 151.6l-5.8-3.7-1.3 1.5 5.7 4.3z"/>
<path color="#4667ce" d="M245.1 155.2l-5.7-3.6-1.4 2.1 5.8 3.1z"/>
<path color="#4461cd" d="M250.9 159.4l-5.8-4.2-1.3 1.6 5.7 4.3z"/>
<path color="#435fcc" d="M253.7 160.8l-2.8-1.4-1.4 1.7 2.9 2z"/>
<path color="#425ccb" d="M256.6 162l-2.9-1.2-1.3 2.3 2.9 1.5z"/>
<path color="#425dcb" d="M259.5 161.9l-2.9 .1-1.3 2.6 2.9 1.2z"/>
<path color="#4360cc" d="M262.4 160.6l-2.9 1.3-1.3 3.9 2.8 .1z"/>
<path color="#4563cd" d="M265.2 158.7l-2.8 1.9-1.4 5.3 2.9-1.1z"/>
<path color="#4767ce" d="M268.1 156.3l-2.9 2.4-1.3 6.1 2.9-2z"/>
<path color="#496ccf" d="M271 152.9l-2.9 3.4-1.3 6.5 2.9-2.5z"/>
<path color="#4c71cf" d="M273.9 149.1l-2.9 3.8-1.3 7.4 2.8-3.6z"/>
<path color="#517ad1" d="M276.7 142.6l-2.8 6.5-1.4 7.6 2.9-5z"/>
<path color="#5683d2" d="M279.6 134.2l-2.9 8.4-1.3 9.1 2.9-7.8z"/>
<path color="#5c8ad3" d="M282.5 124.3l-2.9 9.9-1.3 9.7 2.9-9.5z"/>
<path color="#6896d6" d="M285.4 110.4l-2.9 13.9-1.3 10.1 2.8-13z"/>
<path color="#80a8df" d="M288.2 97l-2.8 13.4-1.4 11 2.9-16.8z"/>
<path color="#95b8e6" d="M291.1 85.4l-2.9 11.6-1.3 7.6 2.9-14.1z"/>
<path color="#abc8ec" d="M294 78.7l-2.9 6.7-1.3 5.1 2.9-10.3z"/>
<path color="#b6cff0" d="M296.9 75.4l-2.9 3.3-1.3 1.5 2.8-3.4z"/>
<path color="#bfd6f2" d="M299.7 72.8l-2.8 2.6-1.4 1.4 2.9-2.7z"/>
<path color="#c7dbf5" d="M302.6 70.4l-2.9 2.4-1.3 1.3 2.9-2.3z"/>
<path color="#ccdef6" d="M305.5 68.3l-2.9 2.1-1.3 1.4 2.9-2.1z"/>
<path color="#cfe1f6" d="M308.4 66.4l-2.9 1.9-1.3 1.4 2.8-1.7z"/>
<path color="#d4e4f7" d="M314.1 64l-5.7 2.4-1.4 1.6 5.8-2.1z"/>
<path color="#d8e7f8" d="M319.9 62.1l-5.8 1.9-1.3 1.9 5.7-1.7z"/>
<path color="#dce9f8" d="M325.6 60.6l-5.7 1.5-1.4 2.1 5.8-1z"/>
<path color="#dceaf8" d="M331.4 60.6l-5.8 0-1.3 2.6 5.7-.1z"/>
<path color="#ddeaf9" d="M337.1 60.5l-5.7 .1-1.4 2.5 5.8 0z"/>
<path color="#deeaf9" d="M342.9 60.5l-5.8 0-1.3 2.6 5.7 0z"/>
<path color="#deebf9" d="M348.6 60.4l-5.7 .1-1.4 2.6 5.8-.1z"/>
<path color="#dfebf9" d="M354.4 60.4l-5.8 0-1.3 2.6 5.7 0z"/>
<path color="#e0ecf9" d="M360.1 60.3l-5.7 .1-1.4 2.6 5.8-.1z"/>
<path color="#eaf3fb" d="M82.8 39l-5.8-2.2-1.3 2 5.8 2.2z"/>
<path color="#e9f2fb" d="M88.5 41.1l-5.7-2.1-1.3 2 5.7 2.1z"/>
<path color="#e7f1fa" d="M94.3 43.3l-5.8-2.2-1.3 2 5.8 2.2z"/>
<path color="#e4effa" d="M100 46l-5.7-2.7-1.3 2 5.7 2.7z"/>
<path color="#dfebf9" d="M105.8 49.1l-5.8-3.1-1.3 2 5.8 3.1z"/>
<path color="#dae8f8" d="M111.5 52.4l-5.7-3.3-1.3 2 5.7 3.3z"/>
<path color="#d4e4f7" d="M117.3 55.7l-5.8-3.3-1.3 2 5.8 3.3z"/>
<path color="#cfe1f6" d="M123 58.9l-5.7-3.2-1.3 2 5.7 3.2z"/>
<path color="#c9ddf5" d="M128.8 62.2l-5.8-3.3-1.3 2 5.8 3.2z"/>
<path color="#c1d7f3" d="M134.5 65.5l-5.7-3.3-1.3 1.9 5.7 3.3z"/>
<path color="#b6cff0" d="M140.3 69.2l-5.8-3.7-1.3 1.9 5.8 3.7z"/>
<path color="#abc7ec" d="M146 72.9l-5.7-3.7-1.3 1.9 5.7 3.7z"/>
<path color="#9ebfe9" d="M151.8 77l-5.8-4.1-1.3 1.9 5.8 4z"/>
<path color="#94b7e5" d="M157.5 81.1l-5.7-4.1-1.3 1.8 5.7 4.2z"/>
<path color="#8db2e3" d="M163.3 85.3l-5.8-4.2-1.3 1.9 5.8 4.1z"/>
<path color="#86ade1" d="M169 89.4l-5.7-4.1-1.3 1.8 5.7 4.2z"/>
<path color="#7ea7de" d="M174.8 94.3l-5.8-4.9-1.3 1.9 5.8 4.7z"/>
<path color="#75a0db" d="M180.5 99.3l-5.7-5-1.3 1.7 5.7 4.9z"/>
<path color="#6d9ad8" d="M186.3 104.2l-5.8-4.9-1.3 1.6 5.8 4.9z"/>
<path color="#6494d5" d="M192 109.3l-5.7-5.1-1.3 1.6 5.7 4.9z"/>
<path color="#5f8ed4" d="M197.8 115.1l-5.8-5.8-1.3 1.4 5.8 5.7z"/>
<path color="#5c8ad3" d="M203.5 121.4l-5.7-6.3-1.3 1.3 5.7 6z"/>
<path color="#5986d3" d="M209.3 127.9l-5.8-6.5-1.3 1 5.8 6.6z"/>
<path color="#5682d2" d="M215 134l-5.7-6.1-1.3 1.1 5.7 6.3z"/>
<path color="#527dd1" d="M220.8 139.6l-5.8-5.6-1.3 1.3 5.8 5.7z"/>
<path color="#4f76d0" d="M226.5 144.7l-5.7-5.1-1.3 1.4 5.7 5.3z"/>
<path color="#4c70cf" d="M232.3 149.4l-5.8-4.7-1.3 1.6 5.8 4.7z"/>
<path color="#496bce" d="M238 153.7l-5.7-4.3-1.3 1.6 5.7 4.5z"/>
<path color="#4767ce" d="M243.8 156.8l-5.8-3.1-1.3 1.8 5.8 3.4z"/>
<path color="#4461cd" d="M249.5 161.1l-5.7-4.3-1.3 2.1 5.7 3.7z"/>
<path color="#425ecc" d="M252.4 163.1l-2.9-2-1.3 1.5 2.9 2.2z"/>
<path color="#415bcb" d="M255.3 164.6l-2.9-1.5-1.3 1.7 2.9 2.1z"/>
<path color="#4159ca" d="M258.2 165.8l-2.9-1.2-1.3 2.3 2.8 1.5z"/>
<path color="#4159ca" d="M261 165.9l-2.8-.1-1.4 2.6 2.9 1.3z"/>
<path color="#425ccb" d="M263.9 164.8l-2.9 1.1-1.3 3.8 2.9 .2z"/>
<path color="#4360cc" d="M266.8 162.8l-2.9 2-1.3 5.1 2.9-1z"/>
<path color="#4564cd" d="M269.7 160.3l-2.9 2.5-1.3 6.1 2.8-2z"/>
<path color="#4869ce" d="M272.5 156.7l-2.8 3.6-1.4 6.6 2.9-2.6z"/>
<path color="#4c70cf" d="M275.4 151.7l-2.9 5-1.3 7.6 2.9-3.9z"/>
<path color="#517bd1" d="M278.3 143.9l-2.9 7.8-1.3 8.7 2.9-6.4z"/>
<path color="#5784d2" d="M281.2 134.4l-2.9 9.5-1.3 10.1 2.8-9.6z"/>
<path color="#5e8dd4" d="M284 121.4l-2.8 13-1.4 10 2.9-12.1z"/>
<path color="#76a1db" d="M286.9 104.6l-2.9 16.8-1.3 10.9 2.9-18z"/>
<path color="#90b4e4" d="M289.8 90.5l-2.9 14.1-1.3 9.7 2.9-17z"/>
<path color="#acc9ed" d="M292.7 80.2l-2.9 10.3-1.3 6.8 2.8-14.2z"/>
<path color="#b8d1f0" d="M295.5 76.8l-2.8 3.4-1.4 2.9 2.9-4.8z"/>
<path color="#c1d7f3" d="M298.4 74.1l-2.9 2.7-1.3 1.5 2.9-3z"/>
<path color="#c9dcf5" d="M301.3 71.8l-2.9 2.3-1.3 1.2 2.9-2.1z"/>
<path color="#cddff6" d="M304.2 69.7l-2.9 2.1-1.3 1.4 2.8-2z"/>
<path color="#d0e1f6" d="M307 68l-2.8 1.7-1.4 1.5 2.9-1.7z"/>
<path color="#d5e4f7" d="M312.8 65.9l-5.8 2.1-1.3 1.5 5.8-1.7z"/>
<path color="#d8e7f8" d="M318.5 64.2l-5.7 1.7-1.3 1.9 5.7-1.3z"/>
<path color="#dbe8f8" d="M324.3 63.2l-5.8 1-1.3 2.3 5.8-.7z"/>
<path color="#dbe9f8" d="M330 63.1l-5.7 .1-1.3 2.6 5.7-.1z"/>
<path color="#dce9f8" d="M335.8 63.1l-5.8 0-1.3 2.6 5.8 0z"/>
<path color="#ddeaf8" d="M341.5 63.1l-5.7 0-1.3 2.6 5.7 0z"/>
<path color="#ddeaf9" d="M347.3 63l-5.8 .1-1.3 2.6 5.8 0z"/>
<path color="#deebf9" d="M353 63l-5.7 0-1.3 2.7 5.7-.1z"/>
<path color="#deebf9" d="M358.8 62.9l-5.8 .1-1.3 2.6 5.8 0z"/>
<path color="#eaf2fb" d="M81.5 41l-5.8-2.2-1.3 2 5.7 2.2z"/>
<path color="#e9f2fb" d="M87.2 43.1l-5.7-2.1-1.4 2 5.8 2.2z"/>
<path color="#e7f1fa" d="M93 45.3l-5.8-2.2-1.3 2.1 5.7 2.1z"/>
<path color="#e4effa" d="M98.7 48l-5.7-2.7-1.4 2 5.8 2.6z"/>
<path color="#dfebf9" d="M104.5 51.1l-5.8-3.1-1.3 1.9 5.7 3.1z"/>
<path color="#dae8f8" d="M110.2 54.4l-5.7-3.3-1.4 1.9 5.8 3.3z"/>
<path color="#d4e4f7" d="M116 57.7l-5.8-3.3-1.3 1.9 5.7 3.3z"/>
<path color="#cfe1f6" d="M121.7 60.9l-5.7-3.2-1.4 1.9 5.8 3.2z"/>
<path color="#caddf5" d="M127.5 64.1l-5.8-3.2-1.3 1.9 5.7 3.2z"/>
<path color="#c1d7f3" d="M133.2 67.4l-5.7-3.3-1.4 1.9 5.8 3.2z"/>
<path color="#b6cff0" d="M139 71.1l-5.8-3.7-1.3 1.8 5.7 3.7z"/>
<path color="#abc8ec" d="M144.7 74.8l-5.7-3.7-1.4 1.8 5.8 3.7z"/>
<path color="#9fbfe9" d="M150.5 78.8l-5.8-4-1.3 1.8 5.7 4z"/>
<path color="#94b8e5" d="M156.2 83l-5.7-4.2-1.4 1.8 5.8 4.2z"/>
<path color="#8db2e3" d="M162 87.1l-5.8-4.1-1.3 1.8 5.7 4.2z"/>
<path color="#86ade1" d="M167.7 91.3l-5.7-4.2-1.4 1.9 5.8 4.1z"/>
<path color="#7ea7de" d="M173.5 96l-5.8-4.7-1.3 1.8 5.7 4.5z"/>
<path color="#76a1db" d="M179.2 100.9l-5.7-4.9-1.4 1.6 5.8 5z"/>
<path color="#6e9bd8" d="M185 105.8l-5.8-4.9-1.3 1.7 5.7 4.9z"/>
<path color="#6594d5" d="M190.7 110.7l-5.7-4.9-1.4 1.7 5.8 4.8z"/>
<path color="#5f8fd4" d="M196.5 116.4l-5.8-5.7-1.3 1.6 5.7 5.4z"/>
<path color="#5c8bd3" d="M202.2 122.4l-5.7-6-1.4 1.3 5.8 6z"/>
<path color="#5987d3" d="M208 129l-5.8-6.6-1.3 1.3 5.7 6.4z"/>
<path color="#5682d2" d="M213.7 135.3l-5.7-6.3-1.4 1.1 5.8 6.4z"/>
<path color="#537dd2" d="M219.5 141l-5.8-5.7-1.3 1.2 5.7 6z"/>
<path color="#4f77d0" d="M225.2 146.3l-5.7-5.3-1.4 1.5 5.8 5.4z"/>
<path color="#4c71cf" d="M231 151l-5.8-4.7-1.3 1.6 5.7 4.9z"/>
<path color="#496bce" d="M236.7 155.5l-5.7-4.5-1.4 1.8 5.8 4.4z"/>
<path color="#4767ce" d="M242.5 158.9l-5.8-3.4-1.3 1.7 5.7 3.9z"/>
<path color="#4462cd" d="M248.2 162.6l-5.7-3.7-1.4 2.2 5.8 3z"/>
<path color="#435ecc" d="M251.1 164.8l-2.9-2.2-1.3 1.5 2.9 2.2z"/>
<path color="#415bca" d="M254 166.9l-2.9-2.1-1.3 1.5 2.8 2.3z"/>
<path color="#4058ca" d="M256.8 168.4l-2.8-1.5-1.4 1.7 2.9 2.1z"/>
<path color="#3f56c9" d="M259.7 169.7l-2.9-1.3-1.3 2.3 2.9 1.5z"/>
<path color="#3f56c9" d="M262.6 169.9l-2.9-.2-1.3 2.5 2.9 1.3z"/>
<path color="#4058c9" d="M265.5 168.9l-2.9 1-1.3 3.6 2.8 .4z"/>
<path color="#425ccb" d="M268.3 166.9l-2.8 2-1.4 5 2.9-.7z"/>
<path color="#4461cd" d="M271.2 164.3l-2.9 2.6-1.3 6.3 2.9-2.1z"/>
<path color="#4767ce" d="M274.1 160.4l-2.9 3.9-1.3 6.8 2.9-3z"/>
<path color="#4b70cf" d="M277 154l-2.9 6.4-1.3 7.7 2.8-4z"/>
<path color="#537dd2" d="M279.8 144.4l-2.8 9.6-1.4 10.1 2.9-8.3z"/>
<path color="#5987d3" d="M282.7 132.3l-2.9 12.1-1.3 11.4 2.9-11.9z"/>
<path color="#6896d6" d="M285.6 114.3l-2.9 18-1.3 11.6 2.9-16.1z"/>
<path color="#87aee1" d="M288.5 97.3l-2.9 17-1.3 13.5 2.8-21.7z"/>
<path color="#a9c7ec" d="M291.3 83.1l-2.8 14.2-1.4 8.8 2.9-17.6z"/>
<path color="#b9d2f1" d="M294.2 78.3l-2.9 4.8-1.3 5.4 2.9-8.8z"/>
<path color="#c4d9f4" d="M297.1 75.3l-2.9 3-1.3 1.4 2.9-3.3z"/>
<path color="#caddf5" d="M300 73.2l-2.9 2.1-1.3 1.1 2.8-1.9z"/>
<path color="#cee0f6" d="M302.8 71.2l-2.8 2-1.4 1.3 2.9-1.9z"/>
<path color="#d1e2f6" d="M305.7 69.5l-2.9 1.7-1.3 1.4 2.9-1.6z"/>
<path color="#d5e4f7" d="M311.5 67.8l-5.8 1.7-1.3 1.5 5.7-1.2z"/>
<path color="#d8e6f8" d="M317.2 66.5l-5.7 1.3-1.4 2 5.8-1.1z"/>
<path color="#d9e8f8" d="M323 65.8l-5.8 .7-1.3 2.2 5.7-.3z"/>
<path color="#dae8f8" d="M328.7 65.7l-5.7 .1-1.4 2.6 5.8 0z"/>
<path color="#dbe8f8" d="M334.5 65.7l-5.8 0-1.3 2.7 5.7-.1z"/>
<path color="#dbe9f8" d="M340.2 65.7l-5.7 0-1.4 2.6 5.8 0z"/>
<path color="#dce9f8" d="M346 65.7l-5.8 0-1.3 2.6 5.7 0z"/>
<path color="#dceaf8" d="M351.7 65.6l-5.7 .1-1.4 2.6 5.8 0z"/>
<path color="#ddeaf9" d="M357.5 65.6l-5.8 0-1.3 2.7 5.7 0z"/>
<path color="#eaf2fb" d="M80.1 43l-5.7-2.2-1.3 2 5.7 2.2z"/>
<path color="#e9f2fb" d="M85.9 45.2l-5.8-2.2-1.3 2 5.8 2.2z"/>
<path color="#e7f1fa" d="M91.6 47.3l-5.7-2.1-1.3 2 5.7 2.2z"/>
<path color="#e4effa" d="M97.4 49.9l-5.8-2.6-1.3 2.1 5.8 2.6z"/>
<path color="#dfebf9" d="M103.1 53l-5.7-3.1-1.3 2.1 5.7 3z"/>
<path color="#dae8f8" d="M108.9 56.3l-5.8-3.3-1.3 2 5.8 3.3z"/>
<path color="#d4e4f7" d="M114.6 59.6l-5.7-3.3-1.3 2 5.7 3.3z"/>
<path color="#cfe1f6" d="M120.4 62.8l-5.8-3.2-1.3 2 5.8 3.2z"/>
<path color="#caddf5" d="M126.1 66l-5.7-3.2-1.3 2 5.7 3.2z"/>
<path color="#c1d7f3" d="M131.9 69.2l-5.8-3.2-1.3 2 5.8 3.2z"/>
<path color="#b6d0f0" d="M137.6 72.9l-5.7-3.7-1.3 2 5.7 3.6z"/>
<path color="#abc8ec" d="M143.4 76.6l-5.8-3.7-1.3 1.9 5.8 3.7z"/>
<path color="#9fc0e9" d="M149.1 80.6l-5.7-4-1.3 1.9 5.7 3.9z"/>
<path color="#94b8e5" d="M154.9 84.8l-5.8-4.2-1.3 1.8 5.8 4.2z"/>
<path color="#8db2e3" d="M160.6 89l-5.7-4.2-1.3 1.8 5.7 4.2z"/>
<path color="#86ade1" d="M166.4 93.1l-5.8-4.1-1.3 1.8 5.8 4.2z"/>
<path color="#7fa7de" d="M172.1 97.6l-5.7-4.5-1.3 1.9 5.7 4.3z"/>
<path color="#76a1db" d="M177.9 102.6l-5.8-5-1.3 1.7 5.8 5z"/>
<path color="#6e9bd8" d="M183.6 107.5l-5.7-4.9-1.3 1.7 5.7 4.9z"/>
<path color="#6695d6" d="M189.4 112.3l-5.8-4.8-1.3 1.7 5.8 4.8z"/>
<path color="#608fd4" d="M195.1 117.7l-5.7-5.4-1.3 1.7 5.7 5.1z"/>
<path color="#5d8bd3" d="M200.9 123.7l-5.8-6-1.3 1.4 5.8 5.9z"/>
<path color="#5a87d3" d="M206.6 130.1l-5.7-6.4-1.3 1.3 5.7 6.2z"/>
<path color="#5683d2" d="M212.4 136.5l-5.8-6.4-1.3 1.1 5.8 6.6z"/>
<path color="#537ed2" d="M218.1 142.5l-5.7-6-1.3 1.3 5.7 6.2z"/>
<path color="#4f77d1" d="M223.9 147.9l-5.8-5.4-1.3 1.5 5.8 5.5z"/>
<path color="#4c71cf" d="M229.6 152.8l-5.7-4.9-1.3 1.6 5.7 5z"/>
<path color="#496bcf" d="M235.4 157.2l-5.8-4.4-1.3 1.7 5.8 4.4z"/>
<path color="#4666ce" d="M241.1 161.1l-5.7-3.9-1.3 1.7 5.7 4.2z"/>
<path color="#4463cd" d="M246.9 164.1l-5.8-3-1.3 2 5.8 3.1z"/>
<path color="#435fcc" d="M249.8 166.3l-2.9-2.2-1.3 2.1 2.8 1.6z"/>
<path color="#415bcb" d="M252.6 168.6l-2.8-2.3-1.4 1.5 2.9 2.2z"/>
<path color="#4057c9" d="M255.5 170.7l-2.9-2.1-1.3 1.4 2.9 2.3z"/>
<path color="#3f55c8" d="M258.4 172.2l-2.9-1.5-1.3 1.6 2.9 2.1z"/>
<path color="#3e52c8" d="M261.3 173.5l-2.9-1.3-1.3 2.2 2.8 1.6z"/>
<path color="#3e52c8" d="M264.1 173.9l-2.8-.4-1.4 2.5 2.9 1.4z"/>
<path color="#3f54c8" d="M267 173.2l-2.9 .7-1.3 3.5 2.9 .5z"/>
<path color="#4058ca" d="M269.9 171.1l-2.9 2.1-1.3 4.7 2.9-.5z"/>
<path color="#435ecc" d="M272.8 168.1l-2.9 3-1.3 6.3 2.8-2.2z"/>
<path color="#4665cd" d="M275.6 164.1l-2.8 4-1.4 7.1 2.9-3.3z"/>
<path color="#4c70cf" d="M278.5 155.8l-2.9 8.3-1.3 7.8 2.9-5.4z"/>
<path color="#5480d2" d="M281.4 143.9l-2.9 11.9-1.3 10.7 2.9-10.9z"/>
<path color="#5d8cd3" d="M284.3 127.8l-2.9 16.1-1.3 11.7 2.8-14.7z"/>
<path color="#7ba4dd" d="M287.1 106.1l-2.8 21.7-1.4 13.1 2.9-23.4z"/>
<path color="#9ebfe8" d="M290 88.5l-2.9 17.6-1.3 11.4 2.9-21.5z"/>
<path color="#bbd3f1" d="M292.9 79.7l-2.9 8.8-1.3 7.5 2.9-14.9z"/>
<path color="#c6dbf5" d="M295.8 76.4l-2.9 3.3-1.3 1.4 2.8-3.5z"/>
<path color="#cbdef5" d="M298.6 74.5l-2.8 1.9-1.4 1.2 2.9-2z"/>
<path color="#cfe0f6" d="M301.5 72.6l-2.9 1.9-1.3 1.1 2.9-1.6z"/>
<path color="#d2e2f7" d="M304.4 71l-2.9 1.6-1.3 1.4 2.9-1.5z"/>
<path color="#d5e4f7" d="M310.1 69.8l-5.7 1.2-1.3 1.5 5.7-.7z"/>
<path color="#d7e6f8" d="M315.9 68.7l-5.8 1.1-1.3 2 5.8-.7z"/>
<path color="#d8e7f8" d="M321.6 68.4l-5.7 .3-1.3 2.4 5.7-.1z"/>
<path color="#d9e7f8" d="M327.4 68.4l-5.8 0-1.3 2.6 5.8 0z"/>
<path color="#d9e8f8" d="M333.1 68.3l-5.7 .1-1.3 2.6 5.7 0z"/>
<path color="#dae8f8" d="M338.9 68.3l-5.8 0-1.3 2.7 5.8 0z"/>
<path color="#dbe8f8" d="M344.6 68.3l-5.7 0-1.3 2.7 5.7 0z"/>
<path color="#dbe9f8" d="M350.4 68.3l-5.8 0-1.3 2.7 5.8 0z"/>
<path color="#dce9f8" d="M356.1 68.3l-5.7 0-1.3 2.7 5.7 0z"/>
<path color="#eaf2fb" d="M78.8 45l-5.7-2.2-1.4 2 5.8 2.2z"/>
<path color="#e9f2fb" d="M84.6 47.2l-5.8-2.2-1.3 2 5.7 2.2z"/>
<path color="#e7f1fa" d="M90.3 49.4l-5.7-2.2-1.4 2 5.8 2.3z"/>
<path color="#e4effa" d="M96.1 52l-5.8-2.6-1.3 2.1 5.7 2.5z"/>
<path color="#dfebf9" d="M101.8 55l-5.7-3-1.4 2 5.8 3.1z"/>
<path color="#dae8f8" d="M107.6 58.3l-5.8-3.3-1.3 2.1 5.7 3.2z"/>
<path color="#d4e4f7" d="M113.3 61.6l-5.7-3.3-1.4 2 5.8 3.3z"/>
<path color="#cfe1f6" d="M119.1 64.8l-5.8-3.2-1.3 2 5.7 3.3z"/>
<path color="#caddf5" d="M124.8 68l-5.7-3.2-1.4 2.1 5.8 3.1z"/>
<path color="#c1d7f3" d="M130.6 71.2l-5.8-3.2-1.3 2 5.7 3.2z"/>
<path color="#b7d0f0" d="M136.3 74.8l-5.7-3.6-1.4 2 5.8 3.6z"/>
<path color="#acc8ec" d="M142.1 78.5l-5.8-3.7-1.3 2 5.7 3.7z"/>
<path color="#a0c0e9" d="M147.8 82.4l-5.7-3.9-1.4 2 5.8 3.9z"/>
<path color="#95b8e5" d="M153.6 86.6l-5.8-4.2-1.3 2 5.7 4.3z"/>
<path color="#8db3e3" d="M159.3 90.8l-5.7-4.2-1.4 2.1 5.8 4.2z"/>
<path color="#86ade1" d="M165.1 95l-5.8-4.2-1.3 2.1 5.7 4.2z"/>
<path color="#7fa8de" d="M170.8 99.3l-5.7-4.3-1.4 2.1 5.8 4.2z"/>
<path color="#77a1db" d="M176.6 104.3l-5.8-5-1.3 2 5.7 5z"/>
<path color="#6f9bd9" d="M182.3 109.2l-5.7-4.9-1.4 2 5.8 4.9z"/>
<path color="#6695d6" d="M188.1 114l-5.8-4.8-1.3 2 5.7 4.8z"/>
<path color="#6090d4" d="M193.8 119.1l-5.7-5.1-1.4 2 5.8 5z"/>
<path color="#5d8cd3" d="M199.6 125l-5.8-5.9-1.3 1.9 5.7 5.8z"/>
<path color="#5a88d3" d="M205.3 131.2l-5.7-6.2-1.4 1.8 5.8 6.1z"/>
<path color="#5783d2" d="M211.1 137.8l-5.8-6.6-1.3 1.7 5.7 6.7z"/>
<path color="#537fd2" d="M216.8 144l-5.7-6.2-1.4 1.8 5.8 6.3z"/>
<path color="#5078d1" d="M222.6 149.5l-5.8-5.5-1.3 1.9 5.7 5.6z"/>
<path color="#4c71d0" d="M228.3 154.5l-5.7-5-1.4 2 5.8 5.1z"/>
<path color="#496ccf" d="M234.1 158.9l-5.8-4.4-1.3 2.1 5.7 4.4z"/>
<path color="#4666ce" d="M239.8 163.1l-5.7-4.2-1.4 2.1 5.8 4.2z"/>
<path color="#4463cd" d="M245.6 166.2l-5.8-3.1-1.3 2.1 5.7 3.3z"/>
<path color="#4360cc" d="M248.4 167.8l-2.8-1.6-1.4 2.3 2.9 1.5z"/>
<path color="#425ccb" d="M251.3 170l-2.9-2.2-1.3 2.2 2.9 1.9z"/>
<path color="#4058ca" d="M254.2 172.3l-2.9-2.3-1.3 1.9 2.9 2.2z"/>
<path color="#3f54c8" d="M257.1 174.4l-2.9-2.1-1.3 1.8 2.8 2.4z"/>
<path color="#3e51c7" d="M259.9 176l-2.8-1.6-1.4 2.1 2.9 1.9z"/>
<path color="#3d4fc6" d="M262.8 177.4l-2.9-1.4-1.3 2.4 2.9 1.6z"/>
<path color="#3d4ec6" d="M265.7 177.9l-2.9-.5-1.3 2.6 2.9 1.2z"/>
<path color="#3d4fc7" d="M268.6 177.4l-2.9 .5-1.3 3.3 2.8-.2z"/>
<path color="#3f54c8" d="M271.4 175.2l-2.8 2.2-1.4 3.6 2.9-1.2z"/>
<path color="#415bca" d="M274.3 171.9l-2.9 3.3-1.3 4.6 2.9-2.5z"/>
<path color="#4564cd" d="M277.2 166.5l-2.9 5.4-1.3 5.4 2.9-4.3z"/>
<path color="#4d73d0" d="M280.1 155.6l-2.9 10.9-1.3 6.5 2.8-8.5z"/>
<path color="#5784d2" d="M282.9 140.9l-2.8 14.7-1.4 8.9 2.9-13.4z"/>
<path color="#6a97d7" d="M285.8 117.5l-2.9 23.4-1.3 10.2 2.9-19.7z"/>
<path color="#91b5e4" d="M288.7 96l-2.9 21.5-1.3 13.9 2.9-24.9z"/>
<path color="#bdd4f2" d="M291.6 81.1l-2.9 14.9-1.3 10.5 2.8-19.5z"/>
<path color="#c8dcf5" d="M294.4 77.6l-2.8 3.5-1.4 5.9 2.9-5.6z"/>
<path color="#ccdff6" d="M297.3 75.6l-2.9 2-1.3 3.8 2.9-2.7z"/>
<path color="#d0e1f6" d="M300.2 74l-2.9 1.6-1.3 3.1 2.9-1.7z"/>
<path color="#d3e3f7" d="M303.1 72.5l-2.9 1.5-1.3 3 2.8-1.7z"/>
<path color="#d4e4f7" d="M308.8 71.8l-5.7 .7-1.4 2.8 5.8-.8z"/>
<path color="#d6e6f7" d="M314.6 71.1l-5.8 .7-1.3 2.7 5.7-.8z"/>
<path color="#d7e6f8" d="M320.3 71l-5.7 .1-1.4 2.6 5.8-.1z"/>
<path color="#d8e6f8" d="M326.1 71l-5.8 0-1.3 2.6 5.7 0z"/>
<path color="#d8e7f8" d="M331.8 71l-5.7 0-1.4 2.6 5.8 0z"/>
<path color="#d9e7f8" d="M337.6 71l-5.8 0-1.3 2.6 5.7 0z"/>
<path color="#d9e8f8" d="M343.3 71l-5.7 0-1.4 2.6 5.8 0z"/>
<path color="#dae8f8" d="M349.1 71l-5.8 0-1.3 2.6 5.7 0z"/>
<path color="#dae8f8" d="M354.8 71l-5.7 0-1.4 2.6 5.8 0z"/>
<path color="#eaf2fb" d="M77.5 47l-5.8-2.2-1.3 1.9 5.8 2.3z"/>
<path color="#e8f1fb" d="M83.2 49.2l-5.7-2.2-1.3 2 5.7 2.3z"/>
<path color="#e7f1fa" d="M89 51.5l-5.8-2.3-1.3 2.1 5.8 2.2z"/>
<path color="#e4effa" d="M94.7 54l-5.7-2.5-1.3 2 5.7 2.5z"/>
<path color="#dfebf9" d="M100.5 57.1l-5.8-3.1-1.3 2 5.8 3.1z"/>
<path color="#d9e8f8" d="M106.2 60.3l-5.7-3.2-1.3 2 5.7 3.3z"/>
<path color="#d4e4f7" d="M112 63.6l-5.8-3.3-1.3 2.1 5.8 3.3z"/>
<path color="#cfe0f6" d="M117.7 66.9l-5.7-3.3-1.3 2.1 5.7 3.2z"/>
<path color="#c9ddf5" d="M123.5 70l-5.8-3.1-1.3 2 5.8 3.2z"/>
<path color="#c1d7f3" d="M129.2 73.2l-5.7-3.2-1.3 2.1 5.7 3.1z"/>
<path color="#b7d0f0" d="M135 76.8l-5.8-3.6-1.3 2 5.8 3.5z"/>
<path color="#abc8ec" d="M140.7 80.5l-5.7-3.7-1.3 1.9 5.7 3.8z"/>
<path color="#a0c0e9" d="M146.5 84.4l-5.8-3.9-1.3 2 5.8 3.9z"/>
<path color="#94b8e5" d="M152.2 88.7l-5.7-4.3-1.3 2 5.7 4.3z"/>
<path color="#8db2e3" d="M158 92.9l-5.8-4.2-1.3 2 5.8 4.3z"/>
<path color="#86ade1" d="M163.7 97.1l-5.7-4.2-1.3 2.1 5.7 4.2z"/>
<path color="#7fa8de" d="M169.5 101.3l-5.8-4.2-1.3 2.1 5.8 4.3z"/>
<path color="#77a1db" d="M175.2 106.3l-5.7-5-1.3 2.2 5.7 4.9z"/>
<path color="#6f9bd9" d="M181 111.2l-5.8-4.9-1.3 2.1 5.8 4.8z"/>
<path color="#6695d6" d="M186.7 116l-5.7-4.8-1.3 2 5.7 4.9z"/>
<path color="#6090d4" d="M192.5 121l-5.8-5-1.3 2.1 5.8 4.8z"/>
<path color="#5d8cd3" d="M198.2 126.8l-5.7-5.8-1.3 1.9 5.7 5.7z"/>
<path color="#5a88d3" d="M204 132.9l-5.8-6.1-1.3 1.8 5.8 6z"/>
<path color="#5784d2" d="M209.7 139.6l-5.7-6.7-1.3 1.7 5.7 6.7z"/>
<path color="#537fd2" d="M215.5 145.9l-5.8-6.3-1.3 1.7 5.8 6.4z"/>
<path color="#5078d1" d="M221.2 151.5l-5.7-5.6-1.3 1.8 5.7 5.8z"/>
<path color="#4c71d0" d="M227 156.6l-5.8-5.1-1.3 2 5.8 5.2z"/>
<path color="#496bcf" d="M232.7 161l-5.7-4.4-1.3 2.1 5.7 4.5z"/>
<path color="#4666ce" d="M238.5 165.2l-5.8-4.2-1.3 2.2 5.8 4z"/>
<path color="#4462cd" d="M244.2 168.5l-5.7-3.3-1.3 2 5.7 3.6z"/>
<path color="#4360cc" d="M247.1 170l-2.9-1.5-1.3 2.3 2.9 1.4z"/>
<path color="#425ccb" d="M250 171.9l-2.9-1.9-1.3 2.2 2.9 1.5z"/>
<path color="#4058ca" d="M252.9 174.1l-2.9-2.2-1.3 1.8 2.8 2.3z"/>
<path color="#3f54c8" d="M255.7 176.5l-2.8-2.4-1.4 1.9 2.9 2.3z"/>
<path color="#3e51c7" d="M258.6 178.4l-2.9-1.9-1.3 1.8 2.9 2.3z"/>
<path color="#3d4ec6" d="M261.5 180l-2.9-1.6-1.3 2.2 2.9 1.7z"/>
<path color="#3c4cc5" d="M264.4 181.2l-2.9-1.2-1.3 2.3 2.8 1.5z"/>
<path color="#3c4cc6" d="M267.2 181l-2.8 .2-1.4 2.6 2.9 .8z"/>
<path color="#3d4fc7" d="M270.1 179.8l-2.9 1.2-1.3 3.6 2.9-.5z"/>
<path color="#3f54c8" d="M273 177.3l-2.9 2.5-1.3 4.3 2.9-2.2z"/>
<path color="#425dcb" d="M275.9 173l-2.9 4.3-1.3 4.6 2.8-3.5z"/>
<path color="#486ace" d="M278.7 164.5l-2.8 8.5-1.4 5.4 2.9-6.1z"/>
<path color="#527cd1" d="M281.6 151.1l-2.9 13.4-1.3 7.8 2.9-12z"/>
<path color="#5d8cd3" d="M284.5 131.4l-2.9 19.7-1.3 9.2 2.9-16.4z"/>
<path color="#81a9df" d="M287.4 106.5l-2.9 24.9-1.3 12.5 2.8-25.8z"/>
<path color="#b0cbee" d="M290.2 87l-2.8 19.5-1.4 11.6 2.9-22.2z"/>
<path color="#c3d8f3" d="M293.1 81.4l-2.9 5.6-1.3 8.9 2.9-10.7z"/>
<path color="#caddf5" d="M296 78.7l-2.9 2.7-1.3 3.8 2.9-3.3z"/>
<path color="#cee0f6" d="M298.9 77l-2.9 1.7-1.3 3.2 2.8-1.8z"/>
<path color="#d1e2f7" d="M301.7 75.3l-2.8 1.7-1.4 3.1 2.9-1.8z"/>
<path color="#d3e3f7" d="M307.5 74.5l-5.8 .8-1.3 3 5.8-1.2z"/>
<path color="#d5e5f7" d="M313.2 73.7l-5.7 .8-1.3 2.6 5.7-.7z"/>
<path color="#d6e5f7" d="M319 73.6l-5.8 .1-1.3 2.7 5.8-.2z"/>
<path color="#d6e6f7" d="M324.7 73.6l-5.7 0-1.3 2.6 5.7 0z"/>
<path color="#d7e6f8" d="M330.5 73.6l-5.8 0-1.3 2.6 5.8 0z"/>
<path color="#d8e6f8" d="M336.2 73.6l-5.7 0-1.3 2.6 5.7 0z"/>
<path color="#d8e7f8" d="M342 73.6l-5.8 0-1.3 2.6 5.8 .1z"/>
<path color="#d9e7f8" d="M347.7 73.6l-5.7 0-1.3 2.7 5.7 0z"/>
<path color="#d9e7f8" d="M353.5 73.6l-5.8 0-1.3 2.7 5.8 0z"/>
<path color="#eaf2fb" d="M76.2 49l-5.8-2.3-1.3 2 5.7 2.3z"/>
<path color="#e8f1fb" d="M81.9 51.3l-5.7-2.3-1.4 2 5.8 2.3z"/>
<path color="#e7f0fa" d="M87.7 53.5l-5.8-2.2-1.3 2 5.7 2.3z"/>
<path color="#e4eefa" d="M93.4 56l-5.7-2.5-1.4 2.1 5.8 2.5z"/>
<path color="#dfebf9" d="M99.2 59.1l-5.8-3.1-1.3 2.1 5.7 3.1z"/>
<path color="#d9e8f8" d="M104.9 62.4l-5.7-3.3-1.4 2.1 5.8 3.2z"/>
<path color="#d4e4f7" d="M110.7 65.7l-5.8-3.3-1.3 2 5.7 3.3z"/>
<path color="#cee0f6" d="M116.4 68.9l-5.7-3.2-1.4 2 5.8 3.3z"/>
<path color="#c9ddf5" d="M122.2 72.1l-5.8-3.2-1.3 2.1 5.7 3.1z"/>
<path color="#c1d7f3" d="M127.9 75.2l-5.7-3.1-1.4 2 5.8 3.1z"/>
<path color="#b7d0f0" d="M133.7 78.7l-5.8-3.5-1.3 2 5.7 3.5z"/>
<path color="#abc8ec" d="M139.4 82.5l-5.7-3.8-1.4 2 5.8 3.8z"/>
<path color="#a0c0e9" d="M145.2 86.4l-5.8-3.9-1.3 2 5.7 3.9z"/>
<path color="#94b8e5" d="M150.9 90.7l-5.7-4.3-1.4 2 5.8 4.3z"/>
<path color="#8db2e3" d="M156.7 95l-5.8-4.3-1.3 2 5.7 4.3z"/>
<path color="#86ade1" d="M162.4 99.2l-5.7-4.2-1.4 2 5.8 4.3z"/>
<path color="#7fa8de" d="M168.2 103.5l-5.8-4.3-1.3 2.1 5.7 4.3z"/>
<path color="#77a1db" d="M173.9 108.4l-5.7-4.9-1.4 2.1 5.8 4.8z"/>
<path color="#6e9bd9" d="M179.7 113.2l-5.8-4.8-1.3 2 5.7 4.9z"/>
<path color="#6695d6" d="M185.4 118.1l-5.7-4.9-1.4 2.1 5.8 4.8z"/>
<path color="#6090d4" d="M191.2 122.9l-5.8-4.8-1.3 2 5.7 4.8z"/>
<path color="#5d8cd3" d="M196.9 128.6l-5.7-5.7-1.4 2 5.8 5.6z"/>
<path color="#5a88d3" d="M202.7 134.6l-5.8-6-1.3 1.9 5.7 6z"/>
<path color="#5784d2" d="M208.4 141.3l-5.7-6.7-1.4 1.9 5.8 6.5z"/>
<path color="#537fd2" d="M214.2 147.7l-5.8-6.4-1.3 1.7 5.7 6.6z"/>
<path color="#4f77d1" d="M219.9 153.5l-5.7-5.8-1.4 1.9 5.8 6z"/>
<path color="#4c71cf" d="M225.7 158.7l-5.8-5.2-1.3 2.1 5.7 5.3z"/>
<path color="#496bcf" d="M231.4 163.2l-5.7-4.5-1.4 2.2 5.8 4.6z"/>
<path color="#4666ce" d="M237.2 167.2l-5.8-4-1.3 2.3 5.7 3.9z"/>
<path color="#4462cd" d="M242.9 170.8l-5.7-3.6-1.4 2.2 5.8 3.7z"/>
<path color="#435fcc" d="M245.8 172.2l-2.9-1.4-1.3 2.3 2.9 1.4z"/>
<path color="#425ccb" d="M248.7 173.7l-2.9-1.5-1.3 2.3 2.8 1.4z"/>
<path color="#4058ca" d="M251.5 176l-2.8-2.3-1.4 2.2 2.9 1.9z"/>
<path color="#3f54c8" d="M254.4 178.3l-2.9-2.3-1.3 1.8 2.9 2.3z"/>
<path color="#3d50c7" d="M257.3 180.6l-2.9-2.3-1.3 1.8 2.9 2.5z"/>
<path color="#3c4dc6" d="M260.2 182.3l-2.9-1.7-1.3 2 2.8 2z"/>
<path color="#3b4ac5" d="M263 183.8l-2.8-1.5-1.4 2.3 2.9 1.7z"/>
<path color="#3b49c4" d="M265.9 184.6l-2.9-.8-1.3 2.5 2.9 1.4z"/>
<path color="#3b4ac5" d="M268.8 184.1l-2.9 .5-1.3 3.1 2.9 0z"/>
<path color="#3d4fc6" d="M271.7 181.9l-2.9 2.2-1.3 3.6 2.8-1.2z"/>
<path color="#4056c9" d="M274.5 178.4l-2.8 3.5-1.4 4.6 2.9-2.5z"/>
<path color="#4462cd" d="M277.4 172.3l-2.9 6.1-1.3 5.6 2.9-4.6z"/>
<path color="#4d73d0" d="M280.3 160.3l-2.9 12-1.3 7.1 2.9-9.5z"/>
<path color="#5885d3" d="M283.2 143.9l-2.9 16.4-1.3 9.6 2.8-14.8z"/>
<path color="#709cd9" d="M286 118.1l-2.8 25.8-1.4 11.2 2.9-23.5z"/>
<path color="#9abce7" d="M288.9 95.9l-2.9 22.2-1.3 13.5 2.9-25.1z"/>
<path color="#bdd4f2" d="M291.8 85.2l-2.9 10.7-1.3 10.6 2.9-17.4z"/>
<path color="#c8dcf5" d="M294.7 81.9l-2.9 3.3-1.3 3.9 2.8-3.8z"/>
<path color="#ccdef6" d="M297.5 80.1l-2.8 1.8-1.4 3.4 2.9-2.1z"/>
<path color="#cfe1f6" d="M300.4 78.3l-2.9 1.8-1.3 3.1 2.9-1.8z"/>
<path color="#d2e3f7" d="M306.2 77.1l-5.8 1.2-1.3 3.1 5.7-1.6z"/>
<path color="#d4e4f7" d="M311.9 76.4l-5.7 .7-1.4 2.7 5.8-.8z"/>
<path color="#d5e5f7" d="M317.7 76.2l-5.8 .2-1.3 2.6 5.7-.2z"/>
<path color="#d5e5f7" d="M323.4 76.2l-5.7 0-1.4 2.6 5.8 0z"/>
<path color="#d6e5f7" d="M329.2 76.2l-5.8 0-1.3 2.6 5.7 0z"/>
<path color="#d6e6f7" d="M334.9 76.2l-5.7 0-1.4 2.6 5.8 .1z"/>
<path color="#d7e6f7" d="M340.7 76.3l-5.8-.1-1.3 2.7 5.7 0z"/>
<path color="#d7e6f8" d="M346.4 76.3l-5.7 0-1.4 2.6 5.8 .1z"/>
<path color="#d8e7f8" d="M352.2 76.3l-5.8 0-1.3 2.7 5.7 0z"/>
<path color="#eaf2fb" d="M74.8 51l-5.7-2.3-1.3 2 5.7 2.3z"/>
<path color="#e8f1fb" d="M80.6 53.3l-5.8-2.3-1.3 2 5.8 2.3z"/>
<path color="#e7f0fa" d="M86.3 55.6l-5.7-2.3-1.3 2 5.7 2.3z"/>
<path color="#e4eefa" d="M92.1 58.1l-5.8-2.5-1.3 2 5.8 2.6z"/>
<path color="#dfebf9" d="M97.8 61.2l-5.7-3.1-1.3 2.1 5.7 3z"/>
<path color="#d9e7f8" d="M103.6 64.4l-5.8-3.2-1.3 2 5.8 3.2z"/>
<path color="#d4e4f7" d="M109.3 67.7l-5.7-3.3-1.3 2 5.7 3.3z"/>
<path color="#cee0f6" d="M115.1 71l-5.8-3.3-1.3 2 5.8 3.3z"/>
<path color="#c9ddf5" d="M120.8 74.1l-5.7-3.1-1.3 2 5.7 3.1z"/>
<path color="#c1d7f3" d="M126.6 77.2l-5.8-3.1-1.3 2 5.8 3.2z"/>
<path color="#b7d0f0" d="M132.3 80.7l-5.7-3.5-1.3 2.1 5.7 3.4z"/>
<path color="#abc8ec" d="M138.1 84.5l-5.8-3.8-1.3 2 5.8 3.8z"/>
<path color="#a0c0e9" d="M143.8 88.4l-5.7-3.9-1.3 2 5.7 3.9z"/>
<path color="#94b8e5" d="M149.6 92.7l-5.8-4.3-1.3 2 5.8 4.3z"/>
<path color="#8db2e3" d="M155.3 97l-5.7-4.3-1.3 2 5.7 4.4z"/>
<path color="#86ade0" d="M161.1 101.3l-5.8-4.3-1.3 2.1 5.8 4.3z"/>
<path color="#7fa7de" d="M166.8 105.6l-5.7-4.3-1.3 2.1 5.7 4.3z"/>
<path color="#76a1db" d="M172.6 110.4l-5.8-4.8-1.3 2.1 5.8 4.7z"/>
<path color="#6e9bd8" d="M178.3 115.3l-5.7-4.9-1.3 2 5.7 4.9z"/>
<path color="#6695d6" d="M184.1 120.1l-5.8-4.8-1.3 2 5.8 4.8z"/>
<path color="#6090d4" d="M189.8 124.9l-5.7-4.8-1.3 2 5.7 4.8z"/>
<path color="#5d8cd3" d="M195.6 130.5l-5.8-5.6-1.3 2 5.8 5.4z"/>
<path color="#5a88d3" d="M201.3 136.5l-5.7-6-1.3 1.8 5.7 6z"/>
<path color="#5784d2" d="M207.1 143l-5.8-6.5-1.3 1.8 5.8 6.4z"/>
<path color="#547fd2" d="M212.8 149.6l-5.7-6.6-1.3 1.7 5.7 6.7z"/>
<path color="#4f77d1" d="M218.6 155.6l-5.8-6-1.3 1.8 5.8 6.2z"/>
<path color="#4c71cf" d="M224.3 160.9l-5.7-5.3-1.3 2 5.7 5.4z"/>
<path color="#496bce" d="M230.1 165.5l-5.8-4.6-1.3 2.1 5.8 4.6z"/>
<path color="#4666ce" d="M235.8 169.4l-5.7-3.9-1.3 2.1 5.7 4z"/>
<path color="#4461cd" d="M241.6 173.1l-5.8-3.7-1.3 2.2 5.8 3.7z"/>
<path color="#435ecc" d="M244.5 174.5l-2.9-1.4-1.3 2.2 2.8 1.5z"/>
<path color="#425ccb" d="M247.3 175.9l-2.8-1.4-1.4 2.3 2.9 1.4z"/>
<path color="#4159ca" d="M250.2 177.8l-2.9-1.9-1.3 2.3 2.9 1.4z"/>
<path color="#3f55c8" d="M253.1 180.1l-2.9-2.3-1.3 1.8 2.9 2.3z"/>
<path color="#3d50c7" d="M256 182.6l-2.9-2.5-1.3 1.8 2.8 2.4z"/>
<path color="#3c4cc6" d="M258.8 184.6l-2.8-2-1.4 1.7 2.9 2.5z"/>
<path color="#3b49c5" d="M261.7 186.3l-2.9-1.7-1.3 2.2 2.9 1.8z"/>
<path color="#3a47c4" d="M264.6 187.7l-2.9-1.4-1.3 2.3 2.9 1.7z"/>
<path color="#3a47c4" d="M267.5 187.7l-2.9 0-1.3 2.6 2.8 1.1z"/>
<path color="#3b4ac5" d="M270.3 186.5l-2.8 1.2-1.4 3.7 2.9-.6z"/>
<path color="#3d4fc7" d="M273.2 184l-2.9 2.5-1.3 4.3 2.9-2.2z"/>
<path color="#4058ca" d="M276.1 179.4l-2.9 4.6-1.3 4.6 2.9-3.7z"/>
<path color="#4768ce" d="M279 169.9l-2.9 9.5-1.3 5.5 2.8-6.8z"/>
<path color="#527dd1" d="M281.8 155.1l-2.8 14.8-1.4 8.2 2.9-13.3z"/>
<path color="#5f8fd4" d="M284.7 131.6l-2.9 23.5-1.3 9.7 2.9-18.5z"/>
<path color="#88afe1" d="M287.6 106.5l-2.9 25.1-1.3 14.7 2.9-28.2z"/>
<path color="#b7d0f0" d="M290.5 89.1l-2.9 17.4-1.3 11.6 2.8-22.2z"/>
<path color="#c4d9f4" d="M293.3 85.3l-2.8 3.8-1.4 6.8 2.9-7z"/>
<path color="#caddf5" d="M296.2 83.2l-2.9 2.1-1.3 3.6 2.9-2.8z"/>
<path color="#cddff6" d="M299.1 81.4l-2.9 1.8-1.3 2.9 2.9-1.9z"/>
<path color="#d1e2f6" d="M304.8 79.8l-5.7 1.6-1.3 2.8 5.7-2z"/>
<path color="#d3e3f7" d="M310.6 79l-5.8 .8-1.3 2.4 5.8-.7z"/>
<path color="#d4e4f7" d="M316.3 78.8l-5.7 .2-1.3 2.5 5.7-.4z"/>
<path color="#d4e4f7" d="M322.1 78.8l-5.8 0-1.3 2.3 5.8 .1z"/>
<path color="#d5e4f7" d="M327.8 78.8l-5.7 0-1.3 2.4 5.7 0z"/>
<path color="#d5e5f7" d="M333.6 78.9l-5.8-.1-1.3 2.4 5.8 .1z"/>
<path color="#d6e5f7" d="M339.3 78.9l-5.7 0-1.3 2.4 5.7 0z"/>
<path color="#d6e5f7" d="M345.1 79l-5.8-.1-1.3 2.4 5.8 .1z"/>
<path color="#d7e6f7" d="M350.8 79l-5.7 0-1.3 2.4 5.7 0z"/>
<path color="#eaf2fb" d="M73.5 53l-5.7-2.3-1.4 2 5.8 2.3z"/>
<path color="#e8f1fb" d="M79.3 55.3l-5.8-2.3-1.3 2 5.8 2.4z"/>
<path color="#e7f0fa" d="M85 57.6l-5.7-2.3-1.3 2.1 5.7 2.3z"/>
<path color="#e3eefa" d="M90.8 60.2l-5.8-2.6-1.3 2.1 5.7 2.5z"/>
<path color="#deebf9" d="M96.5 63.2l-5.7-3-1.4 2 5.8 3z"/>
<path color="#d9e7f8" d="M102.3 66.4l-5.8-3.2-1.3 2 5.8 3.3z"/>
<path color="#d4e4f7" d="M108 69.7l-5.7-3.3-1.3 2.1 5.7 3.3z"/>
<path color="#cee0f6" d="M113.8 73l-5.8-3.3-1.3 2.1 5.7 3.3z"/>
<path color="#c9ddf5" d="M119.5 76.1l-5.7-3.1-1.4 2.1 5.8 3.1z"/>
<path color="#c1d7f3" d="M125.3 79.3l-5.8-3.2-1.3 2.1 5.8 3.1z"/>
<path color="#b6d0f0" d="M131 82.7l-5.7-3.4-1.3 2 5.7 3.4z"/>
<path color="#abc8ec" d="M136.8 86.5l-5.8-3.8-1.3 2 5.7 3.8z"/>
<path color="#9fc0e9" d="M142.5 90.4l-5.7-3.9-1.4 2 5.8 3.9z"/>
<path color="#94b8e5" d="M148.3 94.7l-5.8-4.3-1.3 2 5.8 4.3z"/>
<path color="#8db2e3" d="M154 99.1l-5.7-4.4-1.3 2 5.7 4.4z"/>
<path color="#85ade0" d="M159.8 103.4l-5.8-4.3-1.3 2 5.7 4.4z"/>
<path color="#7ea7de" d="M165.5 107.7l-5.7-4.3-1.4 2.1 5.8 4.3z"/>
<path color="#76a1db" d="M171.3 112.4l-5.8-4.7-1.3 2.1 5.8 4.6z"/>
<path color="#6e9bd8" d="M177 117.3l-5.7-4.9-1.3 2 5.7 5z"/>
<path color="#6695d6" d="M182.8 122.1l-5.8-4.8-1.3 2.1 5.7 4.8z"/>
<path color="#6090d4" d="M188.5 126.9l-5.7-4.8-1.4 2.1 5.8 4.8z"/>
<path color="#5d8cd3" d="M194.3 132.3l-5.8-5.4-1.3 2.1 5.8 5.2z"/>
<path color="#5a88d3" d="M200 138.3l-5.7-6-1.3 1.9 5.7 5.9z"/>
<path color="#5784d2" d="M205.8 144.7l-5.8-6.4-1.3 1.8 5.7 6.3z"/>
<path color="#547fd2" d="M211.5 151.4l-5.7-6.7-1.4 1.7 5.8 6.9z"/>
<path color="#4f77d1" d="M217.3 157.6l-5.8-6.2-1.3 1.9 5.8 6.3z"/>
<path color="#4c70cf" d="M223 163l-5.7-5.4-1.3 2 5.7 5.4z"/>
<path color="#496bce" d="M228.8 167.6l-5.8-4.6-1.3 2 5.7 4.8z"/>
<path color="#4666ce" d="M234.5 171.6l-5.7-4-1.4 2.2 5.8 4z"/>
<path color="#4360cc" d="M240.3 175.3l-5.8-3.7-1.3 2.2 5.8 3.7z"/>
<path color="#425ecc" d="M243.1 176.8l-2.8-1.5-1.3 2.2 2.8 1.7z"/>
<path color="#425bcb" d="M246 178.2l-2.9-1.4-1.3 2.4 2.9 1.3z"/>
<path color="#4159ca" d="M248.9 179.6l-2.9-1.4-1.3 2.3 2.9 1.4z"/>
<path color="#3f55c8" d="M251.8 181.9l-2.9-2.3-1.3 2.3 2.8 1.8z"/>
<path color="#3e50c7" d="M254.6 184.3l-2.8-2.4-1.4 1.8 2.9 2.3z"/>
<path color="#3c4cc5" d="M257.5 186.8l-2.9-2.5-1.3 1.7 2.9 2.6z"/>
<path color="#3b49c4" d="M260.4 188.6l-2.9-1.8-1.3 1.8 2.9 2.2z"/>
<path color="#3a46c3" d="M263.3 190.3l-2.9-1.7-1.3 2.2 2.9 1.9z"/>
<path color="#3944c3" d="M266.1 191.4l-2.8-1.1-1.3 2.4 2.8 1.4z"/>
<path color="#3945c3" d="M269 190.8l-2.9 .6-1.3 2.7 2.9 .3z"/>
<path color="#3b4ac5" d="M271.9 188.6l-2.9 2.2-1.3 3.6 2.9-1z"/>
<path color="#3e51c7" d="M274.8 184.9l-2.9 3.7-1.3 4.8 2.8-2.8z"/>
<path color="#435fcc" d="M277.6 178.1l-2.8 6.8-1.4 5.7 2.9-5z"/>
<path color="#4d72d0" d="M280.5 164.8l-2.9 13.3-1.3 7.5 2.9-10.9z"/>
<path color="#5886d3" d="M283.4 146.3l-2.9 18.5-1.3 9.9 2.9-16.8z"/>
<path color="#77a2dc" d="M286.3 118.1l-2.9 28.2-1.3 11.6 2.9-27.3z"/>
<path color="#a7c5eb" d="M289.1 95.9l-2.8 22.2-1.3 12.5 2.8-25.2z"/>
<path color="#bed5f2" d="M292 88.9l-2.9 7-1.3 9.5 2.9-13z"/>
<path color="#c8dcf5" d="M294.9 86.1l-2.9 2.8-1.3 3.5 2.9-3.6z"/>
<path color="#ccdef6" d="M297.8 84.2l-2.9 1.9-1.3 2.7 2.8-1.9z"/>
<path color="#d0e1f6" d="M303.5 82.2l-5.7 2-1.4 2.7 5.8-2.5z"/>
<path color="#d2e2f7" d="M309.3 81.5l-5.8 .7-1.3 2.2 5.8-.8z"/>
<path color="#d3e3f7" d="M315 81.1l-5.7 .4-1.3 2.1 5.7-.4z"/>
<path color="#d3e4f7" d="M320.8 81.2l-5.8-.1-1.3 2.1 5.7 .1z"/>
<path color="#d4e4f7" d="M326.5 81.2l-5.7 0-1.4 2.1 5.8 .1z"/>
<path color="#d4e4f7" d="M332.3 81.3l-5.8-.1-1.3 2.2 5.8 0z"/>
<path color="#d5e4f7" d="M338 81.3l-5.7 0-1.3 2.1 5.7 .1z"/>
<path color="#d5e5f7" d="M343.8 81.4l-5.8-.1-1.3 2.2 5.7 0z"/>
<path color="#d6e5f7" d="M349.5 81.4l-5.7 0-1.4 2.1 5.8 .1z"/>
<path color="#eaf2fb" d="M72.2 55l-5.8-2.3-1.3 2 5.8 2.4z"/>
<path color="#e8f1fb" d="M78 57.4l-5.8-2.4-1.3 2.1 5.7 2.3z"/>
<path color="#e7f0fa" d="M83.7 59.7l-5.7-2.3-1.4 2 5.8 2.4z"/>
<path color="#e3eefa" d="M89.4 62.2l-5.7-2.5-1.3 2.1 5.7 2.5z"/>
<path color="#deebf9" d="M95.2 65.2l-5.8-3-1.3 2.1 5.8 3z"/>
<path color="#d9e7f8" d="M101 68.5l-5.8-3.3-1.3 2.1 5.7 3.3z"/>
<path color="#d3e4f7" d="M106.7 71.8l-5.7-3.3-1.4 2.1 5.8 3.3z"/>
<path color="#cee0f6" d="M112.4 75.1l-5.7-3.3-1.3 2.1 5.7 3.3z"/>
<path color="#c9ddf5" d="M118.2 78.2l-5.8-3.1-1.3 2.1 5.8 3.1z"/>
<path color="#c0d7f3" d="M124 81.3l-5.8-3.1-1.3 2.1 5.7 3.1z"/>
<path color="#b6d0f0" d="M129.7 84.7l-5.7-3.4-1.4 2.1 5.8 3.4z"/>
<path color="#abc8ec" d="M135.4 88.5l-5.7-3.8-1.3 2.1 5.7 3.9z"/>
<path color="#9fbfe9" d="M141.2 92.4l-5.8-3.9-1.3 2.2 5.8 3.9z"/>
<path color="#94b8e5" d="M147 96.7l-5.8-4.3-1.3 2.2 5.7 4.3z"/>
<path color="#8db2e3" d="M152.7 101.1l-5.7-4.4-1.4 2.2 5.8 4.5z"/>
<path color="#85ace0" d="M158.4 105.5l-5.7-4.4-1.3 2.3 5.7 4.4z"/>
<path color="#7ea7de" d="M164.2 109.8l-5.8-4.3-1.3 2.3 5.8 4.4z"/>
<path color="#76a1db" d="M170 114.4l-5.8-4.6-1.3 2.4 5.7 4.6z"/>
<path color="#6e9bd8" d="M175.7 119.4l-5.7-5-1.4 2.4 5.8 5z"/>
<path color="#6695d6" d="M181.4 124.2l-5.7-4.8-1.3 2.4 5.7 4.8z"/>
<path color="#6090d4" d="M187.2 129l-5.8-4.8-1.3 2.4 5.8 4.8z"/>
<path color="#5d8cd3" d="M193 134.2l-5.8-5.2-1.3 2.4 5.7 5.2z"/>
<path color="#5a88d3" d="M198.7 140.1l-5.7-5.9-1.4 2.4 5.8 5.9z"/>
<path color="#5784d2" d="M204.4 146.4l-5.7-6.3-1.3 2.4 5.7 6.2z"/>
<path color="#547fd2" d="M210.2 153.3l-5.8-6.9-1.3 2.3 5.8 7z"/>
<path color="#4f77d1" d="M216 159.6l-5.8-6.3-1.3 2.4 5.7 6.4z"/>
<path color="#4c70cf" d="M221.7 165l-5.7-5.4-1.4 2.5 5.8 5.5z"/>
<path color="#486ace" d="M227.4 169.8l-5.7-4.8-1.3 2.6 5.7 4.8z"/>
<path color="#4665ce" d="M233.2 173.8l-5.8-4-1.3 2.6 5.8 4.1z"/>
<path color="#4360cc" d="M239 177.5l-5.8-3.7-1.3 2.7 5.7 3.5z"/>
<path color="#425dcb" d="M241.8 179.2l-2.8-1.7-1.4 2.5 2.9 1.8z"/>
<path color="#415bca" d="M244.7 180.5l-2.9-1.3-1.3 2.6 2.9 1.3z"/>
<path color="#4058ca" d="M247.6 181.9l-2.9-1.4-1.3 2.6 2.9 1.4z"/>
<path color="#3f55c9" d="M250.4 183.7l-2.8-1.8-1.3 2.6 2.8 1.6z"/>
<path color="#3e51c7" d="M253.3 186l-2.9-2.3-1.3 2.4 2.9 2.3z"/>
<path color="#3c4cc6" d="M256.2 188.6l-2.9-2.6-1.3 2.4 2.9 2.6z"/>
<path color="#3a48c4" d="M259.1 190.8l-2.9-2.2-1.3 2.4 2.9 2.5z"/>
<path color="#3945c3" d="M262 192.7l-2.9-1.9-1.3 2.7 2.8 1.8z"/>
<path color="#3842c2" d="M264.8 194.1l-2.8-1.4-1.4 2.6 2.9 1.7z"/>
<path color="#3842c2" d="M267.7 194.4l-2.9-.3-1.3 2.9 2.9 .9z"/>
<path color="#3944c3" d="M270.6 193.4l-2.9 1-1.3 3.5 2.9-.6z"/>
<path color="#3b4ac5" d="M273.4 190.6l-2.8 2.8-1.3 3.9 2.8-2.6z"/>
<path color="#3f54c8" d="M276.3 185.6l-2.9 5-1.3 4.1 2.9-4.3z"/>
<path color="#4767ce" d="M279.2 174.7l-2.9 10.9-1.3 4.8 2.9-8.4z"/>
<path color="#537ed2" d="M282.1 157.9l-2.9 16.8-1.3 7.3 2.9-14.8z"/>
<path color="#6493d5" d="M285 130.6l-2.9 27.3-1.3 9.3 2.8-22.8z"/>
<path color="#92b6e5" d="M287.8 105.4l-2.8 25.2-1.4 13.8 2.9-28.2z"/>
<path color="#b9d2f1" d="M290.7 92.4l-2.9 13-1.3 10.8 2.9-20.1z"/>
<path color="#c5daf4" d="M293.6 88.8l-2.9 3.6-1.3 3.7 2.9-4.2z"/>
<path color="#cadef5" d="M296.4 86.9l-2.8 1.9-1.3 3.1 2.8-2.2z"/>
<path color="#cfe1f6" d="M302.2 84.4l-5.8 2.5-1.3 2.8 5.8-3z"/>
<path color="#d1e2f7" d="M308 83.6l-5.8 .8-1.3 2.3 5.7-.8z"/>
<path color="#d3e3f7" d="M313.7 83.2l-5.7 .4-1.4 2.3 5.8-.6z"/>
<path color="#d3e3f7" d="M319.4 83.3l-5.7-.1-1.3 2.1 5.7 .1z"/>
<path color="#d3e4f7" d="M325.2 83.4l-5.8-.1-1.3 2.1 5.8 .1z"/>
<path color="#d4e4f7" d="M331 83.4l-5.8 0-1.3 2.1 5.7 .1z"/>
<path color="#d4e4f7" d="M336.7 83.5l-5.7-.1-1.4 2.2 5.8 0z"/>
<path color="#d5e5f7" d="M342.4 83.5l-5.7 0-1.3 2.1 5.7 .1z"/>
<path color="#d5e5f7" d="M348.2 83.6l-5.8-.1-1.3 2.2 5.8 .1z"/>
<path color="#eaf2fb" d="M70.9 57.1l-5.8-2.4-1.3 2 5.8 2.4z"/>
<path color="#e8f1fb" d="M76.6 59.4l-5.7-2.3-1.3 2 5.7 2.4z"/>
<path color="#e6f0fa" d="M82.4 61.8l-5.8-2.4-1.3 2.1 5.8 2.4z"/>
<path color="#e3eef9" d="M88.1 64.3l-5.7-2.5-1.3 2.1 5.7 2.5z"/>
<path color="#deebf9" d="M93.9 67.3l-5.8-3-1.3 2.1 5.8 3.1z"/>
<path color="#d9e7f8" d="M99.6 70.6l-5.7-3.3-1.3 2.2 5.7 3.2z"/>
<path color="#d3e3f7" d="M105.4 73.9l-5.8-3.3-1.3 2.1 5.8 3.3z"/>
<path color="#cee0f6" d="M111.1 77.2l-5.7-3.3-1.3 2.1 5.7 3.4z"/>
<path color="#c8dcf5" d="M116.9 80.3l-5.8-3.1-1.3 2.2 5.8 3.1z"/>
<path color="#c0d6f3" d="M122.6 83.4l-5.7-3.1-1.3 2.2 5.7 3.1z"/>
<path color="#b6cff0" d="M128.4 86.8l-5.8-3.4-1.3 2.2 5.8 3.3z"/>
<path color="#aac7ec" d="M134.1 90.7l-5.7-3.9-1.3 2.1 5.7 4z"/>
<path color="#9ebfe9" d="M139.9 94.6l-5.8-3.9-1.3 2.2 5.8 3.9z"/>
<path color="#94b7e5" d="M145.6 98.9l-5.7-4.3-1.3 2.2 5.7 4.3z"/>
<path color="#8cb1e3" d="M151.4 103.4l-5.8-4.5-1.3 2.2 5.8 4.5z"/>
<path color="#85ace0" d="M157.1 107.8l-5.7-4.4-1.3 2.2 5.7 4.6z"/>
<path color="#7da6de" d="M162.9 112.2l-5.8-4.4-1.3 2.4 5.8 4.4z"/>
<path color="#75a0db" d="M168.6 116.8l-5.7-4.6-1.3 2.4 5.7 4.6z"/>
<path color="#6d9ad8" d="M174.4 121.8l-5.8-5-1.3 2.4 5.8 5z"/>
<path color="#6594d5" d="M180.1 126.6l-5.7-4.8-1.3 2.4 5.7 4.8z"/>
<path color="#608fd4" d="M185.9 131.4l-5.8-4.8-1.3 2.4 5.8 4.8z"/>
<path color="#5d8cd3" d="M191.6 136.6l-5.7-5.2-1.3 2.4 5.7 5.2z"/>
<path color="#5a88d3" d="M197.4 142.5l-5.8-5.9-1.3 2.4 5.8 5.9z"/>
<path color="#5784d2" d="M203.1 148.7l-5.7-6.2-1.3 2.4 5.7 6.1z"/>
<path color="#537fd2" d="M208.9 155.7l-5.8-7-1.3 2.3 5.8 7.1z"/>
<path color="#4f77d0" d="M214.6 162.1l-5.7-6.4-1.3 2.4 5.7 6.5z"/>
<path color="#4b6fcf" d="M220.4 167.6l-5.8-5.5-1.3 2.5 5.8 5.6z"/>
<path color="#4869ce" d="M226.1 172.4l-5.7-4.8-1.3 2.6 5.7 4.9z"/>
<path color="#4564cd" d="M231.9 176.5l-5.8-4.1-1.3 2.7 5.8 4.1z"/>
<path color="#435fcc" d="M237.6 180l-5.7-3.5-1.3 2.7 5.7 3.5z"/>
<path color="#425ccb" d="M240.5 181.8l-2.9-1.8-1.3 2.7 2.9 1.7z"/>
<path color="#4159ca" d="M243.4 183.1l-2.9-1.3-1.3 2.6 2.9 1.4z"/>
<path color="#4057c9" d="M246.3 184.5l-2.9-1.4-1.3 2.7 2.8 1.3z"/>
<path color="#3f54c8" d="M249.1 186.1l-2.8-1.6-1.4 2.6 2.9 1.4z"/>
<path color="#3d50c7" d="M252 188.4l-2.9-2.3-1.3 2.4 2.9 2.3z"/>
<path color="#3c4bc5" d="M254.9 191l-2.9-2.6-1.3 2.4 2.9 2.5z"/>
<path color="#3a47c4" d="M257.8 193.5l-2.9-2.5-1.3 2.3 2.8 2.6z"/>
<path color="#3943c3" d="M260.6 195.3l-2.8-1.8-1.4 2.4 2.9 2.1z"/>
<path color="#3841c2" d="M263.5 197l-2.9-1.7-1.3 2.7 2.9 1.9z"/>
<path color="#373fc1" d="M266.4 197.9l-2.9-.9-1.3 2.9 2.9 1.3z"/>
<path color="#3841c2" d="M269.3 197.3l-2.9 .6-1.3 3.3 2.8-.4z"/>
<path color="#3a46c3" d="M272.1 194.7l-2.8 2.6-1.4 3.5 2.9-2z"/>
<path color="#3d4ec6" d="M275 190.4l-2.9 4.3-1.3 4.1 2.9-3.5z"/>
<path color="#435fcc" d="M277.9 182l-2.9 8.4-1.3 4.9 2.9-6.4z"/>
<path color="#4e74d0" d="M280.8 167.2l-2.9 14.8-1.3 6.9 2.8-13.4z"/>
<path color="#5c8ad3" d="M283.6 144.4l-2.8 22.8-1.4 8.3 2.9-18.7z"/>
<path color="#82aadf" d="M286.5 116.2l-2.9 28.2-1.3 12.4 2.9-29.1z"/>
<path color="#b3ceef" d="M289.4 96.1l-2.9 20.1-1.3 11.5 2.9-23.8z"/>
<path color="#c1d7f3" d="M292.3 91.9l-2.9 4.2-1.3 7.8 2.8-8.3z"/>
<path color="#c9dcf5" d="M295.1 89.7l-2.8 2.2-1.4 3.7 2.9-3z"/>
<path color="#cfe0f6" d="M300.9 86.7l-5.8 3-1.3 2.9 5.8-3.7z"/>
<path color="#d1e2f6" d="M306.6 85.9l-5.7 .8-1.3 2.2 5.7-.7z"/>
<path color="#d2e3f7" d="M312.4 85.3l-5.8 .6-1.3 2.3 5.8-.7z"/>
<path color="#d3e3f7" d="M318.1 85.4l-5.7-.1-1.3 2.2 5.7 0z"/>
<path color="#d3e3f7" d="M323.9 85.5l-5.8-.1-1.3 2.1 5.8 .1z"/>
<path color="#d4e4f7" d="M329.6 85.6l-5.7-.1-1.3 2.1 5.7 .1z"/>
<path color="#d4e4f7" d="M335.4 85.6l-5.8 0-1.3 2.1 5.8 .1z"/>
<path color="#d4e4f7" d="M341.1 85.7l-5.7-.1-1.3 2.2 5.7 .1z"/>
<path color="#d5e5f7" d="M346.9 85.8l-5.8-.1-1.3 2.2 5.8 .1z"/>
<path color="#eaf2fb" d="M69.6 59.1l-5.8-2.4-1.3 2 5.7 2.4z"/>
<path color="#e8f1fb" d="M75.3 61.5l-5.7-2.4-1.4 2 5.8 2.4z"/>
<path color="#e6f0fa" d="M81.1 63.9l-5.8-2.4-1.3 2 5.7 2.5z"/>
<path color="#e3eef9" d="M86.8 66.4l-5.7-2.5-1.4 2.1 5.8 2.5z"/>
<path color="#deeaf9" d="M92.6 69.5l-5.8-3.1-1.3 2.1 5.7 3.1z"/>
<path color="#d8e7f8" d="M98.3 72.7l-5.7-3.2-1.4 2.1 5.8 3.2z"/>
<path color="#d3e3f7" d="M104.1 76l-5.8-3.3-1.3 2.1 5.7 3.3z"/>
<path color="#cddff6" d="M109.8 79.4l-5.7-3.4-1.4 2.1 5.8 3.4z"/>
<path color="#c8dcf5" d="M115.6 82.5l-5.8-3.1-1.3 2.1 5.7 3.1z"/>
<path color="#bfd6f2" d="M121.3 85.6l-5.7-3.1-1.4 2.1 5.8 3.1z"/>
<path color="#b5cfef" d="M127.1 88.9l-5.8-3.3-1.3 2.1 5.7 3.3z"/>
<path color="#aac7ec" d="M132.8 92.9l-5.7-4-1.4 2.1 5.8 4z"/>
<path color="#9ebee8" d="M138.6 96.8l-5.8-3.9-1.3 2.1 5.7 4z"/>
<path color="#93b7e5" d="M144.3 101.1l-5.7-4.3-1.4 2.2 5.8 4.3z"/>
<path color="#8bb1e2" d="M150.1 105.6l-5.8-4.5-1.3 2.2 5.7 4.6z"/>
<path color="#84abe0" d="M155.8 110.2l-5.7-4.6-1.4 2.3 5.8 4.6z"/>
<path color="#7ca6dd" d="M161.6 114.6l-5.8-4.4-1.3 2.3 5.7 4.5z"/>
<path color="#75a0db" d="M167.3 119.2l-5.7-4.6-1.4 2.4 5.8 4.6z"/>
<path color="#6c99d8" d="M173.1 124.2l-5.8-5-1.3 2.4 5.7 5z"/>
<path color="#6493d5" d="M178.8 129l-5.7-4.8-1.4 2.4 5.8 4.9z"/>
<path color="#608fd4" d="M184.6 133.8l-5.8-4.8-1.3 2.5 5.7 4.8z"/>
<path color="#5d8cd3" d="M190.3 139l-5.7-5.2-1.4 2.5 5.8 5z"/>
<path color="#5a88d3" d="M196.1 144.9l-5.8-5.9-1.3 2.3 5.7 5.9z"/>
<path color="#5784d2" d="M201.8 151l-5.7-6.1-1.4 2.3 5.8 6.1z"/>
<path color="#537ed2" d="M207.6 158.1l-5.8-7.1-1.3 2.3 5.7 7.2z"/>
<path color="#4f76d0" d="M213.3 164.6l-5.7-6.5-1.4 2.4 5.8 6.6z"/>
<path color="#4b6ecf" d="M219.1 170.2l-5.8-5.6-1.3 2.5 5.7 5.8z"/>
<path color="#4768ce" d="M224.8 175.1l-5.7-4.9-1.4 2.7 5.8 4.9z"/>
<path color="#4563cd" d="M230.6 179.2l-5.8-4.1-1.3 2.7 5.7 4.2z"/>
<path color="#425ecb" d="M236.3 182.7l-5.7-3.5-1.4 2.8 5.8 3.3z"/>
<path color="#415bca" d="M239.2 184.4l-2.9-1.7-1.3 2.6 2.9 1.6z"/>
<path color="#4058ca" d="M242.1 185.8l-2.9-1.4-1.3 2.5 2.8 1.5z"/>
<path color="#3f56c9" d="M244.9 187.1l-2.8-1.3-1.4 2.6 2.9 1.3z"/>
<path color="#3f53c8" d="M247.8 188.5l-2.9-1.4-1.3 2.6 2.9 1.4z"/>
<path color="#3d4fc7" d="M250.7 190.8l-2.9-2.3-1.3 2.6 2.9 2z"/>
<path color="#3b4bc5" d="M253.6 193.3l-2.9-2.5-1.3 2.3 2.8 2.4z"/>
<path color="#3a46c3" d="M256.4 195.9l-2.8-2.6-1.4 2.2 2.9 2.8z"/>
<path color="#3842c2" d="M259.3 198l-2.9-2.1-1.3 2.4 2.9 2.3z"/>
<path color="#373fc1" d="M262.2 199.9l-2.9-1.9-1.3 2.6 2.9 2z"/>
<path color="#363dc0" d="M265.1 201.2l-2.9-1.3-1.3 2.7 2.8 1.5z"/>
<path color="#373ec1" d="M267.9 200.8l-2.8 .4-1.4 2.9 2.9 .2z"/>
<path color="#3842c2" d="M270.8 198.8l-2.9 2-1.3 3.5 2.9-1.3z"/>
<path color="#3b49c4" d="M273.7 195.3l-2.9 3.5-1.3 4.2 2.9-2.9z"/>
<path color="#3f56c9" d="M276.6 188.9l-2.9 6.4-1.3 4.8 2.8-5z"/>
<path color="#496ccf" d="M279.4 175.5l-2.8 13.4-1.4 6.2 2.9-11.2z"/>
<path color="#5683d2" d="M282.3 156.8l-2.9 18.7-1.3 8.4 2.9-17z"/>
<path color="#719dd9" d="M285.2 127.7l-2.9 29.1-1.3 10.1 2.9-27.2z"/>
<path color="#a0c0e9" d="M288.1 103.9l-2.9 23.8-1.3 12 2.8-25.9z"/>
<path color="#bcd4f1" d="M290.9 95.6l-2.8 8.3-1.4 9.9 2.9-14.5z"/>
<path color="#c6dbf4" d="M293.8 92.6l-2.9 3-1.3 3.7 2.9-3.8z"/>
<path color="#cee0f6" d="M299.6 88.9l-5.8 3.7-1.3 2.9 5.7-4z"/>
<path color="#d0e1f6" d="M305.3 88.2l-5.7 .7-1.4 2.6 5.8-1z"/>
<path color="#d2e3f7" d="M311.1 87.5l-5.8 .7-1.3 2.3 5.7-.8z"/>
<path color="#d2e3f7" d="M316.8 87.5l-5.7 0-1.4 2.2 5.8 0z"/>
<path color="#d3e3f7" d="M322.6 87.6l-5.8-.1-1.3 2.2 5.7 .1z"/>
<path color="#d3e3f7" d="M328.3 87.7l-5.7-.1-1.4 2.2 5.8 .1z"/>
<path color="#d4e4f7" d="M334.1 87.8l-5.8-.1-1.3 2.2 5.7 .1z"/>
<path color="#d4e4f7" d="M339.8 87.9l-5.7-.1-1.4 2.2 5.8 .1z"/>
<path color="#d4e4f7" d="M345.6 88l-5.8-.1-1.3 2.2 5.7 .1z"/>
<path color="#eaf2fb" d="M68.2 61.1l-5.7-2.4-1.3 2 5.7 2.4z"/>
<path color="#e8f1fb" d="M74 63.5l-5.8-2.4-1.3 2 5.8 2.5z"/>
<path color="#e6f0fa" d="M79.7 66l-5.7-2.5-1.3 2.1 5.7 2.5z"/>
<path color="#e2eef9" d="M85.5 68.5l-5.8-2.5-1.3 2.1 5.8 2.5z"/>
<path color="#ddeaf9" d="M91.2 71.6l-5.7-3.1-1.3 2.1 5.7 3.1z"/>
<path color="#d8e7f8" d="M97 74.8l-5.8-3.2-1.3 2.1 5.8 3.2z"/>
<path color="#d2e3f7" d="M102.7 78.1l-5.7-3.3-1.3 2.1 5.7 3.4z"/>
<path color="#cddff6" d="M108.5 81.5l-5.8-3.4-1.3 2.2 5.8 3.3z"/>
<path color="#c8dcf5" d="M114.2 84.6l-5.7-3.1-1.3 2.1 5.7 3.2z"/>
<path color="#bed5f2" d="M120 87.7l-5.8-3.1-1.3 2.2 5.8 3.1z"/>
<path color="#b5cfef" d="M125.7 91l-5.7-3.3-1.3 2.2 5.7 3.2z"/>
<path color="#a9c6ec" d="M131.5 95l-5.8-4-1.3 2.1 5.8 4.1z"/>
<path color="#9dbee8" d="M137.2 99l-5.7-4-1.3 2.2 5.7 4z"/>
<path color="#93b6e5" d="M143 103.3l-5.8-4.3-1.3 2.2 5.8 4.3z"/>
<path color="#8bb1e2" d="M148.7 107.9l-5.7-4.6-1.3 2.2 5.7 4.7z"/>
<path color="#83abe0" d="M154.5 112.5l-5.8-4.6-1.3 2.3 5.8 4.6z"/>
<path color="#7ca5dd" d="M160.2 117l-5.7-4.5-1.3 2.3 5.7 4.6z"/>
<path color="#749fda" d="M166 121.6l-5.8-4.6-1.3 2.4 5.8 4.6z"/>
<path color="#6b99d8" d="M171.7 126.6l-5.7-5-1.3 2.4 5.7 5z"/>
<path color="#6393d5" d="M177.5 131.5l-5.8-4.9-1.3 2.4 5.8 4.9z"/>
<path color="#5f8fd4" d="M183.2 136.3l-5.7-4.8-1.3 2.4 5.7 4.8z"/>
<path color="#5d8bd3" d="M189 141.3l-5.8-5-1.3 2.4 5.8 5z"/>
<path color="#5a88d3" d="M194.7 147.2l-5.7-5.9-1.3 2.4 5.7 5.9z"/>
<path color="#5784d2" d="M200.5 153.3l-5.8-6.1-1.3 2.4 5.8 6.1z"/>
<path color="#537ed2" d="M206.2 160.5l-5.7-7.2-1.3 2.4 5.7 7.1z"/>
<path color="#4e75d0" d="M212 167.1l-5.8-6.6-1.3 2.3 5.8 6.7z"/>
<path color="#4a6ecf" d="M217.7 172.9l-5.7-5.8-1.3 2.4 5.7 6z"/>
<path color="#4767ce" d="M223.5 177.8l-5.8-4.9-1.3 2.6 5.8 5z"/>
<path color="#4462cd" d="M229.2 182l-5.7-4.2-1.3 2.7 5.7 4.2z"/>
<path color="#425ccb" d="M235 185.3l-5.8-3.3-1.3 2.7 5.8 3.3z"/>
<path color="#4159ca" d="M237.9 186.9l-2.9-1.6-1.3 2.7 2.8 1.5z"/>
<path color="#4057c9" d="M240.7 188.4l-2.8-1.5-1.4 2.6 2.9 1.6z"/>
<path color="#3f54c8" d="M243.6 189.7l-2.9-1.3-1.3 2.7 2.9 1.3z"/>
<path color="#3e52c8" d="M246.5 191.1l-2.9-1.4-1.3 2.7 2.9 1.3z"/>
<path color="#3d4fc6" d="M249.4 193.1l-2.9-2-1.3 2.6 2.8 1.7z"/>
<path color="#3b4ac5" d="M252.2 195.5l-2.8-2.4-1.4 2.3 2.9 2.5z"/>
<path color="#3945c3" d="M255.1 198.3l-2.9-2.8-1.3 2.4 2.9 2.7z"/>
<path color="#3841c2" d="M258 200.6l-2.9-2.3-1.3 2.3 2.9 2.6z"/>
<path color="#363dc0" d="M260.9 202.6l-2.9-2-1.3 2.6 2.8 2z"/>
<path color="#363bbf" d="M263.7 204.1l-2.8-1.5-1.4 2.6 2.9 1.7z"/>
<path color="#363bbf" d="M266.6 204.3l-2.9-.2-1.3 2.8 2.9 .8z"/>
<path color="#373dc1" d="M269.5 203l-2.9 1.3-1.3 3.4 2.9-.6z"/>
<path color="#3943c3" d="M272.4 200.1l-2.9 2.9-1.3 4.1 2.8-2.8z"/>
<path color="#3c4dc6" d="M275.2 195.1l-2.8 5-1.4 4.2 2.9-4.4z"/>
<path color="#4563cd" d="M278.1 183.9l-2.9 11.2-1.3 4.8 2.9-8.7z"/>
<path color="#517ad1" d="M281 166.9l-2.9 17-1.3 7.3 2.9-15z"/>
<path color="#6090d4" d="M283.9 139.7l-2.9 27.2-1.3 9.3 2.8-22.7z"/>
<path color="#8eb3e3" d="M286.7 113.8l-2.8 25.9-1.4 13.8 2.9-28.8z"/>
<path color="#b6d0f0" d="M289.6 99.3l-2.9 14.5-1.3 10.9 2.9-21.7z"/>
<path color="#c3d9f4" d="M292.5 95.5l-2.9 3.8-1.3 3.7 2.9-4.2z"/>
<path color="#cddff6" d="M298.2 91.5l-5.7 4-1.3 3.3 5.7-4.4z"/>
<path color="#d0e1f6" d="M304 90.5l-5.8 1-1.3 2.9 5.8-1.7z"/>
<path color="#d2e2f7" d="M309.7 89.7l-5.7 .8-1.3 2.2 5.7-.7z"/>
<path color="#d2e3f7" d="M315.5 89.7l-5.8 0-1.3 2.3 5.8-.2z"/>
<path color="#d2e3f7" d="M321.2 89.8l-5.7-.1-1.3 2.1 5.7 .1z"/>
<path color="#d3e3f7" d="M327 89.9l-5.8-.1-1.3 2.1 5.8 .1z"/>
<path color="#d3e4f7" d="M332.7 90l-5.7-.1-1.3 2.1 5.7 .1z"/>
<path color="#d4e4f7" d="M338.5 90.1l-5.8-.1-1.3 2.1 5.8 .1z"/>
<path color="#d4e4f7" d="M344.2 90.2l-5.7-.1-1.3 2.1 5.7 .1z"/>
<path color="#eaf2fb" d="M66.9 63.1l-5.7-2.4-1.4 2 5.8 2.5z"/>
<path color="#e8f1fb" d="M72.7 65.6l-5.8-2.5-1.3 2.1 5.7 2.4z"/>
<path color="#e6f0fa" d="M78.4 68.1l-5.7-2.5-1.4 2 5.8 2.5z"/>
<path color="#e2edf9" d="M84.2 70.6l-5.8-2.5-1.3 2 5.7 2.6z"/>
<path color="#ddeaf9" d="M89.9 73.7l-5.7-3.1-1.4 2.1 5.8 3.1z"/>
<path color="#d8e7f8" d="M95.7 76.9l-5.8-3.2-1.3 2.1 5.7 3.2z"/>
<path color="#d2e3f7" d="M101.4 80.3l-5.7-3.4-1.4 2.1 5.8 3.4z"/>
<path color="#cddff6" d="M107.2 83.6l-5.8-3.3-1.3 2.1 5.7 3.4z"/>
<path color="#c7dbf5" d="M112.9 86.8l-5.7-3.2-1.4 2.2 5.8 3.1z"/>
<path color="#bed5f2" d="M118.7 89.9l-5.8-3.1-1.3 2.1 5.7 3.1z"/>
<path color="#b4ceef" d="M124.4 93.1l-5.7-3.2-1.4 2.1 5.8 3.3z"/>
<path color="#a8c6eb" d="M130.2 97.2l-5.8-4.1-1.3 2.2 5.7 4z"/>
<path color="#9cbde8" d="M135.9 101.2l-5.7-4-1.4 2.1 5.8 4.1z"/>
<path color="#92b6e5" d="M141.7 105.5l-5.8-4.3-1.3 2.2 5.7 4.3z"/>
<path color="#8ab0e2" d="M147.4 110.2l-5.7-4.7-1.4 2.2 5.8 4.7z"/>
<path color="#83aadf" d="M153.2 114.8l-5.8-4.6-1.3 2.2 5.7 4.7z"/>
<path color="#7ba5dd" d="M158.9 119.4l-5.7-4.6-1.4 2.3 5.8 4.6z"/>
<path color="#739fda" d="M164.7 124l-5.8-4.6-1.3 2.3 5.7 4.6z"/>
<path color="#6b98d7" d="M170.4 129l-5.7-5-1.4 2.3 5.8 5.1z"/>
<path color="#6292d4" d="M176.2 133.9l-5.8-4.9-1.3 2.4 5.7 4.9z"/>
<path color="#5f8ed4" d="M181.9 138.7l-5.7-4.8-1.4 2.4 5.8 4.8z"/>
<path color="#5d8bd3" d="M187.7 143.7l-5.8-5-1.3 2.4 5.7 5z"/>
<path color="#5a87d3" d="M193.4 149.6l-5.7-5.9-1.4 2.4 5.8 5.9z"/>
<path color="#5683d2" d="M199.2 155.7l-5.8-6.1-1.3 2.4 5.7 6.1z"/>
<path color="#527dd2" d="M204.9 162.8l-5.7-7.1-1.4 2.4 5.8 7.1z"/>
<path color="#4e74d0" d="M210.7 169.5l-5.8-6.7-1.3 2.4 5.7 6.8z"/>
<path color="#4a6dcf" d="M216.4 175.5l-5.7-6-1.4 2.5 5.8 6.1z"/>
<path color="#4666ce" d="M222.2 180.5l-5.8-5-1.3 2.6 5.7 5.2z"/>
<path color="#4360cc" d="M227.9 184.7l-5.7-4.2-1.4 2.8 5.8 4.1z"/>
<path color="#415bcb" d="M233.7 188l-5.8-3.3-1.3 2.7 5.7 3.2z"/>
<path color="#4058ca" d="M236.5 189.5l-2.8-1.5-1.4 2.6 2.9 1.6z"/>
<path color="#3f55c9" d="M239.4 191.1l-2.9-1.6-1.3 2.7 2.9 1.5z"/>
<path color="#3f53c8" d="M242.3 192.4l-2.9-1.3-1.3 2.6 2.9 1.3z"/>
<path color="#3e51c7" d="M245.2 193.7l-2.9-1.3-1.3 2.6 2.8 1.3z"/>
<path color="#3d4ec6" d="M248 195.4l-2.8-1.7-1.4 2.6 2.9 1.4z"/>
<path color="#3b49c5" d="M250.9 197.9l-2.9-2.5-1.3 2.3 2.9 2.5z"/>
<path color="#3944c3" d="M253.8 200.6l-2.9-2.7-1.3 2.3 2.9 2.7z"/>
<path color="#3740c1" d="M256.7 203.2l-2.9-2.6-1.3 2.3 2.8 2.8z"/>
<path color="#363cc0" d="M259.5 205.2l-2.8-2-1.4 2.5 2.9 2.1z"/>
<path color="#353abe" d="M262.4 206.9l-2.9-1.7-1.3 2.6 2.9 2z"/>
<path color="#3539bd" d="M265.3 207.7l-2.9-.8-1.3 2.9 2.9 1.4z"/>
<path color="#353abe" d="M268.2 207.1l-2.9 .6-1.3 3.5 2.8-.6z"/>
<path color="#373fc1" d="M271 204.3l-2.8 2.8-1.4 3.5 2.9-2.1z"/>
<path color="#3a48c4" d="M273.9 199.9l-2.9 4.4-1.3 4.2 2.9-3.8z"/>
<path color="#4159ca" d="M276.8 191.2l-2.9 8.7-1.3 4.8 2.9-6.5z"/>
<path color="#4c70cf" d="M279.7 176.2l-2.9 15-1.3 7 2.8-13.6z"/>
<path color="#5a88d3" d="M282.5 153.5l-2.8 22.7-1.4 8.4 2.9-18.9z"/>
<path color="#7da6de" d="M285.4 124.7l-2.9 28.8-1.3 12.2 2.9-29.3z"/>
<path color="#b1ccee" d="M288.3 103l-2.9 21.7-1.3 11.7 2.9-24.3z"/>
<path color="#bfd5f2" d="M291.2 98.8l-2.9 4.2-1.3 9.1 2.8-9.6z"/>
<path color="#cbdef6" d="M296.9 94.4l-5.7 4.4-1.4 3.7 5.8-5.2z"/>
<path color="#cfe1f6" d="M302.7 92.7l-5.8 1.7-1.3 2.9 5.7-2.3z"/>
<path color="#d1e2f6" d="M308.4 92l-5.7 .7-1.4 2.3 5.8-.7z"/>
<path color="#d2e3f7" d="M314.2 91.8l-5.8 .2-1.3 2.3 5.7-.4z"/>
<path color="#d2e3f7" d="M319.9 91.9l-5.7-.1-1.4 2.1 5.8 .1z"/>
<path color="#d3e3f7" d="M325.7 92l-5.8-.1-1.3 2.1 5.7 .2z"/>
<path color="#d3e3f7" d="M331.4 92.1l-5.7-.1-1.4 2.2 5.8 .1z"/>
<path color="#d3e3f7" d="M337.2 92.2l-5.8-.1-1.3 2.2 5.7 .1z"/>
<path color="#d4e4f7" d="M342.9 92.3l-5.7-.1-1.4 2.2 5.8 .1z"/>
<path color="#eaf2fb" d="M65.6 65.2l-5.8-2.5-1.3 1.9 5.8 2.6z"/>
<path color="#e8f1fb" d="M71.3 67.6l-5.7-2.4-1.3 2 5.7 2.5z"/>
<path color="#e6f0fa" d="M77.1 70.1l-5.8-2.5-1.3 2.1 5.8 2.5z"/>
<path color="#e2edf9" d="M82.8 72.7l-5.7-2.6-1.3 2.1 5.7 2.6z"/>
<path color="#ddeaf8" d="M88.6 75.8l-5.8-3.1-1.3 2.1 5.8 3.1z"/>
<path color="#d8e6f8" d="M94.3 79l-5.7-3.2-1.3 2.1 5.7 3.2z"/>
<path color="#d2e3f7" d="M100.1 82.4l-5.8-3.4-1.3 2.1 5.8 3.4z"/>
<path color="#ccdff6" d="M105.8 85.8l-5.7-3.4-1.3 2.1 5.7 3.4z"/>
<path color="#c6dbf4" d="M111.6 88.9l-5.8-3.1-1.3 2.1 5.8 3.2z"/>
<path color="#bdd4f2" d="M117.3 92l-5.7-3.1-1.3 2.2 5.7 3.1z"/>
<path color="#b4ceef" d="M123.1 95.3l-5.8-3.3-1.3 2.2 5.8 3.2z"/>
<path color="#a8c5eb" d="M128.8 99.3l-5.7-4-1.3 2.1 5.7 4.1z"/>
<path color="#9bbde8" d="M134.6 103.4l-5.8-4.1-1.3 2.2 5.8 4.1z"/>
<path color="#92b6e5" d="M140.3 107.7l-5.7-4.3-1.3 2.2 5.7 4.4z"/>
<path color="#8ab0e2" d="M146.1 112.4l-5.8-4.7-1.3 2.3 5.8 4.7z"/>
<path color="#82aadf" d="M151.8 117.1l-5.7-4.7-1.3 2.3 5.7 4.7z"/>
<path color="#7aa4dd" d="M157.6 121.7l-5.8-4.6-1.3 2.3 5.8 4.7z"/>
<path color="#729eda" d="M163.3 126.3l-5.7-4.6-1.3 2.4 5.7 4.6z"/>
<path color="#6a98d7" d="M169.1 131.4l-5.8-5.1-1.3 2.4 5.8 5.2z"/>
<path color="#6291d4" d="M174.8 136.3l-5.7-4.9-1.3 2.5 5.7 4.8z"/>
<path color="#5f8ed4" d="M180.6 141.1l-5.8-4.8-1.3 2.4 5.8 4.9z"/>
<path color="#5c8bd3" d="M186.3 146.1l-5.7-5-1.3 2.5 5.7 4.9z"/>
<path color="#5987d3" d="M192.1 152l-5.8-5.9-1.3 2.4 5.8 5.9z"/>
<path color="#5683d2" d="M197.8 158.1l-5.7-6.1-1.3 2.4 5.7 6.1z"/>
<path color="#527dd1" d="M203.6 165.2l-5.8-7.1-1.3 2.4 5.8 7z"/>
<path color="#4d74d0" d="M209.3 172l-5.7-6.8-1.3 2.3 5.7 7z"/>
<path color="#496ccf" d="M215.1 178.1l-5.8-6.1-1.3 2.5 5.8 6.3z"/>
<path color="#4665ce" d="M220.8 183.3l-5.7-5.2-1.3 2.7 5.7 5.1z"/>
<path color="#435fcc" d="M226.6 187.4l-5.8-4.1-1.3 2.6 5.8 4.1z"/>
<path color="#4159ca" d="M232.3 190.6l-5.7-3.2-1.3 2.6 5.7 3.3z"/>
<path color="#4057c9" d="M235.2 192.2l-2.9-1.6-1.3 2.7 2.9 1.4z"/>
<path color="#3f54c8" d="M238.1 193.7l-2.9-1.5-1.3 2.5 2.9 1.5z"/>
<path color="#3e52c7" d="M241 195l-2.9-1.3-1.3 2.5 2.8 1.3z"/>
<path color="#3d50c7" d="M243.8 196.3l-2.8-1.3-1.4 2.5 2.9 1.3z"/>
<path color="#3c4dc6" d="M246.7 197.7l-2.9-1.4-1.3 2.5 2.9 1.2z"/>
<path color="#3b49c4" d="M249.6 200.2l-2.9-2.5-1.3 2.3 2.9 2.5z"/>
<path color="#3944c3" d="M252.5 202.9l-2.9-2.7-1.3 2.3 2.8 2.6z"/>
<path color="#373fc1" d="M255.3 205.7l-2.8-2.8-1.4 2.2 2.9 2.9z"/>
<path color="#363bbf" d="M258.2 207.8l-2.9-2.1-1.3 2.3 2.9 2.4z"/>
<path color="#3539bd" d="M261.1 209.8l-2.9-2-1.3 2.6 2.9 2.1z"/>
<path color="#3437bc" d="M264 211.2l-2.9-1.4-1.3 2.7 2.8 1.4z"/>
<path color="#3438bd" d="M266.8 210.6l-2.8 .6-1.4 2.7 2.9-.2z"/>
<path color="#363bbf" d="M269.7 208.5l-2.9 2.1-1.3 3.1 2.9-1.7z"/>
<path color="#3842c2" d="M272.6 204.7l-2.9 3.8-1.3 3.5 2.9-3.2z"/>
<path color="#3d4fc7" d="M275.5 198.2l-2.9 6.5-1.3 4.1 2.8-5.2z"/>
<path color="#4768ce" d="M278.3 184.6l-2.8 13.6-1.4 5.4 2.9-12.6z"/>
<path color="#5581d2" d="M281.2 165.7l-2.9 18.9-1.3 6.4 2.9-17.7z"/>
<path color="#6c99d8" d="M284.1 136.4l-2.9 29.3-1.3 7.6 2.9-28.4z"/>
<path color="#9abbe7" d="M287 112.1l-2.9 24.3-1.3 8.5 2.8-25.8z"/>
<path color="#b9d2f1" d="M289.8 102.5l-2.8 9.6-1.4 7 2.9-14.1z"/>
<path color="#caddf5" d="M295.6 97.3l-5.8 5.2-1.3 2.5 5.8-5.8z"/>
<path color="#cee0f6" d="M301.3 95l-5.7 2.3-1.3 1.9 5.7-2.8z"/>
<path color="#d0e2f6" d="M307.1 94.3l-5.8 .7-1.3 1.4 5.8-.7z"/>
<path color="#d2e2f7" d="M312.8 93.9l-5.7 .4-1.3 1.4 5.7-.5z"/>
<path color="#d2e3f7" d="M318.6 94l-5.8-.1-1.3 1.3 5.8 .1z"/>
<path color="#d2e3f7" d="M324.3 94.2l-5.7-.2-1.3 1.3 5.7 .2z"/>
<path color="#d3e3f7" d="M330.1 94.3l-5.8-.1-1.3 1.3 5.8 .1z"/>
<path color="#d3e3f7" d="M335.8 94.4l-5.7-.1-1.3 1.3 5.7 .1z"/>
<path color="#d3e3f7" d="M341.6 94.5l-5.8-.1-1.3 1.3 5.8 .2z"/>
<path color="#eaf2fb" d="M64.3 67.2l-5.8-2.6-1.3 2 5.7 2.6z"/>
<path color="#e8f1fb" d="M70 69.7l-5.7-2.5-1.4 2 5.8 2.6z"/>
<path color="#e6f0fa" d="M75.8 72.2l-5.8-2.5-1.3 2.1 5.7 2.5z"/>
<path color="#e2edf9" d="M81.5 74.8l-5.7-2.6-1.4 2.1 5.8 2.7z"/>
<path color="#ddeaf8" d="M87.3 77.9l-5.8-3.1-1.3 2.2 5.7 3z"/>
<path color="#d7e6f8" d="M93 81.1l-5.7-3.2-1.4 2.1 5.8 3.2z"/>
<path color="#d2e2f7" d="M98.8 84.5l-5.8-3.4-1.3 2.1 5.7 3.4z"/>
<path color="#ccdff6" d="M104.5 87.9l-5.7-3.4-1.4 2.1 5.8 3.5z"/>
<path color="#c6daf4" d="M110.3 91.1l-5.8-3.2-1.3 2.2 5.7 3.1z"/>
<path color="#bdd4f2" d="M116 94.2l-5.7-3.1-1.4 2.1 5.8 3.1z"/>
<path color="#b3cdef" d="M121.8 97.4l-5.8-3.2-1.3 2.1 5.7 3.2z"/>
<path color="#a7c5eb" d="M127.5 101.5l-5.7-4.1-1.4 2.1 5.8 4.1z"/>
<path color="#9bbce7" d="M133.3 105.6l-5.8-4.1-1.3 2.1 5.7 4.2z"/>
<path color="#91b5e4" d="M139 110l-5.7-4.4-1.4 2.2 5.8 4.4z"/>
<path color="#89afe2" d="M144.8 114.7l-5.8-4.7-1.3 2.2 5.7 4.8z"/>
<path color="#81a9df" d="M150.5 119.4l-5.7-4.7-1.4 2.3 5.8 4.7z"/>
<path color="#79a3dc" d="M156.3 124.1l-5.8-4.7-1.3 2.3 5.7 4.8z"/>
<path color="#729eda" d="M162 128.7l-5.7-4.6-1.4 2.4 5.8 4.7z"/>
<path color="#6997d7" d="M167.8 133.9l-5.8-5.2-1.3 2.5 5.7 5.1z"/>
<path color="#6191d4" d="M173.5 138.7l-5.7-4.8-1.4 2.4 5.8 4.9z"/>
<path color="#5f8ed4" d="M179.3 143.6l-5.8-4.9-1.3 2.5 5.7 4.8z"/>
<path color="#5c8bd3" d="M185 148.5l-5.7-4.9-1.4 2.4 5.8 4.8z"/>
<path color="#5987d3" d="M190.8 154.4l-5.8-5.9-1.3 2.3 5.7 6z"/>
<path color="#5683d2" d="M196.5 160.5l-5.7-6.1-1.4 2.4 5.8 6.1z"/>
<path color="#527cd1" d="M202.3 167.5l-5.8-7-1.3 2.4 5.7 7z"/>
<path color="#4d73d0" d="M208 174.5l-5.7-7-1.4 2.4 5.8 7.1z"/>
<path color="#496bce" d="M213.8 180.8l-5.8-6.3-1.3 2.5 5.7 6.4z"/>
<path color="#4564cd" d="M219.5 185.9l-5.7-5.1-1.4 2.6 5.8 5.2z"/>
<path color="#425ecc" d="M225.3 190l-5.8-4.1-1.3 2.7 5.7 4.1z"/>
<path color="#4058ca" d="M231 193.3l-5.7-3.3-1.4 2.7 5.8 3.2z"/>
<path color="#3f56c9" d="M233.9 194.7l-2.9-1.4-1.3 2.6 2.9 1.4z"/>
<path color="#3e53c8" d="M236.8 196.2l-2.9-1.5-1.3 2.6 2.8 1.4z"/>
<path color="#3e51c7" d="M239.6 197.5l-2.8-1.3-1.4 2.5 2.9 1.3z"/>
<path color="#3d4fc6" d="M242.5 198.8l-2.9-1.3-1.3 2.5 2.9 1.2z"/>
<path color="#3c4cc6" d="M245.4 200l-2.9-1.2-1.3 2.4 2.9 1.3z"/>
<path color="#3a48c4" d="M248.3 202.5l-2.9-2.5-1.3 2.5 2.8 2.2z"/>
<path color="#3943c2" d="M251.1 205.1l-2.8-2.6-1.4 2.2 2.9 2.6z"/>
<path color="#373ec1" d="M254 208l-2.9-2.9-1.3 2.2 2.9 3z"/>
<path color="#353abf" d="M256.9 210.4l-2.9-2.4-1.3 2.3 2.9 2.5z"/>
<path color="#3438bc" d="M259.8 212.5l-2.9-2.1-1.3 2.4 2.8 2.3z"/>
<path color="#3336bb" d="M262.6 213.9l-2.8-1.4-1.4 2.6 2.9 1.5z"/>
<path color="#3437bb" d="M265.5 213.7l-2.9 .2-1.3 2.7 2.9 .3z"/>
<path color="#3539bd" d="M268.4 212l-2.9 1.7-1.3 3.2 2.9-1.3z"/>
<path color="#373ec1" d="M271.3 208.8l-2.9 3.2-1.3 3.6 2.8-2.9z"/>
<path color="#3b48c4" d="M274.1 203.6l-2.8 5.2-1.4 3.9 2.9-5z"/>
<path color="#4461cd" d="M277 191l-2.9 12.6-1.3 4.1 2.9-10.3z"/>
<path color="#517ad1" d="M279.9 173.3l-2.9 17.7-1.3 6.4 2.9-16.4z"/>
<path color="#6191d4" d="M282.8 144.9l-2.9 28.4-1.3 7.7 2.8-26z"/>
<path color="#8fb4e4" d="M285.6 119.1l-2.8 25.8-1.4 10.1 2.9-28z"/>
<path color="#b7d0f0" d="M288.5 105l-2.9 14.1-1.3 7.9 2.9-19.5z"/>
<path color="#caddf5" d="M294.3 99.2l-5.8 5.8-1.3 2.5 5.7-6.4z"/>
<path color="#cfe1f6" d="M300 96.4l-5.7 2.8-1.4 1.9 5.8-3.3z"/>
<path color="#d1e2f7" d="M305.8 95.7l-5.8 .7-1.3 1.4 5.7-.7z"/>
<path color="#d3e3f7" d="M311.5 95.2l-5.7 .5-1.4 1.4 5.8-.6z"/>
<path color="#d3e3f7" d="M317.3 95.3l-5.8-.1-1.3 1.3 5.7 .2z"/>
<path color="#d3e4f7" d="M323 95.5l-5.7-.2-1.4 1.4 5.8 .1z"/>
<path color="#d4e4f7" d="M328.8 95.6l-5.8-.1-1.3 1.3 5.7 .1z"/>
<path color="#d4e4f7" d="M334.5 95.7l-5.7-.1-1.4 1.3 5.8 .2z"/>
<path color="#d4e4f7" d="M340.3 95.9l-5.8-.2-1.3 1.4 5.7 .1z"/>
<path color="#e9f2fb" d="M62.9 69.2l-5.7-2.6-1.3 2 5.7 2.6z"/>
<path color="#e8f1fa" d="M68.7 71.8l-5.8-2.6-1.3 2 5.8 2.6z"/>
<path color="#e6f0fa" d="M74.4 74.3l-5.7-2.5-1.3 2 5.7 2.6z"/>
<path color="#e1edf9" d="M80.2 77l-5.8-2.7-1.3 2.1 5.8 2.7z"/>
<path color="#dceaf8" d="M85.9 80l-5.7-3-1.3 2.1 5.7 3z"/>
<path color="#d7e6f7" d="M91.7 83.2l-5.8-3.2-1.3 2.1 5.8 3.2z"/>
<path color="#d1e2f7" d="M97.4 86.6l-5.7-3.4-1.3 2.1 5.7 3.5z"/>
<path color="#ccdef6" d="M103.2 90.1l-5.8-3.5-1.3 2.2 5.8 3.4z"/>
<path color="#c5daf4" d="M108.9 93.2l-5.7-3.1-1.3 2.1 5.7 3.2z"/>
<path color="#bcd4f1" d="M114.7 96.3l-5.8-3.1-1.3 2.2 5.8 3.1z"/>
<path color="#b3cdef" d="M120.4 99.5l-5.7-3.2-1.3 2.2 5.7 3.1z"/>
<path color="#a6c4eb" d="M126.2 103.6l-5.8-4.1-1.3 2.1 5.8 4.2z"/>
<path color="#9abce7" d="M131.9 107.8l-5.7-4.2-1.3 2.2 5.7 4.2z"/>
<path color="#91b5e4" d="M137.7 112.2l-5.8-4.4-1.3 2.2 5.8 4.4z"/>
<path color="#89afe1" d="M143.4 117l-5.7-4.8-1.3 2.2 5.7 4.8z"/>
<path color="#81a9df" d="M149.2 121.7l-5.8-4.7-1.3 2.2 5.8 4.8z"/>
<path color="#79a3dc" d="M154.9 126.5l-5.7-4.8-1.3 2.3 5.7 4.8z"/>
<path color="#719dd9" d="M160.7 131.2l-5.8-4.7-1.3 2.3 5.8 4.8z"/>
<path color="#6896d6" d="M166.4 136.3l-5.7-5.1-1.3 2.4 5.7 5.1z"/>
<path color="#6191d4" d="M172.2 141.2l-5.8-4.9-1.3 2.4 5.8 4.9z"/>
<path color="#5e8dd4" d="M177.9 146l-5.7-4.8-1.3 2.4 5.7 4.8z"/>
<path color="#5c8ad3" d="M183.7 150.8l-5.8-4.8-1.3 2.4 5.8 4.9z"/>
<path color="#5986d3" d="M189.4 156.8l-5.7-6-1.3 2.5 5.7 5.9z"/>
<path color="#5682d2" d="M195.2 162.9l-5.8-6.1-1.3 2.4 5.8 6.1z"/>
<path color="#527bd1" d="M200.9 169.9l-5.7-7-1.3 2.4 5.7 7z"/>
<path color="#4d72d0" d="M206.7 177l-5.8-7.1-1.3 2.4 5.8 7.2z"/>
<path color="#486ace" d="M212.4 183.4l-5.7-6.4-1.3 2.5 5.7 6.6z"/>
<path color="#4563cd" d="M218.2 188.6l-5.8-5.2-1.3 2.7 5.8 5.1z"/>
<path color="#425ccb" d="M223.9 192.7l-5.7-4.1-1.3 2.6 5.7 4.1z"/>
<path color="#4057c9" d="M229.7 195.9l-5.8-3.2-1.3 2.6 5.8 3.2z"/>
<path color="#3f54c8" d="M232.6 197.3l-2.9-1.4-1.3 2.6 2.8 1.4z"/>
<path color="#3e52c8" d="M235.4 198.7l-2.8-1.4-1.4 2.6 2.9 1.4z"/>
<path color="#3d50c7" d="M238.3 200l-2.9-1.3-1.3 2.6 2.9 1.2z"/>
<path color="#3c4ec6" d="M241.2 201.2l-2.9-1.2-1.3 2.5 2.9 1.2z"/>
<path color="#3c4bc5" d="M244.1 202.5l-2.9-1.3-1.3 2.5 2.8 1.3z"/>
<path color="#3a47c4" d="M246.9 204.7l-2.8-2.2-1.4 2.5 2.9 2z"/>
<path color="#3843c2" d="M249.8 207.3l-2.9-2.6-1.3 2.3 2.9 2.6z"/>
<path color="#363dc0" d="M252.7 210.3l-2.9-3-1.3 2.3 2.9 3z"/>
<path color="#353abe" d="M255.6 212.8l-2.9-2.5-1.3 2.3 2.8 2.7z"/>
<path color="#3437bc" d="M258.4 215.1l-2.8-2.3-1.4 2.5 2.9 2.3z"/>
<path color="#3335ba" d="M261.3 216.6l-2.9-1.5-1.3 2.5 2.9 1.8z"/>
<path color="#3335ba" d="M264.2 216.9l-2.9-.3-1.3 2.8 2.9 .6z"/>
<path color="#3437bb" d="M267.1 215.6l-2.9 1.3-1.3 3.1 2.8-.8z"/>
<path color="#353bbf" d="M269.9 212.7l-2.8 2.9-1.4 3.6 2.9-2.9z"/>
<path color="#3944c3" d="M272.8 207.7l-2.9 5-1.3 3.6 2.9-4.6z"/>
<path color="#4159ca" d="M275.7 197.4l-2.9 10.3-1.3 4 2.9-8.9z"/>
<path color="#4c72d0" d="M278.6 181l-2.9 16.4-1.3 5.4 2.8-15.3z"/>
<path color="#5c8bd3" d="M281.4 155l-2.8 26-1.4 6.5 2.9-22.1z"/>
<path color="#84ace0" d="M284.3 127l-2.9 28-1.3 10.4 2.9-30.3z"/>
<path color="#b5cfef" d="M287.2 107.5l-2.9 19.5-1.3 8.1 2.9-23.2z"/>
<path color="#caddf5" d="M292.9 101.1l-5.7 6.4-1.3 4.4 5.7-8.9z"/>
<path color="#d0e2f6" d="M298.7 97.8l-5.8 3.3-1.3 1.9 5.8-3.7z"/>
<path color="#d2e3f7" d="M304.4 97.1l-5.7 .7-1.3 1.5 5.7-.8z"/>
<path color="#d4e4f7" d="M310.2 96.5l-5.8 .6-1.3 1.4 5.8-.7z"/>
<path color="#d4e4f7" d="M315.9 96.7l-5.7-.2-1.3 1.3 5.7 .2z"/>
<path color="#d5e4f7" d="M321.7 96.8l-5.8-.1-1.3 1.3 5.8 .1z"/>
<path color="#d5e5f7" d="M327.4 96.9l-5.7-.1-1.3 1.3 5.7 .2z"/>
<path color="#d5e5f7" d="M333.2 97.1l-5.8-.2-1.3 1.4 5.8 .1z"/>
<path color="#d5e5f7" d="M338.9 97.2l-5.7-.1-1.3 1.3 5.7 .2z"/>
<path color="#e9f2fb" d="M61.6 71.2l-5.7-2.6-1.4 2 5.8 2.6z"/>
<path color="#e8f1fa" d="M67.4 73.8l-5.8-2.6-1.3 2 5.7 2.7z"/>
<path color="#e5f0fa" d="M73.1 76.4l-5.7-2.6-1.4 2.1 5.8 2.6z"/>
<path color="#e1edf9" d="M78.9 79.1l-5.8-2.7-1.3 2.1 5.7 2.7z"/>
<path color="#dce9f8" d="M84.6 82.1l-5.7-3-1.4 2.1 5.8 3z"/>
<path color="#d7e6f7" d="M90.4 85.3l-5.8-3.2-1.3 2.1 5.7 3.2z"/>
<path color="#d1e2f6" d="M96.1 88.8l-5.7-3.5-1.4 2.1 5.8 3.5z"/>
<path color="#cbdef6" d="M101.9 92.2l-5.8-3.4-1.3 2.1 5.7 3.4z"/>
<path color="#c4d9f4" d="M107.6 95.4l-5.7-3.2-1.4 2.1 5.8 3.2z"/>
<path color="#bbd3f1" d="M113.4 98.5l-5.8-3.1-1.3 2.1 5.7 3.1z"/>
<path color="#b2cdee" d="M119.1 101.6l-5.7-3.1-1.4 2.1 5.8 3.1z"/>
<path color="#a6c4eb" d="M124.9 105.8l-5.8-4.2-1.3 2.1 5.7 4.2z"/>
<path color="#99bbe7" d="M130.6 110l-5.7-4.2-1.4 2.1 5.8 4.3z"/>
<path color="#90b5e4" d="M136.4 114.4l-5.8-4.4-1.3 2.2 5.7 4.4z"/>
<path color="#88afe1" d="M142.1 119.2l-5.7-4.8-1.4 2.2 5.8 4.9z"/>
<path color="#80a8df" d="M147.9 124l-5.8-4.8-1.3 2.3 5.7 4.9z"/>
<path color="#78a2dc" d="M153.6 128.8l-5.7-4.8-1.4 2.4 5.8 4.8z"/>
<path color="#709cd9" d="M159.4 133.6l-5.8-4.8-1.3 2.4 5.7 4.8z"/>
<path color="#6796d6" d="M165.1 138.7l-5.7-5.1-1.4 2.4 5.8 5.1z"/>
<path color="#6090d4" d="M170.9 143.6l-5.8-4.9-1.3 2.4 5.7 5z"/>
<path color="#5e8dd4" d="M176.6 148.4l-5.7-4.8-1.4 2.5 5.8 4.8z"/>
<path color="#5c8ad3" d="M182.4 153.3l-5.8-4.9-1.3 2.5 5.7 4.8z"/>
<path color="#5986d3" d="M188.1 159.2l-5.7-5.9-1.4 2.4 5.8 5.9z"/>
<path color="#5682d2" d="M193.9 165.3l-5.8-6.1-1.3 2.4 5.7 6.2z"/>
<path color="#517bd1" d="M199.6 172.3l-5.7-7-1.4 2.5 5.8 6.9z"/>
<path color="#4c71d0" d="M205.4 179.5l-5.8-7.2-1.3 2.4 5.7 7.3z"/>
<path color="#4869ce" d="M211.1 186.1l-5.7-6.6-1.4 2.5 5.8 6.7z"/>
<path color="#4462cd" d="M216.9 191.2l-5.8-5.1-1.3 2.6 5.7 5.1z"/>
<path color="#415bcb" d="M222.6 195.3l-5.7-4.1-1.4 2.6 5.8 4.2z"/>
<path color="#3f56c9" d="M228.4 198.5l-5.8-3.2-1.3 2.7 5.7 3.2z"/>
<path color="#3f53c8" d="M231.2 199.9l-2.8-1.4-1.4 2.7 2.9 1.3z"/>
<path color="#3e51c7" d="M234.1 201.3l-2.9-1.4-1.3 2.6 2.9 1.3z"/>
<path color="#3d4fc6" d="M237 202.5l-2.9-1.2-1.3 2.5 2.9 1.2z"/>
<path color="#3c4dc6" d="M239.9 203.7l-2.9-1.2-1.3 2.5 2.8 1.2z"/>
<path color="#3b4ac5" d="M242.7 205l-2.8-1.3-1.4 2.5 2.9 1.3z"/>
<path color="#3a47c4" d="M245.6 207l-2.9-2-1.3 2.5 2.9 1.7z"/>
<path color="#3842c2" d="M248.5 209.6l-2.9-2.6-1.3 2.2 2.9 2.6z"/>
<path color="#363dc0" d="M251.4 212.6l-2.9-3-1.3 2.2 2.8 3z"/>
<path color="#3539bd" d="M254.2 215.3l-2.8-2.7-1.4 2.2 2.9 3z"/>
<path color="#3336bb" d="M257.1 217.6l-2.9-2.3-1.3 2.5 2.9 2.3z"/>
<path color="#3334b9" d="M260 219.4l-2.9-1.8-1.3 2.5 2.9 2z"/>
<path color="#3234b8" d="M262.9 220l-2.9-.6-1.3 2.7 2.8 1z"/>
<path color="#3335ba" d="M265.7 219.2l-2.8 .8-1.4 3.1 2.9-.6z"/>
<path color="#3539bd" d="M268.6 216.3l-2.9 2.9-1.3 3.3 2.9-2.6z"/>
<path color="#3840c1" d="M271.5 211.7l-2.9 4.6-1.3 3.6 2.9-4.1z"/>
<path color="#3e52c7" d="M274.4 202.8l-2.9 8.9-1.3 4.1 2.8-7.4z"/>
<path color="#496ccf" d="M277.2 187.5l-2.8 15.3-1.4 5.6 2.9-14.4z"/>
<path color="#5885d3" d="M280.1 165.4l-2.9 22.1-1.3 6.5 2.9-19.7z"/>
<path color="#79a3dc" d="M283 135.1l-2.9 30.3-1.3 8.9 2.9-30.5z"/>
<path color="#aecaed" d="M285.9 111.9l-2.9 23.2-1.3 8.7 2.8-25.1z"/>
<path color="#caddf5" d="M291.6 103l-5.7 8.9-1.4 6.8 5.8-13.8z"/>
<path color="#d1e2f7" d="M297.4 99.3l-5.8 3.7-1.3 1.9 5.7-4.1z"/>
<path color="#d3e3f7" d="M303.1 98.5l-5.7 .8-1.4 1.5 5.8-.8z"/>
<path color="#d5e5f7" d="M308.9 97.8l-5.8 .7-1.3 1.5 5.7-.7z"/>
<path color="#d5e5f7" d="M314.6 98l-5.7-.2-1.4 1.5 5.8 0z"/>
<path color="#d6e5f7" d="M320.4 98.1l-5.8-.1-1.3 1.3 5.7 .1z"/>
<path color="#d6e5f7" d="M326.1 98.3l-5.7-.2-1.4 1.3 5.8 .2z"/>
<path color="#d6e5f7" d="M331.9 98.4l-5.8-.1-1.3 1.3 5.7 .2z"/>
<path color="#d6e6f7" d="M337.6 98.6l-5.7-.2-1.4 1.4 5.8 .2z"/>
<path color="#e9f2fb" d="M60.3 73.2l-5.8-2.6-1.3 2 5.8 2.7z"/>
<path color="#e7f1fa" d="M66 75.9l-5.7-2.7-1.3 2.1 5.7 2.6z"/>
<path color="#e5effa" d="M71.8 78.5l-5.8-2.6-1.3 2 5.8 2.7z"/>
<path color="#e1ecf9" d="M77.5 81.2l-5.7-2.7-1.3 2.1 5.7 2.7z"/>
<path color="#dce9f8" d="M83.3 84.2l-5.8-3-1.3 2.1 5.8 3z"/>
<path color="#d6e6f7" d="M89 87.4l-5.7-3.2-1.3 2.1 5.7 3.3z"/>
<path color="#d1e2f6" d="M94.8 90.9l-5.8-3.5-1.3 2.2 5.8 3.4z"/>
<path color="#cbdef5" d="M100.5 94.3l-5.7-3.4-1.3 2.1 5.7 3.5z"/>
<path color="#c4d9f4" d="M106.3 97.5l-5.8-3.2-1.3 2.2 5.8 3.2z"/>
<path color="#bbd3f1" d="M112 100.6l-5.7-3.1-1.3 2.2 5.7 3.1z"/>
<path color="#b2ccee" d="M117.8 103.7l-5.8-3.1-1.3 2.2 5.8 3.1z"/>
<path color="#a5c4eb" d="M123.5 107.9l-5.7-4.2-1.3 2.2 5.7 4.2z"/>
<path color="#98bbe7" d="M129.3 112.2l-5.8-4.3-1.3 2.2 5.8 4.3z"/>
<path color="#90b4e4" d="M135 116.6l-5.7-4.4-1.3 2.2 5.7 4.4z"/>
<path color="#88aee1" d="M140.8 121.5l-5.8-4.9-1.3 2.2 5.8 4.9z"/>
<path color="#7fa8de" d="M146.5 126.4l-5.7-4.9-1.3 2.2 5.7 5z"/>
<path color="#77a2dc" d="M152.3 131.2l-5.8-4.8-1.3 2.3 5.8 4.9z"/>
<path color="#6f9cd9" d="M158 136l-5.7-4.8-1.3 2.4 5.7 4.8z"/>
<path color="#6695d6" d="M163.8 141.1l-5.8-5.1-1.3 2.4 5.8 5.1z"/>
<path color="#6090d4" d="M169.5 146.1l-5.7-5-1.3 2.4 5.7 5z"/>
<path color="#5e8dd3" d="M175.3 150.9l-5.8-4.8-1.3 2.4 5.8 4.8z"/>
<path color="#5b8ad3" d="M181 155.7l-5.7-4.8-1.3 2.4 5.7 4.9z"/>
<path color="#5886d3" d="M186.8 161.6l-5.8-5.9-1.3 2.5 5.8 5.8z"/>
<path color="#5582d2" d="M192.5 167.8l-5.7-6.2-1.3 2.4 5.7 6.2z"/>
<path color="#517ad1" d="M198.3 174.7l-5.8-6.9-1.3 2.4 5.8 6.9z"/>
<path color="#4c71cf" d="M204 182l-5.7-7.3-1.3 2.4 5.7 7.4z"/>
<path color="#4768ce" d="M209.8 188.7l-5.8-6.7-1.3 2.5 5.8 6.8z"/>
<path color="#4461cd" d="M215.5 193.8l-5.7-5.1-1.3 2.6 5.7 5.2z"/>
<path color="#415aca" d="M221.3 198l-5.8-4.2-1.3 2.7 5.8 4.2z"/>
<path color="#3f54c8" d="M227 201.2l-5.7-3.2-1.3 2.7 5.7 3.2z"/>
<path color="#3e52c7" d="M229.9 202.5l-2.9-1.3-1.3 2.7 2.9 1.2z"/>
<path color="#3d50c7" d="M232.8 203.8l-2.9-1.3-1.3 2.6 2.9 1.3z"/>
<path color="#3c4ec6" d="M235.7 205l-2.9-1.2-1.3 2.6 2.9 1.2z"/>
<path color="#3c4cc5" d="M238.5 206.2l-2.8-1.2-1.3 2.6 2.8 1.1z"/>
<path color="#3b49c5" d="M241.4 207.5l-2.9-1.3-1.3 2.5 2.9 1.2z"/>
<path color="#3a46c4" d="M244.3 209.2l-2.9-1.7-1.3 2.4 2.9 1.5z"/>
<path color="#3842c2" d="M247.2 211.8l-2.9-2.6-1.3 2.2 2.8 2.7z"/>
<path color="#363cc0" d="M250 214.8l-2.8-3-1.4 2.3 2.9 2.9z"/>
<path color="#3438bd" d="M252.9 217.8l-2.9-3-1.3 2.2 2.9 3.1z"/>
<path color="#3336ba" d="M255.8 220.1l-2.9-2.3-1.3 2.3 2.9 2.5z"/>
<path color="#3233b8" d="M258.7 222.1l-2.9-2-1.3 2.5 2.9 2.2z"/>
<path color="#3232b7" d="M261.5 223.1l-2.8-1-1.3 2.7 2.8 1.5z"/>
<path color="#3233b8" d="M264.4 222.5l-2.9 .6-1.3 3.2 2.9-.6z"/>
<path color="#3437bb" d="M267.3 219.9l-2.9 2.6-1.3 3.2 2.9-2.2z"/>
<path color="#363cc0" d="M270.2 215.8l-2.9 4.1-1.3 3.6 2.8-3.6z"/>
<path color="#3c4bc5" d="M273 208.4l-2.8 7.4-1.4 4.1 2.9-6z"/>
<path color="#4666ce" d="M275.9 194l-2.9 14.4-1.3 5.5 2.9-13.3z"/>
<path color="#5480d2" d="M278.8 174.3l-2.9 19.7-1.3 6.6 2.9-18.5z"/>
<path color="#6d9ad8" d="M281.7 143.8l-2.9 30.5-1.3 7.8 2.9-29.6z"/>
<path color="#9ebfe8" d="M284.5 118.7l-2.8 25.1-1.3 8.7 2.8-26.5z"/>
<path color="#caddf5" d="M290.3 104.9l-5.8 13.8-1.3 7.3 5.8-19.2z"/>
<path color="#d2e3f7" d="M296 100.8l-5.7 4.1-1.3 1.9 5.7-4.1z"/>
<path color="#d4e4f7" d="M301.8 100l-5.8 .8-1.3 1.9 5.8-1.3z"/>
<path color="#d6e5f7" d="M307.5 99.3l-5.7 .7-1.3 1.4 5.7-.7z"/>
<path color="#d7e6f7" d="M313.3 99.3l-5.8 0-1.3 1.4 5.8-.1z"/>
<path color="#d7e6f7" d="M319 99.4l-5.7-.1-1.3 1.3 5.7 .2z"/>
<path color="#d7e6f8" d="M324.8 99.6l-5.8-.2-1.3 1.4 5.8 .1z"/>
<path color="#d7e6f8" d="M330.5 99.8l-5.7-.2-1.3 1.3 5.7 .2z"/>
<path color="#d8e6f8" d="M336.3 100l-5.8-.2-1.3 1.3 5.8 .2z"/>
<path color="#e9f2fb" d="M59 75.3l-5.8-2.7-1.3 2 5.8 2.7z"/>
<path color="#e7f1fa" d="M64.7 77.9l-5.7-2.6-1.3 2 5.7 2.7z"/>
<path color="#e5effa" d="M70.5 80.6l-5.8-2.7-1.3 2.1 5.8 2.7z"/>
<path color="#e0ecf9" d="M76.2 83.3l-5.7-2.7-1.3 2.1 5.7 2.7z"/>
<path color="#dbe9f8" d="M82 86.3l-5.8-3-1.3 2.1 5.8 3z"/>
<path color="#d6e5f7" d="M87.7 89.6l-5.7-3.3-1.3 2.1 5.7 3.3z"/>
<path color="#d0e2f6" d="M93.5 93l-5.8-3.4-1.3 2.1 5.8 3.4z"/>
<path color="#cbdef5" d="M99.2 96.5l-5.7-3.5-1.3 2.1 5.7 3.5z"/>
<path color="#c3d9f4" d="M105 99.7l-5.8-3.2-1.3 2.1 5.8 3.2z"/>
<path color="#bad2f1" d="M110.7 102.8l-5.7-3.1-1.3 2.1 5.7 3.1z"/>
<path color="#b1ccee" d="M116.5 105.9l-5.8-3.1-1.3 2.1 5.8 3.1z"/>
<path color="#a4c3ea" d="M122.2 110.1l-5.7-4.2-1.3 2.1 5.7 4.2z"/>
<path color="#98bae6" d="M128 114.4l-5.8-4.3-1.3 2.1 5.8 4.4z"/>
<path color="#8fb4e4" d="M133.7 118.8l-5.7-4.4-1.3 2.2 5.7 4.4z"/>
<path color="#87aee1" d="M139.5 123.7l-5.8-4.9-1.3 2.2 5.8 5z"/>
<path color="#7fa7de" d="M145.2 128.7l-5.7-5-1.3 2.3 5.7 5z"/>
<path color="#76a1db" d="M151 133.6l-5.8-4.9-1.3 2.3 5.8 4.9z"/>
<path color="#6e9bd9" d="M156.7 138.4l-5.7-4.8-1.3 2.3 5.7 4.9z"/>
<path color="#6694d6" d="M162.5 143.5l-5.8-5.1-1.3 2.4 5.8 5.1z"/>
<path color="#6090d4" d="M168.2 148.5l-5.7-5-1.3 2.4 5.7 5z"/>
<path color="#5d8cd3" d="M174 153.3l-5.8-4.8-1.3 2.4 5.8 4.9z"/>
<path color="#5b89d3" d="M179.7 158.2l-5.7-4.9-1.3 2.5 5.7 4.8z"/>
<path color="#5885d3" d="M185.5 164l-5.8-5.8-1.3 2.4 5.8 5.8z"/>
<path color="#5581d2" d="M191.2 170.2l-5.7-6.2-1.3 2.4 5.7 6.2z"/>
<path color="#517ad1" d="M197 177.1l-5.8-6.9-1.3 2.4 5.8 6.8z"/>
<path color="#4b70cf" d="M202.7 184.5l-5.7-7.4-1.3 2.3 5.7 7.6z"/>
<path color="#4767ce" d="M208.5 191.3l-5.8-6.8-1.3 2.5 5.8 6.8z"/>
<path color="#4360cc" d="M214.2 196.5l-5.7-5.2-1.3 2.5 5.7 5.3z"/>
<path color="#4058ca" d="M220 200.7l-5.8-4.2-1.3 2.6 5.8 4.3z"/>
<path color="#3e53c8" d="M225.7 203.9l-5.7-3.2-1.3 2.7 5.7 3.2z"/>
<path color="#3e51c7" d="M228.6 205.1l-2.9-1.2-1.3 2.7 2.9 1.2z"/>
<path color="#3d4ec6" d="M231.5 206.4l-2.9-1.3-1.3 2.7 2.9 1.2z"/>
<path color="#3c4cc6" d="M234.4 207.6l-2.9-1.2-1.3 2.6 2.8 1.1z"/>
<path color="#3b4bc5" d="M237.2 208.7l-2.8-1.1-1.4 2.5 2.9 1.1z"/>
<path color="#3b48c4" d="M240.1 209.9l-2.9-1.2-1.3 2.5 2.9 1.2z"/>
<path color="#3a46c3" d="M243 211.4l-2.9-1.5-1.3 2.5 2.9 1.2z"/>
<path color="#3841c2" d="M245.8 214.1l-2.8-2.7-1.3 2.2 2.8 2.7z"/>
<path color="#363cc0" d="M248.7 217l-2.9-2.9-1.3 2.2 2.9 2.9z"/>
<path color="#3438bc" d="M251.6 220.1l-2.9-3.1-1.3 2.2 2.9 3.2z"/>
<path color="#3335ba" d="M254.5 222.6l-2.9-2.5-1.3 2.3 2.9 2.6z"/>
<path color="#3232b7" d="M257.4 224.8l-2.9-2.2-1.3 2.4 2.8 2.5z"/>
<path color="#3131b6" d="M260.2 226.3l-2.8-1.5-1.4 2.7 2.9 1.5z"/>
<path color="#3132b7" d="M263.1 225.7l-2.9 .6-1.3 2.7 2.9-.2z"/>
<path color="#3335b9" d="M266 223.5l-2.9 2.2-1.3 3.1 2.9-1.6z"/>
<path color="#3539be" d="M268.8 219.9l-2.8 3.6-1.3 3.7 2.8-2.9z"/>
<path color="#3944c3" d="M271.7 213.9l-2.9 6-1.3 4.4 2.9-5.2z"/>
<path color="#435ecc" d="M274.6 200.6l-2.9 13.3-1.3 5.2 2.9-10.6z"/>
<path color="#5079d1" d="M277.5 182.1l-2.9 18.5-1.3 7.9 2.9-16.3z"/>
<path color="#6191d4" d="M280.4 152.5l-2.9 29.6-1.3 10.1 2.8-24.9z"/>
<path color="#91b5e4" d="M283.2 126l-2.8 26.5-1.4 14.8 2.9-29.4z"/>
<path color="#caddf5" d="M289 106.8l-5.8 19.2-1.3 11.9 5.8-27.9z"/>
<path color="#d2e3f7" d="M294.7 102.7l-5.7 4.1-1.3 3.2 5.7-4.9z"/>
<path color="#d5e5f7" d="M300.5 101.4l-5.8 1.3-1.3 2.4 5.8-2.1z"/>
<path color="#d7e6f8" d="M306.2 100.7l-5.7 .7-1.3 1.6 5.7-.7z"/>
<path color="#d8e7f8" d="M312 100.6l-5.8 .1-1.3 1.6 5.8-.4z"/>
<path color="#d8e7f8" d="M317.7 100.8l-5.7-.2-1.3 1.3 5.7 .2z"/>
<path color="#d8e7f8" d="M323.5 100.9l-5.8-.1-1.3 1.3 5.8 .2z"/>
<path color="#d8e7f8" d="M329.2 101.1l-5.7-.2-1.3 1.4 5.7 .2z"/>
<path color="#d9e7f8" d="M335 101.3l-5.8-.2-1.3 1.4 5.8 .2z"/>
<path color="#e9f2fb" d="M57.7 77.3l-5.8-2.7-1.3 2 5.7 2.7z"/>
<path color="#e7f1fa" d="M63.4 80l-5.7-2.7-1.4 2 5.8 2.7z"/>
<path color="#e5effa" d="M69.2 82.7l-5.8-2.7-1.3 2 5.7 2.8z"/>
<path color="#e0ecf9" d="M74.9 85.4l-5.7-2.7-1.4 2.1 5.8 2.7z"/>
<path color="#dbe9f8" d="M80.7 88.4l-5.8-3-1.3 2.1 5.7 3.1z"/>
<path color="#d6e5f7" d="M86.4 91.7l-5.7-3.3-1.4 2.2 5.8 3.2z"/>
<path color="#d0e1f6" d="M92.2 95.1l-5.8-3.4-1.3 2.1 5.7 3.5z"/>
<path color="#caddf5" d="M97.9 98.6l-5.7-3.5-1.4 2.2 5.8 3.5z"/>
<path color="#c3d8f3" d="M103.7 101.8l-5.8-3.2-1.3 2.2 5.7 3.2z"/>
<path color="#bad2f1" d="M109.4 104.9l-5.7-3.1-1.4 2.2 5.8 3.1z"/>
<path color="#b1ccee" d="M115.2 108l-5.8-3.1-1.3 2.2 5.7 3.1z"/>
<path color="#a4c3ea" d="M120.9 112.2l-5.7-4.2-1.4 2.2 5.8 4.2z"/>
<path color="#97bae6" d="M126.7 116.6l-5.8-4.4-1.3 2.2 5.7 4.3z"/>
<path color="#8fb4e4" d="M132.4 121l-5.7-4.4-1.4 2.1 5.8 4.5z"/>
<path color="#87ade1" d="M138.2 126l-5.8-5-1.3 2.2 5.7 5z"/>
<path color="#7ea7de" d="M143.9 131l-5.7-5-1.4 2.2 5.8 5.1z"/>
<path color="#76a1db" d="M149.7 135.9l-5.8-4.9-1.3 2.3 5.7 5z"/>
<path color="#6d9ad8" d="M155.4 140.8l-5.7-4.9-1.4 2.4 5.8 4.9z"/>
<path color="#6594d5" d="M161.2 145.9l-5.8-5.1-1.3 2.4 5.7 5.2z"/>
<path color="#608fd4" d="M166.9 150.9l-5.7-5-1.4 2.5 5.8 5z"/>
<path color="#5d8cd3" d="M172.7 155.8l-5.8-4.9-1.3 2.5 5.7 4.8z"/>
<path color="#5b89d3" d="M178.4 160.6l-5.7-4.8-1.4 2.4 5.8 4.9z"/>
<path color="#5885d3" d="M184.2 166.4l-5.8-5.8-1.3 2.5 5.7 5.7z"/>
<path color="#5581d2" d="M189.9 172.6l-5.7-6.2-1.4 2.4 5.8 6.2z"/>
<path color="#5079d1" d="M195.7 179.4l-5.8-6.8-1.3 2.4 5.7 6.8z"/>
<path color="#4b6fcf" d="M201.4 187l-5.7-7.6-1.4 2.4 5.8 7.7z"/>
<path color="#4666ce" d="M207.2 193.8l-5.8-6.8-1.3 2.5 5.7 6.8z"/>
<path color="#435fcc" d="M212.9 199.1l-5.7-5.3-1.4 2.5 5.8 5.5z"/>
<path color="#4057c9" d="M218.7 203.4l-5.8-4.3-1.3 2.7 5.7 4.3z"/>
<path color="#3e51c7" d="M224.4 206.6l-5.7-3.2-1.4 2.7 5.8 3.2z"/>
<path color="#3d4fc7" d="M227.3 207.8l-2.9-1.2-1.3 2.7 2.9 1.1z"/>
<path color="#3c4dc6" d="M230.2 209l-2.9-1.2-1.3 2.6 2.8 1.2z"/>
<path color="#3c4bc5" d="M233 210.1l-2.8-1.1-1.4 2.6 2.9 1.1z"/>
<path color="#3b49c5" d="M235.9 211.2l-2.9-1.1-1.3 2.6 2.9 1z"/>
<path color="#3a47c4" d="M238.8 212.4l-2.9-1.2-1.3 2.5 2.9 1.2z"/>
<path color="#3945c3" d="M241.7 213.6l-2.9-1.2-1.3 2.5 2.8 1.2z"/>
<path color="#3840c2" d="M244.5 216.3l-2.8-2.7-1.4 2.5 2.9 2.4z"/>
<path color="#363bc0" d="M247.4 219.2l-2.9-2.9-1.3 2.2 2.9 2.9z"/>
<path color="#3438bc" d="M250.3 222.4l-2.9-3.2-1.3 2.2 2.9 3.2z"/>
<path color="#3334b9" d="M253.2 225l-2.9-2.6-1.3 2.2 2.8 2.9z"/>
<path color="#3131b6" d="M256 227.5l-2.8-2.5-1.4 2.5 2.9 2.5z"/>
<path color="#3030b5" d="M258.9 229l-2.9-1.5-1.3 2.5 2.9 1.7z"/>
<path color="#3130b5" d="M261.8 228.8l-2.9 .2-1.3 2.7 2.9 .2z"/>
<path color="#3232b7" d="M264.7 227.2l-2.9 1.6-1.3 3.1 2.8-.9z"/>
<path color="#3336bb" d="M267.5 224.3l-2.8 2.9-1.4 3.8 2.9-2.9z"/>
<path color="#373ec1" d="M270.4 219.1l-2.9 5.2-1.3 3.8 2.9-4.6z"/>
<path color="#3e53c8" d="M273.3 208.5l-2.9 10.6-1.3 4.4 2.9-8.4z"/>
<path color="#4a6ecf" d="M276.2 192.2l-2.9 16.3-1.3 6.6 2.8-14.7z"/>
<path color="#5a88d3" d="M279 167.3l-2.8 24.9-1.4 8.2 2.9-19.7z"/>
<path color="#7fa8de" d="M281.9 137.9l-2.9 29.4-1.3 13.4 2.9-30.2z"/>
<path color="#c8dcf5" d="M287.7 110l-5.8 27.9-1.3 12.6 5.7-37.2z"/>
<path color="#d1e2f7" d="M293.4 105.1l-5.7 4.9-1.4 3.3 5.8-5.8z"/>
<path color="#d6e5f7" d="M299.2 103l-5.8 2.1-1.3 2.4 5.7-3z"/>
<path color="#d8e6f8" d="M304.9 102.3l-5.7 .7-1.4 1.5 5.8-.7z"/>
<path color="#d9e7f8" d="M310.7 101.9l-5.8 .4-1.3 1.5 5.7-.6z"/>
<path color="#d9e7f8" d="M316.4 102.1l-5.7-.2-1.4 1.3 5.8 .2z"/>
<path color="#d9e8f8" d="M322.2 102.3l-5.8-.2-1.3 1.3 5.7 .2z"/>
<path color="#dae8f8" d="M327.9 102.5l-5.7-.2-1.4 1.3 5.8 .2z"/>
<path color="#dae8f8" d="M333.7 102.7l-5.8-.2-1.3 1.3 5.7 .2z"/>
<path color="#e9f2fb" d="M56.3 79.3l-5.7-2.7-1.3 2 5.7 2.7z"/>
<path color="#e7f1fa" d="M62.1 82l-5.8-2.7-1.3 2 5.8 2.8z"/>
<path color="#e4effa" d="M67.8 84.8l-5.7-2.8-1.3 2.1 5.7 2.8z"/>
<path color="#e0ecf9" d="M73.6 87.5l-5.8-2.7-1.3 2.1 5.8 2.7z"/>
<path color="#dbe9f8" d="M79.3 90.6l-5.7-3.1-1.3 2.1 5.7 3.1z"/>
<path color="#d6e5f7" d="M85.1 93.8l-5.8-3.2-1.3 2.1 5.8 3.2z"/>
<path color="#d0e1f6" d="M90.8 97.3l-5.7-3.5-1.3 2.1 5.7 3.5z"/>
<path color="#caddf5" d="M96.6 100.8l-5.8-3.5-1.3 2.1 5.8 3.5z"/>
<path color="#c2d8f3" d="M102.3 104l-5.7-3.2-1.3 2.1 5.7 3.2z"/>
<path color="#b9d1f0" d="M108.1 107.1l-5.8-3.1-1.3 2.1 5.8 3.1z"/>
<path color="#b0cbee" d="M113.8 110.2l-5.7-3.1-1.3 2.1 5.7 3.1z"/>
<path color="#a3c2ea" d="M119.6 114.4l-5.8-4.2-1.3 2.1 5.8 4.2z"/>
<path color="#96b9e6" d="M125.3 118.7l-5.7-4.3-1.3 2.1 5.7 4.4z"/>
<path color="#8fb3e4" d="M131.1 123.2l-5.8-4.5-1.3 2.2 5.8 4.5z"/>
<path color="#86ade1" d="M136.8 128.2l-5.7-5-1.3 2.2 5.7 5.1z"/>
<path color="#7ea7de" d="M142.6 133.3l-5.8-5.1-1.3 2.3 5.8 5.1z"/>
<path color="#75a0db" d="M148.3 138.3l-5.7-5-1.3 2.3 5.7 5z"/>
<path color="#6d9ad8" d="M154.1 143.2l-5.8-4.9-1.3 2.3 5.8 5z"/>
<path color="#6493d5" d="M159.8 148.4l-5.7-5.2-1.3 2.4 5.7 5.2z"/>
<path color="#5f8fd4" d="M165.6 153.4l-5.8-5-1.3 2.4 5.8 5z"/>
<path color="#5d8cd3" d="M171.3 158.2l-5.7-4.8-1.3 2.4 5.7 4.9z"/>
<path color="#5b89d3" d="M177.1 163.1l-5.8-4.9-1.3 2.5 5.8 4.8z"/>
<path color="#5885d3" d="M182.8 168.8l-5.7-5.7-1.3 2.4 5.7 5.7z"/>
<path color="#5581d2" d="M188.6 175l-5.8-6.2-1.3 2.4 5.8 6.2z"/>
<path color="#5079d1" d="M194.3 181.8l-5.7-6.8-1.3 2.4 5.7 6.7z"/>
<path color="#4b6ecf" d="M200.1 189.5l-5.8-7.7-1.3 2.3 5.8 7.9z"/>
<path color="#4666ce" d="M205.8 196.3l-5.7-6.8-1.3 2.5 5.7 6.9z"/>
<path color="#425dcb" d="M211.6 201.8l-5.8-5.5-1.3 2.6 5.8 5.5z"/>
<path color="#3f55c9" d="M217.3 206.1l-5.7-4.3-1.3 2.6 5.7 4.4z"/>
<path color="#3d50c7" d="M223.1 209.3l-5.8-3.2-1.3 2.7 5.8 3.3z"/>
<path color="#3d4ec6" d="M226 210.4l-2.9-1.1-1.3 2.8 2.8 1z"/>
<path color="#3c4cc5" d="M228.8 211.6l-2.8-1.2-1.4 2.7 2.9 1.1z"/>
<path color="#3b4ac5" d="M231.7 212.7l-2.9-1.1-1.3 2.6 2.9 1.1z"/>
<path color="#3b48c4" d="M234.6 213.7l-2.9-1-1.3 2.6 2.9 1z"/>
<path color="#3a46c4" d="M237.5 214.9l-2.9-1.2-1.3 2.6 2.8 1.1z"/>
<path color="#3944c3" d="M240.3 216.1l-2.8-1.2-1.4 2.5 2.9 1.2z"/>
<path color="#3740c1" d="M243.2 218.5l-2.9-2.4-1.3 2.5 2.9 2.1z"/>
<path color="#363bbf" d="M246.1 221.4l-2.9-2.9-1.3 2.2 2.9 2.8z"/>
<path color="#3437bc" d="M249 224.6l-2.9-3.2-1.3 2.1 2.8 3.3z"/>
<path color="#3234b9" d="M251.8 227.5l-2.8-2.9-1.4 2.2 2.9 3.1z"/>
<path color="#3131b6" d="M254.7 230l-2.9-2.5-1.3 2.4 2.9 2.5z"/>
<path color="#302fb4" d="M257.6 231.7l-2.9-1.7-1.3 2.4 2.9 2z"/>
<path color="#302fb4" d="M260.5 231.9l-2.9-.2-1.3 2.7 2.8 .7z"/>
<path color="#3130b5" d="M263.3 231l-2.8 .9-1.4 3.2 2.9-.6z"/>
<path color="#3234b9" d="M266.2 228.1l-2.9 2.9-1.3 3.5 2.9-2.7z"/>
<path color="#353abe" d="M269.1 223.5l-2.9 4.6-1.3 3.7 2.9-3.9z"/>
<path color="#3b4ac5" d="M272 215.1l-2.9 8.4-1.3 4.4 2.8-6.4z"/>
<path color="#4665ce" d="M274.8 200.4l-2.8 14.7-1.4 6.4 2.9-12.9z"/>
<path color="#5480d2" d="M277.7 180.7l-2.9 19.7-1.3 8.2 2.9-17.5z"/>
<path color="#6c99d8" d="M280.6 150.5l-2.9 30.2-1.3 10.4 2.9-27.4z"/>
<path color="#c3d9f4" d="M286.3 113.3l-5.7 37.2-1.3 13.2 5.7-47.1z"/>
<path color="#d1e2f6" d="M292.1 107.5l-5.8 5.8-1.3 3.3 5.8-6.7z"/>
<path color="#d7e6f7" d="M297.8 104.5l-5.7 3-1.3 2.4 5.7-3.8z"/>
<path color="#d8e7f8" d="M303.6 103.8l-5.8 .7-1.3 1.6 5.8-.7z"/>
<path color="#dae8f8" d="M309.3 103.2l-5.7 .6-1.3 1.6 5.7-.6z"/>
<path color="#dae8f8" d="M315.1 103.4l-5.8-.2-1.3 1.6 5.8-.1z"/>
<path color="#dae8f8" d="M320.8 103.6l-5.7-.2-1.3 1.3 5.7 .2z"/>
<path color="#dbe8f8" d="M326.6 103.8l-5.8-.2-1.3 1.3 5.8 .3z"/>
<path color="#dbe9f8" d="M332.3 104l-5.7-.2-1.3 1.4 5.7 .2z"/>
<path color="#e9f2fb" d="M55 81.3l-5.7-2.7-1.4 1.9 5.8 2.8z"/>
<path color="#e7f1fa" d="M60.8 84.1l-5.8-2.8-1.3 2 5.7 2.8z"/>
<path color="#e4effa" d="M66.5 86.9l-5.7-2.8-1.4 2 5.8 2.8z"/>
<path color="#e0ecf9" d="M72.3 89.6l-5.8-2.7-1.3 2 5.7 2.9z"/>
<path color="#dbe8f8" d="M78 92.7l-5.7-3.1-1.4 2.2 5.8 3z"/>
<path color="#d5e5f7" d="M83.8 95.9l-5.8-3.2-1.3 2.1 5.7 3.2z"/>
<path color="#cfe1f6" d="M89.5 99.4l-5.7-3.5-1.4 2.1 5.8 3.5z"/>
<path color="#caddf5" d="M95.3 102.9l-5.8-3.5-1.3 2.1 5.7 3.5z"/>
<path color="#c1d7f3" d="M101 106.1l-5.7-3.2-1.4 2.1 5.8 3.3z"/>
<path color="#b8d1f0" d="M106.8 109.2l-5.8-3.1-1.3 2.2 5.7 3.1z"/>
<path color="#afcbee" d="M112.5 112.3l-5.7-3.1-1.4 2.2 5.8 3z"/>
<path color="#a3c2ea" d="M118.3 116.5l-5.8-4.2-1.3 2.1 5.7 4.3z"/>
<path color="#96b9e6" d="M124 120.9l-5.7-4.4-1.4 2.2 5.8 4.4z"/>
<path color="#8eb3e3" d="M129.8 125.4l-5.8-4.5-1.3 2.2 5.7 4.5z"/>
<path color="#86ade0" d="M135.5 130.5l-5.7-5.1-1.4 2.2 5.8 5.1z"/>
<path color="#7da6dd" d="M141.3 135.6l-5.8-5.1-1.3 2.2 5.7 5.2z"/>
<path color="#74a0db" d="M147 140.6l-5.7-5-1.4 2.3 5.8 5.1z"/>
<path color="#6c99d8" d="M152.8 145.6l-5.8-5-1.3 2.4 5.7 5z"/>
<path color="#6393d5" d="M158.5 150.8l-5.7-5.2-1.4 2.4 5.8 5.2z"/>
<path color="#5f8fd4" d="M164.3 155.8l-5.8-5-1.3 2.4 5.7 5.1z"/>
<path color="#5d8bd3" d="M170 160.7l-5.7-4.9-1.4 2.5 5.8 4.8z"/>
<path color="#5a88d3" d="M175.8 165.5l-5.8-4.8-1.3 2.4 5.7 4.9z"/>
<path color="#5785d3" d="M181.5 171.2l-5.7-5.7-1.4 2.5 5.8 5.6z"/>
<path color="#5480d2" d="M187.3 177.4l-5.8-6.2-1.3 2.4 5.7 6.2z"/>
<path color="#5078d1" d="M193 184.1l-5.7-6.7-1.4 2.4 5.8 6.7z"/>
<path color="#4a6ecf" d="M198.8 192l-5.8-7.9-1.3 2.4 5.7 7.9z"/>
<path color="#4665cd" d="M204.5 198.9l-5.7-6.9-1.4 2.4 5.8 7z"/>
<path color="#425ccb" d="M210.3 204.4l-5.8-5.5-1.3 2.5 5.7 5.7z"/>
<path color="#3f54c8" d="M216 208.8l-5.7-4.4-1.4 2.7 5.8 4.4z"/>
<path color="#3d4ec6" d="M221.8 212.1l-5.8-3.3-1.3 2.7 5.7 3.4z"/>
<path color="#3c4cc6" d="M224.6 213.1l-2.8-1-1.4 2.8 2.9 .9z"/>
<path color="#3b4bc5" d="M227.5 214.2l-2.9-1.1-1.3 2.7 2.9 1z"/>
<path color="#3b49c4" d="M230.4 215.3l-2.9-1.1-1.3 2.6 2.9 1z"/>
<path color="#3a47c4" d="M233.3 216.3l-2.9-1-1.3 2.5 2.8 1z"/>
<path color="#3945c3" d="M236.1 217.4l-2.8-1.1-1.4 2.5 2.9 1.1z"/>
<path color="#3943c3" d="M239 218.6l-2.9-1.2-1.3 2.5 2.9 1.1z"/>
<path color="#3740c1" d="M241.9 220.7l-2.9-2.1-1.3 2.4 2.9 1.9z"/>
<path color="#363bbf" d="M244.8 223.5l-2.9-2.8-1.3 2.2 2.8 2.8z"/>
<path color="#3437bb" d="M247.6 226.8l-2.8-3.3-1.4 2.2 2.9 3.3z"/>
<path color="#3233b8" d="M250.5 229.9l-2.9-3.1-1.3 2.2 2.9 3.2z"/>
<path color="#3130b5" d="M253.4 232.4l-2.9-2.5-1.3 2.3 2.9 2.7z"/>
<path color="#302eb3" d="M256.3 234.4l-2.9-2-1.3 2.5 2.8 2.2z"/>
<path color="#2f2db2" d="M259.1 235.1l-2.8-.7-1.4 2.7 2.9 1.1z"/>
<path color="#302eb3" d="M262 234.5l-2.9 .6-1.3 3.1 2.9-.6z"/>
<path color="#3132b7" d="M264.9 231.8l-2.9 2.7-1.3 3.1 2.9-2.1z"/>
<path color="#3437bb" d="M267.8 227.9l-2.9 3.9-1.3 3.7 2.8-3.3z"/>
<path color="#3841c2" d="M270.6 221.5l-2.8 6.4-1.4 4.3 2.9-5z"/>
<path color="#415aca" d="M273.5 208.6l-2.9 12.9-1.3 5.7 2.9-10.8z"/>
<path color="#4e75d0" d="M276.4 191.1l-2.9 17.5-1.3 7.8 2.9-15.8z"/>
<path color="#5e8dd4" d="M279.3 163.7l-2.9 27.4-1.3 9.5 2.8-22.5z"/>
<path color="#bfd6f2" d="M285 116.6l-5.7 47.1-1.4 14.4 5.8-52.8z"/>
<path color="#d0e1f6" d="M290.8 109.9l-5.8 6.7-1.3 8.7 5.7-13.1z"/>
<path color="#d7e6f8" d="M296.5 106.1l-5.7 3.8-1.4 2.3 5.8-3.8z"/>
<path color="#d9e7f8" d="M302.3 105.4l-5.8 .7-1.3 2.3 5.7-1.4z"/>
<path color="#dbe9f8" d="M308 104.8l-5.7 .6-1.4 1.6 5.8-.7z"/>
<path color="#dbe9f8" d="M313.8 104.7l-5.8 .1-1.3 1.5 5.7-.2z"/>
<path color="#dce9f8" d="M319.5 104.9l-5.7-.2-1.4 1.4 5.8 .2z"/>
<path color="#dce9f8" d="M325.3 105.2l-5.8-.3-1.3 1.4 5.7 .2z"/>
<path color="#dce9f8" d="M331 105.4l-5.7-.2-1.4 1.3 5.8 .2z"/>
<path color="#e9f2fb" d="M53.7 83.3l-5.8-2.8-1.3 2 5.8 2.9z"/>
<path color="#e7f1fa" d="M59.4 86.1l-5.7-2.8-1.3 2.1 5.7 2.8z"/>
<path color="#e4effa" d="M65.2 88.9l-5.8-2.8-1.3 2.1 5.8 2.8z"/>
<path color="#dfecf9" d="M70.9 91.8l-5.7-2.9-1.3 2.1 5.7 2.9z"/>
<path color="#dae8f8" d="M76.7 94.8l-5.8-3-1.3 2.1 5.8 3z"/>
<path color="#d5e5f7" d="M82.4 98l-5.7-3.2-1.3 2.1 5.7 3.2z"/>
<path color="#cfe1f6" d="M88.2 101.5l-5.8-3.5-1.3 2.1 5.8 3.6z"/>
<path color="#c9ddf5" d="M93.9 105l-5.7-3.5-1.3 2.2 5.7 3.5z"/>
<path color="#c1d7f3" d="M99.7 108.3l-5.8-3.3-1.3 2.2 5.8 3.3z"/>
<path color="#b8d1f0" d="M105.4 111.4l-5.7-3.1-1.3 2.2 5.7 3z"/>
<path color="#afcaed" d="M111.2 114.4l-5.8-3-1.3 2.1 5.8 3.1z"/>
<path color="#a2c1ea" d="M116.9 118.7l-5.7-4.3-1.3 2.2 5.7 4.2z"/>
<path color="#95b8e6" d="M122.7 123.1l-5.8-4.4-1.3 2.1 5.8 4.5z"/>
<path color="#8eb3e3" d="M128.4 127.6l-5.7-4.5-1.3 2.2 5.7 4.5z"/>
<path color="#85ace0" d="M134.2 132.7l-5.8-5.1-1.3 2.2 5.8 5.1z"/>
<path color="#7ca6dd" d="M139.9 137.9l-5.7-5.2-1.3 2.2 5.7 5.3z"/>
<path color="#749fda" d="M145.7 143l-5.8-5.1-1.3 2.3 5.8 5.2z"/>
<path color="#6b99d7" d="M151.4 148l-5.7-5-1.3 2.4 5.7 5z"/>
<path color="#6292d4" d="M157.2 153.2l-5.8-5.2-1.3 2.4 5.8 5.2z"/>
<path color="#5f8ed4" d="M162.9 158.3l-5.7-5.1-1.3 2.4 5.7 5.2z"/>
<path color="#5c8bd3" d="M168.7 163.1l-5.8-4.8-1.3 2.5 5.8 4.8z"/>
<path color="#5a88d3" d="M174.4 168l-5.7-4.9-1.3 2.5 5.7 4.9z"/>
<path color="#5784d2" d="M180.2 173.6l-5.8-5.6-1.3 2.5 5.8 5.5z"/>
<path color="#5480d2" d="M185.9 179.8l-5.7-6.2-1.3 2.4 5.7 6.3z"/>
<path color="#4f78d1" d="M191.7 186.5l-5.8-6.7-1.3 2.5 5.8 6.5z"/>
<path color="#4a6dcf" d="M197.4 194.4l-5.7-7.9-1.3 2.3 5.7 8z"/>
<path color="#4564cd" d="M203.2 201.4l-5.8-7-1.3 2.4 5.8 7.1z"/>
<path color="#415bca" d="M208.9 207.1l-5.7-5.7-1.3 2.5 5.7 5.8z"/>
<path color="#3e52c8" d="M214.7 211.5l-5.8-4.4-1.3 2.6 5.8 4.6z"/>
<path color="#3c4dc6" d="M220.4 214.9l-5.7-3.4-1.3 2.8 5.7 3.4z"/>
<path color="#3c4bc5" d="M223.3 215.8l-2.9-.9-1.3 2.8 2.9 .9z"/>
<path color="#3b49c5" d="M226.2 216.8l-2.9-1-1.3 2.8 2.9 .9z"/>
<path color="#3a48c4" d="M229.1 217.8l-2.9-1-1.3 2.7 2.8 .9z"/>
<path color="#3a46c3" d="M231.9 218.8l-2.8-1-1.4 2.6 2.9 1z"/>
<path color="#3944c3" d="M234.8 219.9l-2.9-1.1-1.3 2.6 2.9 1z"/>
<path color="#3842c2" d="M237.7 221l-2.9-1.1-1.3 2.5 2.9 1.1z"/>
<path color="#373fc1" d="M240.6 222.9l-2.9-1.9-1.3 2.5 2.8 1.6z"/>
<path color="#353bbf" d="M243.4 225.7l-2.8-2.8-1.4 2.2 2.9 2.8z"/>
<path color="#3437bb" d="M246.3 229l-2.9-3.3-1.3 2.2 2.9 3.2z"/>
<path color="#3233b8" d="M249.2 232.2l-2.9-3.2-1.3 2.1 2.9 3.5z"/>
<path color="#302fb5" d="M252.1 234.9l-2.9-2.7-1.3 2.4 2.8 2.7z"/>
<path color="#2f2db2" d="M254.9 237.1l-2.8-2.2-1.4 2.4 2.9 2.4z"/>
<path color="#2f2cb1" d="M257.8 238.2l-2.9-1.1-1.3 2.6 2.9 1.6z"/>
<path color="#2f2db2" d="M260.7 237.6l-2.9 .6-1.3 3.1 2.9-.5z"/>
<path color="#302fb5" d="M263.6 235.5l-2.9 2.1-1.3 3.2 2.8-1.6z"/>
<path color="#3234b9" d="M266.4 232.2l-2.8 3.3-1.4 3.7 2.9-2.8z"/>
<path color="#353bbf" d="M269.3 227.2l-2.9 5-1.3 4.2 2.9-4.9z"/>
<path color="#3d4fc6" d="M272.2 216.4l-2.9 10.8-1.3 4.3 2.9-8.7z"/>
<path color="#486ace" d="M275.1 200.6l-2.9 15.8-1.3 6.4 2.8-14.3z"/>
<path color="#5885d3" d="M277.9 178.1l-2.8 22.5-1.4 7.9 2.9-18.8z"/>
<path color="#a9c7ec" d="M283.7 125.3l-5.8 52.8-1.3 11.6 5.8-54.3z"/>
<path color="#cfe1f6" d="M289.4 112.2l-5.7 13.1-1.3 10.1 5.7-21z"/>
<path color="#d7e6f7" d="M295.2 108.4l-5.8 3.8-1.3 2.2 5.8-4.3z"/>
<path color="#dae8f8" d="M300.9 107l-5.7 1.4-1.3 1.7 5.7-2.2z"/>
<path color="#dce9f8" d="M306.7 106.3l-5.8 .7-1.3 .9 5.8-.6z"/>
<path color="#ddeaf8" d="M312.4 106.1l-5.7 .2-1.3 1 5.7-.6z"/>
<path color="#ddeaf8" d="M318.2 106.3l-5.8-.2-1.3 .6 5.8 .3z"/>
<path color="#ddeaf8" d="M323.9 106.5l-5.7-.2-1.3 .7 5.7 .2z"/>
<path color="#ddeaf9" d="M329.7 106.7l-5.8-.2-1.3 .7 5.8 .3z"/>
<path color="#e9f2fb" d="M52.4 85.4l-5.8-2.9-1.3 2 5.7 2.9z"/>
<path color="#e7f1fa" d="M58.1 88.2l-5.7-2.8-1.4 2 5.8 2.8z"/>
<path color="#e4eefa" d="M63.9 91l-5.8-2.8-1.3 2 5.7 2.9z"/>
<path color="#dfebf9" d="M69.6 93.9l-5.7-2.9-1.4 2.1 5.8 2.9z"/>
<path color="#dae8f8" d="M75.4 96.9l-5.8-3-1.3 2.1 5.7 3z"/>
<path color="#d5e4f7" d="M81.1 100.1l-5.7-3.2-1.4 2.1 5.8 3.2z"/>
<path color="#cfe1f6" d="M86.9 103.7l-5.8-3.6-1.3 2.1 5.7 3.5z"/>
<path color="#c9ddf5" d="M92.6 107.2l-5.7-3.5-1.4 2 5.8 3.6z"/>
<path color="#c0d6f3" d="M98.4 110.5l-5.8-3.3-1.3 2.1 5.7 3.3z"/>
<path color="#b7d0f0" d="M104.1 113.5l-5.7-3-1.4 2.1 5.8 3z"/>
<path color="#aecaed" d="M109.9 116.6l-5.8-3.1-1.3 2.1 5.7 3.1z"/>
<path color="#a1c1e9" d="M115.6 120.8l-5.7-4.2-1.4 2.1 5.8 4.1z"/>
<path color="#95b8e6" d="M121.4 125.3l-5.8-4.5-1.3 2 5.7 4.6z"/>
<path color="#8db2e3" d="M127.1 129.8l-5.7-4.5-1.4 2.1 5.8 4.5z"/>
<path color="#85ace0" d="M132.9 134.9l-5.8-5.1-1.3 2.1 5.7 5.2z"/>
<path color="#7ca5dd" d="M138.6 140.2l-5.7-5.3-1.4 2.2 5.8 5.2z"/>
<path color="#739eda" d="M144.4 145.4l-5.8-5.2-1.3 2.1 5.7 5.3z"/>
<path color="#6a98d7" d="M150.1 150.4l-5.7-5-1.4 2.2 5.8 5.1z"/>
<path color="#6191d4" d="M155.9 155.6l-5.8-5.2-1.3 2.3 5.7 5.2z"/>
<path color="#5f8ed4" d="M161.6 160.8l-5.7-5.2-1.4 2.3 5.8 5.2z"/>
<path color="#5c8bd3" d="M167.4 165.6l-5.8-4.8-1.3 2.3 5.7 4.8z"/>
<path color="#5a88d3" d="M173.1 170.5l-5.7-4.9-1.4 2.3 5.8 4.9z"/>
<path color="#5784d2" d="M178.9 176l-5.8-5.5-1.3 2.3 5.7 5.4z"/>
<path color="#5480d2" d="M184.6 182.3l-5.7-6.3-1.4 2.2 5.8 6.2z"/>
<path color="#4f77d1" d="M190.4 188.8l-5.8-6.5-1.3 2.1 5.7 6.4z"/>
<path color="#4a6dcf" d="M196.1 196.8l-5.7-8-1.4 2 5.8 8.1z"/>
<path color="#4563cd" d="M201.9 203.9l-5.8-7.1-1.3 2.1 5.7 7.2z"/>
<path color="#4159ca" d="M207.6 209.7l-5.7-5.8-1.4 2.2 5.8 6.1z"/>
<path color="#3e51c7" d="M213.4 214.3l-5.8-4.6-1.3 2.5 5.7 4.7z"/>
<path color="#3c4bc5" d="M219.1 217.7l-5.7-3.4-1.4 2.6 5.8 3.3z"/>
<path color="#3b49c5" d="M222 218.6l-2.9-.9-1.3 2.5 2.9 1.1z"/>
<path color="#3a48c4" d="M224.9 219.5l-2.9-.9-1.3 2.7 2.8 .8z"/>
<path color="#3a46c4" d="M227.7 220.4l-2.8-.9-1.4 2.6 2.9 .9z"/>
<path color="#3945c3" d="M230.6 221.4l-2.9-1-1.3 2.6 2.9 .9z"/>
<path color="#3943c2" d="M233.5 222.4l-2.9-1-1.3 2.5 2.9 .9z"/>
<path color="#3841c2" d="M236.4 223.5l-2.9-1.1-1.3 2.4 2.8 1.1z"/>
<path color="#373fc1" d="M239.2 225.1l-2.8-1.6-1.4 2.4 2.9 1.1z"/>
<path color="#353abe" d="M242.1 227.9l-2.9-2.8-1.3 1.9 2.9 2.8z"/>
<path color="#3336bb" d="M245 231.1l-2.9-3.2-1.3 1.9 2.9 3.1z"/>
<path color="#3232b7" d="M247.9 234.6l-2.9-3.5-1.3 1.8 2.8 3.5z"/>
<path color="#302fb4" d="M250.7 237.3l-2.8-2.7-1.4 1.8 2.9 3z"/>
<path color="#2f2cb1" d="M253.6 239.7l-2.9-2.4-1.3 2.1 2.9 2.7z"/>
<path color="#2e2ab0" d="M256.5 241.3l-2.9-1.6-1.3 2.4 2.9 1.8z"/>
<path color="#2e2bb1" d="M259.4 240.8l-2.9 .5-1.3 2.6 2.8 .1z"/>
<path color="#2f2db3" d="M262.2 239.2l-2.8 1.6-1.4 3.2 2.9-.8z"/>
<path color="#3131b6" d="M265.1 236.4l-2.9 2.8-1.3 4 2.9-2.7z"/>
<path color="#3437bc" d="M268 231.5l-2.9 4.9-1.3 4.1 2.9-3.9z"/>
<path color="#3a46c4" d="M270.9 222.8l-2.9 8.7-1.3 5.1 2.8-5.5z"/>
<path color="#4462cd" d="M273.7 208.5l-2.8 14.3-1.4 8.3 2.9-11.8z"/>
<path color="#527cd1" d="M276.6 189.7l-2.9 18.8-1.3 10.8 2.9-15.6z"/>
<path color="#92b6e5" d="M282.4 135.4l-5.8 54.3-1.3 14 5.7-51.7z"/>
<path color="#cfe1f6" d="M288.1 114.4l-5.7 21-1.4 16.6 5.8-33.9z"/>
<path color="#d7e6f8" d="M293.9 110.1l-5.8 4.3-1.3 3.7 5.7-5.7z"/>
<path color="#dce9f8" d="M299.6 107.9l-5.7 2.2-1.4 2.3 5.8-3.4z"/>
<path color="#ddeaf9" d="M305.4 107.3l-5.8 .6-1.3 1.1 5.7-.6z"/>
<path color="#dfebf9" d="M311.1 106.7l-5.7 .6-1.4 1.1 5.8-.6z"/>
<path color="#dfebf9" d="M316.9 107l-5.8-.3-1.3 1.1 5.7-.1z"/>
<path color="#dfebf9" d="M322.6 107.2l-5.7-.2-1.4 .7 5.8 .3z"/>
<path color="#dfecf9" d="M328.4 107.5l-5.8-.3-1.3 .8 5.7 .2z"/>
<path color="#e9f2fb" d="M51 87.4l-5.7-2.9-1.3 2 5.7 2.9z"/>
<path color="#e7f1fa" d="M56.8 90.2l-5.8-2.8-1.3 2 5.8 2.9z"/>
<path color="#e3eefa" d="M62.5 93.1l-5.7-2.9-1.3 2.1 5.7 2.9z"/>
<path color="#dfebf9" d="M68.3 96l-5.8-2.9-1.3 2.1 5.8 2.9z"/>
<path color="#dae8f8" d="M74 99l-5.7-3-1.3 2.1 5.7 3z"/>
<path color="#d4e4f7" d="M79.8 102.2l-5.8-3.2-1.3 2.1 5.8 3.2z"/>
<path color="#cfe0f6" d="M85.5 105.7l-5.7-3.5-1.3 2.1 5.7 3.5z"/>
<path color="#c9dcf5" d="M91.3 109.3l-5.8-3.6-1.3 2.1 5.8 3.6z"/>
<path color="#bfd6f2" d="M97 112.6l-5.7-3.3-1.3 2.1 5.7 3.3z"/>
<path color="#b7d0f0" d="M102.8 115.6l-5.8-3-1.3 2.1 5.8 3z"/>
<path color="#aecaed" d="M108.5 118.7l-5.7-3.1-1.3 2.1 5.7 3.1z"/>
<path color="#a1c1e9" d="M114.3 122.8l-5.8-4.1-1.3 2.1 5.8 4.1z"/>
<path color="#95b8e6" d="M120 127.4l-5.7-4.6-1.3 2.1 5.7 4.5z"/>
<path color="#8db2e3" d="M125.8 131.9l-5.8-4.5-1.3 2 5.8 4.6z"/>
<path color="#84ace0" d="M131.5 137.1l-5.7-5.2-1.3 2.1 5.7 5.2z"/>
<path color="#7ba5dd" d="M137.3 142.3l-5.8-5.2-1.3 2.1 5.8 5.3z"/>
<path color="#729eda" d="M143 147.6l-5.7-5.3-1.3 2.2 5.7 5.3z"/>
<path color="#6a98d7" d="M148.8 152.7l-5.8-5.1-1.3 2.2 5.8 5.2z"/>
<path color="#6191d4" d="M154.5 157.9l-5.7-5.2-1.3 2.3 5.7 5.2z"/>
<path color="#5e8ed4" d="M160.3 163.1l-5.8-5.2-1.3 2.3 5.8 5.2z"/>
<path color="#5c8ad3" d="M166 167.9l-5.7-4.8-1.3 2.3 5.7 4.8z"/>
<path color="#5a87d3" d="M171.8 172.8l-5.8-4.9-1.3 2.3 5.8 4.9z"/>
<path color="#5784d2" d="M177.5 178.2l-5.7-5.4-1.3 2.3 5.7 5.2z"/>
<path color="#547fd2" d="M183.3 184.4l-5.8-6.2-1.3 2.1 5.8 6.3z"/>
<path color="#4f77d0" d="M189 190.8l-5.7-6.4-1.3 2.2 5.7 6.4z"/>
<path color="#4a6ccf" d="M194.8 198.9l-5.8-8.1-1.3 2.2 5.8 7.9z"/>
<path color="#4463cd" d="M200.5 206.1l-5.7-7.2-1.3 2 5.7 7.5z"/>
<path color="#4058ca" d="M206.3 212.2l-5.8-6.1-1.3 2.3 5.8 6.3z"/>
<path color="#3d50c7" d="M212 216.9l-5.7-4.7-1.3 2.5 5.7 4.9z"/>
<path color="#3b4ac5" d="M217.8 220.2l-5.8-3.3-1.3 2.7 5.8 3.2z"/>
<path color="#3a48c4" d="M220.7 221.3l-2.9-1.1-1.3 2.6 2.8 1.2z"/>
<path color="#3a47c4" d="M223.5 222.1l-2.8-.8-1.4 2.7 2.9 .8z"/>
<path color="#3945c3" d="M226.4 223l-2.9-.9-1.3 2.7 2.9 .8z"/>
<path color="#3944c3" d="M229.3 223.9l-2.9-.9-1.3 2.6 2.9 .8z"/>
<path color="#3842c2" d="M232.2 224.8l-2.9-.9-1.3 2.5 2.8 .8z"/>
<path color="#3841c2" d="M235 225.9l-2.8-1.1-1.4 2.4 2.9 1.1z"/>
<path color="#373fc1" d="M237.9 227l-2.9-1.1-1.3 2.4 2.9 1.1z"/>
<path color="#353abf" d="M240.8 229.8l-2.9-2.8-1.3 2.4 2.9 2.3z"/>
<path color="#3437bb" d="M243.7 232.9l-2.9-3.1-1.3 1.9 2.8 2.9z"/>
<path color="#3232b7" d="M246.5 236.4l-2.8-3.5-1.4 1.7 2.9 3.6z"/>
<path color="#302fb4" d="M249.4 239.4l-2.9-3-1.3 1.8 2.9 3.2z"/>
<path color="#2e2bb1" d="M252.3 242.1l-2.9-2.7-1.3 2 2.9 2.8z"/>
<path color="#2e29af" d="M255.2 243.9l-2.9-1.8-1.3 2.1 2.8 2.2z"/>
<path color="#2e29af" d="M258 244l-2.8-.1-1.4 2.5 2.9 .8z"/>
<path color="#2e2bb0" d="M260.9 243.2l-2.9 .8-1.3 3.2 2.9-.5z"/>
<path color="#302eb4" d="M263.8 240.5l-2.9 2.7-1.3 3.5 2.9-2.1z"/>
<path color="#3233b8" d="M266.7 236.6l-2.9 3.9-1.3 4.1 2.8-2.9z"/>
<path color="#353bbf" d="M269.5 231.1l-2.8 5.5-1.4 5.1 2.9-4.8z"/>
<path color="#3e51c7" d="M272.4 219.3l-2.9 11.8-1.3 5.8 2.9-8.7z"/>
<path color="#496ccf" d="M275.3 203.7l-2.9 15.6-1.3 8.9 2.9-13.8z"/>
<path color="#78a2dc" d="M281 152l-5.7 51.7-1.3 10.7 5.7-44.8z"/>
<path color="#ccdef6" d="M286.8 118.1l-5.8 33.9-1.3 17.6 5.8-46.3z"/>
<path color="#d7e6f7" d="M292.5 112.4l-5.7 5.7-1.3 5.2 5.7-8.7z"/>
<path color="#ddeaf9" d="M298.3 109l-5.8 3.4-1.3 2.2 5.8-3.6z"/>
<path color="#dfebf9" d="M304 108.4l-5.7 .6-1.3 2 5.7-1.6z"/>
<path color="#e1ecf9" d="M309.8 107.8l-5.8 .6-1.3 1 5.8-.5z"/>
<path color="#e1edf9" d="M315.5 107.7l-5.7 .1-1.3 1.1 5.7-.5z"/>
<path color="#e1edf9" d="M321.3 108l-5.8-.3-1.3 .7 5.8 .3z"/>
<path color="#e2edf9" d="M327 108.2l-5.7-.2-1.3 .7 5.7 .2z"/>
<path color="#e9f2fb" d="M49.7 89.4l-5.7-2.9-1.4 2 5.8 2.9z"/>
<path color="#e7f1fa" d="M55.5 92.3l-5.8-2.9-1.3 2 5.7 2.9z"/>
<path color="#e3eefa" d="M61.2 95.2l-5.7-2.9-1.4 2 5.8 2.9z"/>
<path color="#deebf9" d="M67 98.1l-5.8-2.9-1.3 2 5.7 2.9z"/>
<path color="#dae8f8" d="M72.7 101.1l-5.7-3-1.4 2 5.8 3z"/>
<path color="#d4e4f7" d="M78.5 104.3l-5.8-3.2-1.3 2 5.7 3.1z"/>
<path color="#cee0f6" d="M84.2 107.8l-5.7-3.5-1.4 1.9 5.8 3.5z"/>
<path color="#c8dcf5" d="M90 111.4l-5.8-3.6-1.3 1.9 5.7 3.6z"/>
<path color="#bfd6f2" d="M95.7 114.7l-5.7-3.3-1.4 1.9 5.8 3.3z"/>
<path color="#b6cff0" d="M101.5 117.7l-5.8-3-1.3 1.9 5.7 3z"/>
<path color="#adc9ed" d="M107.2 120.8l-5.7-3.1-1.4 1.9 5.8 3z"/>
<path color="#a1c1e9" d="M113 124.9l-5.8-4.1-1.3 1.8 5.7 3.9z"/>
<path color="#94b8e5" d="M118.7 129.4l-5.7-4.5-1.4 1.6 5.8 4.5z"/>
<path color="#8db2e3" d="M124.5 134l-5.8-4.6-1.3 1.6 5.7 4.6z"/>
<path color="#84abe0" d="M130.2 139.2l-5.7-5.2-1.4 1.6 5.8 5z"/>
<path color="#7ba5dd" d="M136 144.5l-5.8-5.3-1.3 1.4 5.7 5.3z"/>
<path color="#729eda" d="M141.7 149.8l-5.7-5.3-1.4 1.4 5.8 5.4z"/>
<path color="#6997d7" d="M147.5 155l-5.8-5.2-1.3 1.5 5.7 5.2z"/>
<path color="#6191d4" d="M153.2 160.2l-5.7-5.2-1.4 1.5 5.8 5.1z"/>
<path color="#5e8dd4" d="M159 165.4l-5.8-5.2-1.3 1.4 5.7 5.3z"/>
<path color="#5c8ad3" d="M164.7 170.2l-5.7-4.8-1.4 1.5 5.8 4.8z"/>
<path color="#5987d3" d="M170.5 175.1l-5.8-4.9-1.3 1.5 5.7 4.8z"/>
<path color="#5784d2" d="M176.2 180.3l-5.7-5.2-1.4 1.4 5.8 4.8z"/>
<path color="#537fd2" d="M182 186.6l-5.8-6.3-1.3 1 5.7 6.3z"/>
<path color="#4f77d0" d="M187.7 193l-5.7-6.4-1.4 1 5.8 6.3z"/>
<path color="#496ccf" d="M193.5 200.9l-5.8-7.9-1.3 .9 5.7 7.3z"/>
<path color="#4463cd" d="M199.2 208.4l-5.7-7.5-1.4 .3 5.8 7.9z"/>
<path color="#4057c9" d="M205 214.7l-5.8-6.3-1.3 .7 5.7 6.9z"/>
<path color="#3d4ec6" d="M210.7 219.6l-5.7-4.9-1.4 1.3 5.8 4.9z"/>
<path color="#3b49c4" d="M216.5 222.8l-5.8-3.2-1.3 1.3 5.7 3.8z"/>
<path color="#3a47c4" d="M219.3 224l-2.8-1.2-1.4 1.9 2.9 1.5z"/>
<path color="#3945c3" d="M222.2 224.8l-2.9-.8-1.3 2.2 2.9 1z"/>
<path color="#3944c3" d="M225.1 225.6l-2.9-.8-1.3 2.4 2.9 .7z"/>
<path color="#3943c2" d="M228 226.4l-2.9-.8-1.3 2.3 2.8 .7z"/>
<path color="#3842c2" d="M230.8 227.2l-2.8-.8-1.4 2.2 2.9 .8z"/>
<path color="#3740c1" d="M233.7 228.3l-2.9-1.1-1.3 2.2 2.9 .8z"/>
<path color="#373ec1" d="M236.6 229.4l-2.9-1.1-1.3 1.9 2.9 1z"/>
<path color="#353bbf" d="M239.5 231.7l-2.9-2.3-1.3 1.8 2.8 1.1z"/>
<path color="#3437bb" d="M242.3 234.6l-2.8-2.9-1.4 .6 2.9 2.5z"/>
<path color="#3233b7" d="M245.2 238.2l-2.9-3.6-1.3 .2 2.9 3z"/>
<path color="#302fb4" d="M248.1 241.4l-2.9-3.2-1.3-.4 2.9 3.6z"/>
<path color="#2e2bb1" d="M251 244.2l-2.9-2.8-1.3 0 2.8 3.3z"/>
<path color="#2d29ae" d="M253.8 246.4l-2.8-2.2-1.4 .5 2.9 2.8z"/>
<path color="#2d28ae" d="M256.7 247.2l-2.9-.8-1.3 1.1 2.9 2.1z"/>
<path color="#2d29ae" d="M259.6 246.7l-2.9 .5-1.3 2.4 2.9 .7z"/>
<path color="#2f2cb1" d="M262.5 244.6l-2.9 2.1-1.3 3.6 2.8-.5z"/>
<path color="#302fb5" d="M265.3 241.7l-2.8 2.9-1.4 5.2 2.9-2z"/>
<path color="#3336ba" d="M268.2 236.9l-2.9 4.8-1.3 6.1 2.9-2.7z"/>
<path color="#3944c3" d="M271.1 228.2l-2.9 8.7-1.3 8.2 2.9-4.8z"/>
<path color="#435fcc" d="M274 214.4l-2.9 13.8-1.3 12.1 2.8-7.8z"/>
<path color="#5f8fd4" d="M279.7 169.6l-5.7 44.8-1.4 18.1 5.8-29.3z"/>
<path color="#c4d9f4" d="M285.5 123.3l-5.8 46.3-1.3 33.6 5.7-51.3z"/>
<path color="#d6e5f7" d="M291.2 114.6l-5.7 8.7-1.4 28.6 5.8-31.8z"/>
<path color="#ddeaf9" d="M297 111l-5.8 3.6-1.3 5.5 5.7-5.6z"/>
<path color="#e1ecf9" d="M302.7 109.4l-5.7 1.6-1.4 3.5 5.8-3.6z"/>
<path color="#e2edf9" d="M308.5 108.9l-5.8 .5-1.3 1.5 5.7-.7z"/>
<path color="#e4eefa" d="M314.2 108.4l-5.7 .5-1.4 1.3 5.8-.5z"/>
<path color="#e4eefa" d="M320 108.7l-5.8-.3-1.3 1.3 5.7-.3z"/>
<path color="#e4effa" d="M325.7 108.9l-5.7-.2-1.4 .7 5.8 .3z"/>
<path color="#e9f2fb" d="M48.4 91.4l-5.8-2.9-1.3 2 5.8 2.9z"/>
<path color="#e7f0fa" d="M54.1 94.3l-5.7-2.9-1.3 2 5.7 2.9z"/>
<path color="#e3eefa" d="M59.9 97.2l-5.8-2.9-1.3 2 5.8 2.8z"/>
<path color="#deebf9" d="M65.6 100.1l-5.7-2.9-1.3 1.9 5.7 2.9z"/>
<path color="#d9e8f8" d="M71.4 103.1l-5.8-3-1.3 1.9 5.8 3z"/>
<path color="#d4e4f7" d="M77.1 106.2l-5.7-3.1-1.3 1.9 5.7 3z"/>
<path color="#cee0f6" d="M82.9 109.7l-5.8-3.5-1.3 1.8 5.8 3.4z"/>
<path color="#c9dcf5" d="M88.6 113.3l-5.7-3.6-1.3 1.7 5.7 3.5z"/>
<path color="#bfd6f2" d="M94.4 116.6l-5.8-3.3-1.3 1.6 5.8 3.4z"/>
<path color="#b6d0f0" d="M100.1 119.6l-5.7-3-1.3 1.7 5.7 3z"/>
<path color="#aec9ed" d="M105.9 122.6l-5.8-3-1.3 1.7 5.8 2.9z"/>
<path color="#a2c1ea" d="M111.6 126.5l-5.7-3.9-1.3 1.6 5.7 3.5z"/>
<path color="#95b8e6" d="M117.4 131l-5.8-4.5-1.3 1.2 5.8 4.5z"/>
<path color="#8db2e3" d="M123.1 135.6l-5.7-4.6-1.3 1.2 5.7 4.5z"/>
<path color="#85ace0" d="M128.9 140.6l-5.8-5-1.3 1.1 5.8 4.7z"/>
<path color="#7ca5dd" d="M134.6 145.9l-5.7-5.3-1.3 .8 5.7 5.3z"/>
<path color="#739eda" d="M140.4 151.3l-5.8-5.4-1.3 .8 5.8 5.3z"/>
<path color="#6a98d7" d="M146.1 156.5l-5.7-5.2-1.3 .7 5.7 5.2z"/>
<path color="#6191d4" d="M151.9 161.6l-5.8-5.1-1.3 .7 5.8 5.2z"/>
<path color="#5e8ed4" d="M157.6 166.9l-5.7-5.3-1.3 .8 5.7 5.1z"/>
<path color="#5c8bd3" d="M163.4 171.7l-5.8-4.8-1.3 .6 5.8 5z"/>
<path color="#5a87d3" d="M169.1 176.5l-5.7-4.8-1.3 .8 5.7 4.7z"/>
<path color="#5784d3" d="M174.9 181.3l-5.8-4.8-1.3 .7 5.8 4.7z"/>
<path color="#5480d2" d="M180.6 187.6l-5.7-6.3-1.3 .6 5.7 5.5z"/>
<path color="#5078d1" d="M186.4 193.9l-5.8-6.3-1.3-.2 5.8 6.1z"/>
<path color="#4b6fcf" d="M192.1 201.2l-5.7-7.3-1.3-.4 5.7 6.3z"/>
<path color="#4564cd" d="M197.9 209.1l-5.8-7.9-1.3-1.4 5.8 8.1z"/>
<path color="#4058ca" d="M203.6 216l-5.7-6.9-1.3-1.2 5.7 7.2z"/>
<path color="#3d4fc7" d="M209.4 220.9l-5.8-4.9-1.3-.9 5.8 6.1z"/>
<path color="#3b49c4" d="M215.1 224.7l-5.7-3.8-1.3 .3 5.7 4.7z"/>
<path color="#3a46c3" d="M218 226.2l-2.9-1.5-1.3 1.2 2.9 1.5z"/>
<path color="#3945c3" d="M220.9 227.2l-2.9-1-1.3 1.2 2.9 1.5z"/>
<path color="#3943c3" d="M223.8 227.9l-2.9-.7-1.3 1.7 2.8 1.1z"/>
<path color="#3842c2" d="M226.6 228.6l-2.8-.7-1.4 2.1 2.9 .7z"/>
<path color="#3841c2" d="M229.5 229.4l-2.9-.8-1.3 2.1 2.9 .7z"/>
<path color="#3740c1" d="M232.4 230.2l-2.9-.8-1.3 2 2.9 .6z"/>
<path color="#373ec1" d="M235.3 231.2l-2.9-1-1.3 1.8 2.8 .7z"/>
<path color="#363cc0" d="M238.1 232.3l-2.8-1.1-1.4 1.5 2.9 1z"/>
<path color="#3539bd" d="M241 234.8l-2.9-2.5-1.3 1.4 2.9 1z"/>
<path color="#3336ba" d="M243.9 237.8l-2.9-3-1.3-.1 2.9 1.6z"/>
<path color="#3131b6" d="M246.8 241.4l-2.9-3.6-1.3-1.5 2.8 2.9z"/>
<path color="#2f2db3" d="M249.6 244.7l-2.8-3.3-1.4-2.2 2.9 3.3z"/>
<path color="#2e2aaf" d="M252.5 247.5l-2.9-2.8-1.3-2.2 2.9 3.6z"/>
<path color="#2d27ad" d="M255.4 249.6l-2.9-2.1-1.3-1.4 2.9 2.9z"/>
<path color="#2c26ac" d="M258.3 250.3l-2.9-.7-1.3-.6 2.8 2.8z"/>
<path color="#2d27ad" d="M261.1 249.8l-2.8 .5-1.4 1.5 2.9 1.7z"/>
<path color="#2e2ab0" d="M264 247.8l-2.9 2-1.3 3.7 2.9-.1z"/>
<path color="#302eb3" d="M266.9 245.1l-2.9 2.7-1.3 5.6 2.9-.7z"/>
<path color="#3234b9" d="M269.8 240.3l-2.9 4.8-1.3 7.6 2.8-2.6z"/>
<path color="#3740c1" d="M272.6 232.5l-2.8 7.8-1.4 9.8 2.9-3.2z"/>
<path color="#4d72d0" d="M278.4 203.2l-5.8 29.3-1.3 14.4 5.8-13.9z"/>
<path color="#7fa8de" d="M284.1 151.9l-5.7 51.3-1.3 29.8 5.7-30.6z"/>
<path color="#d0e1f6" d="M289.9 120.1l-5.8 31.8-1.3 50.5 5.8-51.3z"/>
<path color="#dae8f8" d="M295.6 114.5l-5.7 5.6-1.3 31 5.7-30z"/>
<path color="#e1edf9" d="M301.4 110.9l-5.8 3.6-1.3 6.6 5.8-5.5z"/>
<path color="#e3eefa" d="M307.1 110.2l-5.7 .7-1.3 4.7 5.7-3.5z"/>
<path color="#e5effa" d="M312.9 109.7l-5.8 .5-1.3 1.9 5.8-.8z"/>
<path color="#e6f0fa" d="M318.6 109.4l-5.7 .3-1.3 1.6 5.7-.5z"/>
<path color="#e6f0fa" d="M324.4 109.7l-5.8-.3-1.3 1.4 5.8-.4z"/>
<path color="#e9f2fb" d="M47.1 93.4l-5.8-2.9-1.3 2 5.8 2.8z"/>
<path color="#e7f0fa" d="M52.8 96.3l-5.7-2.9-1.3 1.9 5.7 2.9z"/>
<path color="#e3eefa" d="M58.6 99.1l-5.8-2.8-1.3 1.9 5.8 2.9z"/>
<path color="#deebf9" d="M64.3 102l-5.7-2.9-1.3 2 5.7 2.9z"/>
<path color="#dae8f8" d="M70.1 105l-5.8-3-1.3 2 5.8 2.8z"/>
<path color="#d5e4f7" d="M75.8 108l-5.7-3-1.3 1.8 5.7 2.9z"/>
<path color="#cfe1f6" d="M81.6 111.4l-5.8-3.4-1.3 1.7 5.7 3.5z"/>
<path color="#c9ddf5" d="M87.3 114.9l-5.7-3.5-1.4 1.8 5.8 3.4z"/>
<path color="#c0d6f3" d="M93.1 118.3l-5.8-3.4-1.3 1.7 5.8 3.5z"/>
<path color="#b7d0f0" d="M98.8 121.3l-5.7-3-1.3 1.8 5.7 2.9z"/>
<path color="#afcaed" d="M104.6 124.2l-5.8-2.9-1.3 1.7 5.7 2.9z"/>
<path color="#a5c3ea" d="M110.3 127.7l-5.7-3.5-1.4 1.7 5.8 3z"/>
<path color="#97bae6" d="M116.1 132.2l-5.8-4.5-1.3 1.2 5.8 4.4z"/>
<path color="#8fb4e4" d="M121.8 136.7l-5.7-4.5-1.3 1.1 5.7 4.5z"/>
<path color="#87aee1" d="M127.6 141.4l-5.8-4.7-1.3 1.1 5.8 4.5z"/>
<path color="#7ea7de" d="M133.3 146.7l-5.7-5.3-1.3 .9 5.7 5.2z"/>
<path color="#75a0db" d="M139.1 152l-5.8-5.3-1.3 .8 5.8 5.3z"/>
<path color="#6c99d8" d="M144.8 157.2l-5.7-5.2-1.3 .8 5.7 5.2z"/>
<path color="#6393d5" d="M150.6 162.4l-5.8-5.2-1.3 .8 5.7 5.1z"/>
<path color="#5f8fd4" d="M156.3 167.5l-5.7-5.1-1.4 .7 5.8 5.1z"/>
<path color="#5d8bd3" d="M162.1 172.5l-5.8-5-1.3 .7 5.8 5.1z"/>
<path color="#5a88d3" d="M167.8 177.2l-5.7-4.7-1.3 .8 5.7 4.6z"/>
<path color="#5885d3" d="M173.6 181.9l-5.8-4.7-1.3 .7 5.7 4.6z"/>
<path color="#5582d2" d="M179.3 187.4l-5.7-5.5-1.4 .6 5.8 4.7z"/>
<path color="#517bd1" d="M185.1 193.5l-5.8-6.1-1.3-.2 5.8 6.1z"/>
<path color="#4d73d0" d="M190.8 199.8l-5.7-6.3-1.3-.2 5.7 6.1z"/>
<path color="#4869ce" d="M196.6 207.9l-5.8-8.1-1.3-.4 5.7 7.1z"/>
<path color="#435ecc" d="M202.3 215.1l-5.7-7.2-1.4-1.4 5.8 7.8z"/>
<path color="#3e53c8" d="M208.1 221.2l-5.8-6.1-1.3-.8 5.8 6.8z"/>
<path color="#3b4ac5" d="M213.8 225.9l-5.7-4.7-1.3-.1 5.7 5.1z"/>
<path color="#3a48c4" d="M216.7 227.4l-2.9-1.5-1.3 .3 2.9 2.4z"/>
<path color="#3945c3" d="M219.6 228.9l-2.9-1.5-1.3 1.2 2.8 1.6z"/>
<path color="#3943c2" d="M222.4 230l-2.8-1.1-1.4 1.3 2.9 1.4z"/>
<path color="#3842c2" d="M225.3 230.7l-2.9-.7-1.3 1.6 2.9 1.4z"/>
<path color="#3841c2" d="M228.2 231.4l-2.9-.7-1.3 2.3 2.9 .6z"/>
<path color="#3840c1" d="M231.1 232l-2.9-.6-1.3 2.2 2.8 .5z"/>
<path color="#373fc1" d="M233.9 232.7l-2.8-.7-1.4 2.1 2.9 .6z"/>
<path color="#373ec1" d="M236.8 233.7l-2.9-1-1.3 2 2.9 .6z"/>
<path color="#363cc0" d="M239.7 234.7l-2.9-1-1.3 1.6 2.9 .8z"/>
<path color="#353abe" d="M242.6 236.3l-2.9-1.6-1.3 1.4 2.8 1z"/>
<path color="#3336bb" d="M245.4 239.2l-2.8-2.9-1.4 .8 2.9 1z"/>
<path color="#3232b7" d="M248.3 242.5l-2.9-3.3-1.3-1.1 2.9 2.6z"/>
<path color="#302eb3" d="M251.2 246.1l-2.9-3.6-1.3-1.8 2.9 3z"/>
<path color="#2e2ab0" d="M254.1 249l-2.9-2.9-1.3-2.4 2.9 3.5z"/>
<path color="#2d27ad" d="M256.9 251.8l-2.8-2.8-1.3-1.8 2.8 3.4z"/>
<path color="#2c25ab" d="M259.8 253.5l-2.9-1.7-1.3-1.2 2.9 2.8z"/>
<path color="#2c26ab" d="M262.7 253.4l-2.9 .1-1.3-.1 2.9 2.3z"/>
<path color="#2c27ac" d="M265.6 252.7l-2.9 .7-1.3 2.3 2.8 1.2z"/>
<path color="#2e2ab0" d="M268.4 250.1l-2.8 2.6-1.4 4.2 2.9-.5z"/>
<path color="#302eb4" d="M271.3 246.9l-2.9 3.2-1.3 6.3 2.9-1.3z"/>
<path color="#3943c2" d="M277.1 233l-5.8 13.9-1.3 8.2 5.8-6.4z"/>
<path color="#4f76d0" d="M282.8 202.4l-5.7 30.6-1.3 15.7 5.7-15.1z"/>
<path color="#85ace0" d="M288.6 151.1l-5.8 51.3-1.3 31.2 5.7-31.9z"/>
<path color="#d2e3f7" d="M294.3 121.1l-5.7 30-1.4 50.6 5.8-51.1z"/>
<path color="#ddeaf8" d="M300.1 115.6l-5.8 5.5-1.3 29.5 5.8-28.5z"/>
<path color="#e3eefa" d="M305.8 112.1l-5.7 3.5-1.3 6.5 5.7-5.4z"/>
<path color="#e5f0fa" d="M311.6 111.3l-5.8 .8-1.3 4.6 5.7-3.4z"/>
<path color="#e6f0fa" d="M317.3 110.8l-5.7 .5-1.4 2 5.8-.9z"/>
<path color="#e7f1fa" d="M323.1 110.4l-5.8 .4-1.3 1.6 5.8-.5z"/></g>
<g id="axA"><line x1="40.0" y1="275.0" x2="40.0" y2="79.0" stroke="#8a8a8a" stroke-width="1.1"/>
<line x1="40.0" y1="275.0" x2="327.5" y2="290.3" stroke="#555" stroke-width="0.8" fill="none"/>
<line x1="327.5" y1="290.3" x2="380.4" y2="212.0" stroke="#555" stroke-width="0.8" fill="none"/>
<line x1="33.0" y1="275.0" x2="40.0" y2="275.0" stroke="#555" stroke-width="0.8" fill="none"/>
<text x="28.3" y="277.6" text-anchor="end" class="tk">0.2</text>
<line x1="33.0" y1="250.5" x2="40.0" y2="250.5" stroke="#555" stroke-width="0.8" fill="none"/>
<text x="28.3" y="253.1" text-anchor="end" class="tk">0.3</text>
<line x1="33.0" y1="226.0" x2="40.0" y2="226.0" stroke="#555" stroke-width="0.8" fill="none"/>
<text x="28.3" y="228.6" text-anchor="end" class="tk">0.4</text>
<line x1="33.0" y1="201.5" x2="40.0" y2="201.5" stroke="#555" stroke-width="0.8" fill="none"/>
<text x="28.3" y="204.1" text-anchor="end" class="tk">0.5</text>
<line x1="33.0" y1="177.0" x2="40.0" y2="177.0" stroke="#555" stroke-width="0.8" fill="none"/>
<text x="28.3" y="179.6" text-anchor="end" class="tk">0.6</text>
<line x1="33.0" y1="152.5" x2="40.0" y2="152.5" stroke="#555" stroke-width="0.8" fill="none"/>
<text x="28.3" y="155.1" text-anchor="end" class="tk">0.7</text>
<line x1="33.0" y1="128.0" x2="40.0" y2="128.0" stroke="#555" stroke-width="0.8" fill="none"/>
<text x="28.3" y="130.6" text-anchor="end" class="tk">0.8</text>
<line x1="33.0" y1="103.5" x2="40.0" y2="103.5" stroke="#555" stroke-width="0.8" fill="none"/>
<text x="28.3" y="106.1" text-anchor="end" class="tk">0.9</text>
<line x1="33.0" y1="79.0" x2="40.0" y2="79.0" stroke="#555" stroke-width="0.8" fill="none"/>
<text x="28.3" y="81.6" text-anchor="end" class="tk">1</text>
<line x1="40.0" y1="275.0" x2="35.6" y2="281.2" stroke="#555" stroke-width="0.8" fill="none"/>
<line x1="97.5" y1="278.1" x2="93.1" y2="284.3" stroke="#555" stroke-width="0.8" fill="none"/>
<line x1="155.0" y1="281.1" x2="150.6" y2="287.3" stroke="#555" stroke-width="0.8" fill="none"/>
<line x1="212.5" y1="284.2" x2="208.1" y2="290.4" stroke="#555" stroke-width="0.8" fill="none"/>
<line x1="270.0" y1="287.2" x2="265.6" y2="293.4" stroke="#555" stroke-width="0.8" fill="none"/>
<line x1="327.5" y1="290.3" x2="323.1" y2="296.5" stroke="#555" stroke-width="0.8" fill="none"/>
<line x1="380.4" y1="212.0" x2="387.4" y2="212.4" stroke="#555" stroke-width="0.8" fill="none"/>
<line x1="367.2" y1="231.6" x2="374.2" y2="232.0" stroke="#555" stroke-width="0.8" fill="none"/>
<line x1="353.9" y1="251.2" x2="360.9" y2="251.6" stroke="#555" stroke-width="0.8" fill="none"/>
<line x1="340.7" y1="270.7" x2="347.7" y2="271.1" stroke="#555" stroke-width="0.8" fill="none"/>
<line x1="327.5" y1="290.3" x2="334.5" y2="290.7" stroke="#555" stroke-width="0.8" fill="none"/>
<text x="31.1" y="293.6" text-anchor="middle" class="tk">1</text>
<text x="82.8" y="296.6" text-anchor="middle" class="tk">0.8</text>
<text x="140.3" y="299.8" text-anchor="middle" class="tk">0.6</text>
<text x="198.1" y="302.4" text-anchor="middle" class="tk">0.4</text>
<text x="256.0" y="305.3" text-anchor="middle" class="tk">0.2</text>
<text x="318.5" y="307.9" text-anchor="middle" class="tk">0</text>
<text x="390.8" y="223.1" text-anchor="middle" class="tk">1</text>
<text x="376.8" y="242.3" text-anchor="middle" class="tk">2</text>
<text x="364.2" y="261.3" text-anchor="middle" class="tk">3</text>
<text x="351.2" y="280.6" text-anchor="middle" class="tk">4</text>
<text x="338.2" y="300.2" text-anchor="middle" class="tk">5</text></g>
<text x="0" y="0" transform="translate(11,177) rotate(-90)" text-anchor="middle" style="font-size:10px;fill:#222">r</text>
<text x="233" y="335" text-anchor="middle" style="font-size:13px;fill:#333">p</text>
<text x="381.5" y="275" text-anchor="middle" style="font-size:13px;fill:#333">R<tspan dx="1" dy="4" style="font-size:10px">0</tspan></text>
<text x="6" y="338" text-anchor="middle" class="lab">A</text>
<g id="B"><polyline points="450.0,20.0 471.0,25.1 492.0,34.4 513.0,44.0 534.0,57.3 555.0,73.8 576.0,94.9 578.1,97.4 580.2,99.8 582.3,102.2 584.4,104.6 586.5,107.0 588.6,109.3 590.7,111.6 592.8,113.9 594.9,116.2 597.0,118.4 599.1,120.5 601.2,122.6 603.3,124.7 605.4,126.6 607.5,128.5 609.6,130.3 611.7,131.8 613.8,132.0 615.9,132.0 618.0,132.0 620.1,132.0 622.2,132.0 624.3,132.0 626.4,132.0 628.5,132.0 630.6,132.0 632.7,132.0 634.8,132.0 636.9,132.0 639.0,132.0 641.1,132.0 643.2,132.0 645.3,132.0 647.4,132.0 649.5,132.0 651.6,132.0 653.7,132.0 655.8,132.0 657.9,132.0 660.0,132.0" fill="none" stroke="#c8302c" stroke-width="1"/>
<path d="M450.0 18.4V21.6M447.0 18.4h6M447.0 21.6h6" stroke="#c8302c" stroke-width="0.9" fill="none"/>
<circle cx="450.0" cy="20.0" r="1.1" fill="#8a1c1a"/>
<path d="M471.0 22.7V27.5M468.0 22.7h6M468.0 27.5h6" stroke="#c8302c" stroke-width="0.9" fill="none"/>
<circle cx="471.0" cy="25.1" r="1.1" fill="#8a1c1a"/>
<path d="M492.0 32.0V36.8M489.0 32.0h6M489.0 36.8h6" stroke="#c8302c" stroke-width="0.9" fill="none"/>
<circle cx="492.0" cy="34.4" r="1.1" fill="#8a1c1a"/>
<path d="M513.0 41.6V46.4M510.0 41.6h6M510.0 46.4h6" stroke="#c8302c" stroke-width="0.9" fill="none"/>
<circle cx="513.0" cy="44.0" r="1.1" fill="#8a1c1a"/>
<path d="M534.0 54.9V59.7M531.0 54.9h6M531.0 59.7h6" stroke="#c8302c" stroke-width="0.9" fill="none"/>
<circle cx="534.0" cy="57.3" r="1.1" fill="#8a1c1a"/>
<path d="M555.0 71.8V75.7M552.0 71.8h6M552.0 75.7h6" stroke="#c8302c" stroke-width="0.9" fill="none"/>
<circle cx="555.0" cy="73.8" r="1.1" fill="#8a1c1a"/>
<path d="M576.0 93.3V96.5M573.0 93.3h6M573.0 96.5h6" stroke="#c8302c" stroke-width="0.9" fill="none"/>
<circle cx="576.0" cy="94.9" r="1.1" fill="#8a1c1a"/>
<path d="M578.1 95.8V99.0M575.1 95.8h6M575.1 99.0h6" stroke="#c8302c" stroke-width="0.9" fill="none"/>
<circle cx="578.1" cy="97.4" r="1.1" fill="#8a1c1a"/>
<path d="M580.2 98.2V101.4M577.2 98.2h6M577.2 101.4h6" stroke="#c8302c" stroke-width="0.9" fill="none"/>
<circle cx="580.2" cy="99.8" r="1.1" fill="#8a1c1a"/>
<path d="M582.3 100.6V103.8M579.3 100.6h6M579.3 103.8h6" stroke="#c8302c" stroke-width="0.9" fill="none"/>
<circle cx="582.3" cy="102.2" r="1.1" fill="#8a1c1a"/>
<path d="M584.4 103.0V106.2M581.4 103.0h6M581.4 106.2h6" stroke="#c8302c" stroke-width="0.9" fill="none"/>
<circle cx="584.4" cy="104.6" r="1.1" fill="#8a1c1a"/>
<path d="M586.5 105.4V108.6M583.5 105.4h6M583.5 108.6h6" stroke="#c8302c" stroke-width="0.9" fill="none"/>
<circle cx="586.5" cy="107.0" r="1.1" fill="#8a1c1a"/>
<path d="M588.6 107.7V110.9M585.6 107.7h6M585.6 110.9h6" stroke="#c8302c" stroke-width="0.9" fill="none"/>
<circle cx="588.6" cy="109.3" r="1.1" fill="#8a1c1a"/>
<path d="M590.7 110.0V113.2M587.7 110.0h6M587.7 113.2h6" stroke="#c8302c" stroke-width="0.9" fill="none"/>
<circle cx="590.7" cy="111.6" r="1.1" fill="#8a1c1a"/>
<path d="M592.8 112.3V115.5M589.8 112.3h6M589.8 115.5h6" stroke="#c8302c" stroke-width="0.9" fill="none"/>
<circle cx="592.8" cy="113.9" r="1.1" fill="#8a1c1a"/>
<path d="M594.9 114.6V117.8M591.9 114.6h6M591.9 117.8h6" stroke="#c8302c" stroke-width="0.9" fill="none"/>
<circle cx="594.9" cy="116.2" r="1.1" fill="#8a1c1a"/>
<path d="M597.0 116.8V120.0M594.0 116.8h6M594.0 120.0h6" stroke="#c8302c" stroke-width="0.9" fill="none"/>
<circle cx="597.0" cy="118.4" r="1.1" fill="#8a1c1a"/>
<path d="M599.1 118.9V122.1M596.1 118.9h6M596.1 122.1h6" stroke="#c8302c" stroke-width="0.9" fill="none"/>
<circle cx="599.1" cy="120.5" r="1.1" fill="#8a1c1a"/>
<path d="M601.2 121.0V124.2M598.2 121.0h6M598.2 124.2h6" stroke="#c8302c" stroke-width="0.9" fill="none"/>
<circle cx="601.2" cy="122.6" r="1.1" fill="#8a1c1a"/>
<path d="M603.3 123.1V126.3M600.3 123.1h6M600.3 126.3h6" stroke="#c8302c" stroke-width="0.9" fill="none"/>
<circle cx="603.3" cy="124.7" r="1.1" fill="#8a1c1a"/>
<path d="M605.4 125.0V128.2M602.4 125.0h6M602.4 128.2h6" stroke="#c8302c" stroke-width="0.9" fill="none"/>
<circle cx="605.4" cy="126.6" r="1.1" fill="#8a1c1a"/>
<path d="M607.5 126.9V130.1M604.5 126.9h6M604.5 130.1h6" stroke="#c8302c" stroke-width="0.9" fill="none"/>
<circle cx="607.5" cy="128.5" r="1.1" fill="#8a1c1a"/>
<path d="M609.6 128.7V131.5M606.6 128.7h6M606.6 131.5h6" stroke="#c8302c" stroke-width="0.9" fill="none"/>
<circle cx="609.6" cy="130.3" r="1.1" fill="#8a1c1a"/>
<path d="M611.7 131.3V131.5M608.7 131.3h6M608.7 131.5h6" stroke="#c8302c" stroke-width="0.9" fill="none"/>
<circle cx="611.7" cy="131.8" r="1.1" fill="#8a1c1a"/>
<path d="M613.8 131.8V131.5M610.8 131.8h6M610.8 131.5h6" stroke="#c8302c" stroke-width="0.9" fill="none"/>
<circle cx="613.8" cy="132.0" r="1.1" fill="#8a1c1a"/>
<path d="M615.9 131.8V131.5M612.9 131.8h6M612.9 131.5h6" stroke="#c8302c" stroke-width="0.9" fill="none"/>
<circle cx="615.9" cy="132.0" r="1.1" fill="#8a1c1a"/>
<path d="M618.0 131.8V131.5M615.0 131.8h6M615.0 131.5h6" stroke="#c8302c" stroke-width="0.9" fill="none"/>
<circle cx="618.0" cy="132.0" r="1.1" fill="#8a1c1a"/>
<path d="M620.1 131.8V131.5M617.1 131.8h6M617.1 131.5h6" stroke="#c8302c" stroke-width="0.9" fill="none"/>
<circle cx="620.1" cy="132.0" r="1.1" fill="#8a1c1a"/>
<path d="M622.2 131.8V131.5M619.2 131.8h6M619.2 131.5h6" stroke="#c8302c" stroke-width="0.9" fill="none"/>
<circle cx="622.2" cy="132.0" r="1.1" fill="#8a1c1a"/>
<path d="M624.3 131.8V131.5M621.3 131.8h6M621.3 131.5h6" stroke="#c8302c" stroke-width="0.9" fill="none"/>
<circle cx="624.3" cy="132.0" r="1.1" fill="#8a1c1a"/>
<path d="M626.4 131.8V131.5M623.4 131.8h6M623.4 131.5h6" stroke="#c8302c" stroke-width="0.9" fill="none"/>
<circle cx="626.4" cy="132.0" r="1.1" fill="#8a1c1a"/>
<path d="M628.5 131.8V131.5M625.5 131.8h6M625.5 131.5h6" stroke="#c8302c" stroke-width="0.9" fill="none"/>
<circle cx="628.5" cy="132.0" r="1.1" fill="#8a1c1a"/>
<path d="M630.6 131.8V131.5M627.6 131.8h6M627.6 131.5h6" stroke="#c8302c" stroke-width="0.9" fill="none"/>
<circle cx="630.6" cy="132.0" r="1.1" fill="#8a1c1a"/>
<path d="M632.7 131.8V131.5M629.7 131.8h6M629.7 131.5h6" stroke="#c8302c" stroke-width="0.9" fill="none"/>
<circle cx="632.7" cy="132.0" r="1.1" fill="#8a1c1a"/>
<path d="M634.8 131.8V131.5M631.8 131.8h6M631.8 131.5h6" stroke="#c8302c" stroke-width="0.9" fill="none"/>
<circle cx="634.8" cy="132.0" r="1.1" fill="#8a1c1a"/>
<path d="M636.9 131.8V131.5M633.9 131.8h6M633.9 131.5h6" stroke="#c8302c" stroke-width="0.9" fill="none"/>
<circle cx="636.9" cy="132.0" r="1.1" fill="#8a1c1a"/>
<path d="M639.0 131.8V131.5M636.0 131.8h6M636.0 131.5h6" stroke="#c8302c" stroke-width="0.9" fill="none"/>
<circle cx="639.0" cy="132.0" r="1.1" fill="#8a1c1a"/>
<path d="M641.1 131.8V131.5M638.1 131.8h6M638.1 131.5h6" stroke="#c8302c" stroke-width="0.9" fill="none"/>
<circle cx="641.1" cy="132.0" r="1.1" fill="#8a1c1a"/>
<path d="M643.2 131.8V131.5M640.2 131.8h6M640.2 131.5h6" stroke="#c8302c" stroke-width="0.9" fill="none"/>
<circle cx="643.2" cy="132.0" r="1.1" fill="#8a1c1a"/>
<path d="M645.3 131.8V131.5M642.3 131.8h6M642.3 131.5h6" stroke="#c8302c" stroke-width="0.9" fill="none"/>
<circle cx="645.3" cy="132.0" r="1.1" fill="#8a1c1a"/>
<path d="M647.4 131.8V131.5M644.4 131.8h6M644.4 131.5h6" stroke="#c8302c" stroke-width="0.9" fill="none"/>
<circle cx="647.4" cy="132.0" r="1.1" fill="#8a1c1a"/>
<path d="M649.5 131.8V131.5M646.5 131.8h6M646.5 131.5h6" stroke="#c8302c" stroke-width="0.9" fill="none"/>
<circle cx="649.5" cy="132.0" r="1.1" fill="#8a1c1a"/>
<path d="M651.6 131.8V131.5M648.6 131.8h6M648.6 131.5h6" stroke="#c8302c" stroke-width="0.9" fill="none"/>
<circle cx="651.6" cy="132.0" r="1.1" fill="#8a1c1a"/>
<path d="M653.7 131.8V131.5M650.7 131.8h6M650.7 131.5h6" stroke="#c8302c" stroke-width="0.9" fill="none"/>
<circle cx="653.7" cy="132.0" r="1.1" fill="#8a1c1a"/>
<path d="M655.8 131.8V131.5M652.8 131.8h6M652.8 131.5h6" stroke="#c8302c" stroke-width="0.9" fill="none"/>
<circle cx="655.8" cy="132.0" r="1.1" fill="#8a1c1a"/>
<path d="M657.9 131.8V131.5M654.9 131.8h6M654.9 131.5h6" stroke="#c8302c" stroke-width="0.9" fill="none"/>
<circle cx="657.9" cy="132.0" r="1.1" fill="#8a1c1a"/>
<path d="M660.0 131.8V131.5M657.0 131.8h6M657.0 131.5h6" stroke="#c8302c" stroke-width="0.9" fill="none"/>
<circle cx="660.0" cy="132.0" r="1.1" fill="#8a1c1a"/>
<polyline points="450.0,11.7 471.0,14.1 492.0,17.1 513.0,21.6 534.0,27.5 555.0,35.2 576.0,46.4 578.1,49.6 580.2,53.1 582.3,56.8 584.4,60.3 586.5,63.5 588.6,66.4 590.7,69.3 592.8,71.8 594.9,74.7 597.0,78.4 599.1,83.2 601.2,89.6 603.3,97.6 605.4,107.2 606.5,112.8 607.5,119.2 608.5,122.4 609.6,123.2 610.6,120.8 611.7,116.0 613.8,95.2 615.9,63.2 618.0,40.8 620.1,32.8 622.2,28.0 624.3,24.5 626.4,22.1 628.5,20.3 630.6,18.9 632.7,17.8 634.8,16.8 636.9,16.0 639.0,15.2 641.1,14.7 643.2,14.2 645.3,13.8 647.4,13.3 649.5,12.8 651.6,12.5 653.7,12.2 655.8,11.8 657.9,11.5 660.0,11.2" fill="none" stroke="#3d3f9c" stroke-width="1"/>
<path d="M450.0 11.0V12.3M447.0 11.0h6M447.0 12.3h6" stroke="#3d3f9c" stroke-width="0.9" fill="none"/>
<circle cx="450.0" cy="11.7" r="1.1" fill="#2a2c70"/>
<path d="M471.0 13.4V14.7M468.0 13.4h6M468.0 14.7h6" stroke="#3d3f9c" stroke-width="0.9" fill="none"/>
<circle cx="471.0" cy="14.1" r="1.1" fill="#2a2c70"/>
<path d="M492.0 16.5V17.8M489.0 16.5h6M489.0 17.8h6" stroke="#3d3f9c" stroke-width="0.9" fill="none"/>
<circle cx="492.0" cy="17.1" r="1.1" fill="#2a2c70"/>
<path d="M513.0 20.8V22.4M510.0 20.8h6M510.0 22.4h6" stroke="#3d3f9c" stroke-width="0.9" fill="none"/>
<circle cx="513.0" cy="21.6" r="1.1" fill="#2a2c70"/>
<path d="M534.0 26.4V28.6M531.0 26.4h6M531.0 28.6h6" stroke="#3d3f9c" stroke-width="0.9" fill="none"/>
<circle cx="534.0" cy="27.5" r="1.1" fill="#2a2c70"/>
<path d="M555.0 33.6V36.8M552.0 33.6h6M552.0 36.8h6" stroke="#3d3f9c" stroke-width="0.9" fill="none"/>
<circle cx="555.0" cy="35.2" r="1.1" fill="#2a2c70"/>
<path d="M576.0 44.0V48.8M573.0 44.0h6M573.0 48.8h6" stroke="#3d3f9c" stroke-width="0.9" fill="none"/>
<circle cx="576.0" cy="46.4" r="1.1" fill="#2a2c70"/>
<path d="M578.1 46.4V52.8M575.1 46.4h6M575.1 52.8h6" stroke="#3d3f9c" stroke-width="0.9" fill="none"/>
<circle cx="578.1" cy="49.6" r="1.1" fill="#2a2c70"/>
<path d="M580.2 49.9V56.3M577.2 49.9h6M577.2 56.3h6" stroke="#3d3f9c" stroke-width="0.9" fill="none"/>
<circle cx="580.2" cy="53.1" r="1.1" fill="#2a2c70"/>
<path d="M582.3 53.3V60.3M579.3 53.3h6M579.3 60.3h6" stroke="#3d3f9c" stroke-width="0.9" fill="none"/>
<circle cx="582.3" cy="56.8" r="1.1" fill="#2a2c70"/>
<path d="M584.4 56.5V64.2M581.4 56.5h6M581.4 64.2h6" stroke="#3d3f9c" stroke-width="0.9" fill="none"/>
<circle cx="584.4" cy="60.3" r="1.1" fill="#2a2c70"/>
<path d="M586.5 59.4V67.7M583.5 59.4h6M583.5 67.7h6" stroke="#3d3f9c" stroke-width="0.9" fill="none"/>
<circle cx="586.5" cy="63.5" r="1.1" fill="#2a2c70"/>
<path d="M588.6 61.9V70.9M585.6 61.9h6M585.6 70.9h6" stroke="#3d3f9c" stroke-width="0.9" fill="none"/>
<circle cx="588.6" cy="66.4" r="1.1" fill="#2a2c70"/>
<path d="M590.7 64.5V74.1M587.7 64.5h6M587.7 74.1h6" stroke="#3d3f9c" stroke-width="0.9" fill="none"/>
<circle cx="590.7" cy="69.3" r="1.1" fill="#2a2c70"/>
<path d="M592.8 66.7V77.0M589.8 66.7h6M589.8 77.0h6" stroke="#3d3f9c" stroke-width="0.9" fill="none"/>
<circle cx="592.8" cy="71.8" r="1.1" fill="#2a2c70"/>
<path d="M594.9 69.3V80.2M591.9 69.3h6M591.9 80.2h6" stroke="#3d3f9c" stroke-width="0.9" fill="none"/>
<circle cx="594.9" cy="74.7" r="1.1" fill="#2a2c70"/>
<path d="M597.0 72.6V84.2M594.0 72.6h6M594.0 84.2h6" stroke="#3d3f9c" stroke-width="0.9" fill="none"/>
<circle cx="597.0" cy="78.4" r="1.1" fill="#2a2c70"/>
<path d="M599.1 76.8V89.6M596.1 76.8h6M596.1 89.6h6" stroke="#3d3f9c" stroke-width="0.9" fill="none"/>
<circle cx="599.1" cy="83.2" r="1.1" fill="#2a2c70"/>
<path d="M601.2 82.4V96.8M598.2 82.4h6M598.2 96.8h6" stroke="#3d3f9c" stroke-width="0.9" fill="none"/>
<circle cx="601.2" cy="89.6" r="1.1" fill="#2a2c70"/>
<path d="M603.3 89.6V105.6M600.3 89.6h6M600.3 105.6h6" stroke="#3d3f9c" stroke-width="0.9" fill="none"/>
<circle cx="603.3" cy="97.6" r="1.1" fill="#2a2c70"/>
<path d="M605.4 97.6V116.8M602.4 97.6h6M602.4 116.8h6" stroke="#3d3f9c" stroke-width="0.9" fill="none"/>
<circle cx="605.4" cy="107.2" r="1.1" fill="#2a2c70"/>
<path d="M606.5 101.6V124.0M603.5 101.6h6M603.5 124.0h6" stroke="#3d3f9c" stroke-width="0.9" fill="none"/>
<circle cx="606.5" cy="112.8" r="1.1" fill="#2a2c70"/>
<path d="M607.5 106.4V131.5M604.5 106.4h6M604.5 131.5h6" stroke="#3d3f9c" stroke-width="0.9" fill="none"/>
<circle cx="607.5" cy="119.2" r="1.1" fill="#2a2c70"/>
<path d="M608.5 114.4V130.4M605.5 114.4h6M605.5 130.4h6" stroke="#3d3f9c" stroke-width="0.9" fill="none"/>
<circle cx="608.5" cy="122.4" r="1.1" fill="#2a2c70"/>
<path d="M609.6 112.8V131.5M606.6 112.8h6M606.6 131.5h6" stroke="#3d3f9c" stroke-width="0.9" fill="none"/>
<circle cx="609.6" cy="123.2" r="1.1" fill="#2a2c70"/>
<path d="M610.6 112.8V128.8M607.6 112.8h6M607.6 128.8h6" stroke="#3d3f9c" stroke-width="0.9" fill="none"/>
<circle cx="610.6" cy="120.8" r="1.1" fill="#2a2c70"/>
<path d="M611.7 106.4V125.6M608.7 106.4h6M608.7 125.6h6" stroke="#3d3f9c" stroke-width="0.9" fill="none"/>
<circle cx="611.7" cy="116.0" r="1.1" fill="#2a2c70"/>
<path d="M613.8 77.6V112.8M610.8 77.6h6M610.8 112.8h6" stroke="#3d3f9c" stroke-width="0.9" fill="none"/>
<circle cx="613.8" cy="95.2" r="1.1" fill="#2a2c70"/>
<path d="M615.9 50.4V76.0M612.9 50.4h6M612.9 76.0h6" stroke="#3d3f9c" stroke-width="0.9" fill="none"/>
<circle cx="615.9" cy="63.2" r="1.1" fill="#2a2c70"/>
<path d="M618.0 29.6V52.0M615.0 29.6h6M615.0 52.0h6" stroke="#3d3f9c" stroke-width="0.9" fill="none"/>
<circle cx="618.0" cy="40.8" r="1.1" fill="#2a2c70"/>
<path d="M620.1 23.2V42.4M617.1 23.2h6M617.1 42.4h6" stroke="#3d3f9c" stroke-width="0.9" fill="none"/>
<circle cx="620.1" cy="32.8" r="1.1" fill="#2a2c70"/>
<path d="M622.2 20.0V36.0M619.2 20.0h6M619.2 36.0h6" stroke="#3d3f9c" stroke-width="0.9" fill="none"/>
<circle cx="622.2" cy="28.0" r="1.1" fill="#2a2c70"/>
<path d="M624.3 18.1V30.9M621.3 18.1h6M621.3 30.9h6" stroke="#3d3f9c" stroke-width="0.9" fill="none"/>
<circle cx="624.3" cy="24.5" r="1.1" fill="#2a2c70"/>
<path d="M626.4 16.5V27.7M623.4 16.5h6M623.4 27.7h6" stroke="#3d3f9c" stroke-width="0.9" fill="none"/>
<circle cx="626.4" cy="22.1" r="1.1" fill="#2a2c70"/>
<path d="M628.5 15.5V25.1M625.5 15.5h6M625.5 25.1h6" stroke="#3d3f9c" stroke-width="0.9" fill="none"/>
<circle cx="628.5" cy="20.3" r="1.1" fill="#2a2c70"/>
<path d="M630.6 14.9V22.9M627.6 14.9h6M627.6 22.9h6" stroke="#3d3f9c" stroke-width="0.9" fill="none"/>
<circle cx="630.6" cy="18.9" r="1.1" fill="#2a2c70"/>
<path d="M632.7 14.6V21.0M629.7 14.6h6M629.7 21.0h6" stroke="#3d3f9c" stroke-width="0.9" fill="none"/>
<circle cx="632.7" cy="17.8" r="1.1" fill="#2a2c70"/>
<path d="M634.8 13.9V19.7M631.8 13.9h6M631.8 19.7h6" stroke="#3d3f9c" stroke-width="0.9" fill="none"/>
<circle cx="634.8" cy="16.8" r="1.1" fill="#2a2c70"/>
<path d="M636.9 13.6V18.4M633.9 13.6h6M633.9 18.4h6" stroke="#3d3f9c" stroke-width="0.9" fill="none"/>
<circle cx="636.9" cy="16.0" r="1.1" fill="#2a2c70"/>
<path d="M639.0 13.3V17.1M636.0 13.3h6M636.0 17.1h6" stroke="#3d3f9c" stroke-width="0.9" fill="none"/>
<circle cx="639.0" cy="15.2" r="1.1" fill="#2a2c70"/>
<path d="M641.1 13.1V16.3M638.1 13.1h6M638.1 16.3h6" stroke="#3d3f9c" stroke-width="0.9" fill="none"/>
<circle cx="641.1" cy="14.7" r="1.1" fill="#2a2c70"/>
<path d="M643.2 12.6V15.8M640.2 12.6h6M640.2 15.8h6" stroke="#3d3f9c" stroke-width="0.9" fill="none"/>
<circle cx="643.2" cy="14.2" r="1.1" fill="#2a2c70"/>
<path d="M645.3 12.5V15.0M642.3 12.5h6M642.3 15.0h6" stroke="#3d3f9c" stroke-width="0.9" fill="none"/>
<circle cx="645.3" cy="13.8" r="1.1" fill="#2a2c70"/>
<path d="M647.4 12.2V14.4M644.4 12.2h6M644.4 14.4h6" stroke="#3d3f9c" stroke-width="0.9" fill="none"/>
<circle cx="647.4" cy="13.3" r="1.1" fill="#2a2c70"/>
<path d="M649.5 11.8V13.8M646.5 11.8h6M646.5 13.8h6" stroke="#3d3f9c" stroke-width="0.9" fill="none"/>
<circle cx="649.5" cy="12.8" r="1.1" fill="#2a2c70"/>
<path d="M651.6 11.7V13.3M648.6 11.7h6M648.6 13.3h6" stroke="#3d3f9c" stroke-width="0.9" fill="none"/>
<circle cx="651.6" cy="12.5" r="1.1" fill="#2a2c70"/>
<path d="M653.7 11.4V13.0M650.7 11.4h6M650.7 13.0h6" stroke="#3d3f9c" stroke-width="0.9" fill="none"/>
<circle cx="653.7" cy="12.2" r="1.1" fill="#2a2c70"/>
<path d="M655.8 11.2V12.5M652.8 11.2h6M652.8 12.5h6" stroke="#3d3f9c" stroke-width="0.9" fill="none"/>
<circle cx="655.8" cy="11.8" r="1.1" fill="#2a2c70"/>
<path d="M657.9 10.9V12.2M654.9 10.9h6M654.9 12.2h6" stroke="#3d3f9c" stroke-width="0.9" fill="none"/>
<circle cx="657.9" cy="11.5" r="1.1" fill="#2a2c70"/>
<path d="M660.0 10.6V11.8M657.0 10.6h6M657.0 11.8h6" stroke="#3d3f9c" stroke-width="0.9" fill="none"/>
<circle cx="660.0" cy="11.2" r="1.1" fill="#2a2c70"/>
<rect x="450" y="4" width="210" height="128" fill="none" stroke="#6a6a6a" stroke-width="1.3"/>
<line x1="450" y1="4" x2="453" y2="4" stroke="#6a6a6a" stroke-width="0.8"/>
<line x1="657" y1="4" x2="660" y2="4" stroke="#6a6a6a" stroke-width="0.8"/>
<text x="447" y="6.5" text-anchor="end" class="tb" fill="#4b4d9e">1.0</text>
<text x="663" y="6.5" class="tb" fill="#cc3a22">0.8</text>
<line x1="450" y1="20" x2="453" y2="20" stroke="#6a6a6a" stroke-width="0.8"/>
<line x1="657" y1="20" x2="660" y2="20" stroke="#6a6a6a" stroke-width="0.8"/>
<text x="447" y="22.5" text-anchor="end" class="tb" fill="#4b4d9e">0.9</text>
<text x="663" y="22.5" class="tb" fill="#cc3a22">0.7</text>
<line x1="450" y1="36" x2="453" y2="36" stroke="#6a6a6a" stroke-width="0.8"/>
<line x1="657" y1="36" x2="660" y2="36" stroke="#6a6a6a" stroke-width="0.8"/>
<text x="447" y="38.5" text-anchor="end" class="tb" fill="#4b4d9e">0.8</text>
<text x="663" y="38.5" class="tb" fill="#cc3a22">0.6</text>
<line x1="450" y1="52" x2="453" y2="52" stroke="#6a6a6a" stroke-width="0.8"/>
<line x1="657" y1="52" x2="660" y2="52" stroke="#6a6a6a" stroke-width="0.8"/>
<text x="447" y="54.5" text-anchor="end" class="tb" fill="#4b4d9e">0.7</text>
<text x="663" y="54.5" class="tb" fill="#cc3a22">0.5</text>
<line x1="450" y1="68" x2="453" y2="68" stroke="#6a6a6a" stroke-width="0.8"/>
<line x1="657" y1="68" x2="660" y2="68" stroke="#6a6a6a" stroke-width="0.8"/>
<text x="447" y="70.5" text-anchor="end" class="tb" fill="#4b4d9e">0.6</text>
<text x="663" y="70.5" class="tb" fill="#cc3a22">0.4</text>
<line x1="450" y1="84" x2="453" y2="84" stroke="#6a6a6a" stroke-width="0.8"/>
<line x1="657" y1="84" x2="660" y2="84" stroke="#6a6a6a" stroke-width="0.8"/>
<text x="447" y="86.5" text-anchor="end" class="tb" fill="#4b4d9e">0.5</text>
<text x="663" y="86.5" class="tb" fill="#cc3a22">0.3</text>
<line x1="450" y1="100" x2="453" y2="100" stroke="#6a6a6a" stroke-width="0.8"/>
<line x1="657" y1="100" x2="660" y2="100" stroke="#6a6a6a" stroke-width="0.8"/>
<text x="447" y="102.5" text-anchor="end" class="tb" fill="#4b4d9e">0.4</text>
<text x="663" y="102.5" class="tb" fill="#cc3a22">0.2</text>
<line x1="450" y1="116" x2="453" y2="116" stroke="#6a6a6a" stroke-width="0.8"/>
<line x1="657" y1="116" x2="660" y2="116" stroke="#6a6a6a" stroke-width="0.8"/>
<text x="447" y="118.5" text-anchor="end" class="tb" fill="#4b4d9e">0.3</text>
<text x="663" y="118.5" class="tb" fill="#cc3a22">0.1</text>
<line x1="450" y1="132" x2="453" y2="132" stroke="#6a6a6a" stroke-width="0.8"/>
<line x1="657" y1="132" x2="660" y2="132" stroke="#6a6a6a" stroke-width="0.8"/>
<text x="447" y="134.5" text-anchor="end" class="tb" fill="#4b4d9e">0.2</text>
<text x="663" y="134.5" class="tb" fill="#cc3a22">0.0</text>
<line x1="450" y1="132" x2="450" y2="129" stroke="#6a6a6a" stroke-width="0.8"/>
<line x1="450" y1="4" x2="450" y2="7" stroke="#6a6a6a" stroke-width="0.8"/>
<text x="450" y="141" text-anchor="middle" class="tb" fill="#222">1.0</text>
<line x1="492" y1="132" x2="492" y2="129" stroke="#6a6a6a" stroke-width="0.8"/>
<line x1="492" y1="4" x2="492" y2="7" stroke="#6a6a6a" stroke-width="0.8"/>
<text x="492" y="141" text-anchor="middle" class="tb" fill="#222">0.8</text>
<line x1="534" y1="132" x2="534" y2="129" stroke="#6a6a6a" stroke-width="0.8"/>
<line x1="534" y1="4" x2="534" y2="7" stroke="#6a6a6a" stroke-width="0.8"/>
<text x="534" y="141" text-anchor="middle" class="tb" fill="#222">0.6</text>
<line x1="576" y1="132" x2="576" y2="129" stroke="#6a6a6a" stroke-width="0.8"/>
<line x1="576" y1="4" x2="576" y2="7" stroke="#6a6a6a" stroke-width="0.8"/>
<text x="576" y="141" text-anchor="middle" class="tb" fill="#222">0.4</text>
<line x1="618" y1="132" x2="618" y2="129" stroke="#6a6a6a" stroke-width="0.8"/>
<line x1="618" y1="4" x2="618" y2="7" stroke="#6a6a6a" stroke-width="0.8"/>
<text x="618" y="141" text-anchor="middle" class="tb" fill="#222">0.2</text>
<line x1="660" y1="132" x2="660" y2="129" stroke="#6a6a6a" stroke-width="0.8"/>
<line x1="660" y1="4" x2="660" y2="7" stroke="#6a6a6a" stroke-width="0.8"/>
<text x="660" y="141" text-anchor="middle" class="tb" fill="#222">0.0</text>
<text x="0" y="0" transform="translate(432,68) rotate(-90)" text-anchor="middle" class="tb" fill="#4b4d9e" style="font-size:8px">r</text>
<text x="0" y="0" transform="translate(682.5,68) rotate(-90)" text-anchor="middle" class="tb" fill="#cc3a22" style="font-size:9.5px">D<tspan style="font-size:6px" dy="1.5">∞</tspan><tspan dy="-1.5">/V</tspan></text>
<text x="555" y="152" text-anchor="middle" class="tb" fill="#222" style="font-size:8.5px">p</text>
<text x="420.5" y="148" text-anchor="middle" class="lab">B</text></g>
<g id="C"><rect x="450.0" y="177.00" width="196.0" height="2.30" fill="url(#h0)"/>
<rect x="450.0" y="179.00" width="196.0" height="2.30" fill="url(#h1)"/>
<rect x="450.0" y="181.00" width="196.0" height="2.30" fill="url(#h2)"/>
<rect x="450.0" y="183.00" width="196.0" height="2.30" fill="url(#h3)"/>
<rect x="450.0" y="185.00" width="196.0" height="2.30" fill="url(#h4)"/>
<rect x="450.0" y="187.00" width="196.0" height="2.30" fill="url(#h5)"/>
<rect x="450.0" y="189.00" width="196.0" height="2.30" fill="url(#h6)"/>
<rect x="450.0" y="191.00" width="196.0" height="2.30" fill="url(#h7)"/>
<rect x="450.0" y="193.00" width="196.0" height="2.30" fill="url(#h8)"/>
<rect x="450.0" y="195.00" width="196.0" height="2.30" fill="url(#h9)"/>
<rect x="450.0" y="197.00" width="196.0" height="2.30" fill="url(#h10)"/>
<rect x="450.0" y="199.00" width="196.0" height="2.30" fill="url(#h11)"/>
<rect x="450.0" y="201.00" width="196.0" height="2.30" fill="url(#h12)"/>
<rect x="450.0" y="203.00" width="196.0" height="2.30" fill="url(#h13)"/>
<rect x="450.0" y="205.00" width="196.0" height="2.30" fill="url(#h14)"/>
<rect x="450.0" y="207.00" width="196.0" height="2.30" fill="url(#h15)"/>
<rect x="450.0" y="209.00" width="196.0" height="2.30" fill="url(#h16)"/>
<rect x="450.0" y="211.00" width="196.0" height="2.30" fill="url(#h17)"/>
<rect x="450.0" y="213.00" width="196.0" height="2.30" fill="url(#h18)"/>
<rect x="450.0" y="215.00" width="196.0" height="2.30" fill="url(#h19)"/>
<rect x="450.0" y="217.00" width="196.0" height="2.30" fill="url(#h20)"/>
<rect x="450.0" y="219.00" width="196.0" height="2.30" fill="url(#h21)"/>
<rect x="450.0" y="221.00" width="196.0" height="2.30" fill="url(#h22)"/>
<rect x="450.0" y="223.00" width="196.0" height="2.30" fill="url(#h23)"/>
<rect x="450.0" y="225.00" width="196.0" height="2.30" fill="url(#h24)"/>
<rect x="450.0" y="227.00" width="196.0" height="2.30" fill="url(#h25)"/>
<rect x="450.0" y="229.00" width="196.0" height="2.30" fill="url(#h26)"/>
<rect x="450.0" y="231.00" width="196.0" height="2.30" fill="url(#h27)"/>
<rect x="450.0" y="233.00" width="196.0" height="2.30" fill="url(#h28)"/>
<rect x="450.0" y="235.00" width="196.0" height="2.30" fill="url(#h29)"/>
<rect x="450.0" y="237.00" width="196.0" height="2.30" fill="url(#h30)"/>
<rect x="450.0" y="239.00" width="196.0" height="2.30" fill="url(#h31)"/>
<rect x="450.0" y="241.00" width="196.0" height="2.30" fill="url(#h32)"/>
<rect x="450.0" y="243.00" width="196.0" height="2.30" fill="url(#h33)"/>
<rect x="450.0" y="245.00" width="196.0" height="2.30" fill="url(#h34)"/>
<rect x="450.0" y="247.00" width="196.0" height="2.30" fill="url(#h35)"/>
<rect x="450.0" y="249.00" width="196.0" height="2.30" fill="url(#h36)"/>
<rect x="450.0" y="251.00" width="196.0" height="2.30" fill="url(#h37)"/>
<rect x="450.0" y="253.00" width="196.0" height="2.30" fill="url(#h38)"/>
<rect x="450.0" y="255.00" width="196.0" height="2.30" fill="url(#h39)"/>
<rect x="450.0" y="257.00" width="196.0" height="2.30" fill="url(#h40)"/>
<rect x="450.0" y="259.00" width="196.0" height="2.30" fill="url(#h41)"/>
<rect x="450.0" y="261.00" width="196.0" height="2.30" fill="url(#h42)"/>
<rect x="450.0" y="263.00" width="196.0" height="2.30" fill="url(#h43)"/>
<rect x="450.0" y="265.00" width="196.0" height="2.30" fill="url(#h44)"/>
<rect x="450.0" y="267.00" width="196.0" height="2.30" fill="url(#h45)"/>
<rect x="450.0" y="269.00" width="196.0" height="2.30" fill="url(#h46)"/>
<rect x="450.0" y="271.00" width="196.0" height="2.30" fill="url(#h47)"/>
<rect x="450.0" y="273.00" width="196.0" height="2.30" fill="url(#h48)"/>
<rect x="450.0" y="275.00" width="196.0" height="2.30" fill="url(#h49)"/>
<rect x="450.0" y="277.00" width="196.0" height="2.30" fill="url(#h50)"/>
<rect x="450.0" y="279.00" width="196.0" height="2.30" fill="url(#h51)"/>
<rect x="450.0" y="281.00" width="196.0" height="2.30" fill="url(#h52)"/>
<rect x="450.0" y="283.00" width="196.0" height="2.30" fill="url(#h53)"/>
<rect x="450.0" y="285.00" width="196.0" height="2.30" fill="url(#h54)"/>
<rect x="450.0" y="287.00" width="196.0" height="2.30" fill="url(#h55)"/>
<rect x="450.0" y="289.00" width="196.0" height="2.30" fill="url(#h56)"/>
<rect x="450.0" y="291.00" width="196.0" height="2.30" fill="url(#h57)"/>
<rect x="450.0" y="293.00" width="196.0" height="2.30" fill="url(#h58)"/>
<rect x="450.0" y="295.00" width="196.0" height="2.30" fill="url(#h59)"/>
<rect x="450.0" y="297.00" width="196.0" height="2.30" fill="url(#h60)"/>
<rect x="450.0" y="299.00" width="196.0" height="2.30" fill="url(#h61)"/>
<rect x="450.0" y="301.00" width="196.0" height="2.30" fill="url(#h62)"/>
<rect x="450.0" y="303.00" width="196.0" height="2.30" fill="url(#h63)"/>
<rect x="450.0" y="305.00" width="196.0" height="2.30" fill="url(#h64)"/>
<rect x="450.0" y="307.00" width="196.0" height="2.30" fill="url(#h65)"/>
<rect x="450.0" y="309.00" width="196.0" height="2.30" fill="url(#h66)"/>
<rect x="450.0" y="311.00" width="196.0" height="2.30" fill="url(#h67)"/>
<rect x="450.0" y="313.00" width="196.0" height="2.30" fill="url(#h68)"/>
<rect x="450.0" y="315.00" width="196.0" height="2.30" fill="url(#h69)"/>
<rect x="450.0" y="317.00" width="196.0" height="2.30" fill="url(#h70)"/>
<rect x="450.0" y="319.00" width="196.0" height="2.30" fill="url(#h71)"/>
<rect x="450.0" y="321.00" width="196.0" height="2.30" fill="url(#h72)"/>
<rect x="450.0" y="323.00" width="196.0" height="2.30" fill="url(#h73)"/>
<rect x="450.0" y="325.00" width="196.0" height="2.30" fill="url(#h74)"/>
<rect x="450.0" y="327.00" width="196.0" height="2.30" fill="url(#h75)"/>
<rect x="654.5" y="177" width="10" height="152" fill="url(#cb)" stroke="#c8c8c8" stroke-width="0.8"/>
<line x1="662.5" y1="315.6" x2="664.5" y2="315.6" stroke="#999" stroke-width="0.6"/>
<text x="666.5" y="318.2" class="tc">0.1</text>
<line x1="662.5" y1="300.6" x2="664.5" y2="300.6" stroke="#999" stroke-width="0.6"/>
<text x="666.5" y="303.2" class="tc">0.2</text>
<line x1="662.5" y1="285.6" x2="664.5" y2="285.6" stroke="#999" stroke-width="0.6"/>
<text x="666.5" y="288.2" class="tc">0.3</text>
<line x1="662.5" y1="270.6" x2="664.5" y2="270.6" stroke="#999" stroke-width="0.6"/>
<text x="666.5" y="273.2" class="tc">0.4</text>
<line x1="662.5" y1="255.6" x2="664.5" y2="255.6" stroke="#999" stroke-width="0.6"/>
<text x="666.5" y="258.2" class="tc">0.5</text>
<line x1="662.5" y1="240.6" x2="664.5" y2="240.6" stroke="#999" stroke-width="0.6"/>
<text x="666.5" y="243.2" class="tc">0.6</text>
<line x1="662.5" y1="225.6" x2="664.5" y2="225.6" stroke="#999" stroke-width="0.6"/>
<text x="666.5" y="228.2" class="tc">0.7</text>
<line x1="662.5" y1="210.6" x2="664.5" y2="210.6" stroke="#999" stroke-width="0.6"/>
<text x="666.5" y="213.2" class="tc">0.8</text>
<line x1="662.5" y1="195.6" x2="664.5" y2="195.6" stroke="#999" stroke-width="0.6"/>
<text x="666.5" y="198.2" class="tc">0.9</text>
<line x1="662.5" y1="180.6" x2="664.5" y2="180.6" stroke="#999" stroke-width="0.6"/>
<text x="666.5" y="183.2" class="tc">1.0</text>
<polyline points="450.0,322.9 451.6,322.9 455.3,322.8 460.4,322.6 466.8,322.4 474.0,322.1 481.8,321.9 489.8,321.5 497.5,321.2 505.5,320.8 513.7,320.4 521.8,320.0 529.3,319.5 535.7,319.0 540.6,318.5 544.9,317.9 548.8,317.3 552.3,316.7 555.4,316.1 558.2,315.4 560.6,314.7 562.6,314.0 564.3,313.3 565.9,312.6 567.6,311.8 569.6,311.0 571.8,310.2 574.2,309.3 576.6,308.4 578.9,307.6 580.8,306.6 582.2,305.7 583.6,304.8 584.9,303.8 586.1,302.8 587.2,301.8 588.3,300.7 589.3,299.7 590.2,298.6 591.0,297.5 591.8,296.4 592.5,295.2 593.1,294.1 593.8,292.9 594.4,291.7 594.9,290.5 595.5,289.3 596.0,288.0 596.4,286.7 596.8,285.4 597.2,284.1 597.6,282.8 597.9,281.5 598.1,280.1 598.4,278.7 598.6,277.3 598.9,275.9 599.1,274.4 599.3,273.0 599.4,271.5 599.6,270.0 599.7,268.5 599.9,267.0 600.0,265.5 600.2,263.9 600.3,262.3 600.4,260.7 600.5,259.1 600.6,257.5 600.7,255.8 600.8,254.2 600.8,252.5 600.9,250.8 601.0,249.1 601.0,247.4 601.1,245.6 601.1,243.9 601.2,242.1 601.3,240.3 601.3,238.5 601.4,236.7 601.4,234.8 601.5,233.0 601.5,231.1 601.6,229.2 601.6,227.3 601.7,225.4 601.7,223.5 601.7,221.5 601.8,219.5 601.8,217.6 601.9,215.6 601.9,213.5 602.0,211.5 602.0,209.5 602.1,207.4 602.1,205.3 602.2,203.2 602.2,201.1 602.3,199.0 602.3,196.9 602.4,194.7 602.4,192.6 602.4,190.4 602.5,188.2 602.5,186.0 602.6,183.8 602.6,181.5 602.6,179.3 602.7,177.0" fill="none" stroke="#222" stroke-width="0.9" stroke-dasharray="2.5 1.5"/>
<circle cx="540.7" cy="313.4" r="2.1" fill="#3f47a6"/>
<circle cx="574.5" cy="303.5" r="2.1" fill="#3f47a6"/>
<circle cx="584.7" cy="293.3" r="2.1" fill="#3f47a6"/>
<circle cx="592.3" cy="284.2" r="2.1" fill="#3f47a6"/>
<circle cx="595.0" cy="274.7" r="2.1" fill="#3f47a6"/>
<circle cx="598.4" cy="264.8" r="2.1" fill="#3f47a6"/>
<circle cx="599.4" cy="254.9" r="2.1" fill="#3f47a6"/>
<circle cx="602.7" cy="245.0" r="2.1" fill="#3f47a6"/>
<circle cx="598.4" cy="235.9" r="2.1" fill="#3f47a6"/>
<circle cx="601.5" cy="226.0" r="2.1" fill="#3f47a6"/>
<circle cx="604.3" cy="215.8" r="2.1" fill="#3f47a6"/>
<circle cx="602.1" cy="206.6" r="2.1" fill="#3f47a6"/>
<circle cx="604.8" cy="196.8" r="2.1" fill="#3f47a6"/>
<circle cx="607.6" cy="186.9" r="2.1" fill="#3f47a6"/>
<circle cx="604.8" cy="177.0" r="2.1" fill="#3f47a6"/>
<rect x="450" y="177" width="196" height="152" fill="none" stroke="#888" stroke-width="0.9"/>
<line x1="450" y1="329.0" x2="452" y2="329.0" stroke="#888" stroke-width="0.7"/>
<text x="448.6" y="331.7" text-anchor="end" class="tc">1</text>
<line x1="450" y1="310.0" x2="452" y2="310.0" stroke="#888" stroke-width="0.7"/>
<text x="448.6" y="312.7" text-anchor="end" class="tc">1.5</text>
<line x1="450" y1="291.0" x2="452" y2="291.0" stroke="#888" stroke-width="0.7"/>
<text x="448.6" y="293.7" text-anchor="end" class="tc">2</text>
<line x1="450" y1="272.0" x2="452" y2="272.0" stroke="#888" stroke-width="0.7"/>
<text x="448.6" y="274.7" text-anchor="end" class="tc">2.5</text>
<line x1="450" y1="253.0" x2="452" y2="253.0" stroke="#888" stroke-width="0.7"/>
<text x="448.6" y="255.7" text-anchor="end" class="tc">3</text>
<line x1="450" y1="234.0" x2="452" y2="234.0" stroke="#888" stroke-width="0.7"/>
<text x="448.6" y="236.7" text-anchor="end" class="tc">3.5</text>
<line x1="450" y1="215.0" x2="452" y2="215.0" stroke="#888" stroke-width="0.7"/>
<text x="448.6" y="217.7" text-anchor="end" class="tc">4</text>
<line x1="450" y1="196.0" x2="452" y2="196.0" stroke="#888" stroke-width="0.7"/>
<text x="448.6" y="198.7" text-anchor="end" class="tc">4.5</text>
<line x1="450" y1="177.0" x2="452" y2="177.0" stroke="#888" stroke-width="0.7"/>
<text x="448.6" y="179.7" text-anchor="end" class="tc">5</text>
<line x1="450.0" y1="329" x2="450.0" y2="327" stroke="#888" stroke-width="0.7"/>
<text x="450.0" y="338" text-anchor="middle" class="tc">1</text>
<line x1="469.6" y1="329" x2="469.6" y2="327" stroke="#888" stroke-width="0.7"/>
<text x="469.6" y="338" text-anchor="middle" class="tc">0.9</text>
<line x1="489.2" y1="329" x2="489.2" y2="327" stroke="#888" stroke-width="0.7"/>
<text x="489.2" y="338" text-anchor="middle" class="tc">0.8</text>
<line x1="508.8" y1="329" x2="508.8" y2="327" stroke="#888" stroke-width="0.7"/>
<text x="508.8" y="338" text-anchor="middle" class="tc">0.7</text>
<line x1="528.4" y1="329" x2="528.4" y2="327" stroke="#888" stroke-width="0.7"/>
<text x="528.4" y="338" text-anchor="middle" class="tc">0.6</text>
<line x1="548.0" y1="329" x2="548.0" y2="327" stroke="#888" stroke-width="0.7"/>
<text x="548.0" y="338" text-anchor="middle" class="tc">0.5</text>
<line x1="567.6" y1="329" x2="567.6" y2="327" stroke="#888" stroke-width="0.7"/>
<text x="567.6" y="338" text-anchor="middle" class="tc">0.4</text>
<line x1="587.2" y1="329" x2="587.2" y2="327" stroke="#888" stroke-width="0.7"/>
<text x="587.2" y="338" text-anchor="middle" class="tc">0.3</text>
<line x1="606.8" y1="329" x2="606.8" y2="327" stroke="#888" stroke-width="0.7"/>
<text x="606.8" y="338" text-anchor="middle" class="tc">0.2</text>
<line x1="626.4" y1="329" x2="626.4" y2="327" stroke="#888" stroke-width="0.7"/>
<text x="626.4" y="338" text-anchor="middle" class="tc">0.1</text>
<line x1="646.0" y1="329" x2="646.0" y2="327" stroke="#888" stroke-width="0.7"/>
<text x="646.0" y="338" text-anchor="middle" class="tc">0</text>
<text x="0" y="0" transform="translate(431.5,254) rotate(-90)" text-anchor="middle" class="tc" style="font-size:9.5px;fill:#333">R<tspan dx="0.3" dy="2.5" style="font-size:6.5px">0</tspan></text>
<text x="548" y="346.5" text-anchor="middle" class="tc" style="font-size:8px">p</text>
<text x="419.5" y="337" text-anchor="middle" class="lab">C</text></g>
</svg>
</body></html>
